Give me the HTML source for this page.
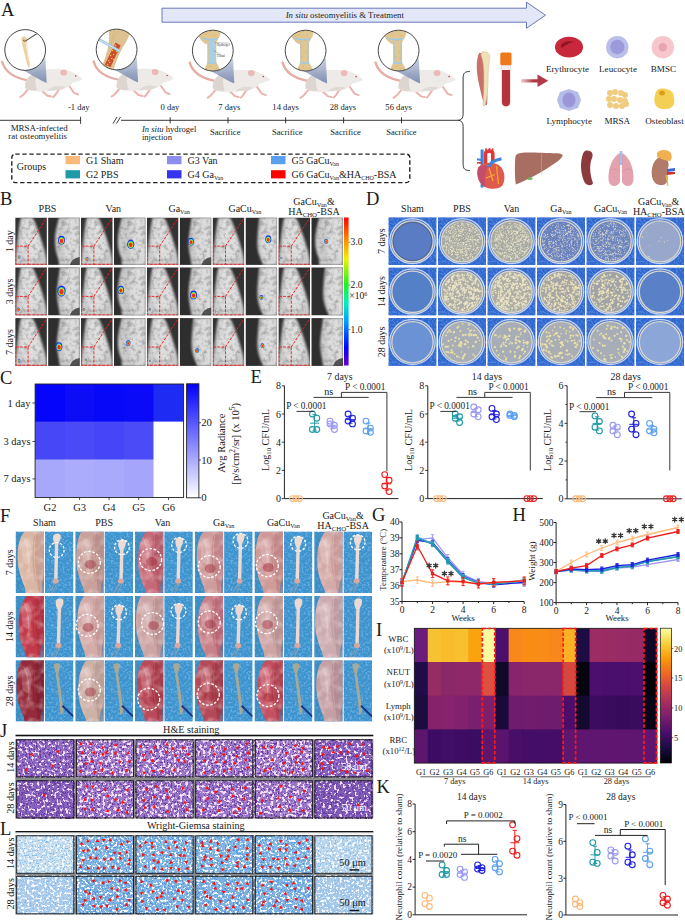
<!DOCTYPE html>
<html><head><meta charset="utf-8"><style>
html,body{margin:0;padding:0;background:#fff;width:685px;height:920px;overflow:hidden}
svg{display:block}
text{font-family:"Liberation Serif",serif;fill:#1a1a1a}
</style></head><body>
<svg width="685" height="920" viewBox="0 0 685 920">
<defs><clipPath id="ratclip"><circle cx="0" cy="0" r="20.2"/></clipPath><linearGradient id="coneG" x1="0" y1="0" x2="0" y2="1"><stop offset="0" stop-color="#c4cde0" stop-opacity="0.9"/><stop offset="1" stop-color="#7486ac" stop-opacity="0.9"/></linearGradient></defs><text x="1" y="15.5" font-size="18.5">A</text><path d="M162,8.2 L526.5,8.2 L526.5,2.2 L545.5,15.2 L526.5,28.3 L526.5,22.2 L162,22.2 Z" fill="#e3e8f8" stroke="#5a6bb0" stroke-width="0.9"/><text x="344.8" y="17.7" font-size="8.8" text-anchor="middle"><tspan font-style="italic">In situ</tspan> osteomyelitis &amp; Treatment</text><g transform="translate(25.2,50)"><path d="M-23,12 C-20,22 -12,28 6,31" fill="none" stroke="#e6aca6" stroke-width="2.4" stroke-linecap="round"/><g fill="none" stroke="#ebb4ae" stroke-width="2" stroke-linecap="round"><path d="M3,39 L-2,45 L-5,47"/><path d="M16,40 L22,45.5 L26,46.5"/><path d="M34,39 L30,45 L28,47"/><path d="M44,36 L49,43 L53,44.5"/></g><path d="M0,38 C-1,30 6,22 18,20 C26,18.5 33,19 39,20 C45,20.5 51,23.5 55,27 L57.5,29.5 C54.5,31 50.5,32 47,33 C44,37 40,39 34,40 L22,41 C13,42 5,42 0,38 Z" fill="#edeae7"/><path d="M0,38 C-1,30 5,23 14,21 C10,26 9,32 12,40 C7,41 3,40.5 0,38Z" fill="#ddd6d0"/><path d="M22,41 C26,36 34,35 40,37 C38,39 36,40 34,40Z" fill="#e0dad4"/><ellipse cx="38.5" cy="22.5" rx="3.4" ry="3.1" fill="#ecbab6"/><circle cx="50.5" cy="26" r="0.8" fill="#c04050"/><path d="M-3,19.8 L20.2,7.5 L21.5,33 L17,31 Z" fill="url(#coneG)"/><circle cx="0" cy="0" r="20.4" fill="#fff"/><g clip-path="url(#ratclip)"><path d="M-3.6,-12 C-1.5,-14.2 1.2,-13.4 1.2,-11 C1.2,-6 2.2,2 3.2,8 C4.2,12 4.6,15 3.6,17.2 C2.4,15 1,10 0,5 C-1.4,-1 -3,-6 -3.6,-12Z" fill="#ebd3a2" stroke="#d8b880" stroke-width="0.4"/><path d="M0.4,-9 C1.6,-4 2.4,4 3.2,11" stroke="#fff6e0" stroke-width="0.6" fill="none"/><circle cx="-1.4" cy="-9.6" r="0.9" fill="#e05050"/><path d="M11.5,-16.2 L-0.6,-8.4" stroke="#555" stroke-width="1.1"/></g><circle cx="0" cy="0" r="20.4" fill="none" stroke="#333" stroke-width="0.9"/></g><g transform="translate(116.6,49.5)"><path d="M-23,12 C-20,22 -12,28 6,31" fill="none" stroke="#e6aca6" stroke-width="2.4" stroke-linecap="round"/><g fill="none" stroke="#ebb4ae" stroke-width="2" stroke-linecap="round"><path d="M3,39 L-2,45 L-5,47"/><path d="M16,40 L22,45.5 L26,46.5"/><path d="M34,39 L30,45 L28,47"/><path d="M44,36 L49,43 L53,44.5"/></g><path d="M0,38 C-1,30 6,22 18,20 C26,18.5 33,19 39,20 C45,20.5 51,23.5 55,27 L57.5,29.5 C54.5,31 50.5,32 47,33 C44,37 40,39 34,40 L22,41 C13,42 5,42 0,38 Z" fill="#edeae7"/><path d="M0,38 C-1,30 5,23 14,21 C10,26 9,32 12,40 C7,41 3,40.5 0,38Z" fill="#ddd6d0"/><path d="M22,41 C26,36 34,35 40,37 C38,39 36,40 34,40Z" fill="#e0dad4"/><ellipse cx="38.5" cy="22.5" rx="3.4" ry="3.1" fill="#ecbab6"/><circle cx="50.5" cy="26" r="0.8" fill="#c04050"/><path d="M-3,19.8 L20.2,7.5 L21.5,33 L17,31 Z" fill="url(#coneG)"/><circle cx="0" cy="0" r="20.4" fill="#fff"/><g clip-path="url(#ratclip)"><path d="M-8,-22 L14,-22 C14,-14 10,-8 6,-2 C3,4 0,10 -3,20 L-15,18 C-12,10 -9,2 -8,-6 C-7,-12 -8,-17 -8,-22 Z" fill="#dcc290"/><path d="M-4,-8 C-2,-14 2,-18 6,-21 M-6,-2 C-5,-10 -3,-16 -2,-21" stroke="#c8a870" stroke-width="0.4" fill="none"/><path d="M-1,-7 L4,-4 L-6,17.5 L-12,15.5 Z" fill="#cc4c2c"/><circle cx="-2" cy="-2" r="0.75" fill="#f2c640"/><circle cx="0" cy="2" r="0.75" fill="#f2c640"/><circle cx="-3" cy="5" r="0.75" fill="#f2c640"/><circle cx="-5" cy="9" r="0.75" fill="#f2c640"/><circle cx="-4" cy="1" r="0.75" fill="#f2c640"/><circle cx="-7" cy="13" r="0.75" fill="#f2c640"/><circle cx="-8" cy="11" r="0.75" fill="#f2c640"/><circle cx="-6" cy="6" r="0.75" fill="#f2c640"/><circle cx="-1" cy="-4" r="0.75" fill="#f2c640"/><circle cx="-9" cy="15" r="0.75" fill="#f2c640"/><circle cx="-3" cy="10" r="0.75" fill="#f2c640"/><path d="M-21,-12 L3,1.5" stroke="#9cc4e0" stroke-width="2.6"/><path d="M-21,-12 L3,1.5" stroke="#e8f4fc" stroke-width="0.8"/></g><circle cx="0" cy="0" r="20.4" fill="none" stroke="#333" stroke-width="0.9"/></g><g transform="translate(212.8,50.6)"><path d="M-23,12 C-20,22 -12,28 6,31" fill="none" stroke="#e6aca6" stroke-width="2.4" stroke-linecap="round"/><g fill="none" stroke="#ebb4ae" stroke-width="2" stroke-linecap="round"><path d="M3,39 L-2,45 L-5,47"/><path d="M16,40 L22,45.5 L26,46.5"/><path d="M34,39 L30,45 L28,47"/><path d="M44,36 L49,43 L53,44.5"/></g><path d="M0,38 C-1,30 6,22 18,20 C26,18.5 33,19 39,20 C45,20.5 51,23.5 55,27 L57.5,29.5 C54.5,31 50.5,32 47,33 C44,37 40,39 34,40 L22,41 C13,42 5,42 0,38 Z" fill="#edeae7"/><path d="M0,38 C-1,30 5,23 14,21 C10,26 9,32 12,40 C7,41 3,40.5 0,38Z" fill="#ddd6d0"/><path d="M22,41 C26,36 34,35 40,37 C38,39 36,40 34,40Z" fill="#e0dad4"/><ellipse cx="38.5" cy="22.5" rx="3.4" ry="3.1" fill="#ecbab6"/><circle cx="50.5" cy="26" r="0.8" fill="#c04050"/><path d="M-3,19.8 L20.2,7.5 L21.5,33 L17,31 Z" fill="url(#coneG)"/><circle cx="0" cy="0" r="20.4" fill="#fff"/><g clip-path="url(#ratclip)"><g transform="translate(3.5,0)"><path d="M-19,-22 L5,-22 C5,-16 2,-12 0,-8 L0,12 C2,15 4,18 4,22 L-12,22 C-12,18 -10,15 -9,12 L-9,-6 C-14,-8 -19,-13 -19,-22 Z" fill="#e2c690"/><g fill="#c8a868"><circle cx="-14" cy="-18" r="0.5"/><circle cx="-10" cy="-16" r="0.5"/><circle cx="-6" cy="-19" r="0.5"/><circle cx="-2" cy="-15" r="0.5"/><circle cx="-12" cy="-12" r="0.5"/><circle cx="-4" cy="-10" r="0.5"/><circle cx="-8" cy="-3" r="0.5"/><circle cx="-3" cy="2" r="0.5"/><circle cx="-7" cy="6" r="0.5"/><circle cx="-2" cy="8" r="0.5"/><circle cx="-6" cy="16" r="0.5"/><circle cx="-10" cy="18" r="0.5"/><circle cx="0" cy="18" r="0.5"/></g><path d="M-15,-13 C-10,-10 -5,-11 1,-12" stroke="#9ccbe6" stroke-width="1.6" fill="none"/><path d="M-9,12 C-6,13 -3,13 0,12" stroke="#9ccbe6" stroke-width="1.6" fill="none"/><path d="M-8,-10 L-1,-10 L-1,12 L-8,12 Z" fill="#a6d0ea"/><path d="M-8,-10 L-8,12 M-1,-10 L-1,12" stroke="#f0c060" stroke-width="0.5"/></g><text x="4" y="-5" font-size="3.4" style="fill:#333">Hydrogel</text><text x="4" y="6" font-size="3.4" style="fill:#333">Tibial</text><path d="M2,-8 L16,-7.5 M1,0 L8,4" stroke="#444" stroke-width="0.3"/></g><circle cx="0" cy="0" r="20.4" fill="none" stroke="#333" stroke-width="0.9"/></g><g transform="translate(305.6,50.6)"><path d="M-23,12 C-20,22 -12,28 6,31" fill="none" stroke="#e6aca6" stroke-width="2.4" stroke-linecap="round"/><g fill="none" stroke="#ebb4ae" stroke-width="2" stroke-linecap="round"><path d="M3,39 L-2,45 L-5,47"/><path d="M16,40 L22,45.5 L26,46.5"/><path d="M34,39 L30,45 L28,47"/><path d="M44,36 L49,43 L53,44.5"/></g><path d="M0,38 C-1,30 6,22 18,20 C26,18.5 33,19 39,20 C45,20.5 51,23.5 55,27 L57.5,29.5 C54.5,31 50.5,32 47,33 C44,37 40,39 34,40 L22,41 C13,42 5,42 0,38 Z" fill="#edeae7"/><path d="M0,38 C-1,30 5,23 14,21 C10,26 9,32 12,40 C7,41 3,40.5 0,38Z" fill="#ddd6d0"/><path d="M22,41 C26,36 34,35 40,37 C38,39 36,40 34,40Z" fill="#e0dad4"/><ellipse cx="38.5" cy="22.5" rx="3.4" ry="3.1" fill="#ecbab6"/><circle cx="50.5" cy="26" r="0.8" fill="#c04050"/><path d="M-3,19.8 L20.2,7.5 L21.5,33 L17,31 Z" fill="url(#coneG)"/><circle cx="0" cy="0" r="20.4" fill="#fff"/><g clip-path="url(#ratclip)"><g transform="translate(3.5,0)"><path d="M-19,-22 L5,-22 C5,-16 2,-12 0,-8 L0,12 C2,15 4,18 4,22 L-12,22 C-12,18 -10,15 -9,12 L-9,-6 C-14,-8 -19,-13 -19,-22 Z" fill="#e2c690"/><g fill="#c8a868"><circle cx="-14" cy="-18" r="0.5"/><circle cx="-10" cy="-16" r="0.5"/><circle cx="-6" cy="-19" r="0.5"/><circle cx="-2" cy="-15" r="0.5"/><circle cx="-12" cy="-12" r="0.5"/><circle cx="-4" cy="-10" r="0.5"/><circle cx="-8" cy="-3" r="0.5"/><circle cx="-3" cy="2" r="0.5"/><circle cx="-7" cy="6" r="0.5"/><circle cx="-2" cy="8" r="0.5"/><circle cx="-6" cy="16" r="0.5"/><circle cx="-10" cy="18" r="0.5"/><circle cx="0" cy="18" r="0.5"/></g><path d="M-15,-13 C-10,-10 -5,-11 1,-12" stroke="#9ccbe6" stroke-width="1.6" fill="none"/><path d="M-9,12 C-6,13 -3,13 0,12" stroke="#9ccbe6" stroke-width="1.6" fill="none"/><path d="M-8,-10 L-8,12 M-1,-10 L-1,12" stroke="#9ccbe6" stroke-width="0.9"/></g></g><circle cx="0" cy="0" r="20.4" fill="none" stroke="#333" stroke-width="0.9"/></g><g transform="translate(398.6,50.6)"><path d="M-23,12 C-20,22 -12,28 6,31" fill="none" stroke="#e6aca6" stroke-width="2.4" stroke-linecap="round"/><g fill="none" stroke="#ebb4ae" stroke-width="2" stroke-linecap="round"><path d="M3,39 L-2,45 L-5,47"/><path d="M16,40 L22,45.5 L26,46.5"/><path d="M34,39 L30,45 L28,47"/><path d="M44,36 L49,43 L53,44.5"/></g><path d="M0,38 C-1,30 6,22 18,20 C26,18.5 33,19 39,20 C45,20.5 51,23.5 55,27 L57.5,29.5 C54.5,31 50.5,32 47,33 C44,37 40,39 34,40 L22,41 C13,42 5,42 0,38 Z" fill="#edeae7"/><path d="M0,38 C-1,30 5,23 14,21 C10,26 9,32 12,40 C7,41 3,40.5 0,38Z" fill="#ddd6d0"/><path d="M22,41 C26,36 34,35 40,37 C38,39 36,40 34,40Z" fill="#e0dad4"/><ellipse cx="38.5" cy="22.5" rx="3.4" ry="3.1" fill="#ecbab6"/><circle cx="50.5" cy="26" r="0.8" fill="#c04050"/><path d="M-3,19.8 L20.2,7.5 L21.5,33 L17,31 Z" fill="url(#coneG)"/><circle cx="0" cy="0" r="20.4" fill="#fff"/><g clip-path="url(#ratclip)"><g transform="translate(3.5,0)"><path d="M-19,-22 L5,-22 C5,-16 2,-12 0,-8 L0,12 C2,15 4,18 4,22 L-12,22 C-12,18 -10,15 -9,12 L-9,-6 C-14,-8 -19,-13 -19,-22 Z" fill="#e2c690"/><g fill="#c8a868"><circle cx="-14" cy="-18" r="0.5"/><circle cx="-10" cy="-16" r="0.5"/><circle cx="-6" cy="-19" r="0.5"/><circle cx="-2" cy="-15" r="0.5"/><circle cx="-12" cy="-12" r="0.5"/><circle cx="-4" cy="-10" r="0.5"/><circle cx="-8" cy="-3" r="0.5"/><circle cx="-3" cy="2" r="0.5"/><circle cx="-7" cy="6" r="0.5"/><circle cx="-2" cy="8" r="0.5"/><circle cx="-6" cy="16" r="0.5"/><circle cx="-10" cy="18" r="0.5"/><circle cx="0" cy="18" r="0.5"/></g><path d="M-15,-13 C-10,-10 -5,-11 1,-12" stroke="#9ccbe6" stroke-width="1.6" fill="none"/><path d="M-9,12 C-6,13 -3,13 0,12" stroke="#9ccbe6" stroke-width="1.6" fill="none"/><path d="M-8,-10 L-8,12 M-1,-10 L-1,12" stroke="#9ccbe6" stroke-width="0.9"/></g></g><circle cx="0" cy="0" r="20.4" fill="none" stroke="#333" stroke-width="0.9"/></g><g stroke="#222" stroke-width="0.9" fill="none"><path d="M0,120.3 L80.6,120.3 M80.6,116.8 L80.6,123.8"/><path d="M121,120.3 L457.5,120.3"/><path d="M113,123.5 L117,117 M116.5,123.5 L120.5,117"/><path d="M170.2,117.3 L170.2,123.3"/><path d="M228,117.3 L228,123.3"/><path d="M285.6,117.3 L285.6,123.3"/><path d="M343.6,117.3 L343.6,123.3"/><path d="M401.5,117.3 L401.5,123.3"/><path d="M469.8,71.5 C465,71.5 463.1,73 463.1,78 L463.1,114 C463.1,118.5 461,120.3 457.5,120.3 C461,120.3 463.1,122 463.1,126.5 L463.1,164 C463.1,169 465,170.5 469.8,170.5"/></g><text x="78.8" y="110" font-size="8.6" text-anchor="middle">-1 day</text><text x="170" y="109.9" font-size="8.6" text-anchor="middle">0 day</text><text x="229.3" y="109.9" font-size="8.6" text-anchor="middle">7 days</text><text x="285.6" y="109.9" font-size="8.6" text-anchor="middle">14 days</text><text x="342.9" y="109.9" font-size="8.6" text-anchor="middle">28 days</text><text x="398.6" y="109.9" font-size="8.6" text-anchor="middle">56 days</text><text x="225.2" y="134.7" font-size="8.6" text-anchor="middle">Sacrifice</text><text x="287.3" y="134.7" font-size="8.6" text-anchor="middle">Sacrifice</text><text x="345.6" y="134.7" font-size="8.6" text-anchor="middle">Sacrifice</text><text x="401.4" y="134.7" font-size="8.6" text-anchor="middle">Sacrifice</text><text x="39.2" y="131.1" font-size="8.95" text-anchor="middle">MRSA-infected</text><text x="37.7" y="139.4" font-size="8.85" text-anchor="middle">rat osteomyelitis</text><text x="141.9" y="132.3" font-size="8.6"><tspan font-style="italic">In situ</tspan> hydrogel</text><text x="141.9" y="139.9" font-size="8.6" text-anchor="start">injection</text><rect x="11.8" y="154.1" width="398" height="28.5" rx="3.5" fill="none" stroke="#222" stroke-width="1.4" stroke-dasharray="4.4,2.6"/><text x="16.8" y="170.2" font-size="10" text-anchor="start">Groups</text><rect x="65.5" y="156" width="14.5" height="8.2" fill="#fdb97a"/><text x="86.0" y="164" font-size="10">G1 Sham</text><rect x="65.5" y="170.2" width="14.5" height="8.2" fill="#1f9aa6"/><text x="86.0" y="178.2" font-size="10">G2 PBS</text><rect x="167" y="156" width="14.5" height="8.2" fill="#8c8cf0"/><text x="187.5" y="164" font-size="10">G3 Van</text><rect x="167" y="170.2" width="14.5" height="8.2" fill="#3434f2"/><text x="187.5" y="178.2" font-size="10">G4 Ga<tspan font-size="6" dy="1.8">Van</tspan></text><rect x="271" y="156" width="14.5" height="8.2" fill="#5aa0f0"/><text x="291.5" y="164" font-size="10">G5 GaCu<tspan font-size="6" dy="1.8">Van</tspan></text><rect x="271" y="170.2" width="14.5" height="8.2" fill="#ff0000"/><text x="291.5" y="178.2" font-size="10">G6 GaCu<tspan font-size="6" dy="1.8">Van</tspan><tspan dy="-1.8">&amp;HA</tspan><tspan font-size="6" dy="1.8">CHO</tspan><tspan dy="-1.8">-BSA</tspan></text><path d="M479,53 C476,60 476,72 479,84 C481,94 483,100 484,105 L487,105 C488,96 487,86 486,76 C485,66 484,58 482,53 Z" fill="#c9706a"/><path d="M482,52 C486,51 490,53 490,57 C489,62 488,70 488,80 C488,90 487,98 485,105.5 L483,105.5 C484,96 484,86 484,76 C484,66 483,60 481,55 Z" fill="#efe0b8" stroke="#d8c290" stroke-width="0.6"/><rect x="500.3" y="52.6" width="11.2" height="12.8" rx="1.5" fill="#f07a1a"/><path d="M501.3,65.4 L510.8,65.4 L510.8,102 C510.8,105.5 508.6,107 506,107 C503.4,107 501.3,105.5 501.3,102 Z" fill="#f4eeee" stroke="#ccc" stroke-width="0.4"/><path d="M502,70 L510,70 L510,102 C510,105 508.3,106.2 506,106.2 C503.7,106.2 502,105 502,102 Z" fill="#b5343c"/><defs><linearGradient id="arrG" x1="0" y1="0" x2="1" y2="0"><stop offset="0" stop-color="#b23a48" stop-opacity="0.25"/><stop offset="0.45" stop-color="#b23a48"/><stop offset="1" stop-color="#b23a48"/></linearGradient></defs><path d="M521,79.2 L537.5,79.2 L537.5,74.5 L548.2,80.8 L537.5,87.1 L537.5,82.4 L521,82.4 Z" fill="url(#arrG)"/><ellipse cx="569" cy="47.2" rx="14" ry="10.4" fill="#c8283c"/><path d="M561,48 C560,42 568,40 574,42 C568,43 565,46 561,48Z" fill="#8e1426"/><circle cx="617.3" cy="47.2" r="11.2" fill="#b9bfea"/><circle cx="617.3" cy="47" r="7.2" fill="#9c9ada"/><circle cx="662.8" cy="47.2" r="11.2" fill="#f6c6cc"/><circle cx="662.8" cy="47.2" r="4.2" fill="#eaa4ae"/><path d="M569,89 L578,92 L581,100 L578,108 L569,111 L560,108 L557,100 L560,92 Z" fill="#b4bce8"/><ellipse cx="569" cy="100" rx="6.5" ry="7.5" fill="#9a96d8"/><g fill="#f0cc80"><circle cx="610" cy="93" r="3"/><circle cx="615" cy="92" r="3"/><circle cx="621" cy="93" r="3"/><circle cx="625" cy="95" r="3"/><circle cx="609" cy="99" r="3"/><circle cx="614" cy="99" r="3"/><circle cx="620" cy="100" r="3"/><circle cx="625" cy="101" r="3"/><circle cx="610" cy="105" r="3"/><circle cx="616" cy="106" r="3"/><circle cx="622" cy="106" r="3"/><circle cx="626" cy="104" r="3"/></g><path d="M657,90 C662,87 670,89 673,93 C674,98 676,103 672,107 C668,110 661,110 657,107 C653,103 654,95 657,90Z" fill="#f3cf54"/><ellipse cx="662" cy="93" rx="3" ry="2.5" fill="#d9a020"/><text x="567.5" y="72" font-size="9.1" text-anchor="middle">Erythrocyte</text><text x="618" y="72" font-size="9.1" text-anchor="middle">Leucocyte</text><text x="663.4" y="72" font-size="9.1" text-anchor="middle">BMSC</text><text x="569.2" y="123.7" font-size="9.1" text-anchor="middle">Lymphocyte</text><text x="617.3" y="123.7" font-size="9.1" text-anchor="middle">MRSA</text><text x="664.5" y="123.7" font-size="9.1" text-anchor="middle">Osteoblast</text><rect x="480.6" y="149.5" width="3" height="18" fill="#3a86dc"/><rect x="480.6" y="175" width="3" height="12.5" fill="#3a86dc"/><path d="M477,159.2 L483,160.2" stroke="#3a86dc" stroke-width="2"/><path d="M477,163 L482,162.6" stroke="#d83a3a" stroke-width="1.6"/><path d="M486,151 L486,148.2 M489.2,150.5 L489.6,148 M492.2,151 L493,148.6" stroke="#e03838" stroke-width="1.6"/><path d="M485.5,166 L485.5,154 C485.5,150.5 492.5,150 492.8,153.5 L492.8,162" stroke="#e03838" stroke-width="3.6" fill="none"/><path d="M478,168 C476,176 479,184 486,187.5 C491,189.5 499,189.5 502.5,185.5 C505.5,180 505,172 501,167 C497,163 490,162 485,163.5 C481,164.5 479,166 478,168 Z" fill="#de5a4c"/><path d="M478,168 C476,176 479,184 486,187.5 C484,181 484,173 488,166 C484,164.5 480,166 478,168Z" fill="#c44c6c"/><path d="M489,168 L493,181 M496.5,166 L498.5,184 M486,178 L495,174.5" stroke="#f0aa30" stroke-width="1.3" fill="none"/><path d="M489,167 C490,162 495,160 501.5,158.8" stroke="#3a86dc" stroke-width="3" fill="none"/><path d="M515.3,157 C515.5,153.5 520,152.4 528,152.4 C536,152.4 548,153 556,153.2 C560,153.2 562.7,154 562.7,156 C561,159 557,162 553,164.5 C545,170 537,175 528,179 C523,181.5 519,183.5 515.8,184.5 C514.6,176 514.8,165 515.3,157 Z" fill="#a96e62"/><path d="M541.5,153.9 C541.5,160 541.2,168 541.8,175" stroke="#d8b090" stroke-width="0.5" fill="none"/><ellipse cx="530" cy="178.5" rx="2.6" ry="1.6" fill="#6db060"/><path d="M586,150.5 C591,150 594,153 592,158 C589,165 590,175 593,183 C592,186 588,186 585,183 C581,176 580,165 582,157 C583,153 584,151 586,150.5Z" fill="#8b3a3e"/><path d="M619.5,153 C613,157 609,166 608.5,176 C608,182 610,186 614,186 C617,186 619,184 620,182 L620.3,156Z" fill="#e3a2ae"/><path d="M622.5,153 C629,157 633,166 633.5,176 C634,182 632,186 628,186 C625,186 623,184 622,182 L621.7,156Z" fill="#e3a2ae"/><path d="M610,170 C614,168 617,169 620,172 M632,170 C628,168 625,169 622,172" stroke="#c88090" stroke-width="0.4" fill="none"/><rect x="619.8" y="151" width="2.4" height="14" fill="#7c9ee0"/><rect x="620.6" y="151" width="0.8" height="14" fill="#e8eef8"/><path d="M660,157 C652,160 650,172 653,180 C656,186 664,187 667,182 C669,178 666,172 668,168 C670,163 667,156 660,157Z" fill="#b27a68"/><path d="M657,153 C660,149 667,149.5 670,152 C672.5,155 672,159 670,161 C666,161 661,159 657,157Z" fill="#f0b050"/><path d="M667,169 L675,168 L675,171 L667,172Z" fill="#3a6ad0"/><path d="M667,172 L675,172 L675,174 L667,175Z" fill="#d03030"/><path d="M666,175 L668,186" stroke="#e0c040" stroke-width="1.2"/><defs><filter id="blur1" x="-10%" y="-10%" width="120%" height="120%" color-interpolation-filters="sRGB"><feGaussianBlur stdDeviation="0.9" result="b"/><feTurbulence type="fractalNoise" baseFrequency="0.22" numOctaves="3" seed="3" result="n"/><feColorMatrix in="n" type="matrix" values="0 0 0 0 0.45  0 0 0 0 0.45  0 0 0 0 0.45  1.3 0 0 0 -0.58" result="dk"/><feComposite in="dk" in2="b" operator="in" result="d2"/><feMerge><feMergeNode in="b"/><feMergeNode in="d2"/></feMerge></filter><linearGradient id="jet" x1="0" y1="1" x2="0" y2="0"><stop offset="0" stop-color="#6a00c8"/><stop offset="0.12" stop-color="#0000ff"/><stop offset="0.3" stop-color="#00a0ff"/><stop offset="0.42" stop-color="#00f0c0"/><stop offset="0.55" stop-color="#20f020"/><stop offset="0.72" stop-color="#f0f000"/><stop offset="0.86" stop-color="#ff8000"/><stop offset="1" stop-color="#ff0000"/></linearGradient></defs><text x="0" y="205" font-size="18.5">B</text><text x="47.5" y="212" font-size="10" text-anchor="middle">PBS</text><text x="113.3" y="212" font-size="10" text-anchor="middle">Van</text><text x="179.09999999999997" y="212" font-size="10" text-anchor="middle">Ga<tspan font-size="6.2" dy="2">Van</tspan></text><text x="244.89999999999998" y="212" font-size="10" text-anchor="middle">GaCu<tspan font-size="6.2" dy="2">Van</tspan></text><text x="313.99999999999994" y="204.5" font-size="10" text-anchor="middle">GaCu<tspan font-size="6.6" dy="2">Van</tspan><tspan dy="-2">&amp;</tspan></text><text x="313.99999999999994" y="214.6" font-size="10" text-anchor="middle">HA<tspan font-size="6.8" dy="2">CHO</tspan><tspan dy="-2">-BSA</tspan></text><text transform="translate(12.8,241.2) rotate(-90)" font-size="10" text-anchor="middle">1 day</text><text transform="translate(12.8,291.40000000000003) rotate(-90)" font-size="10" text-anchor="middle">3 days</text><text transform="translate(12.8,342.0) rotate(-90)" font-size="10" text-anchor="middle">7 days</text><svg x="15.2" y="217.5" width="31.7" height="47.4" viewBox="0 0 32 48" preserveAspectRatio="none"><rect width="32" height="48" fill="#333"/><g filter="url(#blur1)"><path d="M6,0 C4,6 4,12 3,18 C2,26 1,34 0.5,40 C0,44 0,46 0,48 L32,48 C31.5,44 31,38 29.5,33 C28,27 25,18 22,10 C20,5 19,2 17,0 Z" fill="#cdcdcd"/><path d="M8,1 C7,10 6,20 6,30 C7,38 11,44 16,46 C22,46 26,40 26,32 C25,22 21,10 16,1Z" fill="#dedede"/></g><ellipse cx="4" cy="40" rx="1.2" ry="1.56" fill="#1828e8"/><ellipse cx="4" cy="40.12" rx="0.96" ry="1.26" fill="#20c8a0"/><ellipse cx="4" cy="40.18" rx="0.792" ry="1.032" fill="#e8e020"/><ellipse cx="4" cy="40.24" rx="0.6" ry="0.78" fill="#f03010"/><g fill="none" stroke="#f02020" stroke-width="0.95" stroke-dasharray="2.8,1.4"><rect x="0.6" y="29" width="12.4" height="18.4"/><path d="M13,29 L32,0 M13,47.4 L32,47.4"/></g></svg><svg x="48.099999999999994" y="217.5" width="31.7" height="47.4" viewBox="0 0 32 48" preserveAspectRatio="none"><rect width="32" height="48" fill="#2e2e2e"/><g filter="url(#blur1)"><path d="M11,0 C9,8 7,15 7,22 C7,30 8,36 10,41 C11,44 11,46 11,48 L32,48 L32,0 Z" fill="#cbcbcb"/><path d="M19,0 C16,14 15,26 18,48 L32,48 L32,0Z" fill="#dcdcdc"/></g><path d="M22,48 C23,44 26,41 32,40 L32,48Z" fill="#3a3a3a" opacity="0.85"/><ellipse cx="13.5" cy="23" rx="3.4" ry="4.42" fill="#1828e8"/><ellipse cx="13.5" cy="23.34" rx="2.72" ry="3.57" fill="#20c8a0"/><ellipse cx="13.5" cy="23.51" rx="2.244" ry="2.924" fill="#e8e020"/><ellipse cx="13.5" cy="23.68" rx="1.7" ry="2.21" fill="#f03010"/></svg><svg x="81.0" y="217.5" width="31.7" height="47.4" viewBox="0 0 32 48" preserveAspectRatio="none"><rect width="32" height="48" fill="#333"/><g filter="url(#blur1)"><path d="M6,0 C4,6 4,12 3,18 C2,26 1,34 0.5,40 C0,44 0,46 0,48 L32,48 C31.5,44 31,38 29.5,33 C28,27 25,18 22,10 C20,5 19,2 17,0 Z" fill="#cdcdcd"/><path d="M8,1 C7,10 6,20 6,30 C7,38 11,44 16,46 C22,46 26,40 26,32 C25,22 21,10 16,1Z" fill="#dedede"/></g><ellipse cx="6" cy="42" rx="1.4" ry="1.8199999999999998" fill="#1828e8"/><ellipse cx="6" cy="42.14" rx="1.1199999999999999" ry="1.47" fill="#20c8a0"/><ellipse cx="6" cy="42.21" rx="0.9239999999999999" ry="1.204" fill="#e8e020"/><ellipse cx="6" cy="42.28" rx="0.7" ry="0.9099999999999999" fill="#f03010"/><g fill="none" stroke="#f02020" stroke-width="0.95" stroke-dasharray="2.8,1.4"><rect x="0.6" y="29" width="12.4" height="18.4"/><path d="M13,29 L32,0 M13,47.4 L32,47.4"/></g></svg><svg x="113.89999999999999" y="217.5" width="31.7" height="47.4" viewBox="0 0 32 48" preserveAspectRatio="none"><rect width="32" height="48" fill="#2e2e2e"/><g filter="url(#blur1)"><path d="M8,0 C6,8 4,16 4,24 C4,32 6,38 8,42 C8,45 8,47 8,48 L32,48 L32,0 Z" fill="#cbcbcb"/><path d="M19,0 C16,14 15,26 18,48 L32,48 L32,0Z" fill="#dcdcdc"/></g><ellipse cx="17" cy="27" rx="3.6" ry="4.680000000000001" fill="#1828e8"/><ellipse cx="17" cy="27.36" rx="2.8800000000000003" ry="3.7800000000000002" fill="#20c8a0"/><ellipse cx="17" cy="27.54" rx="2.3760000000000003" ry="3.096" fill="#e8e020"/><ellipse cx="17" cy="27.72" rx="1.8" ry="2.3400000000000003" fill="#f03010"/></svg><svg x="146.79999999999998" y="217.5" width="31.7" height="47.4" viewBox="0 0 32 48" preserveAspectRatio="none"><rect width="32" height="48" fill="#333"/><g filter="url(#blur1)"><path d="M6,0 C4,6 4,12 3,18 C2,26 1,34 0.5,40 C0,44 0,46 0,48 L32,48 C31.5,44 31,38 29.5,33 C28,27 25,18 22,10 C20,5 19,2 17,0 Z" fill="#cdcdcd"/><path d="M8,1 C7,10 6,20 6,30 C7,38 11,44 16,46 C22,46 26,40 26,32 C25,22 21,10 16,1Z" fill="#dedede"/></g><g fill="none" stroke="#f02020" stroke-width="0.95" stroke-dasharray="2.8,1.4"><rect x="0.6" y="29" width="12.4" height="18.4"/><path d="M13,29 L32,0 M13,47.4 L32,47.4"/></g></svg><svg x="179.7" y="217.5" width="31.7" height="47.4" viewBox="0 0 32 48" preserveAspectRatio="none"><rect width="32" height="48" fill="#2e2e2e"/><g filter="url(#blur1)"><path d="M12,0 C11,10 9,18 9,26 C9,34 11,40 12,48 L32,48 L32,0 Z" fill="#cbcbcb"/><path d="M19,0 C16,14 15,26 18,48 L32,48 L32,0Z" fill="#dcdcdc"/></g><path d="M22,48 C23,44 26,41 32,40 L32,48Z" fill="#3a3a3a" opacity="0.85"/><ellipse cx="11.4" cy="24.4" rx="3.0" ry="3.9000000000000004" fill="#1828e8"/><ellipse cx="11.4" cy="24.7" rx="2.4000000000000004" ry="3.1500000000000004" fill="#20c8a0"/><ellipse cx="11.4" cy="24.849999999999998" rx="1.98" ry="2.58" fill="#e8e020"/><ellipse cx="11.4" cy="25.0" rx="1.5" ry="1.9500000000000002" fill="#f03010"/></svg><svg x="212.59999999999997" y="217.5" width="31.7" height="47.4" viewBox="0 0 32 48" preserveAspectRatio="none"><rect width="32" height="48" fill="#333"/><g filter="url(#blur1)"><path d="M6,0 C4,6 4,12 3,18 C2,26 1,34 0.5,40 C0,44 0,46 0,48 L32,48 C31.5,44 31,38 29.5,33 C28,27 25,18 22,10 C20,5 19,2 17,0 Z" fill="#cdcdcd"/><path d="M8,1 C7,10 6,20 6,30 C7,38 11,44 16,46 C22,46 26,40 26,32 C25,22 21,10 16,1Z" fill="#dedede"/></g><g fill="none" stroke="#f02020" stroke-width="0.95" stroke-dasharray="2.8,1.4"><rect x="0.6" y="29" width="12.4" height="18.4"/><path d="M13,29 L32,0 M13,47.4 L32,47.4"/></g></svg><svg x="245.49999999999997" y="217.5" width="31.7" height="47.4" viewBox="0 0 32 48" preserveAspectRatio="none"><rect width="32" height="48" fill="#2e2e2e"/><g filter="url(#blur1)"><path d="M14,0 C13,10 12,18 12,26 C12,34 14,40 18,48 L32,48 L32,0 Z" fill="#cbcbcb"/><path d="M19,0 C16,14 15,26 18,48 L32,48 L32,0Z" fill="#dcdcdc"/></g><ellipse cx="23" cy="22" rx="3.0" ry="3.9000000000000004" fill="#1828e8"/><ellipse cx="23" cy="22.3" rx="2.4000000000000004" ry="3.1500000000000004" fill="#20c8a0"/><ellipse cx="23" cy="22.45" rx="1.98" ry="2.58" fill="#e8e020"/><ellipse cx="23" cy="22.6" rx="1.5" ry="1.9500000000000002" fill="#f03010"/></svg><svg x="278.4" y="217.5" width="31.7" height="47.4" viewBox="0 0 32 48" preserveAspectRatio="none"><rect width="32" height="48" fill="#333"/><g filter="url(#blur1)"><path d="M6,0 C4,6 4,12 3,18 C2,26 1,34 0.5,40 C0,44 0,46 0,48 L32,48 C31.5,44 31,38 29.5,33 C28,27 25,18 22,10 C20,5 19,2 17,0 Z" fill="#cdcdcd"/><path d="M8,1 C7,10 6,20 6,30 C7,38 11,44 16,46 C22,46 26,40 26,32 C25,22 21,10 16,1Z" fill="#dedede"/></g><ellipse cx="3" cy="41" rx="0.8" ry="1.04" fill="#1828e8"/><ellipse cx="3" cy="41.08" rx="0.6400000000000001" ry="0.8400000000000001" fill="#20c8a0"/><ellipse cx="3" cy="41.12" rx="0.528" ry="0.6880000000000001" fill="#e8e020"/><ellipse cx="3" cy="41.16" rx="0.4" ry="0.52" fill="#f03010"/><g fill="none" stroke="#f02020" stroke-width="0.95" stroke-dasharray="2.8,1.4"><rect x="0.6" y="29" width="12.4" height="18.4"/><path d="M13,29 L32,0 M13,47.4 L32,47.4"/></g></svg><svg x="311.29999999999995" y="217.5" width="31.7" height="47.4" viewBox="0 0 32 48" preserveAspectRatio="none"><rect width="32" height="48" fill="#2e2e2e"/><g filter="url(#blur1)"><path d="M8,0 C6,8 4,16 4,24 C4,32 6,38 8,42 C8,45 8,47 8,48 L32,48 L32,0 Z" fill="#cbcbcb"/><path d="M19,0 C16,14 15,26 18,48 L32,48 L32,0Z" fill="#dcdcdc"/></g><ellipse cx="15" cy="24" rx="2.0" ry="2.6" fill="#1828e8"/><ellipse cx="15" cy="24.2" rx="1.6" ry="2.1" fill="#20c8a0"/><ellipse cx="15" cy="24.3" rx="1.32" ry="1.72" fill="#e8e020"/><ellipse cx="15" cy="24.4" rx="1.0" ry="1.3" fill="#f03010"/></svg><svg x="15.2" y="267.3" width="31.7" height="48.2" viewBox="0 0 32 48" preserveAspectRatio="none"><rect width="32" height="48" fill="#333"/><g filter="url(#blur1)"><path d="M6,0 C4,6 4,12 3,18 C2,26 1,34 0.5,40 C0,44 0,46 0,48 L32,48 C31.5,44 31,38 29.5,33 C28,27 25,18 22,10 C20,5 19,2 17,0 Z" fill="#cdcdcd"/><path d="M8,1 C7,10 6,20 6,30 C7,38 11,44 16,46 C22,46 26,40 26,32 C25,22 21,10 16,1Z" fill="#dedede"/></g><ellipse cx="3" cy="42" rx="1.5" ry="1.9500000000000002" fill="#1828e8"/><ellipse cx="3" cy="42.15" rx="1.2000000000000002" ry="1.5750000000000002" fill="#20c8a0"/><ellipse cx="3" cy="42.225" rx="0.99" ry="1.29" fill="#e8e020"/><ellipse cx="3" cy="42.3" rx="0.75" ry="0.9750000000000001" fill="#f03010"/><g fill="none" stroke="#f02020" stroke-width="0.95" stroke-dasharray="2.8,1.4"><rect x="0.6" y="29" width="12.4" height="18.4"/><path d="M13,29 L32,0 M13,47.4 L32,47.4"/></g></svg><svg x="48.099999999999994" y="267.3" width="31.7" height="48.2" viewBox="0 0 32 48" preserveAspectRatio="none"><rect width="32" height="48" fill="#2e2e2e"/><g filter="url(#blur1)"><path d="M12,0 C11,10 9,18 9,26 C9,34 11,40 12,48 L32,48 L32,0 Z" fill="#cbcbcb"/><path d="M19,0 C16,14 15,26 18,48 L32,48 L32,0Z" fill="#dcdcdc"/></g><path d="M22,48 C23,44 26,41 32,40 L32,48Z" fill="#3a3a3a" opacity="0.85"/><ellipse cx="13.5" cy="23.5" rx="4.2" ry="5.460000000000001" fill="#1828e8"/><ellipse cx="13.5" cy="23.92" rx="3.3600000000000003" ry="4.41" fill="#20c8a0"/><ellipse cx="13.5" cy="24.13" rx="2.7720000000000002" ry="3.612" fill="#e8e020"/><ellipse cx="13.5" cy="24.34" rx="2.1" ry="2.7300000000000004" fill="#f03010"/></svg><svg x="81.0" y="267.3" width="31.7" height="48.2" viewBox="0 0 32 48" preserveAspectRatio="none"><rect width="32" height="48" fill="#333"/><g filter="url(#blur1)"><path d="M6,0 C4,6 4,12 3,18 C2,26 1,34 0.5,40 C0,44 0,46 0,48 L32,48 C31.5,44 31,38 29.5,33 C28,27 25,18 22,10 C20,5 19,2 17,0 Z" fill="#cdcdcd"/><path d="M8,1 C7,10 6,20 6,30 C7,38 11,44 16,46 C22,46 26,40 26,32 C25,22 21,10 16,1Z" fill="#dedede"/></g><ellipse cx="3" cy="42" rx="1.2" ry="1.56" fill="#1828e8"/><ellipse cx="3" cy="42.12" rx="0.96" ry="1.26" fill="#20c8a0"/><ellipse cx="3" cy="42.18" rx="0.792" ry="1.032" fill="#e8e020"/><ellipse cx="3" cy="42.24" rx="0.6" ry="0.78" fill="#f03010"/><g fill="none" stroke="#f02020" stroke-width="0.95" stroke-dasharray="2.8,1.4"><rect x="0.6" y="29" width="12.4" height="18.4"/><path d="M13,29 L32,0 M13,47.4 L32,47.4"/></g></svg><svg x="113.89999999999999" y="267.3" width="31.7" height="48.2" viewBox="0 0 32 48" preserveAspectRatio="none"><rect width="32" height="48" fill="#2e2e2e"/><g filter="url(#blur1)"><path d="M8,0 C6,8 4,16 4,24 C4,32 6,38 8,42 C8,45 8,47 8,48 L32,48 L32,0 Z" fill="#cbcbcb"/><path d="M19,0 C16,14 15,26 18,48 L32,48 L32,0Z" fill="#dcdcdc"/></g><ellipse cx="7" cy="22.5" rx="3.2" ry="4.16" fill="#1828e8"/><ellipse cx="7" cy="22.82" rx="2.5600000000000005" ry="3.3600000000000003" fill="#20c8a0"/><ellipse cx="7" cy="22.98" rx="2.112" ry="2.7520000000000002" fill="#e8e020"/><ellipse cx="7" cy="23.14" rx="1.6" ry="2.08" fill="#f03010"/></svg><svg x="146.79999999999998" y="267.3" width="31.7" height="48.2" viewBox="0 0 32 48" preserveAspectRatio="none"><rect width="32" height="48" fill="#333"/><g filter="url(#blur1)"><path d="M6,0 C4,6 4,12 3,18 C2,26 1,34 0.5,40 C0,44 0,46 0,48 L32,48 C31.5,44 31,38 29.5,33 C28,27 25,18 22,10 C20,5 19,2 17,0 Z" fill="#cdcdcd"/><path d="M8,1 C7,10 6,20 6,30 C7,38 11,44 16,46 C22,46 26,40 26,32 C25,22 21,10 16,1Z" fill="#dedede"/></g><ellipse cx="3" cy="42" rx="1.0" ry="1.3" fill="#1828e8"/><ellipse cx="3" cy="42.1" rx="0.8" ry="1.05" fill="#20c8a0"/><ellipse cx="3" cy="42.15" rx="0.66" ry="0.86" fill="#e8e020"/><ellipse cx="3" cy="42.2" rx="0.5" ry="0.65" fill="#f03010"/><g fill="none" stroke="#f02020" stroke-width="0.95" stroke-dasharray="2.8,1.4"><rect x="0.6" y="29" width="12.4" height="18.4"/><path d="M13,29 L32,0 M13,47.4 L32,47.4"/></g></svg><svg x="179.7" y="267.3" width="31.7" height="48.2" viewBox="0 0 32 48" preserveAspectRatio="none"><rect width="32" height="48" fill="#2e2e2e"/><g filter="url(#blur1)"><path d="M12,0 C11,10 9,18 9,26 C9,34 11,40 12,48 L32,48 L32,0 Z" fill="#cbcbcb"/><path d="M19,0 C16,14 15,26 18,48 L32,48 L32,0Z" fill="#dcdcdc"/></g><path d="M22,48 C23,44 26,41 32,40 L32,48Z" fill="#3a3a3a" opacity="0.85"/><ellipse cx="14" cy="27.5" rx="3.4" ry="4.42" fill="#1828e8"/><ellipse cx="14" cy="27.84" rx="2.72" ry="3.57" fill="#20c8a0"/><ellipse cx="14" cy="28.01" rx="2.244" ry="2.924" fill="#e8e020"/><ellipse cx="14" cy="28.18" rx="1.7" ry="2.21" fill="#f03010"/></svg><svg x="212.59999999999997" y="267.3" width="31.7" height="48.2" viewBox="0 0 32 48" preserveAspectRatio="none"><rect width="32" height="48" fill="#333"/><g filter="url(#blur1)"><path d="M6,0 C4,6 4,12 3,18 C2,26 1,34 0.5,40 C0,44 0,46 0,48 L32,48 C31.5,44 31,38 29.5,33 C28,27 25,18 22,10 C20,5 19,2 17,0 Z" fill="#cdcdcd"/><path d="M8,1 C7,10 6,20 6,30 C7,38 11,44 16,46 C22,46 26,40 26,32 C25,22 21,10 16,1Z" fill="#dedede"/></g><ellipse cx="3" cy="44" rx="0.7" ry="0.9099999999999999" fill="#1828e8"/><ellipse cx="3" cy="44.07" rx="0.5599999999999999" ry="0.735" fill="#20c8a0"/><ellipse cx="3" cy="44.105" rx="0.46199999999999997" ry="0.602" fill="#e8e020"/><ellipse cx="3" cy="44.14" rx="0.35" ry="0.45499999999999996" fill="#f03010"/><g fill="none" stroke="#f02020" stroke-width="0.95" stroke-dasharray="2.8,1.4"><rect x="0.6" y="29" width="12.4" height="18.4"/><path d="M13,29 L32,0 M13,47.4 L32,47.4"/></g></svg><svg x="245.49999999999997" y="267.3" width="31.7" height="48.2" viewBox="0 0 32 48" preserveAspectRatio="none"><rect width="32" height="48" fill="#2e2e2e"/><g filter="url(#blur1)"><path d="M14,0 C13,10 12,18 12,26 C12,34 14,40 18,48 L32,48 L32,0 Z" fill="#cbcbcb"/><path d="M19,0 C16,14 15,26 18,48 L32,48 L32,0Z" fill="#dcdcdc"/></g><ellipse cx="16" cy="30" rx="1.8" ry="2.3400000000000003" fill="#1828e8"/><ellipse cx="16" cy="30.18" rx="1.4400000000000002" ry="1.8900000000000001" fill="#20c8a0"/><ellipse cx="16" cy="30.27" rx="1.1880000000000002" ry="1.548" fill="#e8e020"/><ellipse cx="16" cy="30.36" rx="0.9" ry="1.1700000000000002" fill="#f03010"/></svg><svg x="278.4" y="267.3" width="31.7" height="48.2" viewBox="0 0 32 48" preserveAspectRatio="none"><rect width="32" height="48" fill="#333"/><g filter="url(#blur1)"><path d="M6,0 C4,6 4,12 3,18 C2,26 1,34 0.5,40 C0,44 0,46 0,48 L32,48 C31.5,44 31,38 29.5,33 C28,27 25,18 22,10 C20,5 19,2 17,0 Z" fill="#cdcdcd"/><path d="M8,1 C7,10 6,20 6,30 C7,38 11,44 16,46 C22,46 26,40 26,32 C25,22 21,10 16,1Z" fill="#dedede"/></g><g fill="none" stroke="#f02020" stroke-width="0.95" stroke-dasharray="2.8,1.4"><rect x="0.6" y="29" width="12.4" height="18.4"/><path d="M13,29 L32,0 M13,47.4 L32,47.4"/></g></svg><svg x="311.29999999999995" y="267.3" width="31.7" height="48.2" viewBox="0 0 32 48" preserveAspectRatio="none"><rect width="32" height="48" fill="#2e2e2e"/><g filter="url(#blur1)"><path d="M14,0 C13,10 12,18 12,26 C12,34 14,40 18,48 L32,48 L32,0 Z" fill="#cbcbcb"/><path d="M19,0 C16,14 15,26 18,48 L32,48 L32,0Z" fill="#dcdcdc"/></g></svg><svg x="15.2" y="318.1" width="31.7" height="47.8" viewBox="0 0 32 48" preserveAspectRatio="none"><rect width="32" height="48" fill="#333"/><g filter="url(#blur1)"><path d="M6,0 C4,6 4,12 3,18 C2,26 1,34 0.5,40 C0,44 0,46 0,48 L32,48 C31.5,44 31,38 29.5,33 C28,27 25,18 22,10 C20,5 19,2 17,0 Z" fill="#cdcdcd"/><path d="M8,1 C7,10 6,20 6,30 C7,38 11,44 16,46 C22,46 26,40 26,32 C25,22 21,10 16,1Z" fill="#dedede"/></g><ellipse cx="4" cy="43" rx="1.2" ry="1.56" fill="#1828e8"/><ellipse cx="4" cy="43.12" rx="0.96" ry="1.26" fill="#20c8a0"/><ellipse cx="4" cy="43.18" rx="0.792" ry="1.032" fill="#e8e020"/><ellipse cx="4" cy="43.24" rx="0.6" ry="0.78" fill="#f03010"/><g fill="none" stroke="#f02020" stroke-width="0.95" stroke-dasharray="2.8,1.4"><rect x="0.6" y="29" width="12.4" height="18.4"/><path d="M13,29 L32,0 M13,47.4 L32,47.4"/></g></svg><svg x="48.099999999999994" y="318.1" width="31.7" height="47.8" viewBox="0 0 32 48" preserveAspectRatio="none"><rect width="32" height="48" fill="#2e2e2e"/><g filter="url(#blur1)"><path d="M12,0 C11,10 9,18 9,26 C9,34 11,40 12,48 L32,48 L32,0 Z" fill="#cbcbcb"/><path d="M19,0 C16,14 15,26 18,48 L32,48 L32,0Z" fill="#dcdcdc"/></g><path d="M22,48 C23,44 26,41 32,40 L32,48Z" fill="#3a3a3a" opacity="0.85"/><ellipse cx="11" cy="28.6" rx="3.4" ry="4.42" fill="#1828e8"/><ellipse cx="11" cy="28.94" rx="2.72" ry="3.57" fill="#20c8a0"/><ellipse cx="11" cy="29.110000000000003" rx="2.244" ry="2.924" fill="#e8e020"/><ellipse cx="11" cy="29.28" rx="1.7" ry="2.21" fill="#f03010"/></svg><svg x="81.0" y="318.1" width="31.7" height="47.8" viewBox="0 0 32 48" preserveAspectRatio="none"><rect width="32" height="48" fill="#333"/><g filter="url(#blur1)"><path d="M6,0 C4,6 4,12 3,18 C2,26 1,34 0.5,40 C0,44 0,46 0,48 L32,48 C31.5,44 31,38 29.5,33 C28,27 25,18 22,10 C20,5 19,2 17,0 Z" fill="#cdcdcd"/><path d="M8,1 C7,10 6,20 6,30 C7,38 11,44 16,46 C22,46 26,40 26,32 C25,22 21,10 16,1Z" fill="#dedede"/></g><ellipse cx="5" cy="42" rx="1.0" ry="1.3" fill="#1828e8"/><ellipse cx="5" cy="42.1" rx="0.8" ry="1.05" fill="#20c8a0"/><ellipse cx="5" cy="42.15" rx="0.66" ry="0.86" fill="#e8e020"/><ellipse cx="5" cy="42.2" rx="0.5" ry="0.65" fill="#f03010"/><g fill="none" stroke="#f02020" stroke-width="0.95" stroke-dasharray="2.8,1.4"><rect x="0.6" y="29" width="12.4" height="18.4"/><path d="M13,29 L32,0 M13,47.4 L32,47.4"/></g></svg><svg x="113.89999999999999" y="318.1" width="31.7" height="47.8" viewBox="0 0 32 48" preserveAspectRatio="none"><rect width="32" height="48" fill="#2e2e2e"/><g filter="url(#blur1)"><path d="M8,0 C6,8 4,16 4,24 C4,32 6,38 8,42 C8,45 8,47 8,48 L32,48 L32,0 Z" fill="#cbcbcb"/><path d="M19,0 C16,14 15,26 18,48 L32,48 L32,0Z" fill="#dcdcdc"/></g><ellipse cx="14.5" cy="25" rx="2.2" ry="2.8600000000000003" fill="#1828e8"/><ellipse cx="14.5" cy="25.22" rx="1.7600000000000002" ry="2.3100000000000005" fill="#20c8a0"/><ellipse cx="14.5" cy="25.33" rx="1.4520000000000002" ry="1.8920000000000001" fill="#e8e020"/><ellipse cx="14.5" cy="25.44" rx="1.1" ry="1.4300000000000002" fill="#f03010"/></svg><svg x="146.79999999999998" y="318.1" width="31.7" height="47.8" viewBox="0 0 32 48" preserveAspectRatio="none"><rect width="32" height="48" fill="#333"/><g filter="url(#blur1)"><path d="M6,0 C4,6 4,12 3,18 C2,26 1,34 0.5,40 C0,44 0,46 0,48 L32,48 C31.5,44 31,38 29.5,33 C28,27 25,18 22,10 C20,5 19,2 17,0 Z" fill="#cdcdcd"/><path d="M8,1 C7,10 6,20 6,30 C7,38 11,44 16,46 C22,46 26,40 26,32 C25,22 21,10 16,1Z" fill="#dedede"/></g><ellipse cx="3" cy="43" rx="0.8" ry="1.04" fill="#1828e8"/><ellipse cx="3" cy="43.08" rx="0.6400000000000001" ry="0.8400000000000001" fill="#20c8a0"/><ellipse cx="3" cy="43.12" rx="0.528" ry="0.6880000000000001" fill="#e8e020"/><ellipse cx="3" cy="43.16" rx="0.4" ry="0.52" fill="#f03010"/><g fill="none" stroke="#f02020" stroke-width="0.95" stroke-dasharray="2.8,1.4"><rect x="0.6" y="29" width="12.4" height="18.4"/><path d="M13,29 L32,0 M13,47.4 L32,47.4"/></g></svg><svg x="179.7" y="318.1" width="31.7" height="47.8" viewBox="0 0 32 48" preserveAspectRatio="none"><rect width="32" height="48" fill="#2e2e2e"/><g filter="url(#blur1)"><path d="M14,0 C13,10 12,18 12,26 C12,34 14,40 18,48 L32,48 L32,0 Z" fill="#cbcbcb"/><path d="M19,0 C16,14 15,26 18,48 L32,48 L32,0Z" fill="#dcdcdc"/></g><ellipse cx="17.5" cy="32.7" rx="1.8" ry="2.3400000000000003" fill="#1828e8"/><ellipse cx="17.5" cy="32.88" rx="1.4400000000000002" ry="1.8900000000000001" fill="#20c8a0"/><ellipse cx="17.5" cy="32.970000000000006" rx="1.1880000000000002" ry="1.548" fill="#e8e020"/><ellipse cx="17.5" cy="33.06" rx="0.9" ry="1.1700000000000002" fill="#f03010"/></svg><svg x="212.59999999999997" y="318.1" width="31.7" height="47.8" viewBox="0 0 32 48" preserveAspectRatio="none"><rect width="32" height="48" fill="#333"/><g filter="url(#blur1)"><path d="M6,0 C4,6 4,12 3,18 C2,26 1,34 0.5,40 C0,44 0,46 0,48 L32,48 C31.5,44 31,38 29.5,33 C28,27 25,18 22,10 C20,5 19,2 17,0 Z" fill="#cdcdcd"/><path d="M8,1 C7,10 6,20 6,30 C7,38 11,44 16,46 C22,46 26,40 26,32 C25,22 21,10 16,1Z" fill="#dedede"/></g><g fill="none" stroke="#f02020" stroke-width="0.95" stroke-dasharray="2.8,1.4"><rect x="0.6" y="29" width="12.4" height="18.4"/><path d="M13,29 L32,0 M13,47.4 L32,47.4"/></g></svg><svg x="245.49999999999997" y="318.1" width="31.7" height="47.8" viewBox="0 0 32 48" preserveAspectRatio="none"><rect width="32" height="48" fill="#2e2e2e"/><g filter="url(#blur1)"><path d="M14,0 C13,10 12,18 12,26 C12,34 14,40 18,48 L32,48 L32,0 Z" fill="#cbcbcb"/><path d="M19,0 C16,14 15,26 18,48 L32,48 L32,0Z" fill="#dcdcdc"/></g><ellipse cx="17" cy="27.6" rx="1.8" ry="2.3400000000000003" fill="#1828e8"/><ellipse cx="17" cy="27.78" rx="1.4400000000000002" ry="1.8900000000000001" fill="#20c8a0"/><ellipse cx="17" cy="27.87" rx="1.1880000000000002" ry="1.548" fill="#e8e020"/><ellipse cx="17" cy="27.96" rx="0.9" ry="1.1700000000000002" fill="#f03010"/></svg><svg x="278.4" y="318.1" width="31.7" height="47.8" viewBox="0 0 32 48" preserveAspectRatio="none"><rect width="32" height="48" fill="#333"/><g filter="url(#blur1)"><path d="M6,0 C4,6 4,12 3,18 C2,26 1,34 0.5,40 C0,44 0,46 0,48 L32,48 C31.5,44 31,38 29.5,33 C28,27 25,18 22,10 C20,5 19,2 17,0 Z" fill="#cdcdcd"/><path d="M8,1 C7,10 6,20 6,30 C7,38 11,44 16,46 C22,46 26,40 26,32 C25,22 21,10 16,1Z" fill="#dedede"/></g><g fill="none" stroke="#f02020" stroke-width="0.95" stroke-dasharray="2.8,1.4"><rect x="0.6" y="29" width="12.4" height="18.4"/><path d="M13,29 L32,0 M13,47.4 L32,47.4"/></g></svg><svg x="311.29999999999995" y="318.1" width="31.7" height="47.8" viewBox="0 0 32 48" preserveAspectRatio="none"><rect width="32" height="48" fill="#2e2e2e"/><g filter="url(#blur1)"><path d="M12,0 C11,10 9,18 9,26 C9,34 11,40 12,48 L32,48 L32,0 Z" fill="#cbcbcb"/><path d="M19,0 C16,14 15,26 18,48 L32,48 L32,0Z" fill="#dcdcdc"/></g><path d="M22,48 C23,44 26,41 32,40 L32,48Z" fill="#3a3a3a" opacity="0.85"/></svg><rect x="344" y="217.5" width="4.6" height="148" fill="url(#jet)"/><g stroke="#222" stroke-width="0.6"><path d="M348.6,242.1 L350.4,242.1"/><path d="M348.6,285 L350.4,285"/><path d="M348.6,329.6 L350.4,329.6"/></g><text x="350.6" y="245.3" font-size="9.6">3.0</text><text x="350.6" y="288.2" font-size="9.6">2.0</text><text x="349.3" y="299" font-size="9.6">×10<tspan font-size="6" dy="-3.5">6</tspan></text><text x="350.6" y="332.8" font-size="9.6">1.0</text><defs><filter id="bluetexF" x="0" y="0" width="100%" height="100%" color-interpolation-filters="sRGB">
<feTurbulence type="fractalNoise" baseFrequency="0.5" numOctaves="2" seed="2"/>
<feColorMatrix type="matrix" values="0 0 0 0 0.35  0 0 0 0 0.55  0 0 0 0 0.9  2.5 0 0 0 -1.05"/></filter></defs><text x="366" y="205" font-size="18.5">D</text><text x="412.5" y="212" font-size="10" text-anchor="middle">Sham</text><text x="462.0" y="212" font-size="10" text-anchor="middle">PBS</text><text x="511.5" y="212" font-size="10" text-anchor="middle">Van</text><text x="561.0" y="212" font-size="10" text-anchor="middle">Ga<tspan font-size="6.2" dy="2">Van</tspan></text><text x="610.5" y="212" font-size="10" text-anchor="middle">GaCu<tspan font-size="6.2" dy="2">Van</tspan></text><text x="658.7" y="204.5" font-size="10" text-anchor="middle">GaCu<tspan font-size="6.6" dy="2">Van</tspan><tspan dy="-2">&amp;</tspan></text><text x="658.7" y="214.6" font-size="10" text-anchor="middle">HA<tspan font-size="6.8" dy="2">CHO</tspan><tspan dy="-2">-BSA</tspan></text><text transform="translate(385,241.15) rotate(-90)" font-size="10" text-anchor="middle">7 days</text><svg x="388.4" y="217.3" width="48.2" height="47.7" viewBox="0 0 48 48" preserveAspectRatio="none"><rect width="48" height="48" fill="#2f66cc"/><rect width="48" height="48" filter="url(#bluetexF)"/><circle cx="24" cy="24" r="22.6" fill="#7090d4" fill-opacity="0.45" stroke="#d4def4" stroke-width="1.3" stroke-opacity="0.9"/><circle cx="24" cy="24.3" r="20.6" fill="#5a7cc4" fill-opacity="1" stroke="#dcd8c8" stroke-width="1.3"/><circle cx="24" cy="24.3" r="19.2" fill="none" stroke="#5a5a66" stroke-width="0.7"/><g fill=""></g></svg><svg x="437.9" y="217.3" width="48.2" height="47.7" viewBox="0 0 48 48" preserveAspectRatio="none"><rect width="48" height="48" fill="#2f66cc"/><rect width="48" height="48" filter="url(#bluetexF)"/><circle cx="24" cy="24" r="22.6" fill="#7090d4" fill-opacity="0.45" stroke="#d4def4" stroke-width="1.3" stroke-opacity="0.9"/><circle cx="24" cy="24.3" r="20.6" fill="#b0ae9c" fill-opacity="0.9" stroke="#dcd8c8" stroke-width="1.3"/><g fill="#efe8cc"><circle cx="25.1" cy="38.3" r="0.47"/><circle cx="12.1" cy="15.2" r="0.39"/><circle cx="41.3" cy="25.7" r="0.44"/><circle cx="25.9" cy="43.2" r="0.49"/><circle cx="30.8" cy="13.1" r="0.53"/><circle cx="32.9" cy="36.6" r="0.59"/><circle cx="7.8" cy="21.9" r="0.54"/><circle cx="39.2" cy="30.8" r="0.52"/><circle cx="22.9" cy="27.5" r="0.59"/><circle cx="8.1" cy="27.0" r="0.59"/><circle cx="19.9" cy="6.5" r="0.47"/><circle cx="28.0" cy="12.3" r="0.61"/><circle cx="28.3" cy="20.2" r="0.41"/><circle cx="27.8" cy="42.6" r="0.48"/><circle cx="16.7" cy="16.9" r="0.50"/><circle cx="15.5" cy="31.7" r="0.52"/><circle cx="8.4" cy="15.2" r="0.55"/><circle cx="39.9" cy="16.7" r="0.62"/><circle cx="20.4" cy="17.5" r="0.59"/><circle cx="41.6" cy="20.3" r="0.52"/><circle cx="22.0" cy="15.8" r="0.58"/><circle cx="14.9" cy="19.8" r="0.39"/><circle cx="35.5" cy="9.3" r="0.40"/><circle cx="27.8" cy="12.7" r="0.41"/><circle cx="19.5" cy="40.3" r="0.59"/><circle cx="38.3" cy="28.4" r="0.39"/><circle cx="21.8" cy="13.6" r="0.60"/><circle cx="37.4" cy="22.7" r="0.62"/><circle cx="22.1" cy="29.2" r="0.52"/><circle cx="32.3" cy="26.0" r="0.48"/><circle cx="18.2" cy="19.5" r="0.39"/><circle cx="31.2" cy="16.4" r="0.61"/><circle cx="33.3" cy="17.2" r="0.49"/><circle cx="8.9" cy="22.4" r="0.52"/><circle cx="10.1" cy="18.9" r="0.61"/><circle cx="11.5" cy="23.8" r="0.56"/><circle cx="24.8" cy="34.7" r="0.62"/><circle cx="10.1" cy="22.4" r="0.38"/><circle cx="11.5" cy="31.7" r="0.38"/><circle cx="12.7" cy="14.3" r="0.39"/><circle cx="15.0" cy="15.0" r="0.54"/><circle cx="14.4" cy="37.1" r="0.56"/><circle cx="28.6" cy="24.9" r="0.54"/><circle cx="33.3" cy="22.1" r="0.49"/><circle cx="15.0" cy="18.4" r="0.47"/><circle cx="19.6" cy="35.0" r="0.52"/><circle cx="20.4" cy="35.4" r="0.57"/><circle cx="38.1" cy="26.7" r="0.56"/><circle cx="20.7" cy="32.6" r="0.58"/><circle cx="24.6" cy="32.5" r="0.48"/><circle cx="22.1" cy="18.6" r="0.46"/><circle cx="15.3" cy="39.3" r="0.48"/><circle cx="28.8" cy="18.1" r="0.46"/><circle cx="13.5" cy="9.8" r="0.49"/><circle cx="25.0" cy="30.8" r="0.51"/><circle cx="30.2" cy="40.2" r="0.58"/><circle cx="28.1" cy="33.5" r="0.58"/><circle cx="13.3" cy="11.0" r="0.46"/><circle cx="31.0" cy="31.8" r="0.57"/><circle cx="22.5" cy="35.4" r="0.48"/><circle cx="13.4" cy="30.2" r="0.61"/><circle cx="24.7" cy="25.4" r="0.61"/><circle cx="37.8" cy="11.4" r="0.48"/><circle cx="41.4" cy="18.7" r="0.43"/><circle cx="23.5" cy="6.9" r="0.54"/><circle cx="13.9" cy="23.1" r="0.46"/><circle cx="24.7" cy="29.2" r="0.52"/><circle cx="20.1" cy="40.9" r="0.39"/><circle cx="37.0" cy="15.3" r="0.61"/><circle cx="38.3" cy="13.4" r="0.52"/><circle cx="40.3" cy="25.7" r="0.42"/><circle cx="19.2" cy="39.0" r="0.51"/><circle cx="8.2" cy="33.8" r="0.53"/><circle cx="18.8" cy="32.3" r="0.59"/><circle cx="7.4" cy="26.7" r="0.46"/><circle cx="28.5" cy="37.4" r="0.58"/><circle cx="32.0" cy="39.2" r="0.61"/><circle cx="29.9" cy="8.1" r="0.38"/><circle cx="11.8" cy="11.5" r="0.39"/><circle cx="22.7" cy="34.1" r="0.51"/><circle cx="12.4" cy="30.4" r="0.57"/><circle cx="28.4" cy="24.4" r="0.41"/><circle cx="27.5" cy="27.8" r="0.62"/><circle cx="27.4" cy="19.9" r="0.50"/><circle cx="19.7" cy="34.1" r="0.46"/><circle cx="15.2" cy="12.7" r="0.47"/><circle cx="27.9" cy="34.5" r="0.41"/><circle cx="8.9" cy="18.8" r="0.47"/><circle cx="31.0" cy="28.2" r="0.47"/><circle cx="10.7" cy="14.0" r="0.47"/><circle cx="28.7" cy="10.1" r="0.48"/><circle cx="14.7" cy="33.9" r="0.55"/><circle cx="10.1" cy="31.9" r="0.49"/><circle cx="24.4" cy="38.2" r="0.55"/><circle cx="35.2" cy="29.7" r="0.48"/><circle cx="37.4" cy="11.7" r="0.47"/><circle cx="37.5" cy="14.2" r="0.44"/><circle cx="17.5" cy="25.8" r="0.58"/><circle cx="14.6" cy="9.1" r="0.57"/><circle cx="15.9" cy="10.2" r="0.52"/><circle cx="35.6" cy="33.1" r="0.38"/><circle cx="34.4" cy="37.4" r="0.39"/><circle cx="29.0" cy="27.6" r="0.60"/><circle cx="25.3" cy="26.9" r="0.59"/><circle cx="36.6" cy="36.4" r="0.54"/><circle cx="33.6" cy="8.4" r="0.52"/><circle cx="25.1" cy="20.8" r="0.57"/><circle cx="8.0" cy="23.2" r="0.40"/><circle cx="23.9" cy="5.9" r="0.39"/><circle cx="17.6" cy="37.0" r="0.58"/><circle cx="24.4" cy="32.3" r="0.44"/><circle cx="11.7" cy="13.3" r="0.47"/><circle cx="15.9" cy="33.2" r="0.46"/><circle cx="19.2" cy="27.0" r="0.50"/><circle cx="36.0" cy="22.2" r="0.56"/><circle cx="32.4" cy="37.7" r="0.56"/><circle cx="17.7" cy="12.2" r="0.50"/><circle cx="12.8" cy="10.2" r="0.41"/><circle cx="37.5" cy="33.6" r="0.60"/><circle cx="11.4" cy="22.9" r="0.55"/><circle cx="27.8" cy="33.3" r="0.42"/><circle cx="14.8" cy="18.8" r="0.43"/><circle cx="17.3" cy="7.0" r="0.45"/><circle cx="20.6" cy="12.6" r="0.59"/><circle cx="15.5" cy="19.3" r="0.43"/><circle cx="37.0" cy="26.2" r="0.47"/><circle cx="29.4" cy="34.4" r="0.46"/><circle cx="25.1" cy="17.2" r="0.62"/><circle cx="9.4" cy="26.2" r="0.49"/><circle cx="32.7" cy="9.5" r="0.51"/><circle cx="8.0" cy="26.2" r="0.59"/><circle cx="10.8" cy="33.8" r="0.62"/><circle cx="15.1" cy="26.2" r="0.43"/><circle cx="20.8" cy="9.0" r="0.61"/><circle cx="29.7" cy="16.9" r="0.42"/><circle cx="23.6" cy="32.5" r="0.55"/><circle cx="35.4" cy="10.3" r="0.44"/><circle cx="31.0" cy="16.3" r="0.48"/><circle cx="23.3" cy="18.8" r="0.40"/><circle cx="29.2" cy="15.4" r="0.46"/><circle cx="10.3" cy="16.8" r="0.38"/><circle cx="17.6" cy="35.1" r="0.50"/><circle cx="27.6" cy="38.4" r="0.61"/><circle cx="13.1" cy="33.2" r="0.40"/><circle cx="21.6" cy="39.6" r="0.40"/><circle cx="37.7" cy="12.5" r="0.40"/><circle cx="34.8" cy="20.1" r="0.57"/><circle cx="24.5" cy="14.0" r="0.54"/><circle cx="14.3" cy="10.2" r="0.44"/><circle cx="24.5" cy="5.7" r="0.54"/><circle cx="17.8" cy="22.9" r="0.50"/><circle cx="14.4" cy="37.2" r="0.54"/><circle cx="16.6" cy="21.0" r="0.54"/><circle cx="18.5" cy="18.4" r="0.60"/><circle cx="20.3" cy="18.8" r="0.61"/><circle cx="30.9" cy="32.8" r="0.56"/><circle cx="12.4" cy="16.2" r="0.54"/><circle cx="13.8" cy="27.1" r="0.42"/><circle cx="38.6" cy="31.0" r="0.56"/><circle cx="8.3" cy="19.9" r="0.46"/><circle cx="22.8" cy="36.0" r="0.59"/><circle cx="37.0" cy="27.8" r="0.44"/><circle cx="25.3" cy="13.1" r="0.46"/><circle cx="12.5" cy="32.3" r="0.57"/><circle cx="13.5" cy="38.3" r="0.40"/><circle cx="23.2" cy="30.2" r="0.40"/><circle cx="26.9" cy="8.4" r="0.42"/><circle cx="28.6" cy="35.7" r="0.56"/><circle cx="30.6" cy="9.2" r="0.52"/><circle cx="31.3" cy="33.8" r="0.42"/><circle cx="9.9" cy="21.8" r="0.43"/><circle cx="24.0" cy="41.1" r="0.38"/><circle cx="29.9" cy="7.4" r="0.61"/><circle cx="13.5" cy="33.8" r="0.52"/><circle cx="11.5" cy="10.3" r="0.55"/><circle cx="18.6" cy="41.1" r="0.50"/><circle cx="11.0" cy="14.7" r="0.38"/><circle cx="26.0" cy="9.0" r="0.50"/><circle cx="11.2" cy="22.4" r="0.42"/><circle cx="20.4" cy="23.6" r="0.50"/><circle cx="16.3" cy="14.2" r="0.52"/><circle cx="41.4" cy="19.7" r="0.41"/><circle cx="27.9" cy="9.8" r="0.39"/><circle cx="18.2" cy="31.4" r="0.39"/><circle cx="6.2" cy="19.9" r="0.46"/><circle cx="34.9" cy="12.8" r="0.41"/><circle cx="33.3" cy="12.8" r="0.61"/><circle cx="20.5" cy="8.3" r="0.46"/><circle cx="30.4" cy="7.1" r="0.59"/><circle cx="8.7" cy="30.7" r="0.50"/><circle cx="27.0" cy="26.8" r="0.39"/><circle cx="26.3" cy="31.6" r="0.50"/><circle cx="19.6" cy="11.1" r="0.48"/><circle cx="17.8" cy="15.8" r="0.49"/><circle cx="24.5" cy="12.3" r="0.42"/><circle cx="37.0" cy="14.8" r="0.47"/><circle cx="14.5" cy="34.3" r="0.52"/><circle cx="24.2" cy="25.3" r="0.43"/><circle cx="25.5" cy="17.3" r="0.49"/><circle cx="26.9" cy="32.5" r="0.42"/><circle cx="17.6" cy="28.7" r="0.38"/><circle cx="30.0" cy="29.3" r="0.50"/><circle cx="26.6" cy="25.3" r="0.49"/><circle cx="10.7" cy="33.0" r="0.39"/><circle cx="14.2" cy="31.1" r="0.38"/><circle cx="32.7" cy="22.4" r="0.40"/><circle cx="16.4" cy="25.5" r="0.53"/><circle cx="20.2" cy="29.8" r="0.39"/><circle cx="22.6" cy="14.4" r="0.57"/><circle cx="6.1" cy="28.3" r="0.45"/><circle cx="24.0" cy="34.1" r="0.58"/><circle cx="16.3" cy="16.2" r="0.40"/><circle cx="16.3" cy="7.3" r="0.52"/><circle cx="27.3" cy="24.4" r="0.40"/><circle cx="25.7" cy="27.5" r="0.39"/><circle cx="13.8" cy="9.4" r="0.43"/><circle cx="36.9" cy="22.2" r="0.58"/><circle cx="40.0" cy="15.2" r="0.38"/><circle cx="19.0" cy="38.2" r="0.61"/><circle cx="32.8" cy="29.7" r="0.59"/><circle cx="32.9" cy="32.1" r="0.46"/><circle cx="16.2" cy="7.7" r="0.42"/><circle cx="23.0" cy="8.1" r="0.58"/><circle cx="6.8" cy="18.3" r="0.47"/><circle cx="16.2" cy="28.9" r="0.57"/><circle cx="14.2" cy="25.5" r="0.42"/><circle cx="21.3" cy="9.8" r="0.55"/><circle cx="14.0" cy="33.0" r="0.41"/><circle cx="23.3" cy="21.5" r="0.49"/><circle cx="24.8" cy="8.7" r="0.40"/><circle cx="25.4" cy="41.7" r="0.54"/><circle cx="36.8" cy="12.0" r="0.49"/><circle cx="37.0" cy="14.5" r="0.46"/><circle cx="20.5" cy="28.0" r="0.47"/><circle cx="29.9" cy="22.6" r="0.52"/><circle cx="28.2" cy="27.7" r="0.54"/><circle cx="24.2" cy="28.5" r="0.41"/><circle cx="15.1" cy="12.8" r="0.38"/><circle cx="26.4" cy="42.8" r="0.43"/><circle cx="12.6" cy="19.6" r="0.57"/><circle cx="10.6" cy="14.0" r="0.51"/><circle cx="27.0" cy="31.7" r="0.39"/><circle cx="26.9" cy="18.6" r="0.38"/><circle cx="32.3" cy="22.5" r="0.60"/><circle cx="35.1" cy="31.0" r="0.43"/><circle cx="31.1" cy="11.2" r="0.54"/><circle cx="25.3" cy="6.6" r="0.46"/><circle cx="13.9" cy="16.6" r="0.40"/><circle cx="31.5" cy="11.7" r="0.58"/><circle cx="27.8" cy="37.7" r="0.49"/><circle cx="23.3" cy="19.1" r="0.46"/><circle cx="18.9" cy="24.8" r="0.51"/><circle cx="22.9" cy="12.0" r="0.54"/><circle cx="17.1" cy="18.9" r="0.46"/><circle cx="35.0" cy="24.0" r="0.48"/><circle cx="31.7" cy="28.8" r="0.42"/><circle cx="38.7" cy="17.5" r="0.59"/><circle cx="38.8" cy="23.0" r="0.61"/><circle cx="12.0" cy="21.6" r="0.61"/><circle cx="39.2" cy="13.7" r="0.50"/><circle cx="25.8" cy="12.3" r="0.62"/><circle cx="33.0" cy="19.4" r="0.61"/><circle cx="26.4" cy="29.7" r="0.56"/><circle cx="20.2" cy="37.5" r="0.53"/><circle cx="39.9" cy="28.4" r="0.44"/><circle cx="13.8" cy="28.9" r="0.56"/><circle cx="23.8" cy="14.1" r="0.40"/><circle cx="20.3" cy="35.9" r="0.39"/><circle cx="33.5" cy="37.9" r="0.55"/><circle cx="42.6" cy="21.5" r="0.59"/><circle cx="18.7" cy="29.8" r="0.45"/><circle cx="10.6" cy="27.5" r="0.51"/><circle cx="12.8" cy="37.8" r="0.45"/><circle cx="6.6" cy="28.4" r="0.58"/><circle cx="21.3" cy="33.2" r="0.58"/><circle cx="30.9" cy="24.7" r="0.51"/><circle cx="16.5" cy="22.6" r="0.39"/><circle cx="28.8" cy="40.3" r="0.49"/><circle cx="40.7" cy="22.1" r="0.62"/><circle cx="32.0" cy="26.1" r="0.38"/><circle cx="13.9" cy="28.9" r="0.39"/><circle cx="18.4" cy="22.6" r="0.45"/><circle cx="24.3" cy="41.3" r="0.48"/><circle cx="23.7" cy="28.3" r="0.48"/><circle cx="13.1" cy="13.1" r="0.60"/><circle cx="27.4" cy="15.5" r="0.41"/><circle cx="24.9" cy="7.4" r="0.50"/><circle cx="30.9" cy="12.0" r="0.44"/><circle cx="25.2" cy="26.5" r="0.54"/><circle cx="38.4" cy="13.4" r="0.49"/><circle cx="14.7" cy="8.5" r="0.58"/><circle cx="14.2" cy="16.9" r="0.50"/><circle cx="27.9" cy="31.4" r="0.55"/><circle cx="38.0" cy="23.6" r="0.48"/><circle cx="16.3" cy="34.6" r="0.58"/><circle cx="6.2" cy="29.8" r="0.41"/><circle cx="18.6" cy="36.9" r="0.48"/><circle cx="34.3" cy="10.4" r="0.61"/><circle cx="21.5" cy="22.1" r="0.52"/><circle cx="11.4" cy="20.2" r="0.44"/><circle cx="19.4" cy="6.7" r="0.40"/><circle cx="18.3" cy="14.2" r="0.50"/><circle cx="38.8" cy="13.0" r="0.54"/><circle cx="30.2" cy="41.5" r="0.42"/><circle cx="11.2" cy="35.9" r="0.45"/><circle cx="21.6" cy="42.7" r="0.61"/><circle cx="19.1" cy="35.2" r="0.45"/><circle cx="30.4" cy="31.3" r="0.62"/><circle cx="32.0" cy="28.7" r="0.42"/><circle cx="36.1" cy="30.9" r="0.56"/><circle cx="31.9" cy="11.5" r="0.58"/><circle cx="34.1" cy="24.6" r="0.62"/><circle cx="32.9" cy="28.5" r="0.50"/><circle cx="22.4" cy="38.3" r="0.39"/><circle cx="25.6" cy="42.8" r="0.41"/><circle cx="30.6" cy="19.8" r="0.62"/><circle cx="17.0" cy="10.7" r="0.41"/><circle cx="39.6" cy="29.9" r="0.42"/><circle cx="30.4" cy="40.3" r="0.59"/><circle cx="41.8" cy="29.9" r="0.51"/><circle cx="19.4" cy="28.5" r="0.47"/><circle cx="34.0" cy="23.5" r="0.41"/><circle cx="28.1" cy="29.7" r="0.46"/><circle cx="28.5" cy="21.6" r="0.42"/><circle cx="41.6" cy="17.2" r="0.62"/><circle cx="24.3" cy="35.6" r="0.61"/><circle cx="8.1" cy="25.8" r="0.45"/><circle cx="35.1" cy="25.8" r="0.56"/><circle cx="26.9" cy="10.3" r="0.49"/><circle cx="11.7" cy="21.3" r="0.51"/><circle cx="28.2" cy="16.9" r="0.52"/><circle cx="40.0" cy="17.1" r="0.42"/><circle cx="41.0" cy="20.3" r="0.42"/><circle cx="23.1" cy="32.8" r="0.39"/><circle cx="36.0" cy="22.7" r="0.59"/><circle cx="25.7" cy="25.8" r="0.59"/><circle cx="29.2" cy="6.1" r="0.55"/><circle cx="7.6" cy="21.7" r="0.40"/><circle cx="11.8" cy="21.1" r="0.41"/><circle cx="15.3" cy="17.9" r="0.50"/><circle cx="16.5" cy="31.9" r="0.46"/><circle cx="8.9" cy="13.1" r="0.61"/><circle cx="35.2" cy="11.1" r="0.45"/><circle cx="33.8" cy="22.9" r="0.41"/><circle cx="7.7" cy="24.2" r="0.46"/><circle cx="17.8" cy="16.3" r="0.62"/><circle cx="11.4" cy="28.1" r="0.51"/><circle cx="37.3" cy="10.9" r="0.51"/><circle cx="10.1" cy="29.7" r="0.39"/><circle cx="8.4" cy="32.2" r="0.57"/><circle cx="40.4" cy="30.7" r="0.47"/><circle cx="35.4" cy="22.9" r="0.43"/><circle cx="7.0" cy="18.9" r="0.48"/><circle cx="34.8" cy="12.4" r="0.47"/><circle cx="19.8" cy="37.1" r="0.47"/><circle cx="13.3" cy="35.3" r="0.59"/><circle cx="17.7" cy="20.6" r="0.43"/><circle cx="13.7" cy="35.1" r="0.41"/><circle cx="33.4" cy="29.6" r="0.45"/><circle cx="37.7" cy="26.9" r="0.61"/><circle cx="8.1" cy="20.8" r="0.58"/><circle cx="33.5" cy="8.8" r="0.49"/><circle cx="21.3" cy="18.3" r="0.59"/><circle cx="14.6" cy="33.4" r="0.60"/><circle cx="22.1" cy="32.4" r="0.58"/><circle cx="19.5" cy="21.1" r="0.38"/><circle cx="23.0" cy="25.6" r="0.58"/><circle cx="28.0" cy="33.4" r="0.47"/><circle cx="11.5" cy="23.4" r="0.53"/><circle cx="17.3" cy="13.7" r="0.40"/><circle cx="39.7" cy="22.2" r="0.40"/><circle cx="8.6" cy="30.2" r="0.62"/><circle cx="25.7" cy="25.0" r="0.49"/><circle cx="8.1" cy="32.7" r="0.58"/><circle cx="18.0" cy="35.0" r="0.52"/><circle cx="30.4" cy="18.6" r="0.47"/><circle cx="36.9" cy="32.3" r="0.38"/><circle cx="36.6" cy="18.8" r="0.52"/><circle cx="31.9" cy="29.0" r="0.49"/><circle cx="32.7" cy="13.4" r="0.45"/><circle cx="39.4" cy="22.6" r="0.51"/><circle cx="27.1" cy="34.2" r="0.60"/><circle cx="33.3" cy="34.6" r="0.53"/><circle cx="13.8" cy="37.5" r="0.60"/><circle cx="34.2" cy="11.6" r="0.43"/><circle cx="35.6" cy="28.9" r="0.45"/><circle cx="30.1" cy="40.9" r="0.43"/><circle cx="32.1" cy="7.8" r="0.40"/><circle cx="34.3" cy="18.1" r="0.43"/><circle cx="25.4" cy="27.7" r="0.50"/><circle cx="10.9" cy="36.0" r="0.58"/><circle cx="35.3" cy="28.5" r="0.47"/><circle cx="28.2" cy="32.8" r="0.44"/><circle cx="20.2" cy="13.9" r="0.40"/><circle cx="26.3" cy="36.7" r="0.52"/><circle cx="24.5" cy="40.2" r="0.43"/><circle cx="16.9" cy="11.3" r="0.42"/><circle cx="24.1" cy="12.4" r="0.51"/><circle cx="11.7" cy="15.6" r="0.49"/><circle cx="39.8" cy="30.1" r="0.59"/><circle cx="9.6" cy="25.2" r="0.44"/><circle cx="36.6" cy="14.9" r="0.43"/><circle cx="31.8" cy="7.1" r="0.46"/><circle cx="37.2" cy="23.9" r="0.42"/><circle cx="21.7" cy="13.5" r="0.56"/><circle cx="18.6" cy="21.2" r="0.51"/><circle cx="31.8" cy="13.7" r="0.51"/><circle cx="32.3" cy="14.7" r="0.50"/><circle cx="9.0" cy="15.7" r="0.43"/><circle cx="37.8" cy="33.5" r="0.51"/><circle cx="18.2" cy="41.3" r="0.60"/><circle cx="5.7" cy="19.4" r="0.58"/><circle cx="23.9" cy="14.0" r="0.38"/><circle cx="16.9" cy="9.6" r="0.46"/><circle cx="9.8" cy="26.2" r="0.44"/><circle cx="19.4" cy="10.8" r="0.47"/><circle cx="34.9" cy="33.3" r="0.45"/><circle cx="22.8" cy="16.5" r="0.47"/><circle cx="28.0" cy="35.8" r="0.52"/><circle cx="27.5" cy="27.1" r="0.50"/><circle cx="28.0" cy="37.2" r="0.42"/><circle cx="35.2" cy="32.5" r="0.61"/><circle cx="33.2" cy="14.3" r="0.47"/><circle cx="33.1" cy="28.3" r="0.45"/><circle cx="30.1" cy="22.0" r="0.61"/><circle cx="11.6" cy="26.1" r="0.44"/><circle cx="32.0" cy="22.4" r="0.52"/><circle cx="15.5" cy="23.7" r="0.43"/><circle cx="40.8" cy="22.8" r="0.56"/><circle cx="28.9" cy="20.9" r="0.55"/><circle cx="24.0" cy="15.3" r="0.49"/><circle cx="34.7" cy="22.6" r="0.57"/><circle cx="31.9" cy="37.7" r="0.44"/><circle cx="12.4" cy="23.7" r="0.59"/><circle cx="23.6" cy="10.8" r="0.55"/><circle cx="8.7" cy="31.8" r="0.44"/><circle cx="10.0" cy="20.3" r="0.47"/><circle cx="31.5" cy="26.6" r="0.54"/><circle cx="28.0" cy="40.4" r="0.50"/><circle cx="40.7" cy="19.2" r="0.56"/><circle cx="21.2" cy="27.1" r="0.51"/><circle cx="23.5" cy="6.1" r="0.43"/><circle cx="34.2" cy="40.1" r="0.56"/><circle cx="7.7" cy="25.9" r="0.41"/><circle cx="9.1" cy="20.1" r="0.53"/><circle cx="27.7" cy="30.3" r="0.53"/><circle cx="29.3" cy="19.6" r="0.38"/><circle cx="38.6" cy="32.7" r="0.47"/><circle cx="5.8" cy="29.5" r="0.53"/><circle cx="22.7" cy="40.2" r="0.38"/><circle cx="20.9" cy="39.9" r="0.42"/><circle cx="37.4" cy="27.1" r="0.46"/><circle cx="30.0" cy="23.2" r="0.58"/><circle cx="11.0" cy="35.3" r="0.49"/><circle cx="18.6" cy="14.9" r="0.43"/><circle cx="7.8" cy="29.3" r="0.46"/><circle cx="25.5" cy="36.5" r="0.40"/><circle cx="18.2" cy="37.5" r="0.51"/><circle cx="15.6" cy="18.4" r="0.38"/><circle cx="34.9" cy="26.1" r="0.42"/><circle cx="15.1" cy="20.2" r="0.57"/><circle cx="11.6" cy="15.1" r="0.56"/><circle cx="11.7" cy="22.6" r="0.45"/><circle cx="39.6" cy="30.8" r="0.50"/><circle cx="38.8" cy="35.0" r="0.52"/><circle cx="15.0" cy="15.5" r="0.41"/><circle cx="31.8" cy="24.3" r="0.47"/><circle cx="30.6" cy="24.3" r="0.50"/><circle cx="14.6" cy="25.5" r="0.61"/><circle cx="22.2" cy="25.4" r="0.49"/><circle cx="40.0" cy="24.8" r="0.59"/><circle cx="27.4" cy="22.0" r="0.54"/><circle cx="19.6" cy="36.6" r="0.45"/><circle cx="21.7" cy="30.8" r="0.53"/><circle cx="39.8" cy="34.2" r="0.39"/><circle cx="32.1" cy="22.4" r="0.40"/><circle cx="23.5" cy="10.5" r="0.57"/><circle cx="8.9" cy="23.5" r="0.40"/><circle cx="17.7" cy="12.2" r="0.62"/><circle cx="29.0" cy="24.5" r="0.54"/><circle cx="35.0" cy="18.8" r="0.55"/><circle cx="13.0" cy="19.9" r="0.49"/><circle cx="21.4" cy="22.4" r="0.45"/><circle cx="23.3" cy="14.7" r="0.49"/><circle cx="23.5" cy="35.7" r="0.54"/><circle cx="23.3" cy="5.7" r="0.49"/><circle cx="27.2" cy="34.8" r="0.39"/><circle cx="25.0" cy="38.8" r="0.53"/><circle cx="24.4" cy="32.4" r="0.40"/><circle cx="29.8" cy="36.4" r="0.44"/><circle cx="34.6" cy="14.8" r="0.46"/><circle cx="20.6" cy="25.9" r="0.56"/><circle cx="24.1" cy="12.8" r="0.56"/><circle cx="22.7" cy="33.1" r="0.43"/><circle cx="28.9" cy="38.3" r="0.54"/><circle cx="23.1" cy="18.2" r="0.57"/><circle cx="12.4" cy="25.9" r="0.50"/><circle cx="16.2" cy="27.8" r="0.47"/><circle cx="14.2" cy="11.5" r="0.60"/><circle cx="30.1" cy="41.2" r="0.58"/><circle cx="19.7" cy="6.0" r="0.41"/><circle cx="27.0" cy="6.5" r="0.41"/><circle cx="8.7" cy="13.9" r="0.45"/><circle cx="35.1" cy="10.0" r="0.48"/><circle cx="29.4" cy="31.3" r="0.58"/><circle cx="14.6" cy="29.3" r="0.49"/><circle cx="32.6" cy="20.1" r="0.38"/><circle cx="34.2" cy="20.9" r="0.47"/><circle cx="34.0" cy="22.8" r="0.40"/><circle cx="31.1" cy="18.2" r="0.43"/><circle cx="32.4" cy="20.8" r="0.60"/><circle cx="18.8" cy="33.4" r="0.43"/><circle cx="10.3" cy="20.6" r="0.47"/><circle cx="13.6" cy="23.8" r="0.58"/><circle cx="39.1" cy="17.6" r="0.58"/><circle cx="32.6" cy="28.4" r="0.43"/><circle cx="34.5" cy="39.8" r="0.60"/><circle cx="36.2" cy="17.0" r="0.40"/><circle cx="20.0" cy="26.3" r="0.60"/><circle cx="23.0" cy="34.5" r="0.61"/><circle cx="29.6" cy="41.7" r="0.45"/><circle cx="20.8" cy="19.0" r="0.60"/><circle cx="15.0" cy="30.9" r="0.54"/><circle cx="16.1" cy="19.0" r="0.41"/><circle cx="21.3" cy="22.9" r="0.59"/><circle cx="19.7" cy="30.8" r="0.46"/><circle cx="32.1" cy="31.3" r="0.51"/><circle cx="14.8" cy="30.4" r="0.45"/><circle cx="7.3" cy="25.7" r="0.48"/><circle cx="25.5" cy="11.2" r="0.41"/><circle cx="32.4" cy="39.6" r="0.49"/><circle cx="13.9" cy="33.5" r="0.59"/><circle cx="15.9" cy="32.4" r="0.47"/><circle cx="38.0" cy="25.3" r="0.49"/><circle cx="11.2" cy="24.6" r="0.49"/><circle cx="22.2" cy="16.3" r="0.62"/><circle cx="37.3" cy="36.0" r="0.42"/><circle cx="26.7" cy="15.0" r="0.39"/><circle cx="7.2" cy="19.9" r="0.59"/><circle cx="37.5" cy="11.2" r="0.39"/><circle cx="19.5" cy="28.6" r="0.56"/><circle cx="8.4" cy="29.2" r="0.57"/><circle cx="39.6" cy="24.2" r="0.59"/><circle cx="18.9" cy="22.7" r="0.60"/><circle cx="28.7" cy="27.3" r="0.58"/><circle cx="21.0" cy="39.5" r="0.38"/><circle cx="27.9" cy="39.9" r="0.38"/><circle cx="5.6" cy="23.1" r="0.43"/><circle cx="19.4" cy="8.6" r="0.53"/><circle cx="25.6" cy="8.5" r="0.38"/><circle cx="29.0" cy="37.3" r="0.62"/><circle cx="27.0" cy="38.5" r="0.41"/><circle cx="31.2" cy="13.9" r="0.51"/><circle cx="20.6" cy="18.2" r="0.56"/><circle cx="29.4" cy="7.5" r="0.45"/><circle cx="24.8" cy="32.0" r="0.60"/><circle cx="13.0" cy="28.8" r="0.51"/><circle cx="20.6" cy="14.1" r="0.46"/><circle cx="25.7" cy="7.6" r="0.45"/><circle cx="40.4" cy="32.5" r="0.56"/></g></svg><svg x="487.4" y="217.3" width="48.2" height="47.7" viewBox="0 0 48 48" preserveAspectRatio="none"><rect width="48" height="48" fill="#2f66cc"/><rect width="48" height="48" filter="url(#bluetexF)"/><circle cx="24" cy="24" r="22.6" fill="#7090d4" fill-opacity="0.45" stroke="#d4def4" stroke-width="1.3" stroke-opacity="0.9"/><circle cx="24" cy="24.3" r="20.6" fill="#b0ae9c" fill-opacity="0.9" stroke="#dcd8c8" stroke-width="1.3"/><g fill="#efe8cc"><circle cx="14.0" cy="17.6" r="0.61"/><circle cx="16.0" cy="28.0" r="0.40"/><circle cx="15.3" cy="36.2" r="0.47"/><circle cx="38.5" cy="19.3" r="0.49"/><circle cx="16.1" cy="11.8" r="0.53"/><circle cx="10.3" cy="24.7" r="0.50"/><circle cx="28.1" cy="17.0" r="0.57"/><circle cx="18.8" cy="41.0" r="0.39"/><circle cx="11.4" cy="25.5" r="0.55"/><circle cx="26.9" cy="33.6" r="0.41"/><circle cx="10.6" cy="18.9" r="0.38"/><circle cx="27.7" cy="31.9" r="0.61"/><circle cx="10.3" cy="28.3" r="0.45"/><circle cx="14.8" cy="9.9" r="0.54"/><circle cx="36.6" cy="24.4" r="0.50"/><circle cx="40.2" cy="29.0" r="0.45"/><circle cx="20.0" cy="38.8" r="0.52"/><circle cx="6.4" cy="24.7" r="0.50"/><circle cx="21.3" cy="28.3" r="0.51"/><circle cx="14.9" cy="34.8" r="0.46"/><circle cx="27.7" cy="24.5" r="0.41"/><circle cx="38.6" cy="34.1" r="0.52"/><circle cx="25.2" cy="40.3" r="0.53"/><circle cx="39.2" cy="30.6" r="0.43"/><circle cx="31.2" cy="24.2" r="0.45"/><circle cx="24.1" cy="41.9" r="0.58"/><circle cx="17.6" cy="20.8" r="0.48"/><circle cx="22.6" cy="19.9" r="0.61"/><circle cx="34.0" cy="8.9" r="0.55"/><circle cx="10.1" cy="11.7" r="0.44"/><circle cx="21.7" cy="30.6" r="0.42"/><circle cx="25.8" cy="18.7" r="0.56"/><circle cx="9.9" cy="35.1" r="0.56"/><circle cx="17.2" cy="8.2" r="0.39"/><circle cx="22.9" cy="35.8" r="0.48"/><circle cx="15.4" cy="8.7" r="0.56"/><circle cx="38.3" cy="17.4" r="0.46"/><circle cx="7.6" cy="23.5" r="0.58"/><circle cx="16.3" cy="32.6" r="0.53"/><circle cx="26.4" cy="42.0" r="0.38"/><circle cx="16.1" cy="13.7" r="0.42"/><circle cx="12.2" cy="18.7" r="0.62"/><circle cx="34.9" cy="14.6" r="0.59"/><circle cx="29.7" cy="19.1" r="0.58"/><circle cx="33.5" cy="7.9" r="0.56"/><circle cx="17.3" cy="29.7" r="0.54"/><circle cx="28.0" cy="40.3" r="0.52"/><circle cx="29.2" cy="14.2" r="0.45"/><circle cx="36.8" cy="15.6" r="0.47"/><circle cx="12.4" cy="19.6" r="0.54"/><circle cx="13.9" cy="23.2" r="0.62"/><circle cx="36.4" cy="13.4" r="0.44"/><circle cx="29.6" cy="39.6" r="0.58"/><circle cx="19.0" cy="17.1" r="0.56"/><circle cx="12.5" cy="22.6" r="0.52"/><circle cx="9.5" cy="29.1" r="0.56"/><circle cx="30.3" cy="23.6" r="0.52"/><circle cx="38.5" cy="19.1" r="0.52"/><circle cx="26.0" cy="21.6" r="0.57"/><circle cx="13.6" cy="14.1" r="0.45"/><circle cx="19.1" cy="19.7" r="0.51"/><circle cx="23.1" cy="42.6" r="0.58"/><circle cx="7.7" cy="27.1" r="0.47"/><circle cx="16.4" cy="23.2" r="0.59"/><circle cx="25.5" cy="7.8" r="0.40"/><circle cx="24.9" cy="22.4" r="0.52"/><circle cx="19.4" cy="24.7" r="0.48"/><circle cx="35.4" cy="14.5" r="0.45"/><circle cx="28.5" cy="13.9" r="0.60"/><circle cx="19.7" cy="27.4" r="0.62"/><circle cx="32.6" cy="28.4" r="0.57"/><circle cx="34.5" cy="33.6" r="0.59"/><circle cx="14.5" cy="18.3" r="0.56"/><circle cx="30.6" cy="11.4" r="0.53"/><circle cx="18.7" cy="35.2" r="0.62"/><circle cx="24.8" cy="24.2" r="0.42"/><circle cx="26.6" cy="41.0" r="0.43"/><circle cx="32.1" cy="38.8" r="0.42"/><circle cx="36.7" cy="22.5" r="0.60"/><circle cx="27.7" cy="16.5" r="0.57"/><circle cx="16.3" cy="28.9" r="0.39"/><circle cx="19.9" cy="10.7" r="0.45"/><circle cx="28.2" cy="17.0" r="0.49"/><circle cx="33.6" cy="30.2" r="0.60"/><circle cx="16.6" cy="24.3" r="0.43"/><circle cx="17.8" cy="16.4" r="0.60"/><circle cx="40.4" cy="30.9" r="0.53"/><circle cx="29.0" cy="14.1" r="0.39"/><circle cx="31.1" cy="37.6" r="0.38"/><circle cx="36.9" cy="35.0" r="0.59"/><circle cx="34.8" cy="10.6" r="0.51"/><circle cx="35.2" cy="13.1" r="0.51"/><circle cx="21.4" cy="25.6" r="0.40"/><circle cx="24.0" cy="37.2" r="0.41"/><circle cx="38.2" cy="21.6" r="0.56"/><circle cx="31.1" cy="18.7" r="0.60"/><circle cx="33.5" cy="21.7" r="0.41"/><circle cx="29.5" cy="7.3" r="0.57"/><circle cx="11.6" cy="32.3" r="0.40"/><circle cx="25.2" cy="36.5" r="0.56"/><circle cx="39.5" cy="34.0" r="0.38"/><circle cx="33.1" cy="22.5" r="0.58"/><circle cx="31.7" cy="7.4" r="0.49"/><circle cx="20.8" cy="14.6" r="0.58"/><circle cx="37.8" cy="35.6" r="0.52"/><circle cx="41.1" cy="31.3" r="0.45"/><circle cx="32.8" cy="28.3" r="0.38"/><circle cx="20.9" cy="40.0" r="0.62"/><circle cx="12.1" cy="11.4" r="0.58"/><circle cx="21.4" cy="12.8" r="0.44"/><circle cx="31.8" cy="36.0" r="0.43"/><circle cx="23.3" cy="13.6" r="0.52"/><circle cx="9.6" cy="20.0" r="0.41"/><circle cx="23.4" cy="40.1" r="0.43"/><circle cx="15.2" cy="7.9" r="0.47"/><circle cx="38.5" cy="20.7" r="0.61"/><circle cx="7.7" cy="21.6" r="0.55"/><circle cx="28.6" cy="37.2" r="0.52"/><circle cx="9.0" cy="27.8" r="0.60"/><circle cx="28.8" cy="7.9" r="0.41"/><circle cx="19.6" cy="9.9" r="0.61"/><circle cx="31.9" cy="24.4" r="0.62"/><circle cx="12.9" cy="35.8" r="0.52"/><circle cx="13.9" cy="31.8" r="0.52"/><circle cx="37.8" cy="23.0" r="0.57"/><circle cx="18.7" cy="39.4" r="0.53"/><circle cx="23.3" cy="6.5" r="0.39"/><circle cx="38.5" cy="21.2" r="0.44"/><circle cx="18.2" cy="25.6" r="0.43"/><circle cx="32.4" cy="10.7" r="0.59"/><circle cx="27.3" cy="29.6" r="0.47"/><circle cx="8.0" cy="24.7" r="0.45"/><circle cx="22.8" cy="9.8" r="0.45"/><circle cx="25.2" cy="19.3" r="0.52"/><circle cx="25.5" cy="27.9" r="0.49"/><circle cx="9.2" cy="22.5" r="0.47"/><circle cx="39.2" cy="17.1" r="0.41"/><circle cx="42.6" cy="24.9" r="0.48"/><circle cx="30.3" cy="29.2" r="0.55"/><circle cx="29.2" cy="34.7" r="0.54"/><circle cx="14.8" cy="36.6" r="0.61"/><circle cx="28.0" cy="9.8" r="0.53"/><circle cx="18.4" cy="38.5" r="0.54"/><circle cx="12.6" cy="17.4" r="0.56"/><circle cx="28.5" cy="39.7" r="0.62"/><circle cx="33.3" cy="26.4" r="0.62"/><circle cx="38.9" cy="32.8" r="0.52"/><circle cx="37.7" cy="30.7" r="0.38"/><circle cx="30.1" cy="15.8" r="0.61"/><circle cx="29.6" cy="20.1" r="0.48"/><circle cx="33.5" cy="37.8" r="0.40"/><circle cx="29.8" cy="27.2" r="0.59"/><circle cx="24.2" cy="35.1" r="0.49"/><circle cx="12.4" cy="20.4" r="0.61"/><circle cx="16.9" cy="35.3" r="0.59"/><circle cx="24.3" cy="32.2" r="0.58"/><circle cx="16.8" cy="40.7" r="0.58"/><circle cx="16.4" cy="32.2" r="0.40"/><circle cx="32.8" cy="15.3" r="0.46"/><circle cx="28.0" cy="32.4" r="0.59"/><circle cx="33.6" cy="34.7" r="0.53"/><circle cx="10.6" cy="22.6" r="0.47"/><circle cx="30.2" cy="40.4" r="0.60"/><circle cx="15.2" cy="20.6" r="0.60"/><circle cx="26.3" cy="31.8" r="0.53"/><circle cx="31.0" cy="11.8" r="0.40"/><circle cx="31.4" cy="23.3" r="0.46"/><circle cx="40.9" cy="23.1" r="0.56"/><circle cx="39.6" cy="32.3" r="0.48"/><circle cx="40.8" cy="25.4" r="0.61"/><circle cx="36.2" cy="28.1" r="0.60"/><circle cx="18.8" cy="33.4" r="0.57"/><circle cx="6.3" cy="31.2" r="0.59"/><circle cx="34.1" cy="11.9" r="0.42"/><circle cx="18.4" cy="11.0" r="0.50"/><circle cx="14.4" cy="20.0" r="0.42"/><circle cx="33.8" cy="18.3" r="0.40"/><circle cx="37.4" cy="22.3" r="0.54"/><circle cx="20.1" cy="30.5" r="0.46"/><circle cx="29.0" cy="15.7" r="0.60"/><circle cx="18.0" cy="41.3" r="0.42"/><circle cx="17.6" cy="26.7" r="0.41"/><circle cx="12.6" cy="22.7" r="0.51"/><circle cx="26.2" cy="34.7" r="0.46"/><circle cx="28.3" cy="21.1" r="0.48"/><circle cx="32.8" cy="12.9" r="0.44"/><circle cx="30.3" cy="24.2" r="0.41"/><circle cx="36.5" cy="25.6" r="0.59"/><circle cx="22.0" cy="34.2" r="0.57"/><circle cx="26.2" cy="25.5" r="0.54"/><circle cx="35.7" cy="31.6" r="0.41"/><circle cx="9.9" cy="13.8" r="0.49"/><circle cx="21.8" cy="39.1" r="0.55"/><circle cx="32.7" cy="27.6" r="0.47"/><circle cx="14.1" cy="23.9" r="0.54"/><circle cx="23.4" cy="42.4" r="0.46"/><circle cx="24.9" cy="29.5" r="0.41"/><circle cx="27.8" cy="41.7" r="0.48"/><circle cx="6.6" cy="30.8" r="0.62"/><circle cx="24.9" cy="15.0" r="0.46"/><circle cx="14.4" cy="24.0" r="0.46"/><circle cx="26.2" cy="33.4" r="0.56"/><circle cx="13.9" cy="16.6" r="0.49"/><circle cx="12.1" cy="14.0" r="0.38"/><circle cx="31.2" cy="13.5" r="0.46"/><circle cx="40.0" cy="20.0" r="0.46"/><circle cx="36.4" cy="26.2" r="0.48"/><circle cx="19.8" cy="28.5" r="0.52"/><circle cx="23.5" cy="40.9" r="0.51"/><circle cx="19.4" cy="40.9" r="0.49"/><circle cx="32.7" cy="29.4" r="0.39"/><circle cx="7.6" cy="32.1" r="0.61"/><circle cx="19.7" cy="18.2" r="0.43"/><circle cx="27.4" cy="35.4" r="0.53"/><circle cx="37.2" cy="26.2" r="0.48"/><circle cx="14.9" cy="9.6" r="0.47"/><circle cx="16.1" cy="18.3" r="0.49"/><circle cx="21.1" cy="21.0" r="0.50"/><circle cx="15.9" cy="24.2" r="0.44"/><circle cx="29.0" cy="14.3" r="0.42"/><circle cx="21.0" cy="37.7" r="0.47"/><circle cx="17.6" cy="33.0" r="0.43"/><circle cx="9.3" cy="23.9" r="0.40"/><circle cx="15.1" cy="18.6" r="0.62"/><circle cx="30.4" cy="21.7" r="0.55"/><circle cx="20.4" cy="29.5" r="0.59"/><circle cx="38.1" cy="15.1" r="0.53"/><circle cx="38.0" cy="22.3" r="0.54"/><circle cx="13.9" cy="9.9" r="0.59"/><circle cx="21.1" cy="32.5" r="0.51"/><circle cx="14.5" cy="18.3" r="0.59"/><circle cx="33.1" cy="11.5" r="0.51"/><circle cx="21.2" cy="16.4" r="0.58"/><circle cx="36.6" cy="37.2" r="0.53"/><circle cx="22.6" cy="32.5" r="0.52"/><circle cx="8.5" cy="27.9" r="0.40"/><circle cx="32.8" cy="15.5" r="0.48"/><circle cx="22.9" cy="9.5" r="0.49"/><circle cx="20.6" cy="36.8" r="0.38"/><circle cx="23.4" cy="41.6" r="0.41"/><circle cx="39.0" cy="33.3" r="0.47"/><circle cx="9.7" cy="21.6" r="0.55"/><circle cx="17.0" cy="39.4" r="0.38"/><circle cx="30.1" cy="15.6" r="0.53"/><circle cx="18.6" cy="39.8" r="0.47"/><circle cx="15.4" cy="17.8" r="0.58"/><circle cx="25.4" cy="15.9" r="0.56"/><circle cx="32.7" cy="21.0" r="0.42"/><circle cx="40.9" cy="16.5" r="0.41"/><circle cx="26.9" cy="6.2" r="0.44"/><circle cx="26.0" cy="14.1" r="0.57"/><circle cx="11.0" cy="23.6" r="0.41"/><circle cx="14.9" cy="11.3" r="0.45"/><circle cx="29.5" cy="25.9" r="0.44"/><circle cx="40.4" cy="23.9" r="0.60"/><circle cx="24.0" cy="17.4" r="0.47"/><circle cx="40.7" cy="18.9" r="0.62"/><circle cx="30.8" cy="9.8" r="0.57"/><circle cx="34.7" cy="18.0" r="0.38"/><circle cx="23.2" cy="26.3" r="0.44"/><circle cx="15.6" cy="19.0" r="0.44"/><circle cx="33.4" cy="30.7" r="0.50"/><circle cx="8.5" cy="14.3" r="0.39"/><circle cx="23.8" cy="29.6" r="0.61"/><circle cx="13.6" cy="13.0" r="0.58"/><circle cx="42.1" cy="24.6" r="0.46"/><circle cx="15.7" cy="15.6" r="0.56"/><circle cx="20.8" cy="33.8" r="0.44"/><circle cx="22.0" cy="11.6" r="0.41"/><circle cx="15.2" cy="35.6" r="0.47"/><circle cx="9.4" cy="14.7" r="0.54"/><circle cx="27.3" cy="14.4" r="0.59"/><circle cx="36.9" cy="19.3" r="0.38"/><circle cx="38.2" cy="32.8" r="0.59"/><circle cx="21.8" cy="10.9" r="0.51"/><circle cx="35.0" cy="34.1" r="0.62"/><circle cx="28.1" cy="38.6" r="0.59"/><circle cx="17.4" cy="15.2" r="0.43"/><circle cx="22.0" cy="6.1" r="0.59"/><circle cx="10.7" cy="33.9" r="0.58"/><circle cx="12.3" cy="36.0" r="0.47"/><circle cx="24.1" cy="24.7" r="0.56"/><circle cx="24.1" cy="20.4" r="0.39"/><circle cx="20.4" cy="32.2" r="0.56"/><circle cx="29.4" cy="37.8" r="0.51"/><circle cx="13.8" cy="38.6" r="0.48"/><circle cx="8.5" cy="23.1" r="0.48"/><circle cx="31.3" cy="41.4" r="0.56"/><circle cx="11.2" cy="20.5" r="0.53"/><circle cx="22.6" cy="29.2" r="0.51"/><circle cx="28.8" cy="20.8" r="0.62"/><circle cx="10.7" cy="37.8" r="0.57"/><circle cx="22.8" cy="33.0" r="0.60"/><circle cx="40.9" cy="22.1" r="0.52"/><circle cx="7.8" cy="19.8" r="0.58"/><circle cx="29.2" cy="15.5" r="0.58"/><circle cx="37.8" cy="20.2" r="0.38"/><circle cx="29.8" cy="38.5" r="0.48"/><circle cx="37.2" cy="16.8" r="0.55"/><circle cx="32.0" cy="35.5" r="0.55"/><circle cx="39.6" cy="15.3" r="0.44"/><circle cx="5.2" cy="24.1" r="0.40"/><circle cx="31.3" cy="27.8" r="0.56"/><circle cx="16.7" cy="38.5" r="0.58"/><circle cx="25.4" cy="20.8" r="0.55"/><circle cx="28.7" cy="9.1" r="0.59"/><circle cx="30.1" cy="10.7" r="0.59"/><circle cx="18.0" cy="22.6" r="0.45"/><circle cx="34.0" cy="19.8" r="0.49"/><circle cx="35.0" cy="13.0" r="0.57"/><circle cx="10.7" cy="26.8" r="0.39"/><circle cx="26.4" cy="31.5" r="0.51"/><circle cx="19.0" cy="23.5" r="0.53"/><circle cx="33.5" cy="31.3" r="0.38"/><circle cx="16.9" cy="25.4" r="0.61"/><circle cx="12.8" cy="37.5" r="0.49"/><circle cx="15.9" cy="39.7" r="0.44"/><circle cx="8.9" cy="22.9" r="0.62"/><circle cx="22.8" cy="20.2" r="0.49"/><circle cx="40.8" cy="19.1" r="0.47"/><circle cx="30.8" cy="31.4" r="0.56"/><circle cx="31.6" cy="40.6" r="0.44"/><circle cx="18.1" cy="9.6" r="0.44"/><circle cx="9.0" cy="22.5" r="0.44"/><circle cx="9.3" cy="21.3" r="0.61"/><circle cx="22.3" cy="32.0" r="0.50"/><circle cx="13.1" cy="16.7" r="0.60"/><circle cx="28.0" cy="37.2" r="0.49"/><circle cx="28.1" cy="36.4" r="0.49"/><circle cx="12.2" cy="36.1" r="0.62"/><circle cx="32.7" cy="22.6" r="0.47"/><circle cx="29.2" cy="22.6" r="0.40"/><circle cx="41.1" cy="31.7" r="0.50"/><circle cx="18.6" cy="26.7" r="0.60"/><circle cx="39.7" cy="23.6" r="0.60"/><circle cx="14.4" cy="19.9" r="0.42"/><circle cx="21.6" cy="31.2" r="0.47"/><circle cx="27.7" cy="25.4" r="0.60"/><circle cx="33.9" cy="10.3" r="0.46"/><circle cx="10.7" cy="28.6" r="0.57"/><circle cx="19.5" cy="37.1" r="0.51"/><circle cx="30.1" cy="14.9" r="0.38"/><circle cx="9.3" cy="34.4" r="0.42"/><circle cx="19.2" cy="19.4" r="0.44"/><circle cx="19.7" cy="20.0" r="0.49"/><circle cx="13.9" cy="18.2" r="0.56"/><circle cx="29.7" cy="16.0" r="0.57"/><circle cx="24.5" cy="9.6" r="0.52"/><circle cx="9.1" cy="17.6" r="0.55"/><circle cx="22.0" cy="39.5" r="0.55"/><circle cx="6.5" cy="28.5" r="0.45"/><circle cx="10.4" cy="19.8" r="0.53"/><circle cx="30.3" cy="38.5" r="0.40"/><circle cx="11.5" cy="21.7" r="0.55"/><circle cx="35.8" cy="9.6" r="0.43"/><circle cx="35.0" cy="17.3" r="0.50"/><circle cx="41.0" cy="28.8" r="0.43"/><circle cx="22.2" cy="34.6" r="0.43"/><circle cx="21.5" cy="34.2" r="0.51"/><circle cx="13.5" cy="37.0" r="0.61"/><circle cx="34.6" cy="19.5" r="0.55"/><circle cx="22.2" cy="8.2" r="0.47"/><circle cx="29.8" cy="39.8" r="0.54"/><circle cx="14.8" cy="36.8" r="0.39"/><circle cx="27.8" cy="6.7" r="0.62"/><circle cx="35.9" cy="34.7" r="0.57"/><circle cx="33.4" cy="35.8" r="0.42"/><circle cx="24.6" cy="27.4" r="0.45"/><circle cx="32.5" cy="12.5" r="0.57"/><circle cx="31.3" cy="22.9" r="0.59"/><circle cx="36.1" cy="15.0" r="0.46"/><circle cx="29.7" cy="35.5" r="0.47"/><circle cx="23.0" cy="39.9" r="0.53"/><circle cx="23.6" cy="32.2" r="0.50"/><circle cx="20.2" cy="9.3" r="0.54"/><circle cx="37.2" cy="14.3" r="0.49"/><circle cx="23.6" cy="8.8" r="0.46"/><circle cx="29.8" cy="34.4" r="0.55"/><circle cx="24.0" cy="13.8" r="0.51"/><circle cx="37.1" cy="31.0" r="0.49"/><circle cx="26.0" cy="6.8" r="0.39"/><circle cx="31.7" cy="22.6" r="0.62"/><circle cx="32.9" cy="23.5" r="0.45"/><circle cx="35.1" cy="38.6" r="0.56"/><circle cx="40.7" cy="20.7" r="0.46"/><circle cx="25.7" cy="13.1" r="0.46"/><circle cx="9.8" cy="31.4" r="0.45"/><circle cx="10.7" cy="19.0" r="0.57"/><circle cx="11.9" cy="26.6" r="0.51"/><circle cx="8.2" cy="28.3" r="0.40"/><circle cx="25.6" cy="27.6" r="0.48"/><circle cx="32.5" cy="12.3" r="0.53"/><circle cx="39.8" cy="17.5" r="0.45"/><circle cx="26.4" cy="38.0" r="0.43"/><circle cx="19.6" cy="21.3" r="0.47"/><circle cx="22.3" cy="14.9" r="0.41"/><circle cx="23.9" cy="15.9" r="0.60"/><circle cx="10.4" cy="12.6" r="0.51"/><circle cx="14.4" cy="25.0" r="0.39"/><circle cx="32.5" cy="21.7" r="0.40"/><circle cx="36.7" cy="18.6" r="0.52"/><circle cx="38.2" cy="16.4" r="0.44"/><circle cx="20.8" cy="39.4" r="0.55"/><circle cx="25.5" cy="33.7" r="0.50"/><circle cx="39.9" cy="30.5" r="0.54"/><circle cx="32.4" cy="36.1" r="0.52"/><circle cx="34.6" cy="30.9" r="0.57"/><circle cx="8.4" cy="28.8" r="0.43"/><circle cx="39.5" cy="24.1" r="0.51"/><circle cx="35.3" cy="25.1" r="0.38"/><circle cx="16.6" cy="27.3" r="0.44"/><circle cx="21.5" cy="31.1" r="0.45"/><circle cx="17.0" cy="24.1" r="0.52"/><circle cx="39.3" cy="19.2" r="0.61"/><circle cx="36.0" cy="34.1" r="0.44"/><circle cx="36.3" cy="19.0" r="0.56"/><circle cx="25.1" cy="17.5" r="0.40"/><circle cx="30.4" cy="8.3" r="0.48"/><circle cx="26.9" cy="24.8" r="0.58"/><circle cx="20.1" cy="13.4" r="0.54"/><circle cx="24.6" cy="22.8" r="0.56"/><circle cx="41.5" cy="21.9" r="0.60"/><circle cx="10.2" cy="29.8" r="0.40"/><circle cx="28.1" cy="9.4" r="0.48"/><circle cx="31.7" cy="26.8" r="0.48"/><circle cx="35.5" cy="18.1" r="0.59"/><circle cx="27.7" cy="33.1" r="0.43"/><circle cx="20.0" cy="40.8" r="0.47"/><circle cx="17.3" cy="38.5" r="0.49"/><circle cx="35.5" cy="13.4" r="0.58"/><circle cx="13.3" cy="29.6" r="0.49"/><circle cx="42.4" cy="22.9" r="0.52"/><circle cx="18.9" cy="24.5" r="0.59"/><circle cx="14.6" cy="16.5" r="0.42"/><circle cx="8.3" cy="27.2" r="0.44"/><circle cx="22.7" cy="37.8" r="0.50"/><circle cx="28.8" cy="24.5" r="0.47"/><circle cx="21.0" cy="12.9" r="0.38"/><circle cx="24.3" cy="32.7" r="0.57"/><circle cx="26.6" cy="42.9" r="0.45"/><circle cx="25.1" cy="26.7" r="0.50"/><circle cx="7.3" cy="22.6" r="0.54"/><circle cx="19.8" cy="23.1" r="0.61"/><circle cx="24.1" cy="33.5" r="0.42"/><circle cx="10.9" cy="16.2" r="0.45"/><circle cx="23.9" cy="26.3" r="0.52"/><circle cx="22.4" cy="17.9" r="0.44"/><circle cx="24.2" cy="8.3" r="0.41"/><circle cx="40.0" cy="23.1" r="0.55"/><circle cx="15.9" cy="41.2" r="0.49"/><circle cx="11.7" cy="10.0" r="0.58"/><circle cx="27.1" cy="30.4" r="0.43"/><circle cx="37.1" cy="36.5" r="0.51"/><circle cx="12.6" cy="26.0" r="0.50"/><circle cx="9.1" cy="30.5" r="0.48"/><circle cx="35.7" cy="11.3" r="0.59"/><circle cx="24.0" cy="16.4" r="0.48"/><circle cx="30.1" cy="14.7" r="0.52"/><circle cx="28.2" cy="41.0" r="0.46"/><circle cx="12.9" cy="37.4" r="0.40"/><circle cx="36.4" cy="24.8" r="0.49"/><circle cx="33.0" cy="32.0" r="0.57"/><circle cx="37.6" cy="12.1" r="0.57"/><circle cx="34.3" cy="29.5" r="0.49"/><circle cx="40.5" cy="27.3" r="0.44"/><circle cx="26.9" cy="9.0" r="0.44"/><circle cx="17.0" cy="35.0" r="0.42"/><circle cx="36.3" cy="25.2" r="0.43"/><circle cx="23.5" cy="41.1" r="0.56"/><circle cx="21.5" cy="25.9" r="0.57"/><circle cx="23.5" cy="30.3" r="0.56"/><circle cx="32.0" cy="18.9" r="0.51"/><circle cx="34.4" cy="15.4" r="0.46"/><circle cx="25.8" cy="26.9" r="0.60"/><circle cx="27.1" cy="16.8" r="0.54"/><circle cx="29.8" cy="39.7" r="0.47"/><circle cx="19.4" cy="11.2" r="0.40"/><circle cx="10.1" cy="17.8" r="0.39"/><circle cx="33.6" cy="26.6" r="0.56"/><circle cx="36.6" cy="22.5" r="0.59"/><circle cx="21.6" cy="14.7" r="0.49"/><circle cx="31.4" cy="13.4" r="0.50"/><circle cx="22.7" cy="17.1" r="0.49"/><circle cx="9.8" cy="22.5" r="0.55"/><circle cx="22.3" cy="37.3" r="0.49"/><circle cx="37.4" cy="34.5" r="0.61"/><circle cx="12.7" cy="19.8" r="0.47"/><circle cx="12.9" cy="27.6" r="0.44"/><circle cx="34.9" cy="20.6" r="0.43"/><circle cx="23.2" cy="23.1" r="0.46"/><circle cx="8.0" cy="17.9" r="0.45"/><circle cx="41.7" cy="30.3" r="0.38"/><circle cx="12.2" cy="31.0" r="0.62"/><circle cx="18.2" cy="31.6" r="0.45"/><circle cx="18.9" cy="29.4" r="0.60"/><circle cx="7.8" cy="22.9" r="0.44"/><circle cx="14.9" cy="8.6" r="0.43"/><circle cx="33.8" cy="21.5" r="0.55"/><circle cx="36.1" cy="19.7" r="0.61"/><circle cx="14.1" cy="32.0" r="0.61"/><circle cx="20.5" cy="21.7" r="0.41"/><circle cx="13.2" cy="21.9" r="0.39"/><circle cx="28.3" cy="14.3" r="0.60"/><circle cx="18.6" cy="30.4" r="0.48"/><circle cx="32.4" cy="8.3" r="0.52"/><circle cx="23.9" cy="38.1" r="0.44"/><circle cx="23.0" cy="25.5" r="0.38"/><circle cx="39.2" cy="17.5" r="0.44"/><circle cx="21.1" cy="21.8" r="0.58"/><circle cx="11.8" cy="13.8" r="0.48"/><circle cx="8.3" cy="31.2" r="0.45"/><circle cx="29.7" cy="27.3" r="0.60"/><circle cx="23.2" cy="29.0" r="0.52"/><circle cx="32.5" cy="33.3" r="0.57"/><circle cx="25.3" cy="36.6" r="0.61"/><circle cx="36.1" cy="11.3" r="0.38"/><circle cx="38.0" cy="21.9" r="0.41"/><circle cx="30.6" cy="23.7" r="0.62"/><circle cx="29.2" cy="25.3" r="0.49"/><circle cx="12.7" cy="15.1" r="0.58"/><circle cx="36.6" cy="34.5" r="0.46"/><circle cx="38.4" cy="20.1" r="0.55"/><circle cx="36.2" cy="37.7" r="0.45"/><circle cx="27.2" cy="36.2" r="0.57"/><circle cx="18.2" cy="36.0" r="0.53"/><circle cx="24.1" cy="30.8" r="0.48"/><circle cx="20.4" cy="9.1" r="0.43"/><circle cx="14.5" cy="9.8" r="0.55"/><circle cx="25.6" cy="27.9" r="0.62"/><circle cx="21.5" cy="14.7" r="0.56"/><circle cx="10.8" cy="17.0" r="0.46"/><circle cx="18.2" cy="14.1" r="0.47"/><circle cx="16.7" cy="38.9" r="0.59"/><circle cx="22.7" cy="29.3" r="0.44"/><circle cx="24.4" cy="13.0" r="0.38"/><circle cx="30.9" cy="13.9" r="0.39"/><circle cx="23.8" cy="10.8" r="0.59"/><circle cx="32.8" cy="9.4" r="0.60"/><circle cx="11.2" cy="35.7" r="0.50"/><circle cx="18.9" cy="17.1" r="0.53"/><circle cx="39.8" cy="32.2" r="0.42"/><circle cx="8.2" cy="16.9" r="0.58"/><circle cx="31.6" cy="14.5" r="0.39"/><circle cx="34.5" cy="23.3" r="0.59"/><circle cx="13.4" cy="31.1" r="0.51"/><circle cx="7.9" cy="19.6" r="0.52"/><circle cx="30.9" cy="36.3" r="0.40"/><circle cx="28.8" cy="18.0" r="0.47"/><circle cx="14.6" cy="18.3" r="0.60"/><circle cx="26.9" cy="13.7" r="0.48"/><circle cx="23.0" cy="10.8" r="0.53"/><circle cx="16.6" cy="36.6" r="0.52"/><circle cx="33.1" cy="17.7" r="0.58"/><circle cx="26.3" cy="34.3" r="0.43"/><circle cx="29.3" cy="21.8" r="0.45"/><circle cx="8.3" cy="27.5" r="0.54"/><circle cx="32.6" cy="32.5" r="0.56"/><circle cx="28.1" cy="29.5" r="0.58"/><circle cx="29.4" cy="24.3" r="0.42"/><circle cx="29.7" cy="14.6" r="0.48"/></g></svg><svg x="536.9" y="217.3" width="48.2" height="47.7" viewBox="0 0 48 48" preserveAspectRatio="none"><rect width="48" height="48" fill="#2f66cc"/><rect width="48" height="48" filter="url(#bluetexF)"/><circle cx="24" cy="24" r="22.6" fill="#7090d4" fill-opacity="0.45" stroke="#d4def4" stroke-width="1.3" stroke-opacity="0.9"/><circle cx="24" cy="24.3" r="20.6" fill="#6c82bc" fill-opacity="0.9" stroke="#dcd8c8" stroke-width="1.3"/><g fill="#e8e2cc"><circle cx="6.6" cy="19.8" r="0.35"/><circle cx="28.2" cy="35.6" r="0.48"/><circle cx="32.4" cy="33.6" r="0.47"/><circle cx="34.0" cy="28.6" r="0.35"/><circle cx="25.7" cy="23.2" r="0.37"/><circle cx="17.1" cy="18.3" r="0.47"/><circle cx="13.7" cy="40.2" r="0.47"/><circle cx="19.1" cy="30.7" r="0.45"/><circle cx="26.3" cy="8.4" r="0.50"/><circle cx="5.7" cy="22.4" r="0.43"/><circle cx="6.2" cy="18.9" r="0.52"/><circle cx="7.3" cy="27.1" r="0.51"/><circle cx="20.7" cy="35.9" r="0.51"/><circle cx="16.1" cy="32.3" r="0.46"/><circle cx="32.6" cy="28.8" r="0.56"/><circle cx="24.1" cy="41.4" r="0.34"/><circle cx="19.2" cy="37.1" r="0.41"/><circle cx="41.4" cy="17.8" r="0.40"/><circle cx="35.9" cy="38.1" r="0.52"/><circle cx="19.4" cy="23.8" r="0.34"/><circle cx="18.1" cy="9.7" r="0.44"/><circle cx="19.0" cy="32.9" r="0.42"/><circle cx="11.1" cy="31.6" r="0.43"/><circle cx="19.3" cy="32.0" r="0.49"/><circle cx="31.5" cy="21.1" r="0.51"/><circle cx="18.4" cy="17.0" r="0.37"/><circle cx="27.8" cy="18.0" r="0.36"/><circle cx="38.5" cy="33.5" r="0.42"/><circle cx="34.1" cy="24.4" r="0.45"/><circle cx="16.8" cy="25.4" r="0.53"/><circle cx="20.7" cy="14.9" r="0.41"/><circle cx="23.9" cy="27.1" r="0.47"/><circle cx="21.7" cy="39.6" r="0.53"/><circle cx="19.6" cy="33.5" r="0.42"/><circle cx="19.9" cy="24.9" r="0.43"/><circle cx="21.6" cy="30.1" r="0.53"/><circle cx="19.6" cy="11.8" r="0.35"/><circle cx="22.3" cy="12.7" r="0.54"/><circle cx="18.4" cy="16.9" r="0.51"/><circle cx="14.5" cy="18.1" r="0.52"/><circle cx="20.5" cy="30.6" r="0.35"/><circle cx="16.5" cy="17.8" r="0.37"/><circle cx="40.0" cy="29.2" r="0.40"/><circle cx="35.4" cy="10.4" r="0.52"/><circle cx="27.0" cy="42.5" r="0.48"/><circle cx="34.3" cy="9.4" r="0.41"/><circle cx="11.3" cy="37.0" r="0.40"/><circle cx="27.0" cy="26.5" r="0.46"/><circle cx="17.5" cy="41.6" r="0.34"/><circle cx="11.2" cy="33.9" r="0.47"/><circle cx="31.6" cy="11.0" r="0.53"/><circle cx="41.3" cy="20.8" r="0.47"/><circle cx="12.9" cy="32.5" r="0.39"/><circle cx="23.6" cy="38.0" r="0.44"/><circle cx="19.8" cy="27.9" r="0.56"/><circle cx="17.5" cy="35.8" r="0.42"/><circle cx="8.2" cy="18.6" r="0.55"/><circle cx="9.3" cy="13.2" r="0.42"/><circle cx="13.1" cy="26.2" r="0.55"/><circle cx="30.2" cy="30.8" r="0.51"/><circle cx="24.4" cy="29.1" r="0.42"/><circle cx="11.5" cy="27.2" r="0.39"/><circle cx="18.1" cy="32.6" r="0.38"/><circle cx="14.9" cy="23.9" r="0.38"/><circle cx="40.1" cy="16.6" r="0.42"/><circle cx="18.2" cy="23.2" r="0.34"/><circle cx="5.6" cy="22.8" r="0.36"/><circle cx="7.8" cy="29.0" r="0.34"/><circle cx="15.7" cy="19.3" r="0.51"/><circle cx="31.9" cy="8.3" r="0.51"/><circle cx="37.1" cy="32.3" r="0.46"/><circle cx="21.3" cy="32.4" r="0.44"/><circle cx="13.3" cy="30.0" r="0.55"/><circle cx="26.1" cy="41.7" r="0.37"/><circle cx="19.3" cy="12.5" r="0.43"/><circle cx="17.1" cy="25.3" r="0.39"/><circle cx="16.9" cy="28.7" r="0.53"/><circle cx="18.5" cy="10.3" r="0.49"/><circle cx="25.0" cy="26.0" r="0.36"/><circle cx="33.9" cy="15.4" r="0.56"/><circle cx="18.7" cy="34.8" r="0.48"/><circle cx="31.1" cy="14.1" r="0.45"/><circle cx="18.3" cy="31.6" r="0.54"/><circle cx="34.4" cy="17.2" r="0.37"/><circle cx="32.9" cy="14.9" r="0.51"/><circle cx="19.3" cy="27.0" r="0.51"/><circle cx="38.5" cy="35.7" r="0.38"/><circle cx="23.4" cy="25.2" r="0.39"/><circle cx="20.6" cy="19.6" r="0.36"/><circle cx="26.1" cy="25.1" r="0.45"/><circle cx="26.5" cy="40.6" r="0.49"/><circle cx="5.7" cy="23.7" r="0.56"/><circle cx="18.1" cy="39.9" r="0.49"/><circle cx="30.5" cy="39.8" r="0.35"/><circle cx="15.6" cy="8.3" r="0.48"/><circle cx="19.0" cy="9.7" r="0.43"/><circle cx="33.0" cy="31.8" r="0.41"/><circle cx="30.8" cy="7.8" r="0.56"/><circle cx="15.1" cy="39.9" r="0.54"/><circle cx="37.9" cy="26.1" r="0.36"/><circle cx="35.1" cy="30.4" r="0.50"/><circle cx="28.6" cy="34.0" r="0.45"/><circle cx="17.6" cy="22.5" r="0.38"/><circle cx="34.7" cy="25.2" r="0.56"/><circle cx="30.4" cy="39.5" r="0.48"/><circle cx="34.9" cy="11.2" r="0.35"/><circle cx="15.7" cy="39.5" r="0.48"/><circle cx="26.1" cy="21.6" r="0.53"/><circle cx="10.6" cy="34.6" r="0.47"/><circle cx="15.5" cy="35.1" r="0.34"/><circle cx="40.3" cy="17.3" r="0.48"/><circle cx="14.2" cy="11.3" r="0.44"/><circle cx="24.7" cy="39.6" r="0.56"/><circle cx="35.5" cy="11.8" r="0.37"/><circle cx="20.2" cy="33.6" r="0.46"/><circle cx="36.2" cy="15.6" r="0.47"/><circle cx="16.9" cy="27.8" r="0.40"/><circle cx="42.0" cy="22.3" r="0.48"/><circle cx="20.5" cy="16.0" r="0.34"/><circle cx="26.5" cy="24.7" r="0.38"/><circle cx="38.3" cy="22.6" r="0.39"/><circle cx="26.1" cy="25.7" r="0.34"/><circle cx="31.3" cy="32.6" r="0.37"/><circle cx="26.0" cy="39.2" r="0.37"/><circle cx="35.0" cy="36.9" r="0.40"/><circle cx="17.0" cy="16.9" r="0.49"/><circle cx="33.9" cy="24.9" r="0.53"/><circle cx="20.0" cy="38.9" r="0.38"/><circle cx="33.7" cy="32.0" r="0.44"/><circle cx="37.5" cy="27.3" r="0.43"/><circle cx="13.5" cy="37.1" r="0.54"/><circle cx="15.2" cy="30.1" r="0.51"/><circle cx="24.7" cy="10.7" r="0.48"/><circle cx="15.2" cy="37.9" r="0.47"/><circle cx="30.6" cy="16.2" r="0.35"/><circle cx="33.7" cy="13.4" r="0.52"/><circle cx="23.6" cy="7.6" r="0.42"/><circle cx="33.8" cy="13.1" r="0.43"/><circle cx="26.9" cy="29.4" r="0.39"/><circle cx="19.3" cy="34.2" r="0.48"/><circle cx="37.8" cy="20.7" r="0.49"/><circle cx="39.8" cy="25.3" r="0.46"/><circle cx="25.9" cy="13.2" r="0.48"/><circle cx="7.2" cy="23.1" r="0.44"/><circle cx="32.0" cy="8.5" r="0.46"/><circle cx="8.0" cy="24.1" r="0.45"/><circle cx="42.0" cy="20.9" r="0.45"/><circle cx="21.6" cy="18.6" r="0.54"/><circle cx="21.8" cy="22.2" r="0.34"/><circle cx="33.5" cy="10.4" r="0.48"/><circle cx="16.3" cy="29.6" r="0.45"/><circle cx="36.6" cy="16.0" r="0.35"/><circle cx="25.5" cy="29.6" r="0.53"/><circle cx="34.4" cy="9.3" r="0.43"/><circle cx="22.1" cy="28.6" r="0.39"/><circle cx="17.4" cy="34.1" r="0.41"/><circle cx="21.6" cy="6.9" r="0.42"/><circle cx="28.2" cy="14.9" r="0.40"/><circle cx="25.6" cy="18.9" r="0.35"/><circle cx="37.0" cy="23.7" r="0.43"/><circle cx="26.5" cy="6.5" r="0.42"/><circle cx="26.4" cy="17.9" r="0.54"/><circle cx="13.9" cy="30.4" r="0.34"/><circle cx="34.8" cy="29.3" r="0.36"/><circle cx="13.9" cy="8.2" r="0.40"/><circle cx="24.3" cy="9.8" r="0.48"/><circle cx="26.2" cy="11.3" r="0.52"/><circle cx="32.5" cy="37.5" r="0.46"/><circle cx="26.9" cy="32.9" r="0.55"/><circle cx="15.2" cy="14.2" r="0.45"/><circle cx="32.8" cy="12.0" r="0.39"/><circle cx="40.2" cy="17.7" r="0.51"/><circle cx="20.1" cy="9.2" r="0.41"/><circle cx="39.9" cy="22.0" r="0.37"/><circle cx="28.6" cy="12.8" r="0.35"/><circle cx="30.7" cy="18.2" r="0.43"/><circle cx="35.4" cy="32.0" r="0.46"/><circle cx="32.1" cy="7.6" r="0.54"/><circle cx="18.1" cy="13.8" r="0.55"/><circle cx="25.4" cy="34.9" r="0.46"/><circle cx="14.3" cy="34.9" r="0.36"/><circle cx="24.1" cy="27.0" r="0.43"/><circle cx="25.1" cy="41.4" r="0.40"/><circle cx="29.8" cy="39.3" r="0.38"/><circle cx="31.3" cy="12.6" r="0.37"/><circle cx="18.2" cy="6.2" r="0.41"/><circle cx="10.8" cy="19.5" r="0.55"/><circle cx="28.7" cy="23.9" r="0.42"/><circle cx="28.3" cy="12.8" r="0.45"/><circle cx="22.1" cy="23.5" r="0.35"/><circle cx="33.5" cy="17.1" r="0.44"/><circle cx="8.6" cy="18.4" r="0.54"/><circle cx="37.1" cy="31.9" r="0.34"/><circle cx="7.5" cy="19.5" r="0.45"/><circle cx="12.1" cy="37.2" r="0.49"/><circle cx="36.0" cy="17.2" r="0.41"/><circle cx="19.3" cy="11.9" r="0.34"/><circle cx="36.8" cy="37.8" r="0.48"/><circle cx="40.1" cy="27.7" r="0.51"/><circle cx="42.1" cy="29.8" r="0.38"/><circle cx="8.0" cy="23.6" r="0.45"/><circle cx="16.4" cy="35.0" r="0.48"/><circle cx="41.0" cy="19.0" r="0.56"/><circle cx="28.4" cy="11.9" r="0.42"/><circle cx="39.4" cy="14.5" r="0.41"/><circle cx="26.5" cy="13.4" r="0.35"/><circle cx="6.3" cy="27.4" r="0.46"/><circle cx="30.9" cy="8.3" r="0.52"/><circle cx="18.6" cy="41.6" r="0.36"/><circle cx="18.5" cy="24.1" r="0.42"/><circle cx="36.9" cy="13.1" r="0.56"/><circle cx="11.3" cy="19.2" r="0.37"/><circle cx="6.0" cy="26.0" r="0.41"/><circle cx="30.4" cy="16.0" r="0.52"/><circle cx="30.8" cy="41.7" r="0.36"/><circle cx="36.6" cy="31.3" r="0.51"/><circle cx="21.1" cy="12.6" r="0.50"/><circle cx="27.1" cy="34.7" r="0.40"/><circle cx="24.6" cy="28.2" r="0.39"/><circle cx="9.7" cy="20.5" r="0.41"/><circle cx="15.6" cy="17.3" r="0.52"/><circle cx="40.6" cy="25.7" r="0.54"/><circle cx="10.7" cy="17.0" r="0.56"/><circle cx="27.6" cy="28.9" r="0.45"/><circle cx="21.7" cy="10.6" r="0.45"/><circle cx="12.3" cy="29.6" r="0.53"/><circle cx="38.0" cy="30.8" r="0.36"/><circle cx="29.4" cy="16.2" r="0.52"/><circle cx="17.6" cy="38.0" r="0.45"/><circle cx="36.6" cy="20.7" r="0.45"/><circle cx="14.5" cy="24.2" r="0.55"/><circle cx="20.0" cy="30.5" r="0.38"/><circle cx="20.5" cy="6.6" r="0.47"/><circle cx="32.7" cy="21.9" r="0.54"/><circle cx="25.0" cy="15.6" r="0.36"/><circle cx="13.1" cy="30.0" r="0.45"/><circle cx="22.4" cy="15.4" r="0.39"/><circle cx="20.2" cy="30.9" r="0.44"/><circle cx="16.0" cy="18.5" r="0.37"/><circle cx="23.3" cy="18.7" r="0.53"/><circle cx="17.2" cy="18.3" r="0.34"/><circle cx="25.6" cy="22.0" r="0.51"/><circle cx="8.6" cy="21.0" r="0.38"/><circle cx="22.8" cy="14.8" r="0.47"/><circle cx="38.3" cy="21.1" r="0.37"/><circle cx="24.6" cy="36.4" r="0.52"/><circle cx="27.5" cy="12.9" r="0.47"/><circle cx="15.9" cy="34.9" r="0.41"/><circle cx="34.9" cy="20.4" r="0.41"/><circle cx="17.6" cy="18.1" r="0.36"/><circle cx="7.7" cy="30.2" r="0.42"/><circle cx="21.9" cy="34.3" r="0.47"/><circle cx="22.3" cy="38.1" r="0.45"/><circle cx="34.5" cy="26.9" r="0.52"/><circle cx="28.0" cy="40.3" r="0.35"/><circle cx="11.7" cy="25.2" r="0.48"/><circle cx="30.6" cy="24.5" r="0.43"/><circle cx="35.7" cy="17.7" r="0.53"/><circle cx="5.5" cy="20.6" r="0.36"/><circle cx="30.5" cy="17.2" r="0.39"/><circle cx="11.9" cy="22.3" r="0.56"/><circle cx="38.9" cy="17.9" r="0.39"/><circle cx="25.3" cy="36.8" r="0.41"/><circle cx="25.7" cy="32.8" r="0.40"/><circle cx="22.1" cy="30.3" r="0.41"/><circle cx="40.6" cy="19.1" r="0.48"/><circle cx="41.7" cy="19.4" r="0.36"/><circle cx="34.5" cy="27.5" r="0.46"/><circle cx="27.1" cy="24.3" r="0.49"/><circle cx="26.6" cy="14.9" r="0.51"/><circle cx="27.9" cy="20.0" r="0.49"/><circle cx="7.6" cy="27.1" r="0.37"/><circle cx="22.9" cy="22.5" r="0.34"/><circle cx="13.8" cy="28.9" r="0.43"/><circle cx="28.7" cy="42.7" r="0.43"/><circle cx="12.6" cy="24.5" r="0.54"/><circle cx="33.3" cy="40.1" r="0.38"/><circle cx="32.8" cy="15.5" r="0.47"/><circle cx="25.5" cy="41.4" r="0.39"/><circle cx="27.5" cy="9.3" r="0.54"/><circle cx="41.0" cy="23.1" r="0.38"/><circle cx="26.4" cy="18.7" r="0.52"/><circle cx="30.2" cy="21.0" r="0.35"/><circle cx="28.2" cy="13.9" r="0.49"/><circle cx="31.7" cy="7.6" r="0.45"/><circle cx="33.9" cy="9.1" r="0.51"/><circle cx="11.6" cy="37.6" r="0.43"/><circle cx="33.6" cy="17.5" r="0.45"/><circle cx="30.0" cy="25.7" r="0.55"/><circle cx="8.4" cy="28.8" r="0.44"/><circle cx="21.9" cy="10.7" r="0.37"/><circle cx="17.9" cy="38.2" r="0.37"/><circle cx="28.4" cy="22.6" r="0.46"/><circle cx="35.2" cy="12.5" r="0.37"/><circle cx="36.6" cy="34.2" r="0.43"/><circle cx="29.5" cy="28.2" r="0.49"/><circle cx="34.1" cy="25.9" r="0.55"/><circle cx="23.8" cy="41.8" r="0.34"/><circle cx="25.3" cy="28.3" r="0.50"/><circle cx="8.8" cy="17.5" r="0.52"/><circle cx="22.9" cy="18.2" r="0.44"/><circle cx="40.6" cy="27.8" r="0.42"/><circle cx="6.5" cy="28.4" r="0.56"/><circle cx="14.6" cy="17.1" r="0.53"/><circle cx="28.9" cy="17.0" r="0.44"/><circle cx="41.9" cy="18.2" r="0.54"/><circle cx="16.3" cy="24.9" r="0.54"/><circle cx="28.1" cy="38.5" r="0.42"/><circle cx="30.6" cy="14.9" r="0.42"/><circle cx="33.4" cy="11.1" r="0.56"/><circle cx="29.0" cy="29.0" r="0.49"/><circle cx="6.0" cy="24.6" r="0.44"/><circle cx="36.5" cy="28.2" r="0.39"/><circle cx="29.3" cy="8.0" r="0.53"/><circle cx="35.0" cy="33.3" r="0.38"/><circle cx="31.3" cy="23.3" r="0.48"/><circle cx="22.3" cy="16.0" r="0.47"/><circle cx="27.2" cy="27.3" r="0.40"/><circle cx="35.1" cy="30.2" r="0.49"/><circle cx="32.7" cy="19.9" r="0.44"/><circle cx="20.0" cy="14.4" r="0.41"/><circle cx="12.1" cy="36.9" r="0.42"/><circle cx="24.8" cy="17.1" r="0.41"/><circle cx="21.7" cy="33.1" r="0.37"/><circle cx="10.4" cy="34.8" r="0.49"/><circle cx="34.7" cy="23.8" r="0.41"/><circle cx="24.7" cy="37.6" r="0.37"/><circle cx="28.1" cy="12.6" r="0.35"/><circle cx="11.6" cy="23.9" r="0.38"/><circle cx="18.9" cy="39.0" r="0.56"/><circle cx="16.3" cy="18.4" r="0.34"/><circle cx="19.8" cy="32.6" r="0.43"/><circle cx="14.4" cy="27.4" r="0.37"/><circle cx="40.7" cy="16.4" r="0.50"/><circle cx="36.9" cy="18.1" r="0.50"/><circle cx="9.6" cy="29.9" r="0.53"/><circle cx="19.4" cy="8.0" r="0.48"/><circle cx="14.5" cy="38.4" r="0.54"/><circle cx="24.8" cy="32.0" r="0.34"/><circle cx="24.3" cy="32.4" r="0.38"/><circle cx="29.4" cy="33.5" r="0.38"/><circle cx="28.9" cy="23.1" r="0.34"/><circle cx="34.4" cy="18.7" r="0.51"/><circle cx="23.1" cy="26.3" r="0.35"/><circle cx="27.7" cy="22.3" r="0.44"/><circle cx="22.8" cy="39.5" r="0.42"/><circle cx="27.1" cy="16.1" r="0.46"/><circle cx="37.7" cy="22.6" r="0.55"/><circle cx="41.0" cy="29.7" r="0.43"/><circle cx="39.9" cy="24.0" r="0.40"/><circle cx="24.9" cy="16.6" r="0.46"/><circle cx="23.5" cy="16.5" r="0.35"/><circle cx="28.4" cy="17.3" r="0.51"/><circle cx="15.8" cy="25.8" r="0.53"/><circle cx="17.2" cy="31.3" r="0.54"/><circle cx="34.9" cy="23.5" r="0.56"/><circle cx="37.1" cy="35.0" r="0.47"/><circle cx="24.4" cy="36.3" r="0.41"/><circle cx="18.3" cy="13.3" r="0.43"/><circle cx="18.4" cy="14.6" r="0.36"/><circle cx="6.3" cy="25.0" r="0.39"/><circle cx="21.8" cy="42.3" r="0.37"/><circle cx="34.1" cy="21.7" r="0.38"/><circle cx="21.0" cy="6.6" r="0.44"/><circle cx="23.1" cy="31.1" r="0.34"/><circle cx="19.4" cy="8.6" r="0.41"/><circle cx="7.6" cy="27.0" r="0.49"/><circle cx="16.3" cy="7.8" r="0.39"/><circle cx="38.8" cy="21.8" r="0.41"/><circle cx="19.6" cy="14.8" r="0.43"/><circle cx="31.6" cy="9.0" r="0.47"/><circle cx="30.2" cy="7.7" r="0.43"/><circle cx="40.4" cy="32.7" r="0.35"/><circle cx="18.3" cy="26.4" r="0.46"/><circle cx="24.7" cy="20.8" r="0.45"/><circle cx="11.2" cy="33.2" r="0.54"/><circle cx="21.8" cy="20.2" r="0.42"/><circle cx="16.5" cy="26.0" r="0.53"/><circle cx="16.7" cy="33.1" r="0.39"/><circle cx="7.4" cy="20.4" r="0.36"/><circle cx="13.6" cy="24.3" r="0.35"/><circle cx="11.9" cy="33.4" r="0.48"/><circle cx="39.9" cy="23.8" r="0.55"/><circle cx="21.8" cy="8.7" r="0.54"/><circle cx="34.9" cy="11.9" r="0.41"/><circle cx="20.4" cy="41.6" r="0.34"/><circle cx="10.6" cy="35.4" r="0.40"/><circle cx="12.8" cy="24.5" r="0.48"/><circle cx="26.2" cy="20.2" r="0.43"/><circle cx="31.5" cy="14.7" r="0.56"/><circle cx="22.2" cy="37.7" r="0.38"/><circle cx="32.9" cy="14.6" r="0.52"/><circle cx="20.3" cy="15.3" r="0.53"/><circle cx="40.7" cy="31.8" r="0.51"/><circle cx="24.4" cy="38.7" r="0.42"/><circle cx="5.9" cy="28.0" r="0.44"/><circle cx="20.5" cy="22.3" r="0.35"/><circle cx="11.8" cy="26.1" r="0.55"/><circle cx="7.8" cy="16.6" r="0.47"/><circle cx="33.8" cy="19.8" r="0.34"/><circle cx="24.2" cy="8.9" r="0.38"/><circle cx="26.8" cy="37.1" r="0.54"/><circle cx="17.9" cy="13.4" r="0.47"/><circle cx="17.1" cy="34.0" r="0.38"/><circle cx="23.0" cy="21.5" r="0.46"/><circle cx="30.1" cy="28.1" r="0.51"/><circle cx="32.8" cy="14.0" r="0.55"/><circle cx="20.4" cy="10.8" r="0.47"/><circle cx="29.9" cy="24.6" r="0.51"/><circle cx="10.8" cy="37.5" r="0.40"/><circle cx="22.2" cy="32.9" r="0.55"/><circle cx="14.8" cy="21.5" r="0.35"/><circle cx="21.9" cy="23.1" r="0.53"/><circle cx="33.0" cy="38.2" r="0.53"/><circle cx="20.4" cy="38.4" r="0.49"/><circle cx="12.3" cy="27.6" r="0.54"/><circle cx="23.4" cy="38.6" r="0.34"/><circle cx="7.0" cy="16.4" r="0.43"/><circle cx="23.0" cy="13.5" r="0.42"/><circle cx="10.0" cy="35.4" r="0.41"/><circle cx="37.5" cy="28.2" r="0.47"/><circle cx="13.8" cy="16.3" r="0.40"/><circle cx="22.0" cy="15.0" r="0.40"/><circle cx="26.0" cy="28.4" r="0.38"/><circle cx="18.6" cy="13.6" r="0.44"/><circle cx="25.2" cy="33.9" r="0.49"/><circle cx="30.6" cy="21.6" r="0.49"/><circle cx="37.6" cy="20.8" r="0.54"/><circle cx="31.1" cy="39.6" r="0.36"/><circle cx="25.2" cy="30.1" r="0.34"/><circle cx="24.6" cy="13.1" r="0.42"/><circle cx="23.0" cy="14.8" r="0.53"/><circle cx="31.5" cy="41.5" r="0.53"/><circle cx="5.6" cy="24.3" r="0.53"/><circle cx="33.9" cy="21.2" r="0.43"/><circle cx="19.9" cy="36.3" r="0.46"/><circle cx="30.9" cy="15.9" r="0.46"/><circle cx="21.9" cy="36.8" r="0.35"/><circle cx="9.6" cy="20.4" r="0.47"/><circle cx="33.3" cy="14.2" r="0.40"/><circle cx="35.5" cy="20.6" r="0.38"/><circle cx="8.1" cy="23.4" r="0.40"/><circle cx="24.6" cy="29.8" r="0.46"/><circle cx="12.0" cy="36.3" r="0.37"/><circle cx="18.4" cy="19.6" r="0.38"/><circle cx="35.6" cy="34.3" r="0.50"/><circle cx="8.2" cy="31.1" r="0.52"/><circle cx="34.1" cy="12.9" r="0.44"/><circle cx="9.4" cy="32.8" r="0.40"/><circle cx="24.8" cy="43.3" r="0.55"/><circle cx="14.2" cy="10.0" r="0.35"/><circle cx="26.1" cy="9.8" r="0.40"/><circle cx="21.2" cy="39.7" r="0.54"/><circle cx="23.9" cy="20.3" r="0.47"/><circle cx="19.3" cy="32.1" r="0.35"/><circle cx="15.3" cy="19.6" r="0.41"/><circle cx="6.0" cy="24.3" r="0.40"/><circle cx="10.4" cy="17.3" r="0.51"/><circle cx="29.2" cy="16.9" r="0.53"/><circle cx="35.5" cy="30.2" r="0.50"/><circle cx="33.0" cy="17.7" r="0.49"/><circle cx="22.7" cy="20.4" r="0.51"/><circle cx="27.7" cy="18.2" r="0.41"/><circle cx="7.2" cy="31.8" r="0.55"/><circle cx="28.9" cy="35.2" r="0.37"/><circle cx="32.3" cy="27.2" r="0.55"/><circle cx="31.0" cy="19.5" r="0.48"/><circle cx="15.7" cy="14.6" r="0.53"/><circle cx="32.4" cy="29.6" r="0.36"/><circle cx="38.3" cy="15.2" r="0.44"/><circle cx="38.9" cy="33.6" r="0.51"/><circle cx="36.5" cy="10.8" r="0.49"/><circle cx="7.0" cy="25.3" r="0.37"/><circle cx="29.6" cy="15.4" r="0.44"/><circle cx="25.1" cy="23.2" r="0.41"/><circle cx="28.7" cy="13.2" r="0.54"/><circle cx="22.1" cy="15.4" r="0.45"/><circle cx="14.5" cy="36.5" r="0.50"/><circle cx="18.8" cy="24.2" r="0.53"/><circle cx="30.5" cy="37.9" r="0.52"/></g></svg><svg x="586.4" y="217.3" width="48.2" height="47.7" viewBox="0 0 48 48" preserveAspectRatio="none"><rect width="48" height="48" fill="#2f66cc"/><rect width="48" height="48" filter="url(#bluetexF)"/><circle cx="24" cy="24" r="22.6" fill="#7090d4" fill-opacity="0.45" stroke="#d4def4" stroke-width="1.3" stroke-opacity="0.9"/><circle cx="24" cy="24.3" r="20.6" fill="#7086bc" fill-opacity="0.9" stroke="#dcd8c8" stroke-width="1.3"/><g fill="#e8e2cc"><circle cx="19.9" cy="25.4" r="0.46"/><circle cx="30.4" cy="28.9" r="0.38"/><circle cx="30.8" cy="37.0" r="0.51"/><circle cx="6.7" cy="31.0" r="0.35"/><circle cx="18.8" cy="33.8" r="0.46"/><circle cx="19.2" cy="15.6" r="0.43"/><circle cx="15.8" cy="31.8" r="0.35"/><circle cx="24.0" cy="21.1" r="0.43"/><circle cx="25.9" cy="36.4" r="0.50"/><circle cx="29.2" cy="7.4" r="0.48"/><circle cx="23.6" cy="26.1" r="0.37"/><circle cx="32.8" cy="16.5" r="0.42"/><circle cx="17.4" cy="33.1" r="0.38"/><circle cx="21.5" cy="37.1" r="0.44"/><circle cx="29.9" cy="26.6" r="0.34"/><circle cx="9.0" cy="27.3" r="0.54"/><circle cx="12.1" cy="33.0" r="0.51"/><circle cx="10.4" cy="21.2" r="0.37"/><circle cx="17.3" cy="9.6" r="0.41"/><circle cx="19.4" cy="16.9" r="0.36"/><circle cx="17.2" cy="36.6" r="0.42"/><circle cx="23.9" cy="43.0" r="0.49"/><circle cx="23.0" cy="29.3" r="0.50"/><circle cx="38.2" cy="16.7" r="0.49"/><circle cx="39.5" cy="21.1" r="0.37"/><circle cx="12.2" cy="26.4" r="0.47"/><circle cx="32.3" cy="36.9" r="0.50"/><circle cx="21.9" cy="39.2" r="0.41"/><circle cx="18.0" cy="12.8" r="0.55"/><circle cx="20.2" cy="25.1" r="0.35"/><circle cx="21.9" cy="18.9" r="0.51"/><circle cx="12.8" cy="24.7" r="0.43"/><circle cx="31.7" cy="12.7" r="0.43"/><circle cx="9.8" cy="26.9" r="0.44"/><circle cx="21.0" cy="12.5" r="0.40"/><circle cx="33.3" cy="33.1" r="0.38"/><circle cx="26.7" cy="31.8" r="0.42"/><circle cx="35.5" cy="17.0" r="0.40"/><circle cx="11.3" cy="26.4" r="0.35"/><circle cx="28.9" cy="11.7" r="0.56"/><circle cx="17.7" cy="17.3" r="0.56"/><circle cx="29.9" cy="29.3" r="0.37"/><circle cx="27.9" cy="30.1" r="0.54"/><circle cx="32.2" cy="34.7" r="0.37"/><circle cx="21.8" cy="29.6" r="0.42"/><circle cx="20.8" cy="40.2" r="0.56"/><circle cx="28.7" cy="36.4" r="0.48"/><circle cx="28.8" cy="23.9" r="0.48"/><circle cx="12.9" cy="32.0" r="0.50"/><circle cx="20.0" cy="13.2" r="0.52"/><circle cx="16.0" cy="19.9" r="0.38"/><circle cx="29.4" cy="40.5" r="0.53"/><circle cx="31.7" cy="36.7" r="0.35"/><circle cx="38.5" cy="30.3" r="0.46"/><circle cx="12.7" cy="29.7" r="0.44"/><circle cx="16.7" cy="31.4" r="0.55"/><circle cx="37.2" cy="30.5" r="0.38"/><circle cx="21.4" cy="27.3" r="0.37"/><circle cx="21.4" cy="22.1" r="0.43"/><circle cx="13.0" cy="15.0" r="0.36"/><circle cx="14.4" cy="29.4" r="0.52"/><circle cx="33.7" cy="13.3" r="0.51"/><circle cx="7.9" cy="34.0" r="0.50"/><circle cx="29.9" cy="19.4" r="0.49"/><circle cx="16.3" cy="10.5" r="0.54"/><circle cx="24.9" cy="30.8" r="0.46"/><circle cx="27.3" cy="42.7" r="0.54"/><circle cx="7.1" cy="26.3" r="0.48"/><circle cx="36.1" cy="17.0" r="0.38"/><circle cx="33.8" cy="23.8" r="0.36"/><circle cx="26.8" cy="9.2" r="0.53"/><circle cx="27.3" cy="42.3" r="0.52"/><circle cx="22.5" cy="22.4" r="0.51"/><circle cx="19.1" cy="29.3" r="0.41"/><circle cx="34.1" cy="20.8" r="0.44"/><circle cx="37.1" cy="15.0" r="0.42"/><circle cx="17.0" cy="36.5" r="0.46"/><circle cx="21.6" cy="9.2" r="0.38"/><circle cx="35.9" cy="12.2" r="0.45"/><circle cx="31.8" cy="34.4" r="0.53"/><circle cx="22.6" cy="35.0" r="0.49"/><circle cx="23.0" cy="7.0" r="0.43"/><circle cx="23.0" cy="15.2" r="0.35"/><circle cx="20.6" cy="15.7" r="0.53"/><circle cx="19.0" cy="34.2" r="0.53"/><circle cx="42.4" cy="27.5" r="0.41"/><circle cx="34.7" cy="27.0" r="0.37"/><circle cx="23.8" cy="37.8" r="0.46"/><circle cx="31.1" cy="41.9" r="0.37"/><circle cx="31.7" cy="30.4" r="0.34"/><circle cx="29.4" cy="19.1" r="0.34"/><circle cx="15.9" cy="16.7" r="0.36"/><circle cx="16.0" cy="25.9" r="0.36"/><circle cx="14.7" cy="23.9" r="0.42"/><circle cx="5.1" cy="25.0" r="0.47"/><circle cx="14.5" cy="19.9" r="0.44"/><circle cx="22.3" cy="41.7" r="0.55"/><circle cx="30.3" cy="13.9" r="0.50"/><circle cx="19.2" cy="40.5" r="0.55"/><circle cx="26.6" cy="29.2" r="0.56"/><circle cx="8.9" cy="16.9" r="0.53"/><circle cx="26.0" cy="18.5" r="0.39"/><circle cx="11.9" cy="37.3" r="0.50"/><circle cx="25.4" cy="31.2" r="0.52"/><circle cx="26.0" cy="22.3" r="0.41"/><circle cx="33.5" cy="32.3" r="0.34"/><circle cx="18.1" cy="29.4" r="0.35"/><circle cx="31.3" cy="22.9" r="0.55"/><circle cx="22.3" cy="13.2" r="0.42"/><circle cx="17.0" cy="31.4" r="0.47"/><circle cx="33.7" cy="35.2" r="0.45"/><circle cx="31.0" cy="41.5" r="0.40"/><circle cx="12.8" cy="12.7" r="0.50"/><circle cx="12.7" cy="18.1" r="0.43"/><circle cx="23.7" cy="19.6" r="0.46"/><circle cx="30.8" cy="13.5" r="0.45"/><circle cx="17.9" cy="8.6" r="0.41"/><circle cx="10.2" cy="14.1" r="0.48"/><circle cx="28.7" cy="42.7" r="0.41"/><circle cx="21.4" cy="20.8" r="0.49"/><circle cx="7.0" cy="18.2" r="0.39"/><circle cx="34.8" cy="25.8" r="0.43"/><circle cx="19.8" cy="14.6" r="0.51"/><circle cx="26.0" cy="21.6" r="0.56"/><circle cx="32.9" cy="28.1" r="0.36"/><circle cx="29.8" cy="6.7" r="0.40"/><circle cx="7.0" cy="16.5" r="0.51"/><circle cx="23.3" cy="37.2" r="0.54"/><circle cx="33.2" cy="14.8" r="0.47"/><circle cx="34.8" cy="29.5" r="0.52"/><circle cx="32.2" cy="26.4" r="0.46"/><circle cx="32.0" cy="25.2" r="0.51"/><circle cx="29.2" cy="36.6" r="0.55"/><circle cx="8.5" cy="21.7" r="0.35"/><circle cx="10.4" cy="21.9" r="0.45"/><circle cx="19.1" cy="24.9" r="0.48"/><circle cx="14.7" cy="37.3" r="0.39"/><circle cx="35.0" cy="17.5" r="0.52"/><circle cx="14.0" cy="22.9" r="0.44"/><circle cx="21.4" cy="37.9" r="0.42"/><circle cx="21.9" cy="43.2" r="0.56"/><circle cx="9.7" cy="23.3" r="0.52"/><circle cx="15.7" cy="15.3" r="0.45"/><circle cx="25.5" cy="19.7" r="0.43"/><circle cx="36.4" cy="31.4" r="0.34"/><circle cx="17.6" cy="26.9" r="0.41"/><circle cx="33.1" cy="22.8" r="0.42"/><circle cx="26.8" cy="16.1" r="0.39"/><circle cx="11.0" cy="31.5" r="0.38"/><circle cx="23.8" cy="29.0" r="0.40"/><circle cx="12.7" cy="33.6" r="0.40"/><circle cx="7.4" cy="21.5" r="0.40"/><circle cx="20.7" cy="8.1" r="0.55"/><circle cx="23.0" cy="9.2" r="0.48"/><circle cx="10.8" cy="36.5" r="0.38"/><circle cx="19.7" cy="29.5" r="0.45"/><circle cx="36.5" cy="15.6" r="0.34"/><circle cx="27.3" cy="21.3" r="0.38"/><circle cx="21.2" cy="24.7" r="0.52"/><circle cx="16.7" cy="7.1" r="0.48"/><circle cx="15.8" cy="28.2" r="0.41"/><circle cx="12.0" cy="11.8" r="0.38"/><circle cx="8.9" cy="21.8" r="0.39"/><circle cx="21.4" cy="14.6" r="0.42"/><circle cx="29.1" cy="42.1" r="0.35"/><circle cx="18.7" cy="38.2" r="0.45"/><circle cx="26.3" cy="37.6" r="0.44"/><circle cx="11.9" cy="20.7" r="0.37"/><circle cx="20.5" cy="14.0" r="0.52"/><circle cx="15.0" cy="39.5" r="0.39"/><circle cx="12.7" cy="9.4" r="0.40"/><circle cx="28.8" cy="11.0" r="0.34"/><circle cx="14.2" cy="18.0" r="0.35"/><circle cx="29.2" cy="9.3" r="0.55"/><circle cx="31.7" cy="32.7" r="0.47"/><circle cx="20.2" cy="29.9" r="0.42"/><circle cx="11.8" cy="29.8" r="0.44"/><circle cx="12.2" cy="30.8" r="0.49"/><circle cx="24.1" cy="37.5" r="0.53"/><circle cx="27.1" cy="7.7" r="0.55"/><circle cx="6.7" cy="25.7" r="0.52"/><circle cx="13.7" cy="37.4" r="0.45"/><circle cx="17.0" cy="21.3" r="0.50"/><circle cx="17.8" cy="35.1" r="0.46"/><circle cx="25.3" cy="5.6" r="0.53"/><circle cx="18.9" cy="15.4" r="0.46"/><circle cx="16.0" cy="16.3" r="0.54"/><circle cx="18.8" cy="37.1" r="0.56"/><circle cx="26.9" cy="36.3" r="0.54"/><circle cx="35.6" cy="19.3" r="0.49"/><circle cx="18.9" cy="21.9" r="0.54"/><circle cx="36.9" cy="11.5" r="0.39"/><circle cx="7.5" cy="19.4" r="0.53"/><circle cx="26.7" cy="20.9" r="0.49"/><circle cx="20.0" cy="30.2" r="0.45"/><circle cx="33.2" cy="29.3" r="0.43"/><circle cx="15.3" cy="30.6" r="0.45"/><circle cx="16.6" cy="23.9" r="0.39"/><circle cx="22.6" cy="26.7" r="0.46"/><circle cx="31.7" cy="18.9" r="0.54"/><circle cx="15.3" cy="33.7" r="0.51"/><circle cx="11.5" cy="29.1" r="0.54"/><circle cx="35.4" cy="29.6" r="0.41"/><circle cx="9.9" cy="24.6" r="0.49"/><circle cx="19.0" cy="41.9" r="0.55"/><circle cx="26.6" cy="9.7" r="0.52"/><circle cx="38.1" cy="29.3" r="0.44"/><circle cx="16.8" cy="38.3" r="0.42"/><circle cx="28.9" cy="20.5" r="0.40"/><circle cx="17.0" cy="25.5" r="0.36"/><circle cx="19.7" cy="15.6" r="0.37"/><circle cx="18.8" cy="7.5" r="0.48"/><circle cx="16.8" cy="17.2" r="0.54"/><circle cx="27.7" cy="7.6" r="0.46"/><circle cx="25.7" cy="37.2" r="0.42"/><circle cx="18.9" cy="19.3" r="0.38"/><circle cx="17.3" cy="22.0" r="0.37"/><circle cx="11.8" cy="21.0" r="0.52"/><circle cx="38.1" cy="22.7" r="0.48"/><circle cx="10.9" cy="31.1" r="0.42"/><circle cx="33.3" cy="14.5" r="0.39"/><circle cx="8.8" cy="32.9" r="0.34"/><circle cx="40.4" cy="23.6" r="0.45"/><circle cx="22.2" cy="33.6" r="0.42"/><circle cx="21.7" cy="9.4" r="0.45"/><circle cx="15.0" cy="32.7" r="0.37"/><circle cx="12.7" cy="35.3" r="0.34"/><circle cx="26.4" cy="23.4" r="0.44"/><circle cx="20.3" cy="37.7" r="0.40"/><circle cx="20.9" cy="21.9" r="0.54"/><circle cx="39.6" cy="15.8" r="0.49"/><circle cx="33.8" cy="35.7" r="0.47"/><circle cx="27.8" cy="12.0" r="0.51"/><circle cx="22.8" cy="27.4" r="0.37"/><circle cx="34.8" cy="23.8" r="0.37"/><circle cx="33.4" cy="40.3" r="0.52"/><circle cx="20.0" cy="26.0" r="0.52"/><circle cx="40.4" cy="24.6" r="0.43"/><circle cx="22.5" cy="26.2" r="0.49"/><circle cx="33.0" cy="15.3" r="0.53"/><circle cx="28.3" cy="34.2" r="0.43"/><circle cx="31.4" cy="41.7" r="0.45"/><circle cx="39.2" cy="24.4" r="0.37"/><circle cx="13.6" cy="38.0" r="0.41"/><circle cx="22.1" cy="41.8" r="0.40"/><circle cx="27.3" cy="23.2" r="0.35"/><circle cx="38.9" cy="23.7" r="0.46"/><circle cx="26.8" cy="14.3" r="0.53"/><circle cx="20.7" cy="41.6" r="0.45"/><circle cx="39.0" cy="13.2" r="0.52"/><circle cx="32.0" cy="34.4" r="0.54"/><circle cx="15.9" cy="27.3" r="0.44"/><circle cx="27.5" cy="28.2" r="0.47"/><circle cx="36.1" cy="25.0" r="0.41"/><circle cx="27.3" cy="13.4" r="0.44"/><circle cx="18.9" cy="18.4" r="0.45"/><circle cx="28.1" cy="35.6" r="0.52"/><circle cx="41.4" cy="17.8" r="0.52"/><circle cx="36.0" cy="27.5" r="0.42"/><circle cx="14.8" cy="33.4" r="0.49"/><circle cx="38.6" cy="24.8" r="0.35"/><circle cx="23.9" cy="5.9" r="0.49"/><circle cx="26.9" cy="5.7" r="0.54"/><circle cx="20.4" cy="38.7" r="0.45"/><circle cx="11.7" cy="22.8" r="0.34"/><circle cx="22.4" cy="27.1" r="0.54"/><circle cx="25.1" cy="19.9" r="0.48"/><circle cx="35.0" cy="14.0" r="0.49"/><circle cx="12.2" cy="25.5" r="0.41"/><circle cx="33.0" cy="29.8" r="0.38"/><circle cx="13.6" cy="29.4" r="0.41"/><circle cx="33.1" cy="23.9" r="0.43"/><circle cx="29.0" cy="14.0" r="0.35"/><circle cx="13.7" cy="20.0" r="0.52"/><circle cx="18.6" cy="33.8" r="0.45"/><circle cx="19.3" cy="19.4" r="0.35"/><circle cx="24.8" cy="14.8" r="0.55"/><circle cx="29.2" cy="11.4" r="0.36"/><circle cx="23.9" cy="26.9" r="0.47"/><circle cx="9.0" cy="18.3" r="0.42"/><circle cx="38.7" cy="14.3" r="0.49"/><circle cx="5.7" cy="23.8" r="0.45"/><circle cx="41.9" cy="24.6" r="0.36"/><circle cx="16.4" cy="32.9" r="0.53"/><circle cx="12.7" cy="16.0" r="0.56"/><circle cx="35.6" cy="14.4" r="0.43"/><circle cx="26.4" cy="42.0" r="0.50"/><circle cx="34.2" cy="17.8" r="0.55"/><circle cx="33.1" cy="29.0" r="0.55"/><circle cx="25.1" cy="16.4" r="0.42"/><circle cx="26.8" cy="39.1" r="0.49"/><circle cx="14.4" cy="17.0" r="0.35"/><circle cx="15.0" cy="40.2" r="0.50"/><circle cx="12.0" cy="16.1" r="0.43"/><circle cx="32.5" cy="25.4" r="0.41"/><circle cx="35.3" cy="25.3" r="0.41"/><circle cx="13.7" cy="30.9" r="0.51"/><circle cx="6.2" cy="21.6" r="0.46"/><circle cx="18.3" cy="35.7" r="0.49"/><circle cx="33.4" cy="37.3" r="0.55"/><circle cx="21.9" cy="8.7" r="0.53"/><circle cx="38.2" cy="25.4" r="0.42"/><circle cx="28.9" cy="35.1" r="0.35"/><circle cx="21.9" cy="18.7" r="0.42"/><circle cx="39.7" cy="34.9" r="0.39"/><circle cx="21.4" cy="23.5" r="0.40"/><circle cx="21.8" cy="25.7" r="0.54"/><circle cx="21.8" cy="21.5" r="0.44"/><circle cx="32.9" cy="32.9" r="0.51"/><circle cx="28.8" cy="41.0" r="0.45"/><circle cx="10.7" cy="11.1" r="0.38"/><circle cx="21.6" cy="6.3" r="0.45"/><circle cx="26.1" cy="40.9" r="0.44"/><circle cx="41.6" cy="28.2" r="0.37"/><circle cx="23.7" cy="16.4" r="0.44"/><circle cx="14.2" cy="23.0" r="0.47"/><circle cx="34.7" cy="23.6" r="0.48"/><circle cx="30.8" cy="21.6" r="0.54"/><circle cx="37.2" cy="17.1" r="0.35"/><circle cx="23.0" cy="33.3" r="0.45"/><circle cx="29.2" cy="41.9" r="0.56"/><circle cx="39.1" cy="32.5" r="0.43"/><circle cx="11.3" cy="22.8" r="0.42"/><circle cx="9.5" cy="23.8" r="0.41"/><circle cx="25.5" cy="35.8" r="0.38"/><circle cx="14.3" cy="14.0" r="0.50"/><circle cx="14.5" cy="12.7" r="0.39"/><circle cx="18.7" cy="27.3" r="0.52"/><circle cx="37.4" cy="16.6" r="0.45"/><circle cx="18.4" cy="37.1" r="0.51"/><circle cx="9.4" cy="24.5" r="0.36"/><circle cx="26.8" cy="38.1" r="0.53"/><circle cx="21.3" cy="37.6" r="0.41"/><circle cx="31.7" cy="31.0" r="0.49"/><circle cx="15.2" cy="33.5" r="0.46"/><circle cx="11.9" cy="15.5" r="0.49"/><circle cx="35.7" cy="14.5" r="0.46"/><circle cx="34.5" cy="17.3" r="0.46"/><circle cx="37.2" cy="31.7" r="0.47"/><circle cx="28.5" cy="22.1" r="0.39"/><circle cx="24.9" cy="7.5" r="0.49"/><circle cx="25.7" cy="42.5" r="0.46"/><circle cx="33.5" cy="9.9" r="0.49"/><circle cx="8.6" cy="23.5" r="0.37"/><circle cx="24.0" cy="6.0" r="0.48"/><circle cx="14.0" cy="11.3" r="0.49"/><circle cx="35.1" cy="37.7" r="0.52"/><circle cx="25.1" cy="38.4" r="0.36"/><circle cx="24.2" cy="35.9" r="0.45"/><circle cx="27.7" cy="6.2" r="0.51"/><circle cx="19.6" cy="34.2" r="0.36"/><circle cx="12.8" cy="20.8" r="0.46"/><circle cx="10.5" cy="31.8" r="0.51"/><circle cx="12.3" cy="30.8" r="0.49"/><circle cx="28.9" cy="38.6" r="0.36"/><circle cx="19.7" cy="36.2" r="0.45"/><circle cx="10.5" cy="35.8" r="0.40"/><circle cx="29.6" cy="9.1" r="0.38"/><circle cx="20.8" cy="40.1" r="0.47"/><circle cx="10.1" cy="13.4" r="0.37"/><circle cx="32.0" cy="41.4" r="0.41"/><circle cx="16.3" cy="17.7" r="0.37"/><circle cx="30.5" cy="9.1" r="0.40"/><circle cx="37.8" cy="33.6" r="0.40"/><circle cx="24.8" cy="14.9" r="0.56"/><circle cx="31.1" cy="32.7" r="0.39"/><circle cx="12.0" cy="12.5" r="0.37"/><circle cx="6.3" cy="19.3" r="0.43"/><circle cx="21.2" cy="8.5" r="0.40"/><circle cx="37.1" cy="13.5" r="0.44"/><circle cx="25.7" cy="30.6" r="0.53"/><circle cx="11.6" cy="18.5" r="0.43"/><circle cx="32.1" cy="24.8" r="0.35"/><circle cx="38.3" cy="12.7" r="0.43"/><circle cx="13.5" cy="14.1" r="0.56"/><circle cx="30.9" cy="23.4" r="0.55"/><circle cx="15.5" cy="16.7" r="0.51"/><circle cx="40.6" cy="28.4" r="0.53"/><circle cx="32.4" cy="29.3" r="0.56"/><circle cx="38.0" cy="19.1" r="0.55"/><circle cx="34.6" cy="30.4" r="0.53"/><circle cx="34.4" cy="27.6" r="0.37"/><circle cx="8.0" cy="14.2" r="0.45"/><circle cx="26.3" cy="20.0" r="0.43"/><circle cx="42.2" cy="20.3" r="0.39"/><circle cx="29.2" cy="32.7" r="0.55"/><circle cx="31.1" cy="30.9" r="0.41"/><circle cx="8.1" cy="29.7" r="0.45"/><circle cx="27.6" cy="11.7" r="0.52"/><circle cx="15.1" cy="36.1" r="0.42"/><circle cx="17.1" cy="28.5" r="0.53"/><circle cx="13.3" cy="39.3" r="0.48"/><circle cx="38.1" cy="35.4" r="0.53"/><circle cx="15.9" cy="18.7" r="0.53"/><circle cx="19.8" cy="41.9" r="0.53"/><circle cx="33.9" cy="29.3" r="0.56"/><circle cx="26.9" cy="15.6" r="0.43"/><circle cx="25.8" cy="22.9" r="0.37"/><circle cx="21.0" cy="12.9" r="0.48"/><circle cx="12.4" cy="31.1" r="0.49"/><circle cx="23.4" cy="17.9" r="0.47"/><circle cx="42.4" cy="21.5" r="0.36"/><circle cx="15.6" cy="23.0" r="0.56"/><circle cx="22.3" cy="42.3" r="0.43"/><circle cx="28.8" cy="21.7" r="0.46"/><circle cx="14.0" cy="17.3" r="0.40"/><circle cx="26.6" cy="19.1" r="0.53"/><circle cx="37.0" cy="12.9" r="0.48"/><circle cx="13.0" cy="31.3" r="0.39"/><circle cx="22.8" cy="38.0" r="0.35"/><circle cx="39.5" cy="24.4" r="0.55"/><circle cx="22.6" cy="19.0" r="0.36"/><circle cx="37.5" cy="29.8" r="0.51"/><circle cx="19.9" cy="25.4" r="0.55"/><circle cx="25.5" cy="16.5" r="0.53"/><circle cx="33.2" cy="19.5" r="0.46"/><circle cx="35.2" cy="24.7" r="0.38"/><circle cx="39.0" cy="18.1" r="0.39"/><circle cx="23.6" cy="17.6" r="0.35"/><circle cx="9.3" cy="33.3" r="0.55"/><circle cx="20.8" cy="33.9" r="0.44"/><circle cx="11.8" cy="34.3" r="0.44"/><circle cx="24.4" cy="34.3" r="0.46"/><circle cx="31.1" cy="27.9" r="0.38"/><circle cx="25.3" cy="28.0" r="0.46"/><circle cx="16.9" cy="16.9" r="0.55"/><circle cx="19.6" cy="37.0" r="0.48"/><circle cx="12.1" cy="10.3" r="0.35"/><circle cx="28.3" cy="26.8" r="0.36"/><circle cx="14.3" cy="34.4" r="0.51"/><circle cx="33.2" cy="12.9" r="0.46"/><circle cx="15.7" cy="27.1" r="0.39"/><circle cx="20.0" cy="29.4" r="0.48"/><circle cx="24.4" cy="43.0" r="0.41"/><circle cx="24.5" cy="14.6" r="0.39"/><circle cx="11.1" cy="29.6" r="0.56"/><circle cx="25.5" cy="27.0" r="0.36"/><circle cx="27.1" cy="20.4" r="0.55"/><circle cx="31.5" cy="40.8" r="0.42"/><circle cx="34.7" cy="17.3" r="0.42"/><circle cx="36.0" cy="25.1" r="0.44"/><circle cx="36.4" cy="18.6" r="0.53"/><circle cx="9.7" cy="29.1" r="0.47"/><circle cx="34.4" cy="34.5" r="0.50"/><circle cx="17.0" cy="28.4" r="0.37"/><circle cx="7.7" cy="33.3" r="0.44"/><circle cx="24.9" cy="37.5" r="0.50"/><circle cx="27.9" cy="18.9" r="0.44"/><circle cx="34.0" cy="27.7" r="0.44"/><circle cx="26.7" cy="30.6" r="0.52"/><circle cx="27.7" cy="40.4" r="0.37"/><circle cx="28.2" cy="31.5" r="0.52"/><circle cx="31.5" cy="29.0" r="0.47"/><circle cx="7.3" cy="30.6" r="0.40"/><circle cx="39.3" cy="28.9" r="0.43"/><circle cx="15.8" cy="22.9" r="0.55"/><circle cx="25.8" cy="15.0" r="0.42"/><circle cx="37.4" cy="37.5" r="0.37"/><circle cx="16.8" cy="29.2" r="0.45"/><circle cx="16.5" cy="18.3" r="0.47"/><circle cx="19.5" cy="16.3" r="0.56"/><circle cx="13.3" cy="33.8" r="0.55"/><circle cx="23.7" cy="25.1" r="0.39"/><circle cx="28.6" cy="27.6" r="0.54"/><circle cx="19.1" cy="18.1" r="0.42"/><circle cx="19.5" cy="28.9" r="0.40"/><circle cx="42.2" cy="26.4" r="0.44"/><circle cx="6.9" cy="21.4" r="0.46"/><circle cx="8.1" cy="27.2" r="0.46"/><circle cx="16.1" cy="38.9" r="0.36"/><circle cx="17.3" cy="20.6" r="0.45"/><circle cx="29.9" cy="36.7" r="0.42"/><circle cx="19.8" cy="14.4" r="0.36"/><circle cx="14.3" cy="17.0" r="0.50"/><circle cx="22.4" cy="22.5" r="0.47"/><circle cx="42.0" cy="26.5" r="0.47"/><circle cx="13.9" cy="18.9" r="0.35"/><circle cx="20.5" cy="34.0" r="0.38"/><circle cx="33.5" cy="22.8" r="0.45"/><circle cx="25.4" cy="41.7" r="0.36"/></g></svg><svg x="635.9" y="217.3" width="48.2" height="47.7" viewBox="0 0 48 48" preserveAspectRatio="none"><rect width="48" height="48" fill="#2f66cc"/><rect width="48" height="48" filter="url(#bluetexF)"/><circle cx="24" cy="24" r="22.6" fill="#7090d4" fill-opacity="0.45" stroke="#d4def4" stroke-width="1.3" stroke-opacity="0.9"/><circle cx="24" cy="24.3" r="20.6" fill="#a0acca" fill-opacity="0.9" stroke="#dcd8c8" stroke-width="1.3"/><g fill="#f0e0a0"><circle cx="31.6" cy="23.0" r="0.53"/><circle cx="14.1" cy="28.1" r="0.48"/><circle cx="25.1" cy="20.1" r="0.54"/><circle cx="28.3" cy="24.7" r="0.56"/><circle cx="23.1" cy="23.9" r="0.58"/><circle cx="13.1" cy="39.6" r="0.74"/><circle cx="10.7" cy="15.4" r="0.46"/><circle cx="6.6" cy="19.7" r="0.71"/></g></svg><text transform="translate(385,291.5) rotate(-90)" font-size="10" text-anchor="middle">14 days</text><svg x="388.4" y="267.4" width="48.2" height="48.2" viewBox="0 0 48 48" preserveAspectRatio="none"><rect width="48" height="48" fill="#2f66cc"/><rect width="48" height="48" filter="url(#bluetexF)"/><circle cx="24" cy="24" r="22.6" fill="#7090d4" fill-opacity="0.45" stroke="#d4def4" stroke-width="1.3" stroke-opacity="0.9"/><circle cx="24" cy="24.3" r="20.6" fill="#5480c8" fill-opacity="1" stroke="#dcd8c8" stroke-width="1.3"/><g fill=""></g></svg><svg x="437.9" y="267.4" width="48.2" height="48.2" viewBox="0 0 48 48" preserveAspectRatio="none"><rect width="48" height="48" fill="#2f66cc"/><rect width="48" height="48" filter="url(#bluetexF)"/><circle cx="24" cy="24" r="22.6" fill="#7090d4" fill-opacity="0.45" stroke="#d4def4" stroke-width="1.3" stroke-opacity="0.9"/><circle cx="24" cy="24.3" r="20.6" fill="#b6b2a0" fill-opacity="0.9" stroke="#dcd8c8" stroke-width="1.3"/><g fill="#ece4c4"><circle cx="20.1" cy="8.1" r="0.98"/><circle cx="17.4" cy="19.9" r="0.87"/><circle cx="24.9" cy="42.2" r="0.68"/><circle cx="33.9" cy="12.6" r="0.86"/><circle cx="26.9" cy="37.0" r="0.81"/><circle cx="39.8" cy="23.2" r="0.90"/><circle cx="36.5" cy="23.6" r="0.85"/><circle cx="12.2" cy="20.2" r="0.73"/><circle cx="20.7" cy="28.8" r="0.98"/><circle cx="23.9" cy="41.8" r="0.74"/><circle cx="22.2" cy="27.7" r="0.80"/><circle cx="26.9" cy="35.5" r="0.91"/><circle cx="28.3" cy="22.5" r="0.89"/><circle cx="37.7" cy="13.3" r="0.93"/><circle cx="26.2" cy="11.1" r="0.62"/><circle cx="29.3" cy="40.4" r="0.76"/><circle cx="8.4" cy="26.8" r="0.76"/><circle cx="23.1" cy="34.4" r="0.97"/><circle cx="8.2" cy="28.7" r="0.87"/><circle cx="17.1" cy="34.2" r="0.80"/><circle cx="9.4" cy="22.6" r="0.68"/><circle cx="8.7" cy="30.2" r="0.71"/><circle cx="8.8" cy="31.1" r="0.86"/><circle cx="18.8" cy="21.4" r="0.87"/><circle cx="23.8" cy="17.8" r="0.67"/><circle cx="34.2" cy="16.4" r="0.92"/><circle cx="40.5" cy="31.3" r="0.84"/><circle cx="26.4" cy="39.9" r="0.81"/><circle cx="26.1" cy="43.1" r="0.61"/><circle cx="15.9" cy="39.8" r="0.95"/><circle cx="31.9" cy="41.1" r="0.64"/><circle cx="13.7" cy="37.7" r="0.66"/><circle cx="17.1" cy="34.2" r="0.80"/><circle cx="17.2" cy="31.0" r="0.78"/><circle cx="9.5" cy="29.0" r="0.65"/><circle cx="40.2" cy="28.2" r="0.85"/><circle cx="20.0" cy="9.6" r="0.62"/><circle cx="35.7" cy="38.3" r="0.81"/><circle cx="14.0" cy="37.4" r="0.69"/><circle cx="39.5" cy="21.1" r="0.69"/><circle cx="24.4" cy="10.7" r="0.71"/><circle cx="28.9" cy="30.2" r="0.81"/><circle cx="7.5" cy="32.1" r="0.74"/><circle cx="8.5" cy="16.1" r="0.91"/><circle cx="14.0" cy="9.5" r="0.86"/><circle cx="31.5" cy="10.6" r="0.68"/><circle cx="11.2" cy="14.0" r="0.88"/><circle cx="21.3" cy="25.6" r="0.83"/><circle cx="30.9" cy="7.8" r="0.84"/><circle cx="15.1" cy="24.9" r="0.68"/><circle cx="25.2" cy="21.4" r="0.77"/><circle cx="21.2" cy="36.0" r="1.00"/><circle cx="38.9" cy="30.9" r="0.89"/><circle cx="32.0" cy="27.3" r="0.71"/><circle cx="29.5" cy="34.8" r="0.92"/><circle cx="38.2" cy="22.7" r="0.78"/><circle cx="15.2" cy="18.4" r="0.82"/><circle cx="19.5" cy="36.9" r="0.77"/><circle cx="10.5" cy="19.4" r="0.84"/><circle cx="14.4" cy="30.3" r="0.76"/><circle cx="19.8" cy="23.6" r="0.86"/><circle cx="18.8" cy="17.2" r="0.96"/><circle cx="15.4" cy="9.1" r="0.77"/><circle cx="33.2" cy="21.6" r="0.81"/><circle cx="13.8" cy="22.1" r="0.79"/><circle cx="26.5" cy="23.5" r="0.90"/><circle cx="31.8" cy="35.9" r="0.88"/><circle cx="6.8" cy="22.5" r="0.92"/><circle cx="33.2" cy="25.7" r="0.89"/><circle cx="20.2" cy="11.2" r="0.62"/><circle cx="28.5" cy="34.0" r="0.81"/><circle cx="22.6" cy="14.9" r="0.86"/><circle cx="16.8" cy="15.2" r="0.94"/><circle cx="26.3" cy="40.8" r="0.69"/><circle cx="25.0" cy="11.6" r="0.73"/><circle cx="29.8" cy="14.2" r="0.91"/><circle cx="19.2" cy="24.4" r="0.72"/><circle cx="25.2" cy="31.1" r="0.61"/><circle cx="12.4" cy="17.6" r="0.88"/><circle cx="21.9" cy="26.8" r="0.94"/><circle cx="23.8" cy="6.9" r="0.77"/><circle cx="23.1" cy="42.6" r="0.63"/><circle cx="17.8" cy="22.4" r="0.72"/><circle cx="40.4" cy="17.2" r="0.80"/><circle cx="35.9" cy="30.9" r="0.96"/><circle cx="27.0" cy="20.6" r="0.70"/><circle cx="19.6" cy="24.6" r="0.75"/><circle cx="15.1" cy="20.4" r="0.90"/><circle cx="33.3" cy="21.3" r="0.81"/><circle cx="22.4" cy="16.8" r="0.81"/><circle cx="8.3" cy="16.8" r="0.83"/><circle cx="36.0" cy="13.5" r="0.65"/><circle cx="24.7" cy="11.0" r="0.82"/><circle cx="9.6" cy="25.7" r="0.77"/><circle cx="8.3" cy="32.4" r="0.68"/><circle cx="16.3" cy="32.9" r="0.60"/><circle cx="34.9" cy="31.4" r="1.00"/><circle cx="15.3" cy="20.7" r="0.62"/><circle cx="20.2" cy="42.4" r="0.72"/><circle cx="32.3" cy="12.0" r="0.64"/><circle cx="34.7" cy="17.5" r="0.61"/><circle cx="35.3" cy="14.6" r="0.64"/><circle cx="13.8" cy="31.3" r="0.69"/><circle cx="11.3" cy="12.1" r="0.86"/><circle cx="30.4" cy="42.0" r="0.85"/><circle cx="33.7" cy="38.9" r="0.98"/><circle cx="33.1" cy="7.8" r="0.81"/><circle cx="40.9" cy="30.7" r="0.87"/><circle cx="42.9" cy="23.6" r="0.87"/><circle cx="38.3" cy="35.2" r="0.63"/><circle cx="13.4" cy="30.6" r="0.67"/><circle cx="16.9" cy="38.8" r="0.66"/><circle cx="20.2" cy="16.7" r="0.66"/><circle cx="32.5" cy="20.2" r="0.60"/><circle cx="13.9" cy="15.0" r="0.83"/><circle cx="34.0" cy="21.9" r="0.82"/><circle cx="27.3" cy="16.3" r="0.85"/><circle cx="17.7" cy="41.7" r="0.62"/><circle cx="29.7" cy="39.6" r="0.64"/><circle cx="17.9" cy="15.0" r="0.86"/><circle cx="14.0" cy="11.9" r="0.97"/><circle cx="26.2" cy="28.3" r="0.72"/><circle cx="35.1" cy="27.7" r="0.99"/><circle cx="26.2" cy="35.7" r="0.61"/><circle cx="21.4" cy="12.3" r="0.81"/><circle cx="33.1" cy="20.3" r="0.85"/><circle cx="24.6" cy="42.6" r="0.99"/><circle cx="11.7" cy="37.9" r="0.67"/><circle cx="35.6" cy="27.4" r="0.73"/><circle cx="27.3" cy="34.4" r="0.69"/><circle cx="15.3" cy="37.7" r="0.69"/><circle cx="8.5" cy="16.1" r="0.80"/><circle cx="31.7" cy="29.7" r="0.65"/><circle cx="20.5" cy="40.1" r="0.88"/><circle cx="20.1" cy="25.5" r="0.83"/><circle cx="36.1" cy="20.2" r="0.82"/><circle cx="11.7" cy="20.3" r="0.98"/><circle cx="35.2" cy="29.5" r="0.97"/><circle cx="38.7" cy="35.1" r="0.82"/><circle cx="6.8" cy="30.1" r="0.99"/><circle cx="29.7" cy="31.4" r="0.62"/><circle cx="16.4" cy="36.1" r="0.74"/><circle cx="22.2" cy="21.8" r="0.61"/><circle cx="14.0" cy="27.9" r="0.77"/><circle cx="14.7" cy="13.4" r="0.62"/><circle cx="26.5" cy="25.6" r="0.90"/><circle cx="40.2" cy="18.0" r="0.78"/><circle cx="25.8" cy="10.0" r="0.63"/><circle cx="38.6" cy="32.1" r="0.81"/><circle cx="16.8" cy="15.0" r="0.71"/><circle cx="26.7" cy="37.5" r="0.79"/><circle cx="11.5" cy="20.6" r="0.90"/><circle cx="39.5" cy="33.5" r="0.68"/><circle cx="15.7" cy="29.5" r="0.60"/><circle cx="24.6" cy="24.5" r="0.80"/><circle cx="34.1" cy="35.7" r="0.83"/><circle cx="30.7" cy="17.9" r="0.71"/><circle cx="19.2" cy="8.1" r="0.93"/><circle cx="39.2" cy="15.6" r="0.60"/><circle cx="8.5" cy="24.1" r="0.97"/><circle cx="14.0" cy="26.5" r="0.63"/><circle cx="25.9" cy="30.2" r="0.78"/><circle cx="35.1" cy="37.7" r="0.66"/><circle cx="16.0" cy="17.6" r="0.72"/><circle cx="28.6" cy="35.8" r="0.91"/><circle cx="11.1" cy="21.4" r="0.69"/><circle cx="16.9" cy="40.2" r="0.63"/><circle cx="13.9" cy="10.7" r="0.82"/><circle cx="19.3" cy="32.1" r="0.88"/><circle cx="19.5" cy="18.1" r="0.73"/><circle cx="25.7" cy="20.3" r="0.96"/><circle cx="17.5" cy="18.7" r="0.97"/><circle cx="15.9" cy="37.2" r="0.79"/><circle cx="31.3" cy="32.7" r="0.66"/><circle cx="19.9" cy="6.3" r="0.62"/><circle cx="27.8" cy="36.3" r="0.83"/><circle cx="10.4" cy="31.8" r="1.00"/><circle cx="29.4" cy="29.7" r="0.79"/><circle cx="13.8" cy="11.3" r="0.80"/><circle cx="38.0" cy="11.6" r="0.96"/><circle cx="10.7" cy="37.7" r="0.83"/><circle cx="28.6" cy="7.8" r="0.61"/><circle cx="41.0" cy="24.1" r="0.86"/><circle cx="20.3" cy="13.4" r="0.82"/><circle cx="17.1" cy="31.9" r="0.77"/><circle cx="10.1" cy="34.3" r="0.77"/><circle cx="34.4" cy="37.2" r="0.88"/><circle cx="37.3" cy="16.4" r="0.60"/><circle cx="37.3" cy="37.1" r="0.87"/><circle cx="8.0" cy="32.2" r="0.63"/><circle cx="28.0" cy="16.5" r="0.61"/><circle cx="33.2" cy="9.4" r="0.60"/><circle cx="16.2" cy="7.5" r="0.95"/><circle cx="8.0" cy="17.4" r="0.92"/><circle cx="6.1" cy="21.8" r="0.67"/><circle cx="27.8" cy="35.5" r="0.95"/><circle cx="32.4" cy="30.7" r="0.80"/><circle cx="37.5" cy="22.5" r="0.99"/><circle cx="33.5" cy="30.9" r="0.65"/><circle cx="32.3" cy="40.0" r="0.74"/><circle cx="11.4" cy="28.4" r="0.61"/><circle cx="38.8" cy="22.4" r="0.97"/><circle cx="34.0" cy="35.4" r="0.91"/><circle cx="23.0" cy="12.2" r="0.92"/><circle cx="37.1" cy="15.6" r="0.90"/><circle cx="29.5" cy="37.9" r="0.87"/><circle cx="28.7" cy="39.6" r="0.65"/><circle cx="24.3" cy="12.4" r="0.61"/><circle cx="16.8" cy="39.4" r="0.75"/><circle cx="11.2" cy="23.3" r="0.62"/><circle cx="11.5" cy="26.3" r="0.90"/><circle cx="24.2" cy="27.3" r="0.93"/><circle cx="23.5" cy="21.6" r="0.68"/><circle cx="27.7" cy="14.1" r="0.72"/><circle cx="9.3" cy="14.0" r="0.87"/><circle cx="35.9" cy="26.4" r="0.99"/><circle cx="14.6" cy="13.0" r="0.87"/><circle cx="23.6" cy="20.7" r="0.94"/><circle cx="29.1" cy="36.1" r="0.69"/><circle cx="31.5" cy="25.4" r="0.79"/><circle cx="21.9" cy="12.5" r="0.77"/><circle cx="32.3" cy="12.0" r="0.87"/><circle cx="16.1" cy="18.5" r="0.98"/><circle cx="21.2" cy="32.6" r="0.96"/><circle cx="8.4" cy="29.4" r="0.80"/><circle cx="26.0" cy="35.9" r="0.74"/><circle cx="12.9" cy="29.1" r="0.60"/><circle cx="29.1" cy="39.3" r="0.80"/><circle cx="24.5" cy="41.0" r="0.69"/><circle cx="38.4" cy="12.1" r="0.82"/><circle cx="8.2" cy="32.8" r="0.86"/><circle cx="37.0" cy="29.6" r="0.94"/><circle cx="24.3" cy="7.4" r="0.71"/><circle cx="37.1" cy="14.2" r="0.75"/><circle cx="27.5" cy="12.5" r="0.69"/><circle cx="10.8" cy="13.4" r="0.91"/><circle cx="29.8" cy="6.5" r="0.91"/><circle cx="35.8" cy="20.3" r="0.72"/><circle cx="18.1" cy="34.0" r="0.75"/><circle cx="18.6" cy="25.1" r="0.82"/><circle cx="14.6" cy="18.3" r="0.70"/><circle cx="40.8" cy="22.7" r="0.92"/><circle cx="22.6" cy="19.3" r="0.72"/><circle cx="21.2" cy="7.7" r="0.67"/><circle cx="10.6" cy="14.8" r="0.93"/><circle cx="36.7" cy="35.1" r="0.83"/><circle cx="28.0" cy="23.2" r="0.89"/><circle cx="40.3" cy="18.7" r="0.69"/><circle cx="7.1" cy="32.2" r="0.83"/><circle cx="12.5" cy="27.5" r="0.80"/><circle cx="34.1" cy="29.9" r="0.96"/><circle cx="29.3" cy="18.1" r="0.87"/><circle cx="30.9" cy="19.5" r="0.73"/><circle cx="14.7" cy="20.7" r="0.87"/><circle cx="25.7" cy="12.7" r="0.94"/><circle cx="32.6" cy="24.0" r="0.87"/><circle cx="36.1" cy="34.7" r="0.62"/><circle cx="12.7" cy="36.3" r="0.86"/><circle cx="17.8" cy="28.8" r="0.92"/><circle cx="16.0" cy="20.6" r="0.94"/><circle cx="22.1" cy="8.8" r="0.77"/><circle cx="23.6" cy="17.5" r="0.69"/><circle cx="18.0" cy="13.3" r="0.72"/><circle cx="32.5" cy="24.8" r="0.91"/><circle cx="38.3" cy="28.8" r="0.76"/><circle cx="14.9" cy="31.1" r="0.98"/><circle cx="36.9" cy="21.5" r="0.92"/><circle cx="6.8" cy="22.7" r="0.99"/><circle cx="17.5" cy="37.3" r="0.72"/><circle cx="22.3" cy="15.0" r="0.94"/><circle cx="31.0" cy="21.4" r="0.87"/><circle cx="26.8" cy="25.1" r="0.63"/><circle cx="6.6" cy="26.2" r="0.63"/><circle cx="34.2" cy="17.0" r="0.68"/><circle cx="14.8" cy="10.0" r="0.79"/><circle cx="7.0" cy="28.8" r="0.96"/><circle cx="33.9" cy="35.5" r="0.98"/><circle cx="29.4" cy="20.0" r="0.99"/><circle cx="14.4" cy="8.9" r="0.75"/><circle cx="40.6" cy="23.8" r="0.69"/><circle cx="20.3" cy="23.5" r="0.89"/><circle cx="15.2" cy="19.3" r="0.83"/><circle cx="31.4" cy="18.9" r="0.78"/><circle cx="18.0" cy="40.5" r="0.68"/><circle cx="39.2" cy="22.0" r="1.00"/><circle cx="23.0" cy="35.6" r="0.70"/><circle cx="23.9" cy="18.8" r="0.64"/><circle cx="33.4" cy="10.1" r="0.95"/><circle cx="17.5" cy="17.4" r="0.70"/><circle cx="27.1" cy="16.7" r="0.69"/><circle cx="30.4" cy="8.0" r="0.70"/><circle cx="28.5" cy="42.5" r="0.69"/><circle cx="14.8" cy="8.4" r="0.63"/><circle cx="31.2" cy="36.5" r="0.68"/><circle cx="37.4" cy="23.5" r="0.97"/><circle cx="20.8" cy="15.0" r="0.69"/><circle cx="11.4" cy="22.2" r="0.97"/><circle cx="23.1" cy="34.8" r="0.73"/><circle cx="24.6" cy="8.5" r="0.84"/><circle cx="30.2" cy="38.0" r="0.82"/><circle cx="27.8" cy="13.7" r="0.72"/><circle cx="24.9" cy="22.8" r="0.97"/><circle cx="26.2" cy="7.7" r="0.78"/><circle cx="22.0" cy="34.7" r="0.84"/><circle cx="35.0" cy="39.0" r="0.95"/><circle cx="12.2" cy="36.7" r="0.94"/><circle cx="37.5" cy="11.5" r="0.60"/><circle cx="32.7" cy="9.1" r="0.98"/><circle cx="21.1" cy="16.7" r="0.85"/><circle cx="16.2" cy="19.4" r="0.67"/><circle cx="29.8" cy="9.9" r="0.66"/><circle cx="14.6" cy="30.0" r="1.00"/><circle cx="18.5" cy="16.1" r="0.71"/><circle cx="35.5" cy="15.8" r="0.82"/><circle cx="15.9" cy="22.3" r="0.61"/><circle cx="15.2" cy="23.1" r="0.96"/><circle cx="12.7" cy="25.7" r="0.97"/><circle cx="14.6" cy="10.1" r="0.91"/><circle cx="18.3" cy="8.2" r="0.75"/><circle cx="14.1" cy="22.2" r="0.94"/><circle cx="14.0" cy="30.7" r="0.87"/><circle cx="26.7" cy="25.2" r="0.95"/><circle cx="31.3" cy="37.1" r="0.76"/><circle cx="15.0" cy="26.5" r="0.86"/><circle cx="33.0" cy="26.6" r="0.92"/><circle cx="21.1" cy="10.4" r="0.70"/><circle cx="30.8" cy="24.6" r="0.98"/><circle cx="35.2" cy="22.1" r="0.87"/><circle cx="8.1" cy="31.2" r="0.77"/><circle cx="26.2" cy="21.8" r="0.91"/></g></svg><svg x="487.4" y="267.4" width="48.2" height="48.2" viewBox="0 0 48 48" preserveAspectRatio="none"><rect width="48" height="48" fill="#2f66cc"/><rect width="48" height="48" filter="url(#bluetexF)"/><circle cx="24" cy="24" r="22.6" fill="#7090d4" fill-opacity="0.45" stroke="#d4def4" stroke-width="1.3" stroke-opacity="0.9"/><circle cx="24" cy="24.3" r="20.6" fill="#b6b2a0" fill-opacity="0.9" stroke="#dcd8c8" stroke-width="1.3"/><g fill="#ece4c4"><circle cx="10.0" cy="36.8" r="0.68"/><circle cx="34.1" cy="35.0" r="0.79"/><circle cx="27.1" cy="31.0" r="0.76"/><circle cx="26.6" cy="10.3" r="0.87"/><circle cx="29.6" cy="38.0" r="0.61"/><circle cx="28.2" cy="24.4" r="0.65"/><circle cx="36.9" cy="11.3" r="0.82"/><circle cx="19.6" cy="35.2" r="0.91"/><circle cx="13.9" cy="16.0" r="0.86"/><circle cx="5.8" cy="21.3" r="0.67"/><circle cx="24.1" cy="19.6" r="0.97"/><circle cx="32.0" cy="7.9" r="0.67"/><circle cx="21.4" cy="14.1" r="0.78"/><circle cx="19.6" cy="13.1" r="0.99"/><circle cx="33.9" cy="30.4" r="0.66"/><circle cx="36.9" cy="17.1" r="0.86"/><circle cx="13.4" cy="26.0" r="0.60"/><circle cx="14.3" cy="30.6" r="0.78"/><circle cx="19.2" cy="16.4" r="0.68"/><circle cx="36.0" cy="36.2" r="1.00"/><circle cx="28.1" cy="32.9" r="0.67"/><circle cx="13.2" cy="33.1" r="0.96"/><circle cx="27.8" cy="33.7" r="0.96"/><circle cx="36.8" cy="37.2" r="0.98"/><circle cx="26.3" cy="16.3" r="0.82"/><circle cx="26.6" cy="11.1" r="0.70"/><circle cx="12.7" cy="12.4" r="0.87"/><circle cx="26.0" cy="28.9" r="0.72"/><circle cx="20.8" cy="11.3" r="0.99"/><circle cx="21.6" cy="41.4" r="0.62"/><circle cx="24.8" cy="28.8" r="0.88"/><circle cx="34.7" cy="20.8" r="0.72"/><circle cx="30.8" cy="30.1" r="0.74"/><circle cx="33.5" cy="35.2" r="0.76"/><circle cx="38.5" cy="31.0" r="0.77"/><circle cx="10.0" cy="35.1" r="0.72"/><circle cx="26.6" cy="17.6" r="0.98"/><circle cx="38.5" cy="34.5" r="1.00"/><circle cx="15.8" cy="36.0" r="0.86"/><circle cx="29.6" cy="15.9" r="0.88"/><circle cx="21.7" cy="25.5" r="0.87"/><circle cx="34.8" cy="17.5" r="0.76"/><circle cx="6.0" cy="19.1" r="0.85"/><circle cx="30.2" cy="8.8" r="0.61"/><circle cx="12.8" cy="9.2" r="0.86"/><circle cx="27.3" cy="38.3" r="0.99"/><circle cx="15.6" cy="29.6" r="0.98"/><circle cx="22.5" cy="13.1" r="0.76"/><circle cx="29.7" cy="26.6" r="0.93"/><circle cx="26.0" cy="8.7" r="0.99"/><circle cx="13.9" cy="39.9" r="0.89"/><circle cx="37.1" cy="25.6" r="0.90"/><circle cx="13.9" cy="22.4" r="0.99"/><circle cx="13.2" cy="27.6" r="0.82"/><circle cx="20.1" cy="34.7" r="0.87"/><circle cx="31.1" cy="25.2" r="0.67"/><circle cx="19.1" cy="36.2" r="0.64"/><circle cx="28.3" cy="20.8" r="0.63"/><circle cx="22.2" cy="13.1" r="0.70"/><circle cx="22.2" cy="23.4" r="0.69"/><circle cx="5.3" cy="25.8" r="0.77"/><circle cx="22.7" cy="9.2" r="0.63"/><circle cx="10.5" cy="14.0" r="0.97"/><circle cx="11.9" cy="17.7" r="0.85"/><circle cx="35.1" cy="11.0" r="0.95"/><circle cx="35.8" cy="22.6" r="0.97"/><circle cx="11.7" cy="10.7" r="0.87"/><circle cx="15.1" cy="10.5" r="0.79"/><circle cx="19.5" cy="6.4" r="0.67"/><circle cx="12.4" cy="15.0" r="0.86"/><circle cx="27.7" cy="13.4" r="0.63"/><circle cx="17.6" cy="41.5" r="0.90"/><circle cx="38.0" cy="20.4" r="0.97"/><circle cx="13.8" cy="34.3" r="0.90"/><circle cx="19.1" cy="30.1" r="0.66"/><circle cx="14.3" cy="21.4" r="0.76"/><circle cx="36.5" cy="12.8" r="0.63"/><circle cx="11.5" cy="19.2" r="0.70"/><circle cx="25.9" cy="31.3" r="0.91"/><circle cx="34.6" cy="17.9" r="0.94"/><circle cx="21.8" cy="28.6" r="0.94"/><circle cx="15.2" cy="31.4" r="0.76"/><circle cx="31.7" cy="23.3" r="0.64"/><circle cx="7.6" cy="20.3" r="0.61"/><circle cx="5.4" cy="24.2" r="0.79"/><circle cx="28.8" cy="34.0" r="0.91"/><circle cx="12.6" cy="32.0" r="0.70"/><circle cx="35.3" cy="15.8" r="0.90"/><circle cx="21.6" cy="38.5" r="0.61"/><circle cx="12.3" cy="18.1" r="0.71"/><circle cx="31.3" cy="37.8" r="0.87"/><circle cx="35.2" cy="12.8" r="0.99"/><circle cx="22.9" cy="25.4" r="0.81"/><circle cx="16.6" cy="37.0" r="0.81"/><circle cx="42.7" cy="21.0" r="0.89"/><circle cx="18.2" cy="33.5" r="0.69"/><circle cx="30.6" cy="35.9" r="0.87"/><circle cx="11.1" cy="27.8" r="0.74"/><circle cx="12.8" cy="38.7" r="0.75"/><circle cx="38.7" cy="26.2" r="0.83"/><circle cx="36.4" cy="30.1" r="0.92"/><circle cx="23.0" cy="35.3" r="0.86"/><circle cx="9.8" cy="13.2" r="0.71"/><circle cx="16.9" cy="27.8" r="1.00"/><circle cx="12.1" cy="36.5" r="0.82"/><circle cx="38.9" cy="34.5" r="0.69"/><circle cx="42.2" cy="27.0" r="0.71"/><circle cx="30.5" cy="26.4" r="0.87"/><circle cx="20.5" cy="11.7" r="0.79"/><circle cx="21.3" cy="42.2" r="0.63"/><circle cx="38.7" cy="33.7" r="0.95"/><circle cx="22.3" cy="5.4" r="0.96"/><circle cx="20.2" cy="30.2" r="0.84"/><circle cx="36.1" cy="28.6" r="0.63"/><circle cx="25.1" cy="21.0" r="0.92"/><circle cx="29.9" cy="21.2" r="0.79"/><circle cx="32.4" cy="28.7" r="0.63"/><circle cx="17.4" cy="27.6" r="0.80"/><circle cx="27.5" cy="10.6" r="0.99"/><circle cx="30.9" cy="7.5" r="0.72"/><circle cx="22.1" cy="7.0" r="1.00"/><circle cx="32.5" cy="16.3" r="0.99"/><circle cx="6.5" cy="23.1" r="0.62"/><circle cx="10.6" cy="15.7" r="0.97"/><circle cx="21.9" cy="13.4" r="0.78"/><circle cx="19.1" cy="19.4" r="0.73"/><circle cx="33.2" cy="24.2" r="0.89"/><circle cx="32.6" cy="27.4" r="0.63"/><circle cx="17.1" cy="28.6" r="0.60"/><circle cx="34.7" cy="20.2" r="0.68"/><circle cx="28.6" cy="30.0" r="0.73"/><circle cx="18.5" cy="25.5" r="0.85"/><circle cx="34.6" cy="36.1" r="0.69"/><circle cx="10.9" cy="15.4" r="0.68"/><circle cx="35.0" cy="13.7" r="0.73"/><circle cx="14.2" cy="32.1" r="1.00"/><circle cx="24.8" cy="20.5" r="0.94"/><circle cx="7.3" cy="20.3" r="0.66"/><circle cx="15.8" cy="41.0" r="0.95"/><circle cx="13.7" cy="15.5" r="0.70"/><circle cx="14.7" cy="34.1" r="0.78"/><circle cx="8.4" cy="25.1" r="0.97"/><circle cx="18.0" cy="8.4" r="0.65"/><circle cx="13.0" cy="21.4" r="0.65"/><circle cx="19.6" cy="41.5" r="1.00"/><circle cx="18.7" cy="26.3" r="0.82"/><circle cx="31.1" cy="34.5" r="0.64"/><circle cx="15.6" cy="18.4" r="0.72"/><circle cx="26.1" cy="33.6" r="0.90"/><circle cx="29.6" cy="17.4" r="0.65"/><circle cx="14.3" cy="20.2" r="0.65"/><circle cx="23.7" cy="9.3" r="0.75"/><circle cx="35.8" cy="17.4" r="0.84"/><circle cx="7.7" cy="19.9" r="0.98"/><circle cx="30.4" cy="36.6" r="0.88"/><circle cx="32.7" cy="9.5" r="0.62"/><circle cx="34.4" cy="37.9" r="0.72"/><circle cx="35.4" cy="16.7" r="0.81"/><circle cx="21.9" cy="27.2" r="0.77"/><circle cx="18.3" cy="18.5" r="0.70"/><circle cx="10.6" cy="18.6" r="0.85"/><circle cx="34.8" cy="37.3" r="0.78"/><circle cx="31.4" cy="23.5" r="0.62"/><circle cx="32.5" cy="8.1" r="0.70"/><circle cx="10.4" cy="30.7" r="0.85"/><circle cx="13.7" cy="8.5" r="1.00"/><circle cx="29.7" cy="24.7" r="0.81"/><circle cx="19.8" cy="31.1" r="0.81"/><circle cx="12.5" cy="39.1" r="0.99"/><circle cx="34.3" cy="18.3" r="0.94"/><circle cx="20.7" cy="24.5" r="0.89"/><circle cx="26.1" cy="16.3" r="0.86"/><circle cx="25.3" cy="15.3" r="0.74"/><circle cx="33.5" cy="8.5" r="0.67"/><circle cx="13.1" cy="24.5" r="0.94"/><circle cx="29.8" cy="16.2" r="0.81"/><circle cx="15.5" cy="31.5" r="0.91"/><circle cx="30.9" cy="30.0" r="0.88"/><circle cx="11.2" cy="23.9" r="0.69"/><circle cx="16.4" cy="35.5" r="0.96"/><circle cx="35.6" cy="12.6" r="0.82"/><circle cx="17.0" cy="11.5" r="0.98"/><circle cx="28.2" cy="7.5" r="0.91"/><circle cx="12.4" cy="19.5" r="0.78"/><circle cx="38.9" cy="15.0" r="0.67"/><circle cx="29.8" cy="21.2" r="0.76"/><circle cx="26.8" cy="25.2" r="0.78"/><circle cx="27.7" cy="16.5" r="0.66"/><circle cx="28.5" cy="8.1" r="0.98"/><circle cx="28.7" cy="15.7" r="0.70"/><circle cx="18.1" cy="39.7" r="0.96"/><circle cx="9.4" cy="36.4" r="0.92"/><circle cx="16.5" cy="38.9" r="0.75"/><circle cx="35.6" cy="14.2" r="0.86"/><circle cx="13.6" cy="19.0" r="0.85"/><circle cx="30.6" cy="18.9" r="0.89"/><circle cx="18.8" cy="11.4" r="0.75"/><circle cx="16.2" cy="31.0" r="0.97"/><circle cx="28.8" cy="29.6" r="0.87"/><circle cx="25.9" cy="20.2" r="0.72"/><circle cx="37.7" cy="11.9" r="0.87"/><circle cx="11.1" cy="26.1" r="0.93"/><circle cx="37.7" cy="22.0" r="0.87"/><circle cx="30.7" cy="8.4" r="0.78"/><circle cx="41.8" cy="29.8" r="0.77"/><circle cx="18.0" cy="10.5" r="0.64"/><circle cx="36.8" cy="27.5" r="0.97"/><circle cx="8.3" cy="17.0" r="0.73"/><circle cx="8.1" cy="18.4" r="0.72"/><circle cx="9.7" cy="35.6" r="0.69"/><circle cx="31.1" cy="34.5" r="0.73"/><circle cx="19.7" cy="13.0" r="0.86"/><circle cx="29.0" cy="40.1" r="0.97"/><circle cx="21.2" cy="37.5" r="0.98"/><circle cx="30.4" cy="26.8" r="0.72"/><circle cx="12.9" cy="29.5" r="0.60"/><circle cx="23.1" cy="27.3" r="0.75"/><circle cx="19.0" cy="35.5" r="0.84"/><circle cx="40.3" cy="25.0" r="0.84"/><circle cx="36.2" cy="29.6" r="0.98"/><circle cx="41.2" cy="18.8" r="0.68"/><circle cx="30.2" cy="11.8" r="0.89"/><circle cx="15.2" cy="10.0" r="0.79"/><circle cx="32.4" cy="39.3" r="0.63"/><circle cx="19.0" cy="40.9" r="0.73"/><circle cx="5.9" cy="28.1" r="0.93"/><circle cx="12.2" cy="13.2" r="0.73"/><circle cx="12.0" cy="11.5" r="0.66"/><circle cx="14.0" cy="33.6" r="0.68"/><circle cx="39.8" cy="16.7" r="0.62"/><circle cx="11.2" cy="28.5" r="0.61"/><circle cx="29.1" cy="13.3" r="0.69"/><circle cx="21.3" cy="31.2" r="0.84"/><circle cx="36.7" cy="23.0" r="0.62"/><circle cx="34.0" cy="10.5" r="0.78"/><circle cx="20.5" cy="16.3" r="0.92"/><circle cx="32.0" cy="23.8" r="0.76"/><circle cx="20.9" cy="30.2" r="0.64"/><circle cx="22.9" cy="25.7" r="0.83"/><circle cx="28.6" cy="37.1" r="0.97"/><circle cx="26.0" cy="16.0" r="0.63"/><circle cx="22.7" cy="22.8" r="0.79"/><circle cx="35.5" cy="33.5" r="0.79"/><circle cx="7.9" cy="23.0" r="0.74"/><circle cx="17.2" cy="33.0" r="0.64"/><circle cx="27.6" cy="32.9" r="0.77"/><circle cx="41.5" cy="26.8" r="0.92"/><circle cx="41.3" cy="21.4" r="0.61"/><circle cx="19.4" cy="7.4" r="0.96"/><circle cx="27.1" cy="6.4" r="0.84"/><circle cx="17.3" cy="34.6" r="0.86"/><circle cx="11.5" cy="14.4" r="0.63"/><circle cx="14.4" cy="38.1" r="0.87"/><circle cx="12.3" cy="31.1" r="0.68"/><circle cx="18.8" cy="8.4" r="0.70"/><circle cx="19.6" cy="35.7" r="0.90"/><circle cx="42.2" cy="27.0" r="0.99"/><circle cx="29.4" cy="10.2" r="0.76"/><circle cx="25.3" cy="22.4" r="0.64"/><circle cx="17.6" cy="17.2" r="0.69"/><circle cx="38.4" cy="32.8" r="0.94"/><circle cx="20.4" cy="23.0" r="0.89"/><circle cx="22.5" cy="13.1" r="0.67"/><circle cx="18.9" cy="32.8" r="0.66"/><circle cx="39.8" cy="19.4" r="0.80"/><circle cx="20.9" cy="30.0" r="0.83"/><circle cx="14.4" cy="37.6" r="0.66"/><circle cx="11.2" cy="29.6" r="0.84"/><circle cx="20.0" cy="34.1" r="0.92"/><circle cx="18.4" cy="11.3" r="0.81"/><circle cx="24.2" cy="43.1" r="0.63"/><circle cx="19.9" cy="24.3" r="0.61"/><circle cx="26.0" cy="10.2" r="0.75"/><circle cx="25.3" cy="21.5" r="0.74"/><circle cx="40.8" cy="21.0" r="0.80"/><circle cx="23.6" cy="6.0" r="0.75"/><circle cx="38.6" cy="33.6" r="0.81"/><circle cx="35.0" cy="13.5" r="0.70"/><circle cx="38.3" cy="26.4" r="0.78"/><circle cx="14.8" cy="37.1" r="0.75"/><circle cx="25.8" cy="19.9" r="0.61"/><circle cx="18.7" cy="30.0" r="0.96"/><circle cx="12.0" cy="10.0" r="0.72"/><circle cx="34.9" cy="9.0" r="0.95"/><circle cx="24.6" cy="17.5" r="0.96"/><circle cx="33.4" cy="30.6" r="0.67"/><circle cx="37.4" cy="37.3" r="0.85"/><circle cx="33.0" cy="17.0" r="0.75"/><circle cx="32.9" cy="7.8" r="0.91"/><circle cx="36.5" cy="12.0" r="0.91"/><circle cx="38.1" cy="15.4" r="0.60"/><circle cx="28.3" cy="34.5" r="0.70"/><circle cx="41.2" cy="20.2" r="0.82"/><circle cx="24.4" cy="30.4" r="0.62"/><circle cx="27.7" cy="33.2" r="0.94"/><circle cx="19.2" cy="36.7" r="0.84"/><circle cx="39.8" cy="21.9" r="0.71"/><circle cx="13.3" cy="26.5" r="0.69"/><circle cx="24.9" cy="10.0" r="0.74"/><circle cx="19.8" cy="19.2" r="0.84"/><circle cx="31.3" cy="7.5" r="0.81"/><circle cx="24.6" cy="40.7" r="1.00"/><circle cx="18.7" cy="33.7" r="0.67"/><circle cx="15.5" cy="38.6" r="0.82"/><circle cx="27.1" cy="32.5" r="0.67"/><circle cx="19.7" cy="19.4" r="0.69"/><circle cx="11.0" cy="35.1" r="0.96"/><circle cx="9.4" cy="33.2" r="0.68"/><circle cx="24.4" cy="35.9" r="0.84"/><circle cx="17.8" cy="9.2" r="0.69"/><circle cx="30.4" cy="29.4" r="0.66"/><circle cx="8.4" cy="14.6" r="0.94"/><circle cx="25.7" cy="10.3" r="0.70"/><circle cx="37.5" cy="17.3" r="1.00"/><circle cx="17.1" cy="20.2" r="0.67"/><circle cx="29.2" cy="19.0" r="0.78"/><circle cx="13.3" cy="28.0" r="0.99"/><circle cx="29.3" cy="20.4" r="0.99"/><circle cx="17.3" cy="21.8" r="0.94"/><circle cx="15.0" cy="33.4" r="0.70"/><circle cx="14.0" cy="23.6" r="0.99"/><circle cx="32.8" cy="31.9" r="0.77"/><circle cx="30.2" cy="12.4" r="0.88"/><circle cx="27.6" cy="40.4" r="0.83"/><circle cx="37.0" cy="11.9" r="0.75"/><circle cx="10.3" cy="16.3" r="0.97"/><circle cx="31.6" cy="35.7" r="0.93"/><circle cx="35.2" cy="39.6" r="0.84"/><circle cx="22.0" cy="21.5" r="0.78"/><circle cx="15.1" cy="24.3" r="1.00"/><circle cx="13.1" cy="19.7" r="0.93"/><circle cx="32.8" cy="19.4" r="0.61"/><circle cx="20.8" cy="33.2" r="0.77"/><circle cx="29.3" cy="24.3" r="0.76"/><circle cx="34.1" cy="29.2" r="0.93"/><circle cx="7.4" cy="18.1" r="0.71"/><circle cx="20.2" cy="18.7" r="0.80"/><circle cx="36.9" cy="33.8" r="0.79"/><circle cx="10.0" cy="18.3" r="0.81"/><circle cx="34.7" cy="30.7" r="0.95"/><circle cx="15.9" cy="12.2" r="0.96"/><circle cx="18.3" cy="16.7" r="0.87"/><circle cx="28.3" cy="16.3" r="0.70"/><circle cx="28.4" cy="42.4" r="0.72"/><circle cx="24.5" cy="19.6" r="0.61"/><circle cx="22.9" cy="16.0" r="0.79"/><circle cx="17.3" cy="17.0" r="0.84"/><circle cx="29.1" cy="28.0" r="0.62"/><circle cx="16.2" cy="10.3" r="0.79"/><circle cx="10.5" cy="37.2" r="0.72"/></g></svg><svg x="536.9" y="267.4" width="48.2" height="48.2" viewBox="0 0 48 48" preserveAspectRatio="none"><rect width="48" height="48" fill="#2f66cc"/><rect width="48" height="48" filter="url(#bluetexF)"/><circle cx="24" cy="24" r="22.6" fill="#7090d4" fill-opacity="0.45" stroke="#d4def4" stroke-width="1.3" stroke-opacity="0.9"/><circle cx="24" cy="24.3" r="20.6" fill="#aeaaa0" fill-opacity="0.9" stroke="#dcd8c8" stroke-width="1.3"/><g fill="#eee2b8"><circle cx="33.8" cy="8.4" r="0.91"/><circle cx="33.9" cy="16.9" r="0.86"/><circle cx="30.1" cy="20.6" r="0.82"/><circle cx="18.5" cy="8.3" r="0.83"/><circle cx="40.8" cy="20.5" r="1.00"/><circle cx="36.1" cy="17.4" r="0.99"/><circle cx="19.0" cy="20.4" r="0.85"/><circle cx="16.4" cy="18.1" r="0.91"/><circle cx="18.3" cy="6.8" r="0.79"/><circle cx="9.5" cy="22.3" r="0.90"/><circle cx="22.9" cy="19.3" r="0.91"/><circle cx="30.2" cy="32.6" r="0.64"/><circle cx="24.0" cy="21.4" r="0.98"/><circle cx="20.1" cy="31.7" r="0.86"/><circle cx="39.5" cy="19.9" r="0.76"/><circle cx="14.9" cy="36.7" r="0.70"/><circle cx="22.1" cy="39.6" r="0.64"/><circle cx="12.3" cy="12.4" r="0.95"/><circle cx="11.8" cy="33.4" r="0.77"/><circle cx="15.1" cy="16.4" r="0.77"/><circle cx="27.0" cy="14.8" r="0.98"/><circle cx="14.9" cy="23.8" r="0.73"/><circle cx="31.2" cy="38.8" r="0.74"/><circle cx="34.8" cy="29.6" r="0.92"/><circle cx="22.9" cy="25.2" r="0.76"/><circle cx="8.3" cy="21.6" r="0.69"/><circle cx="23.5" cy="37.6" r="0.87"/><circle cx="37.5" cy="23.5" r="0.65"/><circle cx="19.4" cy="25.6" r="0.81"/><circle cx="20.6" cy="16.9" r="0.73"/><circle cx="19.4" cy="21.1" r="0.74"/><circle cx="9.7" cy="33.1" r="0.86"/><circle cx="36.1" cy="25.3" r="0.82"/><circle cx="13.6" cy="26.8" r="0.77"/><circle cx="37.4" cy="22.0" r="0.95"/><circle cx="18.1" cy="35.6" r="0.90"/><circle cx="7.4" cy="32.3" r="0.75"/><circle cx="32.8" cy="8.4" r="0.63"/><circle cx="20.1" cy="32.6" r="0.81"/><circle cx="38.6" cy="20.4" r="0.81"/><circle cx="23.8" cy="35.4" r="0.60"/><circle cx="26.2" cy="21.6" r="0.88"/><circle cx="35.5" cy="32.2" r="0.93"/><circle cx="7.1" cy="17.7" r="0.67"/><circle cx="41.8" cy="18.0" r="0.99"/><circle cx="17.9" cy="36.2" r="0.99"/><circle cx="14.4" cy="11.9" r="0.62"/><circle cx="23.7" cy="33.0" r="0.70"/><circle cx="18.5" cy="17.4" r="0.88"/><circle cx="37.3" cy="24.3" r="0.63"/><circle cx="17.6" cy="6.7" r="0.72"/><circle cx="41.8" cy="20.0" r="0.80"/><circle cx="18.2" cy="37.0" r="0.86"/><circle cx="24.6" cy="42.7" r="0.86"/><circle cx="11.5" cy="10.0" r="0.69"/><circle cx="12.7" cy="28.0" r="0.90"/><circle cx="28.9" cy="24.2" r="0.64"/><circle cx="26.3" cy="38.5" r="0.92"/><circle cx="38.3" cy="19.9" r="0.76"/><circle cx="16.1" cy="15.4" r="0.61"/><circle cx="29.6" cy="35.8" r="0.85"/><circle cx="19.5" cy="8.5" r="0.62"/><circle cx="25.1" cy="31.6" r="0.78"/><circle cx="28.8" cy="9.2" r="0.81"/><circle cx="34.7" cy="30.0" r="0.87"/><circle cx="30.5" cy="35.1" r="0.77"/><circle cx="21.7" cy="36.4" r="0.81"/><circle cx="38.4" cy="14.6" r="0.80"/><circle cx="36.9" cy="16.9" r="0.87"/><circle cx="9.9" cy="12.5" r="0.81"/><circle cx="11.6" cy="35.6" r="0.80"/><circle cx="13.8" cy="38.5" r="0.87"/><circle cx="36.9" cy="29.4" r="0.83"/><circle cx="10.2" cy="37.2" r="0.62"/><circle cx="7.6" cy="29.8" r="0.78"/><circle cx="7.3" cy="30.6" r="0.87"/><circle cx="17.5" cy="8.9" r="0.67"/><circle cx="22.2" cy="21.3" r="0.67"/><circle cx="24.4" cy="7.1" r="0.97"/><circle cx="28.9" cy="36.9" r="0.64"/><circle cx="37.3" cy="31.6" r="0.61"/><circle cx="40.1" cy="26.7" r="0.73"/><circle cx="13.4" cy="27.9" r="0.71"/><circle cx="5.7" cy="23.4" r="0.92"/><circle cx="34.1" cy="29.1" r="0.74"/><circle cx="17.7" cy="7.1" r="1.00"/><circle cx="32.7" cy="27.0" r="0.98"/><circle cx="27.8" cy="7.2" r="0.72"/><circle cx="39.1" cy="27.5" r="0.60"/><circle cx="25.8" cy="33.4" r="0.67"/><circle cx="17.1" cy="38.9" r="0.74"/><circle cx="27.8" cy="12.4" r="0.75"/><circle cx="10.5" cy="29.8" r="0.97"/><circle cx="25.6" cy="33.7" r="0.90"/><circle cx="42.4" cy="23.9" r="0.65"/><circle cx="19.9" cy="24.4" r="0.73"/><circle cx="25.9" cy="33.6" r="0.64"/><circle cx="27.1" cy="43.0" r="0.87"/><circle cx="20.6" cy="15.4" r="0.73"/><circle cx="34.7" cy="9.5" r="0.79"/><circle cx="35.1" cy="31.9" r="0.87"/><circle cx="24.2" cy="7.2" r="0.99"/><circle cx="37.5" cy="36.6" r="0.79"/><circle cx="11.4" cy="17.8" r="0.84"/><circle cx="8.1" cy="30.9" r="0.74"/><circle cx="24.6" cy="33.8" r="0.72"/><circle cx="13.9" cy="40.2" r="0.79"/><circle cx="18.8" cy="35.6" r="0.84"/><circle cx="17.3" cy="33.3" r="0.87"/><circle cx="17.8" cy="9.6" r="0.90"/><circle cx="16.8" cy="30.0" r="0.83"/><circle cx="36.3" cy="34.4" r="0.95"/><circle cx="23.3" cy="18.2" r="0.88"/><circle cx="20.6" cy="28.8" r="0.98"/><circle cx="19.6" cy="27.2" r="0.77"/><circle cx="11.4" cy="10.7" r="0.64"/><circle cx="26.9" cy="17.9" r="0.65"/><circle cx="36.2" cy="34.3" r="0.90"/><circle cx="24.7" cy="15.7" r="0.86"/><circle cx="12.3" cy="25.3" r="0.79"/><circle cx="31.3" cy="19.6" r="0.70"/><circle cx="34.1" cy="35.1" r="0.61"/><circle cx="8.7" cy="20.4" r="0.78"/><circle cx="34.9" cy="28.0" r="0.89"/><circle cx="15.8" cy="10.1" r="0.75"/><circle cx="24.7" cy="24.2" r="0.83"/><circle cx="21.6" cy="29.9" r="0.81"/><circle cx="18.6" cy="17.9" r="0.95"/><circle cx="15.7" cy="19.3" r="0.74"/><circle cx="12.0" cy="12.6" r="0.61"/><circle cx="23.3" cy="36.8" r="0.96"/><circle cx="12.2" cy="20.5" r="0.82"/><circle cx="16.9" cy="30.3" r="0.68"/><circle cx="37.3" cy="37.6" r="0.69"/><circle cx="9.9" cy="19.7" r="0.66"/><circle cx="25.9" cy="29.6" r="0.81"/><circle cx="33.4" cy="37.2" r="0.97"/><circle cx="41.7" cy="26.6" r="0.89"/><circle cx="32.0" cy="36.5" r="0.75"/><circle cx="21.4" cy="35.2" r="0.98"/><circle cx="13.9" cy="32.0" r="0.65"/><circle cx="31.8" cy="16.9" r="0.71"/><circle cx="22.8" cy="41.8" r="0.66"/><circle cx="12.9" cy="34.3" r="0.71"/><circle cx="13.7" cy="8.9" r="0.66"/><circle cx="33.7" cy="14.5" r="0.95"/><circle cx="26.7" cy="29.4" r="0.96"/><circle cx="28.2" cy="41.7" r="0.68"/><circle cx="35.6" cy="11.2" r="0.67"/><circle cx="35.1" cy="15.7" r="0.92"/><circle cx="26.7" cy="38.6" r="0.79"/><circle cx="28.2" cy="34.4" r="1.00"/><circle cx="22.6" cy="42.8" r="0.77"/><circle cx="17.0" cy="38.1" r="0.86"/><circle cx="15.0" cy="29.7" r="0.87"/><circle cx="30.1" cy="32.1" r="0.97"/><circle cx="18.3" cy="37.0" r="0.98"/><circle cx="24.6" cy="28.8" r="0.85"/><circle cx="14.8" cy="10.4" r="0.99"/><circle cx="9.8" cy="17.4" r="0.89"/><circle cx="42.1" cy="28.3" r="0.65"/><circle cx="25.1" cy="31.5" r="0.93"/><circle cx="37.4" cy="19.4" r="0.63"/><circle cx="30.2" cy="27.9" r="0.70"/><circle cx="30.1" cy="41.7" r="0.80"/><circle cx="36.1" cy="38.9" r="0.74"/><circle cx="27.6" cy="26.3" r="0.74"/><circle cx="12.3" cy="12.3" r="0.82"/><circle cx="39.4" cy="20.3" r="0.96"/><circle cx="13.0" cy="26.5" r="0.68"/><circle cx="24.0" cy="18.0" r="0.76"/><circle cx="15.2" cy="30.6" r="0.84"/><circle cx="19.3" cy="28.3" r="0.74"/><circle cx="36.3" cy="31.2" r="0.64"/><circle cx="23.0" cy="37.1" r="0.63"/><circle cx="29.0" cy="35.2" r="0.73"/><circle cx="11.8" cy="19.9" r="0.86"/><circle cx="30.0" cy="37.2" r="0.63"/><circle cx="31.1" cy="20.9" r="0.65"/><circle cx="37.0" cy="21.2" r="0.63"/><circle cx="27.7" cy="30.7" r="0.82"/><circle cx="24.3" cy="38.5" r="0.97"/><circle cx="29.1" cy="15.2" r="0.84"/><circle cx="17.5" cy="7.5" r="0.89"/><circle cx="42.3" cy="24.2" r="0.86"/><circle cx="8.3" cy="31.6" r="0.93"/><circle cx="12.3" cy="35.8" r="0.96"/><circle cx="14.0" cy="18.9" r="0.65"/><circle cx="20.2" cy="15.0" r="0.69"/><circle cx="38.4" cy="34.0" r="0.93"/><circle cx="26.8" cy="33.7" r="0.74"/><circle cx="19.1" cy="22.3" r="0.66"/><circle cx="21.4" cy="6.2" r="0.61"/><circle cx="8.8" cy="25.5" r="0.74"/><circle cx="25.9" cy="20.8" r="0.87"/><circle cx="21.3" cy="39.6" r="0.86"/><circle cx="40.2" cy="23.9" r="0.73"/><circle cx="36.0" cy="36.1" r="0.94"/><circle cx="12.8" cy="22.0" r="0.83"/><circle cx="18.1" cy="41.4" r="0.90"/><circle cx="24.7" cy="28.0" r="0.68"/><circle cx="8.9" cy="23.9" r="0.91"/><circle cx="14.7" cy="15.0" r="0.73"/><circle cx="26.3" cy="7.7" r="0.63"/><circle cx="36.0" cy="21.7" r="0.70"/><circle cx="27.8" cy="39.6" r="0.85"/><circle cx="31.0" cy="20.3" r="0.79"/><circle cx="25.6" cy="14.0" r="0.86"/><circle cx="31.7" cy="23.5" r="0.89"/><circle cx="36.3" cy="17.1" r="0.89"/><circle cx="22.5" cy="41.5" r="0.72"/><circle cx="42.3" cy="25.6" r="0.89"/><circle cx="31.6" cy="23.7" r="0.81"/><circle cx="35.6" cy="20.1" r="0.86"/><circle cx="21.7" cy="6.3" r="0.99"/><circle cx="32.2" cy="29.9" r="0.86"/><circle cx="20.7" cy="8.9" r="0.96"/><circle cx="22.6" cy="8.4" r="0.74"/><circle cx="14.7" cy="36.2" r="0.76"/><circle cx="21.0" cy="17.9" r="0.80"/><circle cx="20.4" cy="40.3" r="0.89"/><circle cx="39.1" cy="26.4" r="0.92"/><circle cx="36.8" cy="24.3" r="0.88"/><circle cx="23.3" cy="31.4" r="0.69"/><circle cx="38.7" cy="15.7" r="0.69"/><circle cx="13.7" cy="25.1" r="0.68"/><circle cx="14.1" cy="14.4" r="0.95"/><circle cx="26.3" cy="24.5" r="0.84"/><circle cx="16.4" cy="16.1" r="0.90"/><circle cx="36.5" cy="10.3" r="0.62"/><circle cx="29.9" cy="28.6" r="0.69"/><circle cx="7.1" cy="16.1" r="0.98"/><circle cx="28.7" cy="22.6" r="0.63"/><circle cx="6.5" cy="20.6" r="0.95"/><circle cx="35.8" cy="13.1" r="0.80"/><circle cx="38.1" cy="19.3" r="0.84"/><circle cx="14.1" cy="17.0" r="0.64"/><circle cx="39.0" cy="21.9" r="0.70"/><circle cx="19.5" cy="24.8" r="0.77"/><circle cx="30.8" cy="22.4" r="0.77"/><circle cx="29.6" cy="39.4" r="0.64"/><circle cx="8.7" cy="20.9" r="0.73"/><circle cx="22.3" cy="6.5" r="0.64"/><circle cx="15.4" cy="10.7" r="0.93"/><circle cx="31.8" cy="8.3" r="0.69"/><circle cx="27.9" cy="12.9" r="0.73"/><circle cx="19.1" cy="16.2" r="0.92"/><circle cx="11.4" cy="12.6" r="0.61"/><circle cx="39.7" cy="19.4" r="0.61"/><circle cx="13.3" cy="28.0" r="0.68"/><circle cx="35.0" cy="39.5" r="0.83"/><circle cx="25.5" cy="24.3" r="0.90"/><circle cx="30.0" cy="12.9" r="0.90"/><circle cx="24.1" cy="32.9" r="1.00"/><circle cx="11.2" cy="37.0" r="0.91"/><circle cx="34.8" cy="16.5" r="0.77"/><circle cx="33.7" cy="27.5" r="0.91"/><circle cx="12.8" cy="32.1" r="0.76"/><circle cx="17.1" cy="41.7" r="0.98"/><circle cx="41.5" cy="31.1" r="0.85"/><circle cx="12.9" cy="18.7" r="0.76"/><circle cx="12.5" cy="30.3" r="0.78"/><circle cx="21.2" cy="7.4" r="0.97"/><circle cx="21.8" cy="30.6" r="0.88"/><circle cx="19.7" cy="17.4" r="0.81"/><circle cx="29.2" cy="17.0" r="0.60"/><circle cx="22.8" cy="10.2" r="0.99"/><circle cx="16.2" cy="20.6" r="0.98"/><circle cx="42.6" cy="21.3" r="0.83"/><circle cx="27.1" cy="17.4" r="0.69"/><circle cx="15.8" cy="23.2" r="0.92"/><circle cx="11.3" cy="27.3" r="0.97"/><circle cx="12.9" cy="29.1" r="0.86"/><circle cx="10.6" cy="34.9" r="0.65"/><circle cx="17.0" cy="21.4" r="0.89"/><circle cx="35.3" cy="25.0" r="0.85"/><circle cx="16.0" cy="23.4" r="0.96"/><circle cx="27.2" cy="23.7" r="0.82"/><circle cx="12.9" cy="38.9" r="0.74"/><circle cx="38.8" cy="18.5" r="0.66"/></g></svg><svg x="586.4" y="267.4" width="48.2" height="48.2" viewBox="0 0 48 48" preserveAspectRatio="none"><rect width="48" height="48" fill="#2f66cc"/><rect width="48" height="48" filter="url(#bluetexF)"/><circle cx="24" cy="24" r="22.6" fill="#7090d4" fill-opacity="0.45" stroke="#d4def4" stroke-width="1.3" stroke-opacity="0.9"/><circle cx="24" cy="24.3" r="20.6" fill="#aaa8a2" fill-opacity="0.9" stroke="#dcd8c8" stroke-width="1.3"/><g fill="#eee2b8"><circle cx="31.4" cy="22.4" r="0.85"/><circle cx="38.2" cy="11.7" r="0.63"/><circle cx="13.9" cy="33.9" r="0.68"/><circle cx="42.7" cy="22.4" r="0.60"/><circle cx="12.8" cy="31.9" r="0.89"/><circle cx="34.0" cy="38.8" r="0.79"/><circle cx="7.9" cy="29.6" r="0.69"/><circle cx="16.8" cy="23.7" r="0.95"/><circle cx="27.6" cy="31.3" r="0.90"/><circle cx="10.3" cy="37.3" r="0.67"/><circle cx="17.8" cy="13.5" r="0.66"/><circle cx="19.9" cy="24.8" r="0.99"/><circle cx="17.4" cy="21.0" r="0.78"/><circle cx="16.5" cy="9.9" r="0.65"/><circle cx="5.9" cy="28.2" r="0.93"/><circle cx="19.9" cy="29.4" r="0.70"/><circle cx="24.2" cy="18.3" r="0.68"/><circle cx="35.8" cy="24.8" r="0.98"/><circle cx="15.6" cy="20.5" r="0.61"/><circle cx="36.1" cy="22.9" r="0.81"/><circle cx="24.4" cy="39.3" r="0.97"/><circle cx="12.7" cy="21.7" r="0.97"/><circle cx="36.0" cy="29.6" r="0.96"/><circle cx="14.7" cy="30.2" r="0.95"/><circle cx="14.4" cy="11.4" r="0.78"/><circle cx="23.1" cy="38.7" r="0.96"/><circle cx="15.0" cy="32.3" r="0.96"/><circle cx="24.3" cy="32.0" r="0.77"/><circle cx="35.6" cy="17.2" r="0.72"/><circle cx="20.3" cy="36.7" r="0.97"/><circle cx="31.5" cy="37.3" r="0.99"/><circle cx="33.7" cy="14.3" r="1.00"/><circle cx="21.4" cy="28.8" r="0.73"/><circle cx="13.5" cy="39.2" r="0.69"/><circle cx="32.3" cy="31.5" r="0.78"/><circle cx="32.9" cy="19.4" r="0.73"/><circle cx="24.1" cy="32.9" r="0.61"/><circle cx="18.2" cy="15.9" r="0.74"/><circle cx="20.9" cy="17.4" r="0.66"/><circle cx="39.8" cy="33.0" r="0.85"/><circle cx="21.6" cy="25.4" r="0.82"/><circle cx="38.3" cy="34.3" r="0.99"/><circle cx="15.9" cy="31.9" r="0.67"/><circle cx="30.1" cy="19.7" r="0.78"/><circle cx="31.3" cy="30.9" r="0.97"/><circle cx="17.7" cy="25.6" r="0.67"/><circle cx="36.5" cy="30.0" r="0.88"/><circle cx="24.6" cy="29.6" r="0.69"/><circle cx="41.0" cy="22.7" r="0.80"/><circle cx="31.4" cy="30.2" r="0.60"/><circle cx="21.5" cy="28.4" r="0.85"/><circle cx="22.0" cy="14.8" r="0.74"/><circle cx="26.4" cy="34.5" r="0.98"/><circle cx="28.9" cy="28.1" r="0.97"/><circle cx="29.7" cy="8.0" r="0.62"/><circle cx="16.9" cy="24.1" r="0.83"/><circle cx="36.9" cy="20.3" r="0.99"/><circle cx="11.4" cy="31.4" r="0.69"/><circle cx="24.2" cy="24.5" r="0.61"/><circle cx="19.6" cy="42.1" r="0.86"/><circle cx="18.9" cy="20.4" r="0.67"/><circle cx="23.3" cy="7.1" r="0.61"/><circle cx="38.3" cy="20.7" r="0.71"/><circle cx="38.9" cy="22.7" r="0.88"/><circle cx="16.2" cy="17.6" r="0.95"/><circle cx="24.6" cy="17.5" r="0.77"/><circle cx="11.0" cy="14.1" r="0.95"/><circle cx="33.5" cy="19.8" r="0.64"/><circle cx="20.0" cy="30.0" r="0.97"/><circle cx="23.2" cy="36.1" r="0.75"/><circle cx="23.1" cy="36.3" r="0.65"/><circle cx="42.1" cy="28.8" r="0.98"/><circle cx="25.4" cy="35.5" r="0.82"/><circle cx="22.0" cy="39.2" r="0.63"/><circle cx="40.2" cy="17.1" r="0.73"/><circle cx="24.9" cy="42.7" r="0.99"/><circle cx="28.2" cy="29.1" r="0.75"/><circle cx="9.8" cy="16.0" r="0.85"/><circle cx="15.8" cy="9.4" r="0.94"/><circle cx="36.6" cy="28.5" r="0.61"/><circle cx="8.3" cy="30.5" r="0.60"/><circle cx="32.4" cy="30.8" r="0.62"/><circle cx="16.6" cy="31.0" r="0.68"/><circle cx="34.6" cy="25.6" r="0.70"/><circle cx="17.0" cy="25.6" r="0.99"/><circle cx="27.0" cy="13.4" r="0.84"/><circle cx="34.7" cy="38.5" r="0.94"/><circle cx="28.6" cy="18.4" r="0.75"/><circle cx="22.8" cy="37.7" r="0.75"/><circle cx="34.7" cy="18.5" r="0.92"/><circle cx="27.7" cy="11.6" r="0.63"/><circle cx="21.7" cy="23.1" r="0.99"/><circle cx="27.6" cy="24.3" r="0.70"/><circle cx="15.4" cy="9.3" r="0.60"/><circle cx="12.4" cy="33.0" r="0.72"/><circle cx="35.3" cy="23.0" r="0.73"/><circle cx="36.6" cy="11.2" r="0.94"/><circle cx="26.8" cy="41.8" r="0.74"/><circle cx="25.9" cy="35.8" r="0.92"/><circle cx="18.0" cy="8.6" r="0.80"/><circle cx="7.2" cy="28.1" r="0.64"/><circle cx="20.9" cy="40.3" r="0.94"/><circle cx="15.3" cy="12.4" r="0.67"/><circle cx="6.6" cy="19.0" r="0.67"/><circle cx="17.5" cy="7.2" r="0.84"/><circle cx="17.5" cy="39.4" r="0.60"/><circle cx="35.6" cy="14.1" r="0.61"/><circle cx="14.4" cy="23.6" r="0.84"/><circle cx="29.7" cy="27.6" r="0.96"/><circle cx="31.6" cy="32.9" r="0.68"/><circle cx="15.6" cy="13.9" r="0.85"/><circle cx="28.0" cy="16.9" r="0.83"/><circle cx="29.3" cy="14.4" r="0.75"/><circle cx="24.9" cy="35.3" r="0.84"/><circle cx="39.8" cy="15.1" r="0.69"/><circle cx="34.6" cy="12.1" r="0.73"/><circle cx="17.0" cy="17.8" r="0.94"/><circle cx="38.3" cy="17.4" r="0.83"/><circle cx="16.1" cy="19.4" r="0.68"/><circle cx="15.7" cy="24.6" r="0.89"/><circle cx="15.9" cy="16.7" r="0.89"/><circle cx="28.0" cy="40.6" r="0.64"/><circle cx="34.2" cy="33.4" r="0.67"/><circle cx="34.7" cy="20.0" r="1.00"/><circle cx="39.3" cy="26.1" r="0.61"/><circle cx="12.7" cy="13.5" r="0.89"/><circle cx="25.0" cy="11.3" r="0.81"/><circle cx="22.3" cy="25.9" r="0.72"/><circle cx="25.2" cy="25.8" r="0.74"/><circle cx="21.6" cy="41.2" r="0.85"/><circle cx="15.1" cy="20.1" r="0.99"/><circle cx="32.5" cy="28.5" r="0.92"/><circle cx="17.8" cy="41.7" r="0.62"/><circle cx="30.2" cy="8.7" r="0.99"/><circle cx="21.2" cy="15.8" r="0.81"/><circle cx="19.8" cy="42.6" r="0.88"/><circle cx="7.1" cy="25.5" r="0.98"/><circle cx="19.0" cy="8.9" r="0.66"/><circle cx="13.6" cy="26.2" r="0.74"/><circle cx="23.6" cy="7.4" r="0.90"/><circle cx="20.9" cy="8.4" r="0.66"/><circle cx="41.0" cy="32.5" r="0.80"/><circle cx="8.3" cy="34.6" r="0.86"/><circle cx="30.9" cy="39.2" r="0.62"/><circle cx="13.1" cy="24.6" r="0.91"/><circle cx="37.4" cy="21.9" r="0.91"/><circle cx="20.5" cy="23.2" r="0.74"/><circle cx="23.0" cy="16.4" r="0.60"/><circle cx="12.1" cy="21.8" r="0.83"/><circle cx="36.2" cy="12.5" r="0.64"/><circle cx="13.1" cy="34.4" r="0.76"/><circle cx="35.1" cy="22.0" r="0.92"/><circle cx="11.1" cy="16.3" r="0.94"/><circle cx="10.1" cy="36.5" r="0.69"/><circle cx="15.3" cy="25.9" r="0.99"/><circle cx="18.5" cy="8.9" r="0.86"/><circle cx="16.5" cy="12.9" r="0.84"/><circle cx="31.4" cy="36.7" r="0.89"/><circle cx="6.6" cy="21.0" r="0.92"/><circle cx="17.5" cy="31.4" r="0.84"/><circle cx="35.9" cy="16.5" r="0.67"/><circle cx="34.0" cy="12.7" r="0.64"/><circle cx="37.2" cy="30.6" r="0.90"/><circle cx="40.6" cy="16.3" r="0.94"/><circle cx="35.1" cy="14.9" r="0.96"/><circle cx="19.4" cy="11.8" r="0.63"/><circle cx="6.0" cy="29.4" r="0.91"/><circle cx="10.5" cy="16.6" r="0.93"/><circle cx="22.1" cy="39.8" r="0.73"/><circle cx="21.1" cy="22.9" r="0.86"/><circle cx="33.3" cy="12.7" r="0.85"/><circle cx="19.6" cy="13.1" r="0.60"/><circle cx="17.2" cy="38.2" r="0.76"/><circle cx="15.3" cy="39.0" r="0.71"/><circle cx="37.0" cy="10.5" r="0.65"/><circle cx="12.0" cy="27.5" r="0.70"/><circle cx="23.7" cy="13.0" r="0.74"/><circle cx="16.0" cy="35.9" r="0.81"/><circle cx="23.3" cy="37.0" r="0.91"/><circle cx="26.9" cy="14.0" r="0.78"/><circle cx="7.6" cy="15.8" r="0.97"/><circle cx="19.4" cy="15.4" r="0.72"/><circle cx="24.5" cy="24.8" r="0.86"/><circle cx="16.0" cy="28.2" r="0.62"/><circle cx="32.2" cy="36.3" r="0.86"/><circle cx="13.9" cy="38.5" r="0.81"/><circle cx="25.6" cy="25.2" r="0.99"/><circle cx="34.6" cy="17.0" r="0.62"/><circle cx="16.4" cy="9.5" r="0.69"/><circle cx="24.8" cy="41.2" r="0.69"/><circle cx="26.5" cy="14.5" r="0.69"/><circle cx="21.7" cy="21.3" r="0.89"/><circle cx="29.3" cy="21.5" r="0.76"/><circle cx="41.1" cy="25.3" r="0.90"/><circle cx="39.8" cy="16.3" r="0.60"/><circle cx="17.8" cy="8.1" r="0.83"/><circle cx="26.0" cy="32.9" r="0.87"/><circle cx="25.9" cy="27.8" r="0.95"/><circle cx="10.8" cy="32.1" r="0.65"/><circle cx="12.7" cy="26.8" r="0.97"/><circle cx="34.5" cy="38.5" r="0.66"/><circle cx="26.4" cy="12.3" r="0.64"/><circle cx="25.5" cy="14.1" r="0.98"/><circle cx="31.0" cy="9.8" r="0.93"/><circle cx="20.8" cy="23.4" r="0.63"/><circle cx="32.9" cy="28.1" r="0.93"/><circle cx="20.2" cy="12.2" r="0.76"/><circle cx="22.5" cy="13.0" r="0.95"/><circle cx="17.8" cy="18.4" r="0.92"/><circle cx="35.8" cy="33.9" r="0.83"/><circle cx="33.7" cy="33.5" r="0.91"/><circle cx="18.4" cy="21.6" r="0.71"/><circle cx="16.0" cy="39.2" r="0.60"/><circle cx="35.7" cy="11.2" r="0.90"/><circle cx="26.3" cy="21.8" r="0.81"/><circle cx="36.7" cy="11.7" r="0.95"/><circle cx="15.4" cy="23.1" r="0.65"/><circle cx="13.0" cy="24.2" r="0.98"/><circle cx="25.6" cy="14.3" r="0.86"/><circle cx="20.5" cy="26.9" r="0.68"/></g></svg><svg x="635.9" y="267.4" width="48.2" height="48.2" viewBox="0 0 48 48" preserveAspectRatio="none"><rect width="48" height="48" fill="#2f66cc"/><rect width="48" height="48" filter="url(#bluetexF)"/><circle cx="24" cy="24" r="22.6" fill="#7090d4" fill-opacity="0.45" stroke="#d4def4" stroke-width="1.3" stroke-opacity="0.9"/><circle cx="24" cy="24.3" r="20.6" fill="#5a80c8" fill-opacity="1" stroke="#dcd8c8" stroke-width="1.3"/><g fill=""></g></svg><text transform="translate(385,341.95) rotate(-90)" font-size="10" text-anchor="middle">28 days</text><svg x="388.4" y="318.0" width="48.2" height="47.9" viewBox="0 0 48 48" preserveAspectRatio="none"><rect width="48" height="48" fill="#2f66cc"/><rect width="48" height="48" filter="url(#bluetexF)"/><circle cx="24" cy="24" r="22.6" fill="#7090d4" fill-opacity="0.45" stroke="#d4def4" stroke-width="1.3" stroke-opacity="0.9"/><circle cx="24" cy="24.3" r="20.6" fill="#6a92d4" fill-opacity="1" stroke="#dcd8c8" stroke-width="1.3"/><g fill=""></g></svg><svg x="437.9" y="318.0" width="48.2" height="47.9" viewBox="0 0 48 48" preserveAspectRatio="none"><rect width="48" height="48" fill="#2f66cc"/><rect width="48" height="48" filter="url(#bluetexF)"/><circle cx="24" cy="24" r="22.6" fill="#7090d4" fill-opacity="0.45" stroke="#d4def4" stroke-width="1.3" stroke-opacity="0.9"/><circle cx="24" cy="24.3" r="20.6" fill="#b2b4b2" fill-opacity="0.9" stroke="#dcd8c8" stroke-width="1.3"/><g fill="#ece0a8"><circle cx="36.1" cy="17.1" r="1.09"/><circle cx="21.2" cy="39.2" r="0.80"/><circle cx="21.0" cy="27.6" r="1.20"/><circle cx="35.5" cy="17.4" r="1.02"/><circle cx="33.1" cy="12.4" r="0.91"/><circle cx="29.8" cy="24.2" r="1.05"/><circle cx="13.6" cy="32.3" r="1.05"/><circle cx="14.9" cy="27.5" r="1.02"/><circle cx="38.0" cy="17.1" r="1.14"/><circle cx="39.7" cy="19.6" r="1.15"/><circle cx="31.0" cy="6.7" r="1.06"/><circle cx="35.8" cy="28.7" r="0.83"/><circle cx="11.4" cy="12.5" r="1.15"/><circle cx="27.1" cy="26.3" r="1.17"/><circle cx="31.4" cy="17.6" r="1.08"/><circle cx="41.2" cy="22.6" r="0.75"/><circle cx="5.2" cy="26.2" r="0.97"/><circle cx="10.5" cy="34.4" r="0.96"/><circle cx="9.9" cy="28.7" r="1.15"/><circle cx="12.6" cy="34.5" r="0.87"/><circle cx="23.1" cy="28.6" r="0.99"/><circle cx="25.7" cy="38.2" r="1.17"/><circle cx="25.5" cy="17.4" r="1.07"/><circle cx="16.7" cy="36.2" r="0.96"/><circle cx="22.1" cy="26.1" r="1.08"/><circle cx="16.0" cy="14.3" r="1.15"/><circle cx="24.8" cy="6.0" r="0.81"/><circle cx="34.9" cy="28.1" r="1.09"/><circle cx="20.5" cy="8.6" r="0.97"/><circle cx="14.4" cy="34.5" r="1.20"/><circle cx="24.5" cy="16.9" r="0.76"/><circle cx="26.9" cy="36.4" r="1.12"/><circle cx="8.7" cy="33.9" r="1.15"/><circle cx="13.5" cy="21.6" r="0.89"/><circle cx="8.1" cy="17.6" r="0.95"/><circle cx="27.6" cy="16.9" r="1.12"/><circle cx="17.7" cy="19.7" r="1.13"/><circle cx="23.9" cy="25.8" r="0.90"/><circle cx="30.3" cy="16.4" r="0.92"/><circle cx="7.6" cy="28.5" r="0.93"/><circle cx="31.9" cy="15.4" r="0.95"/><circle cx="8.2" cy="29.2" r="0.87"/><circle cx="19.1" cy="38.5" r="1.13"/><circle cx="33.3" cy="17.2" r="1.05"/><circle cx="27.8" cy="22.7" r="1.15"/><circle cx="7.8" cy="28.6" r="0.75"/><circle cx="30.4" cy="29.4" r="0.92"/><circle cx="12.8" cy="13.9" r="0.97"/><circle cx="19.3" cy="9.7" r="0.99"/><circle cx="36.1" cy="12.4" r="0.96"/><circle cx="9.8" cy="14.3" r="0.99"/><circle cx="22.5" cy="26.9" r="0.88"/><circle cx="23.6" cy="34.0" r="0.75"/><circle cx="36.7" cy="38.0" r="0.87"/><circle cx="22.8" cy="24.3" r="1.19"/><circle cx="33.6" cy="16.0" r="0.77"/><circle cx="35.1" cy="36.5" r="0.84"/><circle cx="24.8" cy="40.3" r="1.20"/><circle cx="37.7" cy="24.0" r="1.22"/><circle cx="10.7" cy="23.0" r="1.09"/><circle cx="22.5" cy="13.0" r="1.02"/><circle cx="31.8" cy="13.0" r="0.89"/><circle cx="30.1" cy="10.7" r="0.85"/><circle cx="17.1" cy="23.4" r="0.99"/><circle cx="21.0" cy="20.9" r="1.03"/></g></svg><svg x="487.4" y="318.0" width="48.2" height="47.9" viewBox="0 0 48 48" preserveAspectRatio="none"><rect width="48" height="48" fill="#2f66cc"/><rect width="48" height="48" filter="url(#bluetexF)"/><circle cx="24" cy="24" r="22.6" fill="#7090d4" fill-opacity="0.45" stroke="#d4def4" stroke-width="1.3" stroke-opacity="0.9"/><circle cx="24" cy="24.3" r="20.6" fill="#b0b2b2" fill-opacity="0.9" stroke="#dcd8c8" stroke-width="1.3"/><g fill="#ece0a8"><circle cx="40.0" cy="29.0" r="0.79"/><circle cx="24.5" cy="25.4" r="1.05"/><circle cx="13.6" cy="28.4" r="1.21"/><circle cx="39.7" cy="25.8" r="1.12"/><circle cx="21.9" cy="10.9" r="1.19"/><circle cx="34.5" cy="32.2" r="1.11"/><circle cx="31.0" cy="22.9" r="1.17"/><circle cx="29.0" cy="18.6" r="1.08"/><circle cx="11.3" cy="37.1" r="0.98"/><circle cx="19.4" cy="18.7" r="0.87"/><circle cx="18.4" cy="41.6" r="1.14"/><circle cx="22.5" cy="12.6" r="1.11"/><circle cx="7.5" cy="29.1" r="1.16"/><circle cx="33.6" cy="14.5" r="0.76"/><circle cx="36.0" cy="22.3" r="0.84"/><circle cx="37.3" cy="13.6" r="1.24"/><circle cx="28.3" cy="22.0" r="1.14"/><circle cx="27.3" cy="39.0" r="1.11"/><circle cx="17.7" cy="18.3" r="1.01"/><circle cx="40.0" cy="24.2" r="1.25"/><circle cx="28.3" cy="25.0" r="1.14"/><circle cx="23.0" cy="33.8" r="1.11"/><circle cx="14.1" cy="26.3" r="0.76"/><circle cx="29.3" cy="30.0" r="0.96"/><circle cx="22.7" cy="24.0" r="0.79"/><circle cx="15.7" cy="19.9" r="0.79"/><circle cx="36.2" cy="27.9" r="0.76"/><circle cx="18.4" cy="28.1" r="1.06"/><circle cx="33.0" cy="16.5" r="0.90"/><circle cx="16.5" cy="26.7" r="0.92"/><circle cx="10.9" cy="19.3" r="0.80"/><circle cx="37.4" cy="33.7" r="1.16"/><circle cx="21.9" cy="25.9" r="0.90"/><circle cx="12.7" cy="18.1" r="0.84"/><circle cx="35.4" cy="31.0" r="1.10"/><circle cx="31.1" cy="28.8" r="1.23"/><circle cx="33.3" cy="10.9" r="0.99"/><circle cx="15.9" cy="24.8" r="1.09"/><circle cx="27.3" cy="34.0" r="1.00"/><circle cx="27.5" cy="37.6" r="0.97"/><circle cx="31.3" cy="18.8" r="0.83"/><circle cx="38.4" cy="24.6" r="1.00"/><circle cx="36.2" cy="24.7" r="1.06"/><circle cx="19.0" cy="21.9" r="1.14"/><circle cx="17.1" cy="17.4" r="0.92"/><circle cx="18.7" cy="27.9" r="0.90"/><circle cx="20.7" cy="21.0" r="1.16"/><circle cx="17.0" cy="38.6" r="0.77"/><circle cx="26.8" cy="10.6" r="1.15"/><circle cx="31.5" cy="10.5" r="0.99"/><circle cx="32.6" cy="38.2" r="1.06"/><circle cx="17.5" cy="19.9" r="0.94"/><circle cx="21.9" cy="17.9" r="1.22"/><circle cx="18.3" cy="24.4" r="0.84"/><circle cx="32.3" cy="23.9" r="1.13"/><circle cx="9.2" cy="32.8" r="0.88"/><circle cx="28.4" cy="20.1" r="0.85"/><circle cx="36.0" cy="35.8" r="0.81"/><circle cx="37.7" cy="12.2" r="0.93"/><circle cx="8.0" cy="17.2" r="1.18"/><circle cx="31.7" cy="40.2" r="1.09"/><circle cx="15.6" cy="33.8" r="1.12"/><circle cx="17.4" cy="18.9" r="1.22"/><circle cx="31.5" cy="11.7" r="1.18"/><circle cx="19.0" cy="40.2" r="0.95"/></g></svg><svg x="536.9" y="318.0" width="48.2" height="47.9" viewBox="0 0 48 48" preserveAspectRatio="none"><rect width="48" height="48" fill="#2f66cc"/><rect width="48" height="48" filter="url(#bluetexF)"/><circle cx="24" cy="24" r="22.6" fill="#7090d4" fill-opacity="0.45" stroke="#d4def4" stroke-width="1.3" stroke-opacity="0.9"/><circle cx="24" cy="24.3" r="20.6" fill="#b4b4b0" fill-opacity="0.9" stroke="#dcd8c8" stroke-width="1.3"/><g fill="#ece0a8"><circle cx="30.7" cy="23.6" r="1.00"/><circle cx="22.4" cy="19.1" r="0.99"/><circle cx="20.5" cy="37.9" r="1.09"/><circle cx="24.9" cy="35.1" r="0.93"/><circle cx="12.0" cy="14.9" r="0.91"/><circle cx="23.7" cy="34.6" r="1.05"/><circle cx="11.4" cy="21.4" r="0.89"/><circle cx="27.0" cy="10.7" r="0.83"/><circle cx="5.5" cy="26.3" r="1.14"/><circle cx="40.3" cy="25.1" r="0.82"/><circle cx="23.4" cy="25.0" r="0.95"/><circle cx="32.3" cy="36.2" r="1.08"/><circle cx="29.8" cy="32.6" r="1.25"/><circle cx="38.5" cy="28.8" r="1.10"/><circle cx="12.8" cy="18.4" r="1.11"/><circle cx="14.3" cy="23.4" r="1.19"/><circle cx="18.5" cy="38.8" r="1.09"/><circle cx="36.1" cy="17.8" r="1.03"/><circle cx="6.7" cy="31.9" r="0.98"/><circle cx="33.2" cy="19.9" r="0.84"/><circle cx="24.9" cy="26.4" r="0.87"/><circle cx="17.8" cy="16.1" r="0.93"/><circle cx="12.2" cy="21.7" r="0.80"/><circle cx="38.1" cy="24.9" r="1.13"/><circle cx="22.0" cy="38.1" r="0.87"/><circle cx="9.7" cy="28.9" r="0.93"/><circle cx="36.6" cy="10.5" r="0.79"/><circle cx="19.8" cy="15.1" r="1.20"/><circle cx="39.2" cy="17.1" r="0.97"/><circle cx="28.5" cy="22.2" r="0.82"/><circle cx="30.6" cy="36.8" r="0.92"/><circle cx="9.9" cy="29.4" r="1.22"/><circle cx="33.7" cy="17.6" r="1.16"/><circle cx="17.6" cy="9.1" r="0.82"/><circle cx="17.0" cy="17.3" r="0.78"/><circle cx="24.1" cy="15.7" r="0.77"/><circle cx="37.3" cy="22.4" r="0.98"/><circle cx="22.2" cy="21.5" r="0.82"/><circle cx="28.8" cy="36.3" r="0.78"/><circle cx="24.4" cy="24.7" r="1.10"/><circle cx="24.1" cy="25.3" r="0.82"/><circle cx="23.2" cy="9.4" r="0.91"/><circle cx="40.2" cy="27.0" r="1.15"/><circle cx="15.1" cy="39.9" r="1.15"/><circle cx="37.6" cy="25.5" r="1.15"/><circle cx="25.2" cy="39.7" r="1.23"/><circle cx="29.5" cy="12.8" r="0.82"/><circle cx="14.1" cy="39.1" r="0.91"/><circle cx="9.6" cy="14.2" r="0.99"/><circle cx="19.3" cy="15.5" r="0.76"/><circle cx="42.5" cy="22.9" r="1.01"/><circle cx="18.0" cy="38.2" r="1.21"/><circle cx="14.9" cy="27.3" r="1.07"/><circle cx="22.9" cy="35.4" r="1.20"/><circle cx="35.0" cy="38.3" r="0.87"/><circle cx="19.5" cy="15.5" r="0.95"/><circle cx="21.2" cy="18.0" r="1.00"/><circle cx="39.1" cy="29.2" r="0.88"/><circle cx="13.4" cy="17.5" r="1.03"/><circle cx="24.7" cy="24.2" r="1.12"/><circle cx="35.8" cy="12.1" r="0.85"/><circle cx="25.4" cy="24.8" r="0.92"/><circle cx="8.2" cy="26.6" r="1.18"/><circle cx="12.7" cy="25.5" r="1.07"/><circle cx="15.6" cy="12.6" r="0.78"/><circle cx="9.1" cy="26.5" r="0.78"/><circle cx="34.7" cy="22.8" r="1.01"/><circle cx="9.3" cy="32.7" r="1.03"/><circle cx="26.0" cy="27.2" r="1.04"/><circle cx="12.0" cy="34.1" r="1.21"/><circle cx="6.7" cy="32.1" r="1.08"/><circle cx="10.1" cy="23.2" r="1.16"/><circle cx="29.0" cy="15.3" r="0.86"/><circle cx="22.0" cy="35.9" r="0.92"/><circle cx="36.1" cy="10.6" r="1.10"/><circle cx="32.5" cy="13.9" r="0.75"/><circle cx="18.4" cy="22.0" r="0.85"/><circle cx="40.6" cy="17.8" r="0.91"/><circle cx="16.5" cy="28.2" r="0.84"/><circle cx="33.4" cy="9.2" r="1.25"/><circle cx="9.2" cy="27.4" r="0.76"/><circle cx="13.6" cy="35.7" r="0.89"/><circle cx="23.9" cy="28.9" r="1.01"/><circle cx="10.1" cy="28.6" r="0.91"/><circle cx="10.1" cy="18.7" r="1.09"/></g></svg><svg x="586.4" y="318.0" width="48.2" height="47.9" viewBox="0 0 48 48" preserveAspectRatio="none"><rect width="48" height="48" fill="#2f66cc"/><rect width="48" height="48" filter="url(#bluetexF)"/><circle cx="24" cy="24" r="22.6" fill="#7090d4" fill-opacity="0.45" stroke="#d4def4" stroke-width="1.3" stroke-opacity="0.9"/><circle cx="24" cy="24.3" r="20.6" fill="#b0b2b4" fill-opacity="0.9" stroke="#dcd8c8" stroke-width="1.3"/><g fill="#ece0a8"><circle cx="25.0" cy="11.1" r="1.01"/><circle cx="38.2" cy="32.1" r="0.98"/><circle cx="31.0" cy="9.9" r="1.03"/><circle cx="37.8" cy="25.2" r="1.24"/><circle cx="33.4" cy="20.6" r="1.18"/><circle cx="39.6" cy="17.9" r="1.17"/><circle cx="25.7" cy="36.6" r="0.77"/><circle cx="13.4" cy="16.8" r="0.85"/><circle cx="22.5" cy="20.7" r="1.18"/><circle cx="16.3" cy="28.0" r="0.86"/><circle cx="31.7" cy="31.3" r="1.05"/><circle cx="35.4" cy="38.9" r="1.19"/><circle cx="25.0" cy="22.5" r="1.01"/><circle cx="36.3" cy="28.6" r="0.99"/><circle cx="18.4" cy="41.2" r="0.83"/><circle cx="21.3" cy="7.6" r="1.13"/><circle cx="35.1" cy="21.6" r="1.02"/><circle cx="28.8" cy="39.0" r="0.79"/><circle cx="6.5" cy="30.0" r="1.02"/><circle cx="32.0" cy="35.0" r="0.86"/><circle cx="11.4" cy="32.6" r="1.10"/><circle cx="30.9" cy="16.1" r="1.04"/><circle cx="36.1" cy="9.9" r="1.05"/><circle cx="17.6" cy="19.5" r="1.21"/><circle cx="34.6" cy="14.4" r="1.04"/><circle cx="18.9" cy="42.0" r="1.06"/><circle cx="25.0" cy="40.0" r="1.21"/><circle cx="34.7" cy="23.5" r="0.81"/><circle cx="33.8" cy="20.9" r="0.85"/><circle cx="42.6" cy="24.0" r="0.98"/><circle cx="23.1" cy="19.8" r="0.90"/><circle cx="17.7" cy="37.8" r="0.78"/><circle cx="40.4" cy="22.1" r="0.97"/><circle cx="19.0" cy="20.6" r="0.97"/><circle cx="24.5" cy="10.2" r="1.02"/><circle cx="17.8" cy="41.2" r="1.09"/><circle cx="7.5" cy="21.6" r="0.86"/><circle cx="37.2" cy="34.0" r="1.18"/><circle cx="25.3" cy="8.7" r="1.03"/><circle cx="18.2" cy="27.7" r="1.16"/><circle cx="14.8" cy="15.6" r="1.03"/><circle cx="20.1" cy="10.8" r="0.90"/><circle cx="14.6" cy="35.3" r="1.09"/><circle cx="28.1" cy="9.0" r="1.16"/><circle cx="28.1" cy="17.9" r="1.07"/><circle cx="36.4" cy="29.1" r="0.79"/><circle cx="15.9" cy="27.1" r="0.78"/><circle cx="16.7" cy="17.9" r="1.19"/><circle cx="40.6" cy="33.1" r="0.85"/><circle cx="19.7" cy="16.4" r="1.08"/><circle cx="13.1" cy="25.1" r="1.06"/><circle cx="11.2" cy="12.7" r="0.91"/><circle cx="33.3" cy="37.1" r="0.77"/><circle cx="23.9" cy="37.3" r="1.05"/><circle cx="38.2" cy="31.1" r="1.23"/></g></svg><svg x="635.9" y="318.0" width="48.2" height="47.9" viewBox="0 0 48 48" preserveAspectRatio="none"><rect width="48" height="48" fill="#2f66cc"/><rect width="48" height="48" filter="url(#bluetexF)"/><circle cx="24" cy="24" r="22.6" fill="#7090d4" fill-opacity="0.45" stroke="#d4def4" stroke-width="1.3" stroke-opacity="0.9"/><circle cx="24" cy="24.3" r="20.6" fill="#8ca6d8" fill-opacity="1" stroke="#dcd8c8" stroke-width="1.3"/><g fill=""></g></svg><text x="0" y="383.6" font-size="18.5">C</text><rect x="35.1" y="384" width="30.8" height="38.6" fill="#0505fb"/><rect x="64.9" y="384" width="30.4" height="38.6" fill="#0c0cf7"/><rect x="94.3" y="384" width="30.6" height="38.6" fill="#0808f9"/><rect x="123.9" y="384" width="30.6" height="38.6" fill="#0a0af8"/><rect x="153.5" y="384" width="30.1" height="38.6" fill="#1e2cf3"/><rect x="35.1" y="421.6" width="30.8" height="38.9" fill="#4747f8"/><rect x="64.9" y="421.6" width="30.4" height="38.9" fill="#4a4af7"/><rect x="94.3" y="421.6" width="30.6" height="38.9" fill="#4646f8"/><rect x="123.9" y="421.6" width="30.6" height="38.9" fill="#4b4bf7"/><rect x="153.5" y="421.6" width="30.1" height="38.9" fill="#ffffff"/><rect x="35.1" y="459.5" width="30.8" height="38.0" fill="#a7a7fc"/><rect x="64.9" y="459.5" width="30.4" height="38.0" fill="#acacfc"/><rect x="94.3" y="459.5" width="30.6" height="38.0" fill="#aaaafc"/><rect x="123.9" y="459.5" width="30.6" height="38.0" fill="#a5a5fb"/><rect x="153.5" y="459.5" width="30.1" height="38.0" fill="#ffffff"/><rect x="35.1" y="384" width="148.5" height="113.5" fill="none" stroke="#222" stroke-width="0.9"/><path d="M32.4,403 L35.1,403" stroke="#222" stroke-width="0.8"/><text x="30.5" y="406.5" font-size="10.5" text-anchor="end">1 day</text><path d="M32.4,441.5 L35.1,441.5" stroke="#222" stroke-width="0.8"/><text x="30.5" y="445.0" font-size="10.5" text-anchor="end">3 days</text><path d="M32.4,478.9 L35.1,478.9" stroke="#222" stroke-width="0.8"/><text x="30.5" y="482.4" font-size="10.5" text-anchor="end">7 days</text><path d="M50.0,497.5 L50.0,500" stroke="#222" stroke-width="0.8"/><text x="50.0" y="510.8" font-size="10.5" text-anchor="middle">G2</text><path d="M79.6,497.5 L79.6,500" stroke="#222" stroke-width="0.8"/><text x="79.6" y="510.8" font-size="10.5" text-anchor="middle">G3</text><path d="M109.1,497.5 L109.1,500" stroke="#222" stroke-width="0.8"/><text x="109.1" y="510.8" font-size="10.5" text-anchor="middle">G4</text><path d="M138.7,497.5 L138.7,500" stroke="#222" stroke-width="0.8"/><text x="138.7" y="510.8" font-size="10.5" text-anchor="middle">G5</text><path d="M168.55,497.5 L168.55,500" stroke="#222" stroke-width="0.8"/><text x="168.55" y="510.8" font-size="10.5" text-anchor="middle">G6</text><defs><linearGradient id="bw" x1="0" y1="1" x2="0" y2="0"><stop offset="0" stop-color="#fff"/><stop offset="1" stop-color="#0000ff"/></linearGradient></defs><rect x="186.6" y="383.8" width="12.3" height="114" fill="url(#bw)" stroke="#222" stroke-width="0.9"/><path d="M198.9,422.8 L201,422.8" stroke="#222" stroke-width="0.8"/><text x="201.2" y="426.40000000000003" font-size="10.8">20</text><path d="M198.9,460 L201,460" stroke="#222" stroke-width="0.8"/><text x="201.2" y="463.6" font-size="10.8">10</text><path d="M198.9,497.8 L201,497.8" stroke="#222" stroke-width="0.8"/><text x="201.2" y="501.40000000000003" font-size="10.8">0</text><text transform="translate(224.8,443.2) rotate(-90)" font-size="10.5" text-anchor="middle">Avg Radiance</text><text transform="translate(238.6,443.7) rotate(-90)" font-size="10.6" text-anchor="middle">[p/s/cm<tspan font-size="7.4" dy="-3.8">2</tspan><tspan dy="3.8">/sr] (x 10</tspan><tspan font-size="7.4" dy="-3.8">5</tspan><tspan dy="3.8">)</tspan></text><text x="250.5" y="382.5" font-size="18.5">E</text><path d="M284.4,385.8 L284.4,498.6 L398.5,498.6" stroke="#222" stroke-width="1" fill="none"/><path d="M281.79999999999995,498.6 L284.4,498.6" stroke="#222" stroke-width="0.9"/><text x="280.9" y="502.1" font-size="10" text-anchor="end">0</text><path d="M281.79999999999995,470.4 L284.4,470.4" stroke="#222" stroke-width="0.9"/><text x="280.9" y="473.9" font-size="10" text-anchor="end">2</text><path d="M281.79999999999995,442.2 L284.4,442.2" stroke="#222" stroke-width="0.9"/><text x="280.9" y="445.7" font-size="10" text-anchor="end">4</text><path d="M281.79999999999995,414.0 L284.4,414.0" stroke="#222" stroke-width="0.9"/><text x="280.9" y="417.5" font-size="10" text-anchor="end">6</text><path d="M281.79999999999995,385.8 L284.4,385.8" stroke="#222" stroke-width="0.9"/><text x="280.9" y="389.3" font-size="10" text-anchor="end">8</text><text x="339.8" y="380" font-size="9.9" text-anchor="middle">7 days</text><circle cx="292.6" cy="498.6" r="2.9" fill="none" stroke="#fdb97a" stroke-width="1.1"/><circle cx="296.0" cy="498.6" r="2.9" fill="none" stroke="#fdb97a" stroke-width="1.1"/><circle cx="299.4" cy="498.6" r="2.9" fill="none" stroke="#fdb97a" stroke-width="1.1"/><path d="M310.1,423.165 L319.1,423.165 M314.6,430.92 L314.6,414.70500000000004 M312.40000000000003,430.92 L316.8,430.92 M312.40000000000003,414.70500000000004 L316.8,414.70500000000004" stroke="#1f9aa6" stroke-width="1.0" fill="none"/><circle cx="312.4" cy="414.0" r="2.9" fill="none" stroke="#1f9aa6" stroke-width="1.1"/><circle cx="316.8" cy="418.2" r="2.9" fill="none" stroke="#1f9aa6" stroke-width="1.1"/><circle cx="312.4" cy="429.5" r="2.9" fill="none" stroke="#1f9aa6" stroke-width="1.1"/><circle cx="316.8" cy="429.5" r="2.9" fill="none" stroke="#1f9aa6" stroke-width="1.1"/><path d="M327.7,425.28000000000003 L336.7,425.28000000000003 M332.2,428.805 L332.2,421.755 M330.0,428.805 L334.4,428.805 M330.0,421.755 L334.4,421.755" stroke="#9a9af0" stroke-width="1.0" fill="none"/><circle cx="330.0" cy="421.1" r="2.9" fill="none" stroke="#9a9af0" stroke-width="1.1"/><circle cx="334.4" cy="425.3" r="2.9" fill="none" stroke="#9a9af0" stroke-width="1.1"/><circle cx="330.0" cy="423.9" r="2.9" fill="none" stroke="#9a9af0" stroke-width="1.1"/><circle cx="334.4" cy="429.5" r="2.9" fill="none" stroke="#9a9af0" stroke-width="1.1"/><path d="M345.8,419.64 L354.8,419.64 M350.3,423.165 L350.3,416.115 M348.1,423.165 L352.5,423.165 M348.1,416.115 L352.5,416.115" stroke="#2020e0" stroke-width="1.0" fill="none"/><circle cx="348.1" cy="414.0" r="2.9" fill="none" stroke="#2020e0" stroke-width="1.1"/><circle cx="352.5" cy="418.2" r="2.9" fill="none" stroke="#2020e0" stroke-width="1.1"/><circle cx="348.1" cy="421.1" r="2.9" fill="none" stroke="#2020e0" stroke-width="1.1"/><circle cx="352.5" cy="423.9" r="2.9" fill="none" stroke="#2020e0" stroke-width="1.1"/><path d="M363.7,428.805 L372.7,428.805 M368.2,433.74 L368.2,423.165 M366.0,433.74 L370.4,433.74 M366.0,423.165 L370.4,423.165" stroke="#5aa0f0" stroke-width="1.0" fill="none"/><circle cx="366.0" cy="421.1" r="2.9" fill="none" stroke="#5aa0f0" stroke-width="1.1"/><circle cx="370.4" cy="428.1" r="2.9" fill="none" stroke="#5aa0f0" stroke-width="1.1"/><circle cx="366.0" cy="430.9" r="2.9" fill="none" stroke="#5aa0f0" stroke-width="1.1"/><circle cx="370.4" cy="432.3" r="2.9" fill="none" stroke="#5aa0f0" stroke-width="1.1"/><path d="M382.4,483.795 L391.4,483.795 M386.9,490.14000000000004 L386.9,477.45000000000005 M384.7,490.14000000000004 L389.09999999999997,490.14000000000004 M384.7,477.45000000000005 L389.09999999999997,477.45000000000005" stroke="#ee1c1c" stroke-width="1.0" fill="none"/><circle cx="384.7" cy="474.6" r="2.9" fill="none" stroke="#ee1c1c" stroke-width="1.1"/><circle cx="389.1" cy="480.3" r="2.9" fill="none" stroke="#ee1c1c" stroke-width="1.1"/><circle cx="384.7" cy="485.9" r="2.9" fill="none" stroke="#ee1c1c" stroke-width="1.1"/><circle cx="389.1" cy="491.6" r="2.9" fill="none" stroke="#ee1c1c" stroke-width="1.1"/><path d="M296.5,411.4 L313.6,411.4" stroke="#222" stroke-width="0.9" fill="none"/><text x="306.3" y="409.4" font-size="9.3" text-anchor="middle">P &lt; 0.0001</text><path d="M313.6,397.4 L368.7,397.4 M341.4,397.4 L341.4,392.4 L386.9,392.4 L386.9,471.2" stroke="#222" stroke-width="0.9" fill="none"/><text x="328.8" y="395.2" font-size="10.2" text-anchor="middle">ns</text><text x="365.15" y="390.4" font-size="9.3" text-anchor="middle">P &lt; 0.0001</text><text transform="translate(268.8,440) rotate(-90)" font-size="10.1" text-anchor="middle">Log<tspan font-size="6.8" dy="2">10</tspan><tspan dy="-2"> CFU/mL</tspan></text><path d="M427.8,385.8 L427.8,498.6 L542.8,498.6" stroke="#222" stroke-width="1" fill="none"/><path d="M425.2,498.6 L427.8,498.6" stroke="#222" stroke-width="0.9"/><text x="424.3" y="502.1" font-size="10" text-anchor="end">0</text><path d="M425.2,470.4 L427.8,470.4" stroke="#222" stroke-width="0.9"/><text x="424.3" y="473.9" font-size="10" text-anchor="end">2</text><path d="M425.2,442.2 L427.8,442.2" stroke="#222" stroke-width="0.9"/><text x="424.3" y="445.7" font-size="10" text-anchor="end">4</text><path d="M425.2,414.0 L427.8,414.0" stroke="#222" stroke-width="0.9"/><text x="424.3" y="417.5" font-size="10" text-anchor="end">6</text><path d="M425.2,385.8 L427.8,385.8" stroke="#222" stroke-width="0.9"/><text x="424.3" y="389.3" font-size="10" text-anchor="end">8</text><text x="487" y="380" font-size="9.9" text-anchor="middle">14 days</text><circle cx="436.5" cy="498.6" r="2.9" fill="none" stroke="#fdb97a" stroke-width="1.1"/><circle cx="439.9" cy="498.6" r="2.9" fill="none" stroke="#fdb97a" stroke-width="1.1"/><circle cx="443.3" cy="498.6" r="2.9" fill="none" stroke="#fdb97a" stroke-width="1.1"/><path d="M452.9,418.23 L461.9,418.23 M457.4,421.05 L457.4,414.70500000000004 M455.2,421.05 L459.59999999999997,421.05 M455.2,414.70500000000004 L459.59999999999997,414.70500000000004" stroke="#1f9aa6" stroke-width="1.0" fill="none"/><circle cx="455.2" cy="414.0" r="2.9" fill="none" stroke="#1f9aa6" stroke-width="1.1"/><circle cx="459.6" cy="416.8" r="2.9" fill="none" stroke="#1f9aa6" stroke-width="1.1"/><circle cx="455.2" cy="418.2" r="2.9" fill="none" stroke="#1f9aa6" stroke-width="1.1"/><circle cx="459.6" cy="422.5" r="2.9" fill="none" stroke="#1f9aa6" stroke-width="1.1"/><path d="M471.5,412.59000000000003 L480.5,412.59000000000003 M476,416.82000000000005 L476,408.36 M473.8,416.82000000000005 L478.2,416.82000000000005 M473.8,408.36 L478.2,408.36" stroke="#9a9af0" stroke-width="1.0" fill="none"/><circle cx="473.8" cy="407.0" r="2.9" fill="none" stroke="#9a9af0" stroke-width="1.1"/><circle cx="478.2" cy="409.8" r="2.9" fill="none" stroke="#9a9af0" stroke-width="1.1"/><circle cx="473.8" cy="414.0" r="2.9" fill="none" stroke="#9a9af0" stroke-width="1.1"/><circle cx="478.2" cy="416.8" r="2.9" fill="none" stroke="#9a9af0" stroke-width="1.1"/><path d="M489.7,414.70500000000004 L498.7,414.70500000000004 M494.2,418.935 L494.2,410.475 M492.0,418.935 L496.4,418.935 M492.0,410.475 L496.4,410.475" stroke="#2020e0" stroke-width="1.0" fill="none"/><circle cx="492.0" cy="408.4" r="2.9" fill="none" stroke="#2020e0" stroke-width="1.1"/><circle cx="496.4" cy="414.0" r="2.9" fill="none" stroke="#2020e0" stroke-width="1.1"/><circle cx="492.0" cy="416.8" r="2.9" fill="none" stroke="#2020e0" stroke-width="1.1"/><circle cx="496.4" cy="419.6" r="2.9" fill="none" stroke="#2020e0" stroke-width="1.1"/><path d="M507.6,415.41 L516.6,415.41 M512.1,416.82000000000005 L512.1,414.0 M509.90000000000003,416.82000000000005 L514.3000000000001,416.82000000000005 M509.90000000000003,414.0 L514.3000000000001,414.0" stroke="#5aa0f0" stroke-width="1.0" fill="none"/><circle cx="509.9" cy="414.0" r="2.9" fill="none" stroke="#5aa0f0" stroke-width="1.1"/><circle cx="514.3" cy="415.4" r="2.9" fill="none" stroke="#5aa0f0" stroke-width="1.1"/><circle cx="509.9" cy="415.4" r="2.9" fill="none" stroke="#5aa0f0" stroke-width="1.1"/><circle cx="514.3" cy="416.8" r="2.9" fill="none" stroke="#5aa0f0" stroke-width="1.1"/><circle cx="526.9" cy="498.6" r="2.9" fill="none" stroke="#ee1c1c" stroke-width="1.1"/><circle cx="530.3" cy="498.6" r="2.9" fill="none" stroke="#ee1c1c" stroke-width="1.1"/><circle cx="533.7" cy="498.6" r="2.9" fill="none" stroke="#ee1c1c" stroke-width="1.1"/><path d="M440.4,411.4 L456.4,411.4" stroke="#222" stroke-width="0.9" fill="none"/><text x="449.65" y="409.4" font-size="9.3" text-anchor="middle">P &lt; 0.0001</text><path d="M456.4,397.4 L512.6,397.4 M484.75,397.4 L484.75,392.4 L530.3,392.4 L530.3,470.5" stroke="#222" stroke-width="0.9" fill="none"/><text x="472.5" y="395.2" font-size="10.2" text-anchor="middle">ns</text><text x="508.525" y="390.4" font-size="9.3" text-anchor="middle">P &lt; 0.0001</text><text transform="translate(412.2,440) rotate(-90)" font-size="10.1" text-anchor="middle">Log<tspan font-size="6.8" dy="2">10</tspan><tspan dy="-2"> CFU/mL</tspan></text><path d="M567.1,385.7 L567.1,498.8 L681.8,498.8" stroke="#222" stroke-width="1" fill="none"/><path d="M564.5,498.8 L567.1,498.8" stroke="#222" stroke-width="0.9"/><text x="563.6" y="502.3" font-size="10" text-anchor="end">0</text><path d="M564.5,461.1 L567.1,461.1" stroke="#222" stroke-width="0.9"/><text x="563.6" y="464.6" font-size="10" text-anchor="end">2</text><path d="M564.5,423.4 L567.1,423.4" stroke="#222" stroke-width="0.9"/><text x="563.6" y="426.9" font-size="10" text-anchor="end">4</text><path d="M564.5,385.7 L567.1,385.7" stroke="#222" stroke-width="0.9"/><text x="563.6" y="389.2" font-size="10" text-anchor="end">6</text><path d="M565.5,479.9 L567.1,479.9" stroke="#222" stroke-width="0.9"/><path d="M565.5,442.2 L567.1,442.2" stroke="#222" stroke-width="0.9"/><path d="M565.5,404.5 L567.1,404.5" stroke="#222" stroke-width="0.9"/><text x="625.7" y="380" font-size="9.9" text-anchor="middle">28 days</text><circle cx="575.8" cy="498.8" r="2.9" fill="none" stroke="#fdb97a" stroke-width="1.1"/><circle cx="579.2" cy="498.8" r="2.9" fill="none" stroke="#fdb97a" stroke-width="1.1"/><circle cx="582.6" cy="498.8" r="2.9" fill="none" stroke="#fdb97a" stroke-width="1.1"/><path d="M592.7,423.4 L601.7,423.4 M597.2,429.9975 L597.2,416.8025 M595.0,429.9975 L599.4000000000001,429.9975 M595.0,416.8025 L599.4000000000001,416.8025" stroke="#1f9aa6" stroke-width="1.0" fill="none"/><circle cx="595.0" cy="415.9" r="2.9" fill="none" stroke="#1f9aa6" stroke-width="1.1"/><circle cx="599.4" cy="421.5" r="2.9" fill="none" stroke="#1f9aa6" stroke-width="1.1"/><circle cx="595.0" cy="427.2" r="2.9" fill="none" stroke="#1f9aa6" stroke-width="1.1"/><circle cx="599.4" cy="430.9" r="2.9" fill="none" stroke="#1f9aa6" stroke-width="1.1"/><path d="M610.6,429.055 L619.6,429.055 M615.1,432.825 L615.1,426.22749999999996 M612.9,432.825 L617.3000000000001,432.825 M612.9,426.22749999999996 L617.3000000000001,426.22749999999996" stroke="#9a9af0" stroke-width="1.0" fill="none"/><circle cx="612.9" cy="425.3" r="2.9" fill="none" stroke="#9a9af0" stroke-width="1.1"/><circle cx="617.3" cy="427.2" r="2.9" fill="none" stroke="#9a9af0" stroke-width="1.1"/><circle cx="612.9" cy="430.9" r="2.9" fill="none" stroke="#9a9af0" stroke-width="1.1"/><circle cx="617.3" cy="434.7" r="2.9" fill="none" stroke="#9a9af0" stroke-width="1.1"/><path d="M629.3,424.3425 L638.3,424.3425 M633.8,431.8825 L633.8,417.745 M631.5999999999999,431.8825 L636.0,431.8825 M631.5999999999999,417.745 L636.0,417.745" stroke="#2020e0" stroke-width="1.0" fill="none"/><circle cx="631.6" cy="414.0" r="2.9" fill="none" stroke="#2020e0" stroke-width="1.1"/><circle cx="636.0" cy="423.4" r="2.9" fill="none" stroke="#2020e0" stroke-width="1.1"/><circle cx="631.6" cy="429.1" r="2.9" fill="none" stroke="#2020e0" stroke-width="1.1"/><circle cx="636.0" cy="434.7" r="2.9" fill="none" stroke="#2020e0" stroke-width="1.1"/><path d="M647.3,429.055 L656.3,429.055 M651.8,432.825 L651.8,425.28499999999997 M649.5999999999999,432.825 L654.0,432.825 M649.5999999999999,425.28499999999997 L654.0,425.28499999999997" stroke="#5aa0f0" stroke-width="1.0" fill="none"/><circle cx="649.6" cy="423.4" r="2.9" fill="none" stroke="#5aa0f0" stroke-width="1.1"/><circle cx="654.0" cy="429.1" r="2.9" fill="none" stroke="#5aa0f0" stroke-width="1.1"/><circle cx="649.6" cy="430.9" r="2.9" fill="none" stroke="#5aa0f0" stroke-width="1.1"/><circle cx="654.0" cy="432.8" r="2.9" fill="none" stroke="#5aa0f0" stroke-width="1.1"/><circle cx="666.4" cy="498.8" r="2.9" fill="none" stroke="#ee1c1c" stroke-width="1.1"/><circle cx="669.8" cy="498.8" r="2.9" fill="none" stroke="#ee1c1c" stroke-width="1.1"/><circle cx="673.2" cy="498.8" r="2.9" fill="none" stroke="#ee1c1c" stroke-width="1.1"/><path d="M579.7,411.7 L596.2,411.7" stroke="#222" stroke-width="0.9" fill="none"/><text x="589.2" y="409.7" font-size="9.3" text-anchor="middle">P &lt; 0.0001</text><path d="M596.2,397.6 L652.3,397.6 M624.5,397.6 L624.5,392.4 L669.8,392.4 L669.8,470.5" stroke="#222" stroke-width="0.9" fill="none"/><text x="611.5" y="395.40000000000003" font-size="10.2" text-anchor="middle">ns</text><text x="648.15" y="390.4" font-size="9.3" text-anchor="middle">P &lt; 0.0001</text><text transform="translate(551,440) rotate(-90)" font-size="10.1" text-anchor="middle">Log<tspan font-size="6.8" dy="2">10</tspan><tspan dy="-2"> CFU/mL</tspan></text><defs><filter id="bonetexF" x="0" y="0" width="100%" height="100%" color-interpolation-filters="sRGB">
<feTurbulence type="fractalNoise" baseFrequency="0.45" numOctaves="2" seed="7"/>
<feColorMatrix type="matrix" values="0 0 0 0 0.4  0 0 0 0 0.68  0 0 0 0 0.9  3.5 0 0 0 -1.6"/></filter>
<filter id="tissueF" x="0" y="0" width="100%" height="100%" color-interpolation-filters="sRGB">
<feTurbulence type="fractalNoise" baseFrequency="0.12" numOctaves="2" seed="11" result="n"/>
<feColorMatrix in="n" type="matrix" values="0 0 0 0 1  0 0 0 0 0.92  0 0 0 0 0.92  0.9 0 0 0 -0.36" result="hl"/>
<feComposite in="hl" in2="SourceGraphic" operator="in" result="h2"/>
<feMerge><feMergeNode in="SourceGraphic"/><feMergeNode in="h2"/></feMerge></filter></defs><text x="0" y="522" font-size="18.5">F</text><text x="44.5" y="525.8" font-size="10" text-anchor="middle">Sham</text><text x="104.22" y="525.8" font-size="10" text-anchor="middle">PBS</text><text x="162.44" y="525.8" font-size="10" text-anchor="middle">Van</text><text x="223.66" y="525.8" font-size="10" text-anchor="middle">Ga<tspan font-size="6.2" dy="2">Van</tspan></text><text x="283.38" y="525.8" font-size="10" text-anchor="middle">GaCu<tspan font-size="6.2" dy="2">Van</tspan></text><text x="343.1" y="519.3" font-size="10" text-anchor="middle">GaCu<tspan font-size="6.6" dy="2">Van</tspan><tspan dy="-2">&amp;</tspan></text><text x="343.1" y="529" font-size="10" text-anchor="middle">HA<tspan font-size="6.8" dy="2">CHO</tspan><tspan dy="-2">-BSA</tspan></text><text transform="translate(13,562.3000000000001) rotate(-90)" font-size="10" text-anchor="middle">7 days</text><svg x="15.6" y="531.6" width="28.5" height="61.4" viewBox="0 0 28.5 62" preserveAspectRatio="none"><rect width="28.5" height="62" fill="#3b8cc0"/><rect width="28.5" height="62" filter="url(#bonetexF)" opacity="0.6"/><g filter="url(#tissueF)"><path d="M9,0 C4,6 2,14 2,26 C2,38 6,48 9,56 L10,62 L26,62 C26,54 27,48 28.5,44 L28.5,0 Z" fill="#d9b5a2"/><path d="M21,0 C18,16 19,34 23,62 L28.5,62 L28.5,0 Z" fill="#b88a80" opacity="0.5"/><ellipse cx="11" cy="20" rx="5" ry="13" fill="#fff" opacity="0.16"/><path d="M8,6 C12,14 14,26 13,40" stroke="#fff" stroke-width="1.2" opacity="0.18" fill="none"/><path d="M19,4 C17,18 17,32 20,50" stroke="#b88a80" stroke-width="0.8" opacity="0.6" fill="none"/></g></svg><svg x="44.9" y="531.6" width="28.5" height="61.4" viewBox="0 0 28.5 62" preserveAspectRatio="none"><rect width="28.5" height="62" fill="#3d93cc"/><rect width="28.5" height="62" filter="url(#bonetexF)"/><path d="M8.2,5.0 C8.8,1.5 14.8,0.5 15.8,4.0 C16.3,8.0 13.8,11.0 13.4,13.0 L12.6,49 L9.2,49 L10.0,13.0 C8.8,11.0 7.6,8.0 8.2,5.0Z" fill="#eddcd4"/><ellipse cx="10.8" cy="50" rx="3" ry="2.6" fill="#dba8a0"/><path d="M9.8,52 L3.8,62 M11.8,52.5 L7.8,62" stroke="#a0a0a0" stroke-width="0.8" fill="none"/></svg><circle cx="56.7" cy="550.0" r="7.4" fill="none" stroke="#fff" stroke-width="1.3" stroke-dasharray="2.6,1.6"/><svg x="75.3" y="531.6" width="28.5" height="61.4" viewBox="0 0 28.5 62" preserveAspectRatio="none"><rect width="28.5" height="62" fill="#3b8cc0"/><rect width="28.5" height="62" filter="url(#bonetexF)" opacity="0.6"/><g filter="url(#tissueF)"><path d="M6,0 C2,8 1,16 1,28 C1,40 5,50 8,57 L9,62 L25,62 C25,55 27,50 28.5,46 L28.5,0 Z" fill="#c9a09a"/><path d="M21,0 C18,16 19,34 23,62 L28.5,62 L28.5,0 Z" fill="#a87878" opacity="0.5"/><ellipse cx="11" cy="20" rx="5" ry="13" fill="#fff" opacity="0.16"/><path d="M8,6 C12,14 14,26 13,40" stroke="#fff" stroke-width="1.2" opacity="0.18" fill="none"/><path d="M19,4 C17,18 17,32 20,50" stroke="#a87878" stroke-width="0.8" opacity="0.6" fill="none"/></g></svg><svg x="104.6" y="531.6" width="28.5" height="61.4" viewBox="0 0 28.5 62" preserveAspectRatio="none"><rect width="28.5" height="62" fill="#3d93cc"/><rect width="28.5" height="62" filter="url(#bonetexF)"/><path d="M13.7,11.1 C14.3,7.6 20.3,6.6 21.3,10.1 C21.8,14.1 19.3,17.1 18.9,19.1 L18.1,49 L14.7,49 L15.5,19.1 C14.3,17.1 13.1,14.1 13.7,11.1Z" fill="#eddcd4"/><ellipse cx="16.3" cy="50" rx="3" ry="2.6" fill="#dba8a0"/><path d="M15.3,52 L9.3,62 M17.3,52.5 L13.3,62" stroke="#a0a0a0" stroke-width="0.8" fill="none"/></svg><ellipse cx="90.3" cy="564.4" rx="5.5" ry="4.5" fill="#a02838" opacity="0.45"/><circle cx="89.3" cy="562.4" r="11" fill="none" stroke="#fff" stroke-width="1.3" stroke-dasharray="2.6,1.6"/><circle cx="121.9" cy="547.2" r="7.4" fill="none" stroke="#fff" stroke-width="1.3" stroke-dasharray="2.6,1.6"/><svg x="135.0" y="531.6" width="28.5" height="61.4" viewBox="0 0 28.5 62" preserveAspectRatio="none"><rect width="28.5" height="62" fill="#3b8cc0"/><rect width="28.5" height="62" filter="url(#bonetexF)" opacity="0.6"/><g filter="url(#tissueF)"><path d="M11,0 C5,8 3,18 3,30 C3,42 7,52 10,58 L11,62 L24,62 C24,56 26,50 28.5,44 L28.5,0 Z" fill="#c66a78"/><path d="M21,0 C18,16 19,34 23,62 L28.5,62 L28.5,0 Z" fill="#a04858" opacity="0.5"/><ellipse cx="11" cy="20" rx="5" ry="13" fill="#fff" opacity="0.16"/><path d="M8,6 C12,14 14,26 13,40" stroke="#fff" stroke-width="1.2" opacity="0.18" fill="none"/><path d="M19,4 C17,18 17,32 20,50" stroke="#a04858" stroke-width="0.8" opacity="0.6" fill="none"/></g></svg><svg x="164.3" y="531.6" width="28.5" height="61.4" viewBox="0 0 28.5 62" preserveAspectRatio="none"><rect width="28.5" height="62" fill="#3d93cc"/><rect width="28.5" height="62" filter="url(#bonetexF)"/><path d="M11.2,8.9 C11.8,5.4 17.8,4.4 18.8,7.9 C19.3,11.9 16.8,14.9 16.4,16.9 L15.6,49 L12.2,49 L13.0,16.9 C11.8,14.9 10.6,11.9 11.2,8.9Z" fill="#eddcd4"/><ellipse cx="13.8" cy="50" rx="3" ry="2.6" fill="#dba8a0"/><path d="M12.8,52 L6.8,62 M14.8,52.5 L10.8,62" stroke="#a0a0a0" stroke-width="0.8" fill="none"/></svg><ellipse cx="151.6" cy="561.6" rx="5.5" ry="4.5" fill="#a02838" opacity="0.45"/><circle cx="150.6" cy="559.6" r="11" fill="none" stroke="#fff" stroke-width="1.3" stroke-dasharray="2.6,1.6"/><circle cx="179.1" cy="545.0" r="7.4" fill="none" stroke="#fff" stroke-width="1.3" stroke-dasharray="2.6,1.6"/><svg x="194.8" y="531.6" width="28.5" height="61.4" viewBox="0 0 28.5 62" preserveAspectRatio="none"><rect width="28.5" height="62" fill="#3b8cc0"/><rect width="28.5" height="62" filter="url(#bonetexF)" opacity="0.6"/><g filter="url(#tissueF)"><path d="M9,0 C4,6 2,14 2,26 C2,38 6,48 9,56 L10,62 L26,62 C26,54 27,48 28.5,44 L28.5,0 Z" fill="#cf9c9c"/><path d="M21,0 C18,16 19,34 23,62 L28.5,62 L28.5,0 Z" fill="#b06a70" opacity="0.5"/><ellipse cx="11" cy="20" rx="5" ry="13" fill="#fff" opacity="0.16"/><path d="M8,6 C12,14 14,26 13,40" stroke="#fff" stroke-width="1.2" opacity="0.18" fill="none"/><path d="M19,4 C17,18 17,32 20,50" stroke="#b06a70" stroke-width="0.8" opacity="0.6" fill="none"/></g></svg><svg x="224.1" y="531.6" width="28.5" height="61.4" viewBox="0 0 28.5 62" preserveAspectRatio="none"><rect width="28.5" height="62" fill="#3d93cc"/><rect width="28.5" height="62" filter="url(#bonetexF)"/><path d="M12.8,4.8 C13.4,1.3 19.4,0.3 20.4,3.8 C20.9,7.8 18.4,10.8 18.0,12.8 L17.2,49 L13.8,49 L14.6,12.8 C13.4,10.8 12.2,7.8 12.8,4.8Z" fill="#eddcd4"/><ellipse cx="15.4" cy="50" rx="3" ry="2.6" fill="#dba8a0"/><path d="M14.4,52 L8.4,62 M16.4,52.5 L12.4,62" stroke="#a0a0a0" stroke-width="0.8" fill="none"/></svg><ellipse cx="210.2" cy="568.6" rx="5.5" ry="4.5" fill="#a02838" opacity="0.45"/><circle cx="209.2" cy="566.6" r="11" fill="none" stroke="#fff" stroke-width="1.3" stroke-dasharray="2.6,1.6"/><circle cx="240.5" cy="540.9" r="7.4" fill="none" stroke="#fff" stroke-width="1.3" stroke-dasharray="2.6,1.6"/><svg x="254.5" y="531.6" width="28.5" height="61.4" viewBox="0 0 28.5 62" preserveAspectRatio="none"><rect width="28.5" height="62" fill="#3b8cc0"/><rect width="28.5" height="62" filter="url(#bonetexF)" opacity="0.6"/><g filter="url(#tissueF)"><path d="M6,0 C2,8 1,16 1,28 C1,40 5,50 8,57 L9,62 L25,62 C25,55 27,50 28.5,46 L28.5,0 Z" fill="#cf9a98"/><path d="M21,0 C18,16 19,34 23,62 L28.5,62 L28.5,0 Z" fill="#b07070" opacity="0.5"/><ellipse cx="11" cy="20" rx="5" ry="13" fill="#fff" opacity="0.16"/><path d="M8,6 C12,14 14,26 13,40" stroke="#fff" stroke-width="1.2" opacity="0.18" fill="none"/><path d="M19,4 C17,18 17,32 20,50" stroke="#b07070" stroke-width="0.8" opacity="0.6" fill="none"/></g></svg><svg x="283.8" y="531.6" width="28.5" height="61.4" viewBox="0 0 28.5 62" preserveAspectRatio="none"><rect width="28.5" height="62" fill="#3d93cc"/><rect width="28.5" height="62" filter="url(#bonetexF)"/><path d="M10.8,7.7 C11.4,4.2 17.4,3.2 18.4,6.7 C18.9,10.7 16.4,13.7 16.0,15.7 L15.2,49 L11.8,49 L12.6,15.7 C11.4,13.7 10.2,10.7 10.8,7.7Z" fill="#eddcd4"/><ellipse cx="13.4" cy="50" rx="3" ry="2.6" fill="#dba8a0"/><path d="M12.4,52 L6.4,62 M14.4,52.5 L10.4,62" stroke="#a0a0a0" stroke-width="0.8" fill="none"/></svg><ellipse cx="268.3" cy="567.6" rx="5.5" ry="4.5" fill="#a02838" opacity="0.45"/><circle cx="267.3" cy="565.6" r="11" fill="none" stroke="#fff" stroke-width="1.3" stroke-dasharray="2.6,1.6"/><circle cx="298.2" cy="543.8" r="7.4" fill="none" stroke="#fff" stroke-width="1.3" stroke-dasharray="2.6,1.6"/><svg x="314.2" y="531.6" width="28.5" height="61.4" viewBox="0 0 28.5 62" preserveAspectRatio="none"><rect width="28.5" height="62" fill="#3b8cc0"/><rect width="28.5" height="62" filter="url(#bonetexF)" opacity="0.6"/><g filter="url(#tissueF)"><path d="M11,0 C5,8 3,18 3,30 C3,42 7,52 10,58 L11,62 L24,62 C24,56 26,50 28.5,44 L28.5,0 Z" fill="#d4aaa8"/><path d="M21,0 C18,16 19,34 23,62 L28.5,62 L28.5,0 Z" fill="#b88888" opacity="0.5"/><ellipse cx="11" cy="20" rx="5" ry="13" fill="#fff" opacity="0.16"/><path d="M8,6 C12,14 14,26 13,40" stroke="#fff" stroke-width="1.2" opacity="0.18" fill="none"/><path d="M19,4 C17,18 17,32 20,50" stroke="#b88888" stroke-width="0.8" opacity="0.6" fill="none"/></g></svg><svg x="343.5" y="531.6" width="28.5" height="61.4" viewBox="0 0 28.5 62" preserveAspectRatio="none"><rect width="28.5" height="62" fill="#3d93cc"/><rect width="28.5" height="62" filter="url(#bonetexF)"/><path d="M10.6,6.2 C11.2,2.7 17.2,1.7 18.2,5.2 C18.7,9.2 16.2,12.2 15.8,14.2 L15.0,49 L11.6,49 L12.4,14.2 C11.2,12.2 10.0,9.2 10.6,6.2Z" fill="#eddcd4"/><ellipse cx="13.2" cy="50" rx="3" ry="2.6" fill="#dba8a0"/><path d="M12.2,52 L6.2,62 M14.2,52.5 L10.2,62" stroke="#a0a0a0" stroke-width="0.8" fill="none"/></svg><circle cx="357.7" cy="542.3" r="7.4" fill="none" stroke="#fff" stroke-width="1.3" stroke-dasharray="2.6,1.6"/><text transform="translate(13,626.7) rotate(-90)" font-size="10" text-anchor="middle">14 days</text><svg x="15.6" y="596.0" width="28.5" height="61.4" viewBox="0 0 28.5 62" preserveAspectRatio="none"><rect width="28.5" height="62" fill="#3b8cc0"/><rect width="28.5" height="62" filter="url(#bonetexF)" opacity="0.6"/><g filter="url(#tissueF)"><path d="M11,0 C5,8 3,18 3,30 C3,42 7,52 10,58 L11,62 L24,62 C24,56 26,50 28.5,44 L28.5,0 Z" fill="#c23a4a"/><path d="M21,0 C18,16 19,34 23,62 L28.5,62 L28.5,0 Z" fill="#a02838" opacity="0.5"/><ellipse cx="11" cy="20" rx="5" ry="13" fill="#fff" opacity="0.16"/><path d="M8,6 C12,14 14,26 13,40" stroke="#fff" stroke-width="1.2" opacity="0.18" fill="none"/><path d="M19,4 C17,18 17,32 20,50" stroke="#a02838" stroke-width="0.8" opacity="0.6" fill="none"/></g></svg><svg x="44.9" y="596.0" width="28.5" height="61.4" viewBox="0 0 28.5 62" preserveAspectRatio="none"><rect width="28.5" height="62" fill="#3d93cc"/><rect width="28.5" height="62" filter="url(#bonetexF)"/><path d="M10.9,5.5 C11.5,2.0 17.5,1.0 18.5,4.5 C19.0,8.5 16.5,11.5 16.1,13.5 L15.3,49 L11.9,49 L12.7,13.5 C11.5,11.5 10.3,8.5 10.9,5.5Z" fill="#ecd8d0"/><ellipse cx="13.5" cy="50" rx="3" ry="2.6" fill="#dba8a0"/><path d="M12.5,52 L6.5,62 M14.5,52.5 L10.5,62" stroke="#a0a0a0" stroke-width="0.8" fill="none"/></svg><svg x="75.3" y="596.0" width="28.5" height="61.4" viewBox="0 0 28.5 62" preserveAspectRatio="none"><rect width="28.5" height="62" fill="#3b8cc0"/><rect width="28.5" height="62" filter="url(#bonetexF)" opacity="0.6"/><g filter="url(#tissueF)"><path d="M9,0 C4,6 2,14 2,26 C2,38 6,48 9,56 L10,62 L26,62 C26,54 27,48 28.5,44 L28.5,0 Z" fill="#d2aaa8"/><path d="M21,0 C18,16 19,34 23,62 L28.5,62 L28.5,0 Z" fill="#b88888" opacity="0.5"/><ellipse cx="11" cy="20" rx="5" ry="13" fill="#fff" opacity="0.16"/><path d="M8,6 C12,14 14,26 13,40" stroke="#fff" stroke-width="1.2" opacity="0.18" fill="none"/><path d="M19,4 C17,18 17,32 20,50" stroke="#b88888" stroke-width="0.8" opacity="0.6" fill="none"/></g></svg><svg x="104.6" y="596.0" width="28.5" height="61.4" viewBox="0 0 28.5 62" preserveAspectRatio="none"><rect width="28.5" height="62" fill="#3d93cc"/><rect width="28.5" height="62" filter="url(#bonetexF)"/><path d="M10.9,11.9 C11.5,8.4 17.5,7.4 18.5,10.9 C19.0,14.9 16.5,17.9 16.1,19.9 L15.3,49 L11.9,49 L12.7,19.9 C11.5,17.9 10.3,14.9 10.9,11.9Z" fill="#ecd8d0"/><ellipse cx="13.5" cy="50" rx="3" ry="2.6" fill="#dba8a0"/><path d="M12.5,52 L6.5,62 M14.5,52.5 L10.5,62" stroke="#a0a0a0" stroke-width="0.8" fill="none"/></svg><ellipse cx="88.1" cy="627.4" rx="5.5" ry="4.5" fill="#a02838" opacity="0.45"/><circle cx="87.1" cy="625.4" r="11" fill="none" stroke="#fff" stroke-width="1.3" stroke-dasharray="2.6,1.6"/><circle cx="119.1" cy="612.4" r="7.4" fill="none" stroke="#fff" stroke-width="1.3" stroke-dasharray="2.6,1.6"/><svg x="135.0" y="596.0" width="28.5" height="61.4" viewBox="0 0 28.5 62" preserveAspectRatio="none"><rect width="28.5" height="62" fill="#3b8cc0"/><rect width="28.5" height="62" filter="url(#bonetexF)" opacity="0.6"/><g filter="url(#tissueF)"><path d="M6,0 C2,8 1,16 1,28 C1,40 5,50 8,57 L9,62 L25,62 C25,55 27,50 28.5,46 L28.5,0 Z" fill="#cca4a4"/><path d="M21,0 C18,16 19,34 23,62 L28.5,62 L28.5,0 Z" fill="#aa8080" opacity="0.5"/><ellipse cx="11" cy="20" rx="5" ry="13" fill="#fff" opacity="0.16"/><path d="M8,6 C12,14 14,26 13,40" stroke="#fff" stroke-width="1.2" opacity="0.18" fill="none"/><path d="M19,4 C17,18 17,32 20,50" stroke="#aa8080" stroke-width="0.8" opacity="0.6" fill="none"/></g></svg><svg x="164.3" y="596.0" width="28.5" height="61.4" viewBox="0 0 28.5 62" preserveAspectRatio="none"><rect width="28.5" height="62" fill="#3d93cc"/><rect width="28.5" height="62" filter="url(#bonetexF)"/><path d="M10.6,10.5 C11.2,7.0 17.2,6.0 18.2,9.5 C18.7,13.5 16.2,16.5 15.8,18.5 L15.0,49 L11.6,49 L12.4,18.5 C11.2,16.5 10.0,13.5 10.6,10.5Z" fill="#ecd8d0"/><ellipse cx="13.2" cy="50" rx="3" ry="2.6" fill="#dba8a0"/><path d="M12.2,52 L6.2,62 M14.2,52.5 L10.2,62" stroke="#a0a0a0" stroke-width="0.8" fill="none"/></svg><ellipse cx="153.6" cy="625.5" rx="5.5" ry="4.5" fill="#a02838" opacity="0.45"/><circle cx="152.6" cy="623.5" r="11" fill="none" stroke="#fff" stroke-width="1.3" stroke-dasharray="2.6,1.6"/><circle cx="178.5" cy="611.0" r="7.4" fill="none" stroke="#fff" stroke-width="1.3" stroke-dasharray="2.6,1.6"/><svg x="194.8" y="596.0" width="28.5" height="61.4" viewBox="0 0 28.5 62" preserveAspectRatio="none"><rect width="28.5" height="62" fill="#3b8cc0"/><rect width="28.5" height="62" filter="url(#bonetexF)" opacity="0.6"/><g filter="url(#tissueF)"><path d="M11,0 C5,8 3,18 3,30 C3,42 7,52 10,58 L11,62 L24,62 C24,56 26,50 28.5,44 L28.5,0 Z" fill="#c88088"/><path d="M21,0 C18,16 19,34 23,62 L28.5,62 L28.5,0 Z" fill="#a85060" opacity="0.5"/><ellipse cx="11" cy="20" rx="5" ry="13" fill="#fff" opacity="0.16"/><path d="M8,6 C12,14 14,26 13,40" stroke="#fff" stroke-width="1.2" opacity="0.18" fill="none"/><path d="M19,4 C17,18 17,32 20,50" stroke="#a85060" stroke-width="0.8" opacity="0.6" fill="none"/></g></svg><svg x="224.1" y="596.0" width="28.5" height="61.4" viewBox="0 0 28.5 62" preserveAspectRatio="none"><rect width="28.5" height="62" fill="#3d93cc"/><rect width="28.5" height="62" filter="url(#bonetexF)"/><path d="M11.4,11.9 C12.0,8.4 18.0,7.4 19.0,10.9 C19.5,14.9 17.0,17.9 16.6,19.9 L15.8,49 L12.4,49 L13.2,19.9 C12.0,17.9 10.8,14.9 11.4,11.9Z" fill="#ecd8d0"/><ellipse cx="14.0" cy="50" rx="3" ry="2.6" fill="#dba8a0"/><path d="M13.0,52 L7.0,62 M15.0,52.5 L11.0,62" stroke="#a0a0a0" stroke-width="0.8" fill="none"/></svg><ellipse cx="210.2" cy="624.0" rx="5.5" ry="4.5" fill="#a02838" opacity="0.45"/><circle cx="209.2" cy="622.0" r="11" fill="none" stroke="#fff" stroke-width="1.3" stroke-dasharray="2.6,1.6"/><circle cx="239.1" cy="612.4" r="7.4" fill="none" stroke="#fff" stroke-width="1.3" stroke-dasharray="2.6,1.6"/><svg x="254.5" y="596.0" width="28.5" height="61.4" viewBox="0 0 28.5 62" preserveAspectRatio="none"><rect width="28.5" height="62" fill="#3b8cc0"/><rect width="28.5" height="62" filter="url(#bonetexF)" opacity="0.6"/><g filter="url(#tissueF)"><path d="M9,0 C4,6 2,14 2,26 C2,38 6,48 9,56 L10,62 L26,62 C26,54 27,48 28.5,44 L28.5,0 Z" fill="#cda4a4"/><path d="M21,0 C18,16 19,34 23,62 L28.5,62 L28.5,0 Z" fill="#a88080" opacity="0.5"/><ellipse cx="11" cy="20" rx="5" ry="13" fill="#fff" opacity="0.16"/><path d="M8,6 C12,14 14,26 13,40" stroke="#fff" stroke-width="1.2" opacity="0.18" fill="none"/><path d="M19,4 C17,18 17,32 20,50" stroke="#a88080" stroke-width="0.8" opacity="0.6" fill="none"/></g></svg><svg x="283.8" y="596.0" width="28.5" height="61.4" viewBox="0 0 28.5 62" preserveAspectRatio="none"><rect width="28.5" height="62" fill="#3d93cc"/><rect width="28.5" height="62" filter="url(#bonetexF)"/><path d="M10.9,5.5 C11.5,2.0 17.5,1.0 18.5,4.5 C19.0,8.5 16.5,11.5 16.1,13.5 L15.3,49 L11.9,49 L12.7,13.5 C11.5,11.5 10.3,8.5 10.9,5.5Z" fill="#ecd8d0"/><ellipse cx="13.5" cy="50" rx="3" ry="2.6" fill="#dba8a0"/><path d="M12.5,52 L6.5,62 M14.5,52.5 L10.5,62" stroke="#a0a0a0" stroke-width="0.8" fill="none"/></svg><ellipse cx="267.5" cy="624.6" rx="5.5" ry="4.5" fill="#a02838" opacity="0.45"/><circle cx="266.5" cy="622.6" r="11" fill="none" stroke="#fff" stroke-width="1.3" stroke-dasharray="2.6,1.6"/><svg x="314.2" y="596.0" width="28.5" height="61.4" viewBox="0 0 28.5 62" preserveAspectRatio="none"><rect width="28.5" height="62" fill="#3b8cc0"/><rect width="28.5" height="62" filter="url(#bonetexF)" opacity="0.6"/><g filter="url(#tissueF)"><path d="M6,0 C2,8 1,16 1,28 C1,40 5,50 8,57 L9,62 L25,62 C25,55 27,50 28.5,46 L28.5,0 Z" fill="#ccacb0"/><path d="M21,0 C18,16 19,34 23,62 L28.5,62 L28.5,0 Z" fill="#a88890" opacity="0.5"/><ellipse cx="11" cy="20" rx="5" ry="13" fill="#fff" opacity="0.16"/><path d="M8,6 C12,14 14,26 13,40" stroke="#fff" stroke-width="1.2" opacity="0.18" fill="none"/><path d="M19,4 C17,18 17,32 20,50" stroke="#a88890" stroke-width="0.8" opacity="0.6" fill="none"/></g></svg><svg x="343.5" y="596.0" width="28.5" height="61.4" viewBox="0 0 28.5 62" preserveAspectRatio="none"><rect width="28.5" height="62" fill="#3d93cc"/><rect width="28.5" height="62" filter="url(#bonetexF)"/><path d="M10.9,5.5 C11.5,2.0 17.5,1.0 18.5,4.5 C19.0,8.5 16.5,11.5 16.1,13.5 L15.3,49 L11.9,49 L12.7,13.5 C11.5,11.5 10.3,8.5 10.9,5.5Z" fill="#ecd8d0"/><ellipse cx="13.5" cy="50" rx="3" ry="2.6" fill="#dba8a0"/><path d="M12.5,52 L6.5,62 M14.5,52.5 L10.5,62" stroke="#a0a0a0" stroke-width="0.8" fill="none"/></svg><text transform="translate(13,690.9000000000001) rotate(-90)" font-size="10" text-anchor="middle">28 days</text><svg x="15.6" y="660.2" width="28.5" height="61.4" viewBox="0 0 28.5 62" preserveAspectRatio="none"><rect width="28.5" height="62" fill="#3b8cc0"/><rect width="28.5" height="62" filter="url(#bonetexF)" opacity="0.6"/><g filter="url(#tissueF)"><path d="M6,0 C2,8 1,16 1,28 C1,40 5,50 8,57 L9,62 L25,62 C25,55 27,50 28.5,46 L28.5,0 Z" fill="#952a3a"/><path d="M21,0 C18,16 19,34 23,62 L28.5,62 L28.5,0 Z" fill="#701828" opacity="0.5"/><ellipse cx="11" cy="20" rx="5" ry="13" fill="#fff" opacity="0.16"/><path d="M8,6 C12,14 14,26 13,40" stroke="#fff" stroke-width="1.2" opacity="0.18" fill="none"/><path d="M19,4 C17,18 17,32 20,50" stroke="#701828" stroke-width="0.8" opacity="0.6" fill="none"/></g></svg><svg x="44.9" y="660.2" width="28.5" height="61.4" viewBox="0 0 28.5 62" preserveAspectRatio="none"><rect width="28.5" height="62" fill="#3d93cc"/><rect width="28.5" height="62" filter="url(#bonetexF)"/><path d="M9.0,4.5 C10.5,2.5 14.5,2.5 15.5,4.5 C15.5,7.5 14.0,10.5 13.5,13.5 L18.7,50 C19.0,53 17.5,55 15.5,55 L15.3,50 L11.0,13.5 C10.5,10.5 8.5,7.5 9.0,4.5Z" fill="#a8a898"/><path d="M17.5,46 L28.5,57" stroke="#1c3488" stroke-width="2" fill="none"/></svg><svg x="75.3" y="660.2" width="28.5" height="61.4" viewBox="0 0 28.5 62" preserveAspectRatio="none"><rect width="28.5" height="62" fill="#3b8cc0"/><rect width="28.5" height="62" filter="url(#bonetexF)" opacity="0.6"/><g filter="url(#tissueF)"><path d="M11,0 C5,8 3,18 3,30 C3,42 7,52 10,58 L11,62 L24,62 C24,56 26,50 28.5,44 L28.5,0 Z" fill="#cdb0a6"/><path d="M21,0 C18,16 19,34 23,62 L28.5,62 L28.5,0 Z" fill="#a88a80" opacity="0.5"/><ellipse cx="11" cy="20" rx="5" ry="13" fill="#fff" opacity="0.16"/><path d="M8,6 C12,14 14,26 13,40" stroke="#fff" stroke-width="1.2" opacity="0.18" fill="none"/><path d="M19,4 C17,18 17,32 20,50" stroke="#a88a80" stroke-width="0.8" opacity="0.6" fill="none"/></g></svg><svg x="104.6" y="660.2" width="28.5" height="61.4" viewBox="0 0 28.5 62" preserveAspectRatio="none"><rect width="28.5" height="62" fill="#3d93cc"/><rect width="28.5" height="62" filter="url(#bonetexF)"/><path d="M9.0,4.5 C10.5,2.5 14.5,2.5 15.5,4.5 C15.5,7.5 14.0,10.5 13.5,13.5 L18.7,50 C19.0,53 17.5,55 15.5,55 L15.3,50 L11.0,13.5 C10.5,10.5 8.5,7.5 9.0,4.5Z" fill="#a8a898"/><path d="M17.5,46 L28.5,57" stroke="#1c3488" stroke-width="2" fill="none"/></svg><ellipse cx="90.3" cy="692.0" rx="5.5" ry="4.5" fill="#a02838" opacity="0.45"/><circle cx="89.3" cy="690.0" r="11" fill="none" stroke="#fff" stroke-width="1.3" stroke-dasharray="2.6,1.6"/><svg x="135.0" y="660.2" width="28.5" height="61.4" viewBox="0 0 28.5 62" preserveAspectRatio="none"><rect width="28.5" height="62" fill="#3b8cc0"/><rect width="28.5" height="62" filter="url(#bonetexF)" opacity="0.6"/><g filter="url(#tissueF)"><path d="M9,0 C4,6 2,14 2,26 C2,38 6,48 9,56 L10,62 L26,62 C26,54 27,48 28.5,44 L28.5,0 Z" fill="#b84a5a"/><path d="M21,0 C18,16 19,34 23,62 L28.5,62 L28.5,0 Z" fill="#902838" opacity="0.5"/><ellipse cx="11" cy="20" rx="5" ry="13" fill="#fff" opacity="0.16"/><path d="M8,6 C12,14 14,26 13,40" stroke="#fff" stroke-width="1.2" opacity="0.18" fill="none"/><path d="M19,4 C17,18 17,32 20,50" stroke="#902838" stroke-width="0.8" opacity="0.6" fill="none"/></g></svg><svg x="164.3" y="660.2" width="28.5" height="61.4" viewBox="0 0 28.5 62" preserveAspectRatio="none"><rect width="28.5" height="62" fill="#3d93cc"/><rect width="28.5" height="62" filter="url(#bonetexF)"/><path d="M9.0,4.5 C10.5,2.5 14.5,2.5 15.5,4.5 C15.5,7.5 14.0,10.5 13.5,13.5 L18.7,50 C19.0,53 17.5,55 15.5,55 L15.3,50 L11.0,13.5 C10.5,10.5 8.5,7.5 9.0,4.5Z" fill="#a8a898"/><path d="M17.5,46 L28.5,57" stroke="#1c3488" stroke-width="2" fill="none"/></svg><ellipse cx="149.7" cy="701.2" rx="5.5" ry="4.5" fill="#a02838" opacity="0.45"/><circle cx="148.7" cy="699.2" r="11" fill="none" stroke="#fff" stroke-width="1.3" stroke-dasharray="2.6,1.6"/><svg x="194.8" y="660.2" width="28.5" height="61.4" viewBox="0 0 28.5 62" preserveAspectRatio="none"><rect width="28.5" height="62" fill="#3b8cc0"/><rect width="28.5" height="62" filter="url(#bonetexF)" opacity="0.6"/><g filter="url(#tissueF)"><path d="M6,0 C2,8 1,16 1,28 C1,40 5,50 8,57 L9,62 L25,62 C25,55 27,50 28.5,46 L28.5,0 Z" fill="#b44a58"/><path d="M21,0 C18,16 19,34 23,62 L28.5,62 L28.5,0 Z" fill="#8c2a38" opacity="0.5"/><ellipse cx="11" cy="20" rx="5" ry="13" fill="#fff" opacity="0.16"/><path d="M8,6 C12,14 14,26 13,40" stroke="#fff" stroke-width="1.2" opacity="0.18" fill="none"/><path d="M19,4 C17,18 17,32 20,50" stroke="#8c2a38" stroke-width="0.8" opacity="0.6" fill="none"/></g></svg><svg x="224.1" y="660.2" width="28.5" height="61.4" viewBox="0 0 28.5 62" preserveAspectRatio="none"><rect width="28.5" height="62" fill="#3d93cc"/><rect width="28.5" height="62" filter="url(#bonetexF)"/><path d="M9.0,4.5 C10.5,2.5 14.5,2.5 15.5,4.5 C15.5,7.5 14.0,10.5 13.5,13.5 L18.7,50 C19.0,53 17.5,55 15.5,55 L15.3,50 L11.0,13.5 C10.5,10.5 8.5,7.5 9.0,4.5Z" fill="#a8a898"/><path d="M17.5,46 L28.5,57" stroke="#1c3488" stroke-width="2" fill="none"/></svg><ellipse cx="209.3" cy="696.2" rx="5.5" ry="4.5" fill="#a02838" opacity="0.45"/><circle cx="208.3" cy="694.2" r="11" fill="none" stroke="#fff" stroke-width="1.3" stroke-dasharray="2.6,1.6"/><svg x="254.5" y="660.2" width="28.5" height="61.4" viewBox="0 0 28.5 62" preserveAspectRatio="none"><rect width="28.5" height="62" fill="#3b8cc0"/><rect width="28.5" height="62" filter="url(#bonetexF)" opacity="0.6"/><g filter="url(#tissueF)"><path d="M11,0 C5,8 3,18 3,30 C3,42 7,52 10,58 L11,62 L24,62 C24,56 26,50 28.5,44 L28.5,0 Z" fill="#c45060"/><path d="M21,0 C18,16 19,34 23,62 L28.5,62 L28.5,0 Z" fill="#9a3040" opacity="0.5"/><ellipse cx="11" cy="20" rx="5" ry="13" fill="#fff" opacity="0.16"/><path d="M8,6 C12,14 14,26 13,40" stroke="#fff" stroke-width="1.2" opacity="0.18" fill="none"/><path d="M19,4 C17,18 17,32 20,50" stroke="#9a3040" stroke-width="0.8" opacity="0.6" fill="none"/></g></svg><svg x="283.8" y="660.2" width="28.5" height="61.4" viewBox="0 0 28.5 62" preserveAspectRatio="none"><rect width="28.5" height="62" fill="#3d93cc"/><rect width="28.5" height="62" filter="url(#bonetexF)"/><path d="M9.0,4.5 C10.5,2.5 14.5,2.5 15.5,4.5 C15.5,7.5 14.0,10.5 13.5,13.5 L18.7,50 C19.0,53 17.5,55 15.5,55 L15.3,50 L11.0,13.5 C10.5,10.5 8.5,7.5 9.0,4.5Z" fill="#a8a898"/><path d="M17.5,46 L28.5,57" stroke="#1c3488" stroke-width="2" fill="none"/></svg><ellipse cx="268.9" cy="697.6" rx="5.5" ry="4.5" fill="#a02838" opacity="0.45"/><circle cx="267.9" cy="695.6" r="11" fill="none" stroke="#fff" stroke-width="1.3" stroke-dasharray="2.6,1.6"/><svg x="314.2" y="660.2" width="28.5" height="61.4" viewBox="0 0 28.5 62" preserveAspectRatio="none"><rect width="28.5" height="62" fill="#3b8cc0"/><rect width="28.5" height="62" filter="url(#bonetexF)" opacity="0.6"/><g filter="url(#tissueF)"><path d="M9,0 C4,6 2,14 2,26 C2,38 6,48 9,56 L10,62 L26,62 C26,54 27,48 28.5,44 L28.5,0 Z" fill="#c4a0a4"/><path d="M21,0 C18,16 19,34 23,62 L28.5,62 L28.5,0 Z" fill="#a07880" opacity="0.5"/><ellipse cx="11" cy="20" rx="5" ry="13" fill="#fff" opacity="0.16"/><path d="M8,6 C12,14 14,26 13,40" stroke="#fff" stroke-width="1.2" opacity="0.18" fill="none"/><path d="M19,4 C17,18 17,32 20,50" stroke="#a07880" stroke-width="0.8" opacity="0.6" fill="none"/></g></svg><svg x="343.5" y="660.2" width="28.5" height="61.4" viewBox="0 0 28.5 62" preserveAspectRatio="none"><rect width="28.5" height="62" fill="#3d93cc"/><rect width="28.5" height="62" filter="url(#bonetexF)"/><path d="M9.0,4.5 C10.5,2.5 14.5,2.5 15.5,4.5 C15.5,7.5 14.0,10.5 13.5,13.5 L18.7,50 C19.0,53 17.5,55 15.5,55 L15.3,50 L11.0,13.5 C10.5,10.5 8.5,7.5 9.0,4.5Z" fill="#a8a898"/><path d="M17.5,46 L28.5,57" stroke="#1c3488" stroke-width="2" fill="none"/></svg><text x="372" y="521.4" font-size="18.5">G</text><path d="M402,522 L402,601.5 L524.2,601.5" stroke="#222" stroke-width="1" fill="none"/><path d="M399.5,601.5 L402,601.5" stroke="#222" stroke-width="1" fill="none"/><text x="399.5" y="604.8" font-size="9.5" text-anchor="end">35</text><path d="M399.5,585.6 L402,585.6" stroke="#222" stroke-width="1" fill="none"/><text x="399.5" y="588.9" font-size="9.5" text-anchor="end">36</text><path d="M399.5,569.7 L402,569.7" stroke="#222" stroke-width="1" fill="none"/><text x="399.5" y="573.0" font-size="9.5" text-anchor="end">37</text><path d="M399.5,553.8 L402,553.8" stroke="#222" stroke-width="1" fill="none"/><text x="399.5" y="557.1" font-size="9.5" text-anchor="end">38</text><path d="M399.5,537.9 L402,537.9" stroke="#222" stroke-width="1" fill="none"/><text x="399.5" y="541.2" font-size="9.5" text-anchor="end">39</text><path d="M399.5,522.0 L402,522.0" stroke="#222" stroke-width="1" fill="none"/><text x="399.5" y="525.3" font-size="9.5" text-anchor="end">40</text><path d="M402.0,601.5 L402.0,604.1" stroke="#222" stroke-width="1" fill="none"/><text x="402.0" y="613.0" font-size="9.5" text-anchor="middle">0</text><path d="M417.3,601.5 L417.3,603.1" stroke="#222" stroke-width="1" fill="none"/><path d="M432.6,601.5 L432.6,604.1" stroke="#222" stroke-width="1" fill="none"/><text x="432.6" y="613.0" font-size="9.5" text-anchor="middle">2</text><path d="M447.8,601.5 L447.8,603.1" stroke="#222" stroke-width="1" fill="none"/><path d="M463.1,601.5 L463.1,604.1" stroke="#222" stroke-width="1" fill="none"/><text x="463.1" y="613.0" font-size="9.5" text-anchor="middle">4</text><path d="M478.4,601.5 L478.4,603.1" stroke="#222" stroke-width="1" fill="none"/><path d="M493.7,601.5 L493.7,604.1" stroke="#222" stroke-width="1" fill="none"/><text x="493.7" y="613.0" font-size="9.5" text-anchor="middle">6</text><path d="M508.9,601.5 L508.9,603.1" stroke="#222" stroke-width="1" fill="none"/><path d="M524.2,601.5 L524.2,604.1" stroke="#222" stroke-width="1" fill="none"/><text x="524.2" y="613.0" font-size="9.5" text-anchor="middle">8</text><polyline points="402.0,582.4 417.3,539.5 432.6,537.9 447.8,557.8 463.1,574.5 478.4,581.6 493.7,583.2 524.2,583.2" fill="none" stroke="#9a9af0" stroke-width="1.3"/><path d="M402.0,579.2 L402.0,585.6 M400.4,579.2 L403.6,579.2 M400.4,585.6 L403.6,585.6" stroke="#9a9af0" stroke-width="0.9"/><path d="M400.3,583.8 L403.7,583.8 L402.0,580.8Z" fill="#9a9af0"/><path d="M417.3,536.3 L417.3,542.7 M415.7,536.3 L418.9,536.3 M415.7,542.7 L418.9,542.7" stroke="#9a9af0" stroke-width="0.9"/><path d="M415.6,540.9 L419.0,540.9 L417.3,537.9Z" fill="#9a9af0"/><path d="M432.6,534.7 L432.6,541.1 M430.9,534.7 L434.2,534.7 M430.9,541.1 L434.2,541.1" stroke="#9a9af0" stroke-width="0.9"/><path d="M430.9,539.3 L434.2,539.3 L432.6,536.3Z" fill="#9a9af0"/><path d="M447.8,554.6 L447.8,561.0 M446.2,554.6 L449.4,554.6 M446.2,561.0 L449.4,561.0" stroke="#9a9af0" stroke-width="0.9"/><path d="M446.1,559.2 L449.5,559.2 L447.8,556.2Z" fill="#9a9af0"/><path d="M463.1,571.3 L463.1,577.6 M461.5,571.3 L464.7,571.3 M461.5,577.6 L464.7,577.6" stroke="#9a9af0" stroke-width="0.9"/><path d="M461.4,575.9 L464.8,575.9 L463.1,572.9Z" fill="#9a9af0"/><path d="M478.4,578.4 L478.4,584.8 M476.8,578.4 L480.0,578.4 M476.8,584.8 L480.0,584.8" stroke="#9a9af0" stroke-width="0.9"/><path d="M476.7,583.0 L480.1,583.0 L478.4,580.0Z" fill="#9a9af0"/><path d="M493.7,580.0 L493.7,586.4 M492.1,580.0 L495.3,580.0 M492.1,586.4 L495.3,586.4" stroke="#9a9af0" stroke-width="0.9"/><path d="M492.0,584.6 L495.4,584.6 L493.7,581.6Z" fill="#9a9af0"/><path d="M524.2,580.0 L524.2,586.4 M522.6,580.0 L525.8,580.0 M522.6,586.4 L525.8,586.4" stroke="#9a9af0" stroke-width="0.9"/><path d="M522.5,584.6 L525.9,584.6 L524.2,581.6Z" fill="#9a9af0"/><polyline points="402.0,582.4 417.3,540.3 432.6,542.7 447.8,560.2 463.1,576.1 478.4,582.4 493.7,584.8 524.2,582.4" fill="none" stroke="#2020e0" stroke-width="1.3"/><path d="M402.0,580.0 L402.0,584.8 M400.4,580.0 L403.6,580.0 M400.4,584.8 L403.6,584.8" stroke="#2020e0" stroke-width="0.9"/><rect x="400.5" y="580.9" width="3" height="3" fill="#2020e0"/><path d="M417.3,537.9 L417.3,542.7 M415.7,537.9 L418.9,537.9 M415.7,542.7 L418.9,542.7" stroke="#2020e0" stroke-width="0.9"/><rect x="415.8" y="538.8" width="3" height="3" fill="#2020e0"/><path d="M432.6,540.3 L432.6,545.1 M430.9,540.3 L434.2,540.3 M430.9,545.1 L434.2,545.1" stroke="#2020e0" stroke-width="0.9"/><rect x="431.1" y="541.2" width="3" height="3" fill="#2020e0"/><path d="M447.8,557.8 L447.8,562.5 M446.2,557.8 L449.4,557.8 M446.2,562.5 L449.4,562.5" stroke="#2020e0" stroke-width="0.9"/><rect x="446.3" y="558.7" width="3" height="3" fill="#2020e0"/><path d="M463.1,573.7 L463.1,578.4 M461.5,573.7 L464.7,573.7 M461.5,578.4 L464.7,578.4" stroke="#2020e0" stroke-width="0.9"/><rect x="461.6" y="574.6" width="3" height="3" fill="#2020e0"/><path d="M478.4,580.0 L478.4,584.8 M476.8,580.0 L480.0,580.0 M476.8,584.8 L480.0,584.8" stroke="#2020e0" stroke-width="0.9"/><rect x="476.9" y="580.9" width="3" height="3" fill="#2020e0"/><path d="M493.7,582.4 L493.7,587.2 M492.1,582.4 L495.3,582.4 M492.1,587.2 L495.3,587.2" stroke="#2020e0" stroke-width="0.9"/><rect x="492.2" y="583.3" width="3" height="3" fill="#2020e0"/><path d="M524.2,580.0 L524.2,584.8 M522.6,580.0 L525.8,580.0 M522.6,584.8 L525.8,584.8" stroke="#2020e0" stroke-width="0.9"/><rect x="522.7" y="580.9" width="3" height="3" fill="#2020e0"/><polyline points="402.0,582.4 417.3,537.1 432.6,543.5 447.8,561.0 463.1,576.9 478.4,582.4 493.7,584.0 524.2,580.0" fill="none" stroke="#5aa0f0" stroke-width="1.3"/><path d="M402.0,580.0 L402.0,584.8 M400.4,580.0 L403.6,580.0 M400.4,584.8 L403.6,584.8" stroke="#5aa0f0" stroke-width="0.9"/><rect x="400.5" y="580.9" width="3" height="3" fill="#5aa0f0"/><path d="M417.3,534.7 L417.3,539.5 M415.7,534.7 L418.9,534.7 M415.7,539.5 L418.9,539.5" stroke="#5aa0f0" stroke-width="0.9"/><rect x="415.8" y="535.6" width="3" height="3" fill="#5aa0f0"/><path d="M432.6,541.1 L432.6,545.9 M430.9,541.1 L434.2,541.1 M430.9,545.9 L434.2,545.9" stroke="#5aa0f0" stroke-width="0.9"/><rect x="431.1" y="542.0" width="3" height="3" fill="#5aa0f0"/><path d="M447.8,558.6 L447.8,563.3 M446.2,558.6 L449.4,558.6 M446.2,563.3 L449.4,563.3" stroke="#5aa0f0" stroke-width="0.9"/><rect x="446.3" y="559.5" width="3" height="3" fill="#5aa0f0"/><path d="M463.1,574.5 L463.1,579.2 M461.5,574.5 L464.7,574.5 M461.5,579.2 L464.7,579.2" stroke="#5aa0f0" stroke-width="0.9"/><rect x="461.6" y="575.4" width="3" height="3" fill="#5aa0f0"/><path d="M478.4,580.0 L478.4,584.8 M476.8,580.0 L480.0,580.0 M476.8,584.8 L480.0,584.8" stroke="#5aa0f0" stroke-width="0.9"/><rect x="476.9" y="580.9" width="3" height="3" fill="#5aa0f0"/><path d="M493.7,581.6 L493.7,586.4 M492.1,581.6 L495.3,581.6 M492.1,586.4 L495.3,586.4" stroke="#5aa0f0" stroke-width="0.9"/><rect x="492.2" y="582.5" width="3" height="3" fill="#5aa0f0"/><path d="M524.2,577.6 L524.2,582.4 M522.6,577.6 L525.8,577.6 M522.6,582.4 L525.8,582.4" stroke="#5aa0f0" stroke-width="0.9"/><rect x="522.7" y="578.5" width="3" height="3" fill="#5aa0f0"/><polyline points="402.0,582.4 417.3,537.9 432.6,544.3 447.8,561.8 463.1,577.6 478.4,583.2 493.7,584.0 524.2,580.8" fill="none" stroke="#1f9aa6" stroke-width="1.3"/><path d="M402.0,580.0 L402.0,584.8 M400.4,580.0 L403.6,580.0 M400.4,584.8 L403.6,584.8" stroke="#1f9aa6" stroke-width="0.9"/><rect x="400.5" y="580.9" width="3" height="3" fill="#1f9aa6"/><path d="M417.3,535.5 L417.3,540.3 M415.7,535.5 L418.9,535.5 M415.7,540.3 L418.9,540.3" stroke="#1f9aa6" stroke-width="0.9"/><rect x="415.8" y="536.4" width="3" height="3" fill="#1f9aa6"/><path d="M432.6,541.9 L432.6,546.6 M430.9,541.9 L434.2,541.9 M430.9,546.6 L434.2,546.6" stroke="#1f9aa6" stroke-width="0.9"/><rect x="431.1" y="542.8" width="3" height="3" fill="#1f9aa6"/><path d="M447.8,559.4 L447.8,564.1 M446.2,559.4 L449.4,559.4 M446.2,564.1 L449.4,564.1" stroke="#1f9aa6" stroke-width="0.9"/><rect x="446.3" y="560.2" width="3" height="3" fill="#1f9aa6"/><path d="M463.1,575.3 L463.1,580.0 M461.5,575.3 L464.7,575.3 M461.5,580.0 L464.7,580.0" stroke="#1f9aa6" stroke-width="0.9"/><rect x="461.6" y="576.1" width="3" height="3" fill="#1f9aa6"/><path d="M478.4,580.8 L478.4,585.6 M476.8,580.8 L480.0,580.8 M476.8,585.6 L480.0,585.6" stroke="#1f9aa6" stroke-width="0.9"/><rect x="476.9" y="581.7" width="3" height="3" fill="#1f9aa6"/><path d="M493.7,581.6 L493.7,586.4 M492.1,581.6 L495.3,581.6 M492.1,586.4 L495.3,586.4" stroke="#1f9aa6" stroke-width="0.9"/><rect x="492.2" y="582.5" width="3" height="3" fill="#1f9aa6"/><path d="M524.2,578.4 L524.2,583.2 M522.6,578.4 L525.8,578.4 M522.6,583.2 L525.8,583.2" stroke="#1f9aa6" stroke-width="0.9"/><rect x="522.7" y="579.3" width="3" height="3" fill="#1f9aa6"/><polyline points="402.0,581.6 417.3,580.0 432.6,583.2 447.8,581.6 463.1,582.4 478.4,584.0 493.7,582.4 524.2,580.8" fill="none" stroke="#fdb97a" stroke-width="1.3"/><path d="M402.0,578.4 L402.0,584.8 M400.4,578.4 L403.6,578.4 M400.4,584.8 L403.6,584.8" stroke="#fdb97a" stroke-width="0.9"/><circle cx="402.0" cy="581.6" r="1.1" fill="#fdb97a"/><path d="M417.3,576.9 L417.3,583.2 M415.7,576.9 L418.9,576.9 M415.7,583.2 L418.9,583.2" stroke="#fdb97a" stroke-width="0.9"/><circle cx="417.3" cy="580.0" r="1.1" fill="#fdb97a"/><path d="M432.6,580.0 L432.6,586.4 M430.9,580.0 L434.2,580.0 M430.9,586.4 L434.2,586.4" stroke="#fdb97a" stroke-width="0.9"/><circle cx="432.6" cy="583.2" r="1.1" fill="#fdb97a"/><path d="M447.8,578.4 L447.8,584.8 M446.2,578.4 L449.4,578.4 M446.2,584.8 L449.4,584.8" stroke="#fdb97a" stroke-width="0.9"/><circle cx="447.8" cy="581.6" r="1.1" fill="#fdb97a"/><path d="M463.1,579.2 L463.1,585.6 M461.5,579.2 L464.7,579.2 M461.5,585.6 L464.7,585.6" stroke="#fdb97a" stroke-width="0.9"/><circle cx="463.1" cy="582.4" r="1.1" fill="#fdb97a"/><path d="M478.4,580.8 L478.4,587.2 M476.8,580.8 L480.0,580.8 M476.8,587.2 L480.0,587.2" stroke="#fdb97a" stroke-width="0.9"/><circle cx="478.4" cy="584.0" r="1.1" fill="#fdb97a"/><path d="M493.7,579.2 L493.7,585.6 M492.1,579.2 L495.3,579.2 M492.1,585.6 L495.3,585.6" stroke="#fdb97a" stroke-width="0.9"/><circle cx="493.7" cy="582.4" r="1.1" fill="#fdb97a"/><path d="M524.2,577.7 L524.2,584.0 M522.6,577.7 L525.8,577.7 M522.6,584.0 L525.8,584.0" stroke="#fdb97a" stroke-width="0.9"/><circle cx="524.2" cy="580.8" r="1.1" fill="#fdb97a"/><polyline points="402.0,582.4 417.3,545.9 432.6,573.7 447.8,580.8 463.1,581.6 478.4,584.0 493.7,582.4 524.2,580.8" fill="none" stroke="#ee1c1c" stroke-width="1.3"/><path d="M402.0,578.4 L402.0,586.4 M400.4,578.4 L403.6,578.4 M400.4,586.4 L403.6,586.4" stroke="#ee1c1c" stroke-width="0.9"/><rect x="400.4" y="580.8" width="3.2" height="3.2" fill="#ee1c1c"/><path d="M417.3,541.9 L417.3,549.8 M415.7,541.9 L418.9,541.9 M415.7,549.8 L418.9,549.8" stroke="#ee1c1c" stroke-width="0.9"/><rect x="415.7" y="544.2" width="3.2" height="3.2" fill="#ee1c1c"/><path d="M432.6,569.7 L432.6,577.6 M430.9,569.7 L434.2,569.7 M430.9,577.6 L434.2,577.6" stroke="#ee1c1c" stroke-width="0.9"/><rect x="430.9" y="572.1" width="3.2" height="3.2" fill="#ee1c1c"/><path d="M447.8,576.9 L447.8,584.8 M446.2,576.9 L449.4,576.9 M446.2,584.8 L449.4,584.8" stroke="#ee1c1c" stroke-width="0.9"/><rect x="446.2" y="579.2" width="3.2" height="3.2" fill="#ee1c1c"/><path d="M463.1,577.6 L463.1,585.6 M461.5,577.6 L464.7,577.6 M461.5,585.6 L464.7,585.6" stroke="#ee1c1c" stroke-width="0.9"/><rect x="461.5" y="580.0" width="3.2" height="3.2" fill="#ee1c1c"/><path d="M478.4,580.0 L478.4,588.0 M476.8,580.0 L480.0,580.0 M476.8,588.0 L480.0,588.0" stroke="#ee1c1c" stroke-width="0.9"/><rect x="476.8" y="582.4" width="3.2" height="3.2" fill="#ee1c1c"/><path d="M493.7,578.4 L493.7,586.4 M492.1,578.4 L495.3,578.4 M492.1,586.4 L495.3,586.4" stroke="#ee1c1c" stroke-width="0.9"/><rect x="492.1" y="580.8" width="3.2" height="3.2" fill="#ee1c1c"/><path d="M524.2,576.9 L524.2,584.8 M522.6,576.9 L525.8,576.9 M522.6,584.8 L525.8,584.8" stroke="#ee1c1c" stroke-width="0.9"/><rect x="522.6" y="579.2" width="3.2" height="3.2" fill="#ee1c1c"/><text x="463" y="621.2" font-size="8.8" text-anchor="middle">Weeks</text><text transform="translate(385.6,559.8) rotate(-90)" font-size="8.8" text-anchor="middle">Temperature (°C)</text><path d="M429.10,568.00 L429.10,563.20 M427.02,566.80 L431.18,564.40 M427.02,564.40 L431.18,566.80" stroke="#333" stroke-width="1.25" stroke-linecap="round"/><path d="M435.70,568.00 L435.70,563.20 M433.62,566.80 L437.78,564.40 M433.62,564.40 L437.78,566.80" stroke="#333" stroke-width="1.25" stroke-linecap="round"/><path d="M444.40,576.00 L444.40,571.20 M442.32,574.80 L446.48,572.40 M442.32,572.40 L446.48,574.80" stroke="#333" stroke-width="1.25" stroke-linecap="round"/><path d="M451.00,576.00 L451.00,571.20 M448.92,574.80 L453.08,572.40 M448.92,572.40 L453.08,574.80" stroke="#333" stroke-width="1.25" stroke-linecap="round"/><text x="512.5" y="521.4" font-size="18.5">H</text><path d="M556.1,522.5 L556.1,602.6 L678,602.6" stroke="#222" stroke-width="1" fill="none"/><path d="M553.6,602.6 L556.1,602.6" stroke="#222" stroke-width="1" fill="none"/><text x="553.6" y="605.9" font-size="9.5" text-anchor="end">100</text><path d="M553.6,582.6 L556.1,582.6" stroke="#222" stroke-width="1" fill="none"/><text x="553.6" y="585.9" font-size="9.5" text-anchor="end">200</text><path d="M553.6,562.5 L556.1,562.5" stroke="#222" stroke-width="1" fill="none"/><text x="553.6" y="565.8" font-size="9.5" text-anchor="end">300</text><path d="M553.6,542.5 L556.1,542.5" stroke="#222" stroke-width="1" fill="none"/><text x="553.6" y="545.8" font-size="9.5" text-anchor="end">400</text><path d="M553.6,522.5 L556.1,522.5" stroke="#222" stroke-width="1" fill="none"/><text x="553.6" y="525.8" font-size="9.5" text-anchor="end">500</text><path d="M556.1,602.6 L556.1,605.2" stroke="#222" stroke-width="1" fill="none"/><text x="556.1" y="614.1" font-size="9.5" text-anchor="middle">0</text><path d="M571.3,602.6 L571.3,604.2" stroke="#222" stroke-width="1" fill="none"/><path d="M586.6,602.6 L586.6,605.2" stroke="#222" stroke-width="1" fill="none"/><text x="586.6" y="614.1" font-size="9.5" text-anchor="middle">2</text><path d="M601.8,602.6 L601.8,604.2" stroke="#222" stroke-width="1" fill="none"/><path d="M617.0,602.6 L617.0,605.2" stroke="#222" stroke-width="1" fill="none"/><text x="617.0" y="614.1" font-size="9.5" text-anchor="middle">4</text><path d="M632.3,602.6 L632.3,604.2" stroke="#222" stroke-width="1" fill="none"/><path d="M647.5,602.6 L647.5,605.2" stroke="#222" stroke-width="1" fill="none"/><text x="647.5" y="614.1" font-size="9.5" text-anchor="middle">6</text><path d="M662.8,602.6 L662.8,604.2" stroke="#222" stroke-width="1" fill="none"/><path d="M678.0,602.6 L678.0,605.2" stroke="#222" stroke-width="1" fill="none"/><text x="678.0" y="614.1" font-size="9.5" text-anchor="middle">8</text><polyline points="556.1,571.6 571.3,570.2 586.6,571.0 601.8,571.6 617.0,568.2 632.3,567.0 647.5,564.6 678.0,559.5" fill="none" stroke="#9a9af0" stroke-width="1.3"/><path d="M556.1,569.6 L556.1,573.6 M554.5,569.6 L557.7,569.6 M554.5,573.6 L557.7,573.6" stroke="#9a9af0" stroke-width="0.9"/><path d="M554.4,573.0 L557.8,573.0 L556.1,570.0Z" fill="#9a9af0"/><path d="M571.3,568.2 L571.3,572.2 M569.7,568.2 L572.9,568.2 M569.7,572.2 L572.9,572.2" stroke="#9a9af0" stroke-width="0.9"/><path d="M569.6,571.6 L573.0,571.6 L571.3,568.6Z" fill="#9a9af0"/><path d="M586.6,569.0 L586.6,573.0 M585.0,569.0 L588.2,569.0 M585.0,573.0 L588.2,573.0" stroke="#9a9af0" stroke-width="0.9"/><path d="M584.9,572.4 L588.3,572.4 L586.6,569.4Z" fill="#9a9af0"/><path d="M601.8,569.6 L601.8,573.6 M600.2,569.6 L603.4,569.6 M600.2,573.6 L603.4,573.6" stroke="#9a9af0" stroke-width="0.9"/><path d="M600.1,573.0 L603.5,573.0 L601.8,570.0Z" fill="#9a9af0"/><path d="M617.0,566.2 L617.0,570.2 M615.4,566.2 L618.6,566.2 M615.4,570.2 L618.6,570.2" stroke="#9a9af0" stroke-width="0.9"/><path d="M615.3,569.6 L618.8,569.6 L617.0,566.6Z" fill="#9a9af0"/><path d="M632.3,565.0 L632.3,569.0 M630.7,565.0 L633.9,565.0 M630.7,569.0 L633.9,569.0" stroke="#9a9af0" stroke-width="0.9"/><path d="M630.6,568.4 L634.0,568.4 L632.3,565.4Z" fill="#9a9af0"/><path d="M647.5,562.5 L647.5,566.6 M645.9,562.5 L649.1,562.5 M645.9,566.6 L649.1,566.6" stroke="#9a9af0" stroke-width="0.9"/><path d="M645.8,566.0 L649.2,566.0 L647.5,563.0Z" fill="#9a9af0"/><path d="M678.0,557.5 L678.0,561.5 M676.4,557.5 L679.6,557.5 M676.4,561.5 L679.6,561.5" stroke="#9a9af0" stroke-width="0.9"/><path d="M676.3,560.9 L679.7,560.9 L678.0,557.9Z" fill="#9a9af0"/><polyline points="556.1,571.6 571.3,570.2 586.6,571.0 601.8,570.2 617.0,567.0 632.3,565.6 647.5,561.5 678.0,556.9" fill="none" stroke="#5aa0f0" stroke-width="1.3"/><path d="M556.1,569.6 L556.1,573.6 M554.5,569.6 L557.7,569.6 M554.5,573.6 L557.7,573.6" stroke="#5aa0f0" stroke-width="0.9"/><rect x="554.6" y="570.1" width="3" height="3" fill="#5aa0f0"/><path d="M571.3,568.2 L571.3,572.2 M569.7,568.2 L572.9,568.2 M569.7,572.2 L572.9,572.2" stroke="#5aa0f0" stroke-width="0.9"/><rect x="569.8" y="568.7" width="3" height="3" fill="#5aa0f0"/><path d="M586.6,569.0 L586.6,573.0 M585.0,569.0 L588.2,569.0 M585.0,573.0 L588.2,573.0" stroke="#5aa0f0" stroke-width="0.9"/><rect x="585.1" y="569.5" width="3" height="3" fill="#5aa0f0"/><path d="M601.8,568.2 L601.8,572.2 M600.2,568.2 L603.4,568.2 M600.2,572.2 L603.4,572.2" stroke="#5aa0f0" stroke-width="0.9"/><rect x="600.3" y="568.7" width="3" height="3" fill="#5aa0f0"/><path d="M617.0,565.0 L617.0,569.0 M615.4,565.0 L618.6,565.0 M615.4,569.0 L618.6,569.0" stroke="#5aa0f0" stroke-width="0.9"/><rect x="615.5" y="565.5" width="3" height="3" fill="#5aa0f0"/><path d="M632.3,563.6 L632.3,567.6 M630.7,563.6 L633.9,563.6 M630.7,567.6 L633.9,567.6" stroke="#5aa0f0" stroke-width="0.9"/><rect x="630.8" y="564.1" width="3" height="3" fill="#5aa0f0"/><path d="M647.5,559.5 L647.5,563.6 M645.9,559.5 L649.1,559.5 M645.9,563.6 L649.1,563.6" stroke="#5aa0f0" stroke-width="0.9"/><rect x="646.0" y="560.0" width="3" height="3" fill="#5aa0f0"/><path d="M678.0,554.9 L678.0,558.9 M676.4,554.9 L679.6,554.9 M676.4,558.9 L679.6,558.9" stroke="#5aa0f0" stroke-width="0.9"/><rect x="676.5" y="555.4" width="3" height="3" fill="#5aa0f0"/><polyline points="556.1,571.6 571.3,569.6 586.6,570.6 601.8,571.0 617.0,567.6 632.3,566.2 647.5,561.5 678.0,556.5" fill="none" stroke="#1f9aa6" stroke-width="1.3"/><path d="M556.1,569.6 L556.1,573.6 M554.5,569.6 L557.7,569.6 M554.5,573.6 L557.7,573.6" stroke="#1f9aa6" stroke-width="0.9"/><rect x="554.6" y="570.1" width="3" height="3" fill="#1f9aa6"/><path d="M571.3,567.6 L571.3,571.6 M569.7,567.6 L572.9,567.6 M569.7,571.6 L572.9,571.6" stroke="#1f9aa6" stroke-width="0.9"/><rect x="569.8" y="568.1" width="3" height="3" fill="#1f9aa6"/><path d="M586.6,568.6 L586.6,572.6 M585.0,568.6 L588.2,568.6 M585.0,572.6 L588.2,572.6" stroke="#1f9aa6" stroke-width="0.9"/><rect x="585.1" y="569.1" width="3" height="3" fill="#1f9aa6"/><path d="M601.8,569.0 L601.8,573.0 M600.2,569.0 L603.4,569.0 M600.2,573.0 L603.4,573.0" stroke="#1f9aa6" stroke-width="0.9"/><rect x="600.3" y="569.5" width="3" height="3" fill="#1f9aa6"/><path d="M617.0,565.6 L617.0,569.6 M615.4,565.6 L618.6,565.6 M615.4,569.6 L618.6,569.6" stroke="#1f9aa6" stroke-width="0.9"/><rect x="615.5" y="566.1" width="3" height="3" fill="#1f9aa6"/><path d="M632.3,564.2 L632.3,568.2 M630.7,564.2 L633.9,564.2 M630.7,568.2 L633.9,568.2" stroke="#1f9aa6" stroke-width="0.9"/><rect x="630.8" y="564.7" width="3" height="3" fill="#1f9aa6"/><path d="M647.5,559.5 L647.5,563.6 M645.9,559.5 L649.1,559.5 M645.9,563.6 L649.1,563.6" stroke="#1f9aa6" stroke-width="0.9"/><rect x="646.0" y="560.0" width="3" height="3" fill="#1f9aa6"/><path d="M678.0,554.5 L678.0,558.5 M676.4,554.5 L679.6,554.5 M676.4,558.5 L679.6,558.5" stroke="#1f9aa6" stroke-width="0.9"/><rect x="676.5" y="555.0" width="3" height="3" fill="#1f9aa6"/><polyline points="556.1,571.6 571.3,569.0 586.6,569.6 601.8,569.0 617.0,565.6 632.3,564.6 647.5,560.1 678.0,554.5" fill="none" stroke="#2020e0" stroke-width="1.3"/><path d="M556.1,569.6 L556.1,573.6 M554.5,569.6 L557.7,569.6 M554.5,573.6 L557.7,573.6" stroke="#2020e0" stroke-width="0.9"/><rect x="554.6" y="570.1" width="3" height="3" fill="#2020e0"/><path d="M571.3,567.0 L571.3,571.0 M569.7,567.0 L572.9,567.0 M569.7,571.0 L572.9,571.0" stroke="#2020e0" stroke-width="0.9"/><rect x="569.8" y="567.5" width="3" height="3" fill="#2020e0"/><path d="M586.6,567.6 L586.6,571.6 M585.0,567.6 L588.2,567.6 M585.0,571.6 L588.2,571.6" stroke="#2020e0" stroke-width="0.9"/><rect x="585.1" y="568.1" width="3" height="3" fill="#2020e0"/><path d="M601.8,567.0 L601.8,571.0 M600.2,567.0 L603.4,567.0 M600.2,571.0 L603.4,571.0" stroke="#2020e0" stroke-width="0.9"/><rect x="600.3" y="567.5" width="3" height="3" fill="#2020e0"/><path d="M617.0,563.6 L617.0,567.6 M615.4,563.6 L618.6,563.6 M615.4,567.6 L618.6,567.6" stroke="#2020e0" stroke-width="0.9"/><rect x="615.5" y="564.1" width="3" height="3" fill="#2020e0"/><path d="M632.3,562.5 L632.3,566.6 M630.7,562.5 L633.9,562.5 M630.7,566.6 L633.9,566.6" stroke="#2020e0" stroke-width="0.9"/><rect x="630.8" y="563.1" width="3" height="3" fill="#2020e0"/><path d="M647.5,558.1 L647.5,562.1 M645.9,558.1 L649.1,558.1 M645.9,562.1 L649.1,562.1" stroke="#2020e0" stroke-width="0.9"/><rect x="646.0" y="558.6" width="3" height="3" fill="#2020e0"/><path d="M678.0,552.5 L678.0,556.5 M676.4,552.5 L679.6,552.5 M676.4,556.5 L679.6,556.5" stroke="#2020e0" stroke-width="0.9"/><rect x="676.5" y="553.0" width="3" height="3" fill="#2020e0"/><polyline points="556.1,571.6 571.3,562.5 586.6,554.5 601.8,548.1 617.0,542.5 632.3,538.5 647.5,534.5 678.0,527.5" fill="none" stroke="#fdb97a" stroke-width="1.3"/><path d="M556.1,569.2 L556.1,574.0 M554.5,569.2 L557.7,569.2 M554.5,574.0 L557.7,574.0" stroke="#fdb97a" stroke-width="0.9"/><circle cx="556.1" cy="571.6" r="1.1" fill="#fdb97a"/><path d="M571.3,560.1 L571.3,565.0 M569.7,560.1 L572.9,560.1 M569.7,565.0 L572.9,565.0" stroke="#fdb97a" stroke-width="0.9"/><circle cx="571.3" cy="562.5" r="1.1" fill="#fdb97a"/><path d="M586.6,552.1 L586.6,556.9 M585.0,552.1 L588.2,552.1 M585.0,556.9 L588.2,556.9" stroke="#fdb97a" stroke-width="0.9"/><circle cx="586.6" cy="554.5" r="1.1" fill="#fdb97a"/><path d="M601.8,545.7 L601.8,550.5 M600.2,545.7 L603.4,545.7 M600.2,550.5 L603.4,550.5" stroke="#fdb97a" stroke-width="0.9"/><circle cx="601.8" cy="548.1" r="1.1" fill="#fdb97a"/><path d="M617.0,540.1 L617.0,544.9 M615.4,540.1 L618.6,540.1 M615.4,544.9 L618.6,544.9" stroke="#fdb97a" stroke-width="0.9"/><circle cx="617.0" cy="542.5" r="1.1" fill="#fdb97a"/><path d="M632.3,536.1 L632.3,540.9 M630.7,536.1 L633.9,536.1 M630.7,540.9 L633.9,540.9" stroke="#fdb97a" stroke-width="0.9"/><circle cx="632.3" cy="538.5" r="1.1" fill="#fdb97a"/><path d="M647.5,532.1 L647.5,536.9 M645.9,532.1 L649.1,532.1 M645.9,536.9 L649.1,536.9" stroke="#fdb97a" stroke-width="0.9"/><circle cx="647.5" cy="534.5" r="1.1" fill="#fdb97a"/><path d="M678.0,525.1 L678.0,529.9 M676.4,525.1 L679.6,525.1 M676.4,529.9 L679.6,529.9" stroke="#fdb97a" stroke-width="0.9"/><circle cx="678.0" cy="527.5" r="1.1" fill="#fdb97a"/><polyline points="556.1,571.6 571.3,568.2 586.6,565.6 601.8,555.5 617.0,548.9 632.3,544.9 647.5,538.1 678.0,531.5" fill="none" stroke="#ee1c1c" stroke-width="1.3"/><path d="M556.1,569.6 L556.1,573.6 M554.5,569.6 L557.7,569.6 M554.5,573.6 L557.7,573.6" stroke="#ee1c1c" stroke-width="0.9"/><rect x="554.5" y="570.0" width="3.2" height="3.2" fill="#ee1c1c"/><path d="M571.3,566.2 L571.3,570.2 M569.7,566.2 L572.9,566.2 M569.7,570.2 L572.9,570.2" stroke="#ee1c1c" stroke-width="0.9"/><rect x="569.7" y="566.6" width="3.2" height="3.2" fill="#ee1c1c"/><path d="M586.6,563.6 L586.6,567.6 M585.0,563.6 L588.2,563.6 M585.0,567.6 L588.2,567.6" stroke="#ee1c1c" stroke-width="0.9"/><rect x="585.0" y="564.0" width="3.2" height="3.2" fill="#ee1c1c"/><path d="M601.8,553.5 L601.8,557.5 M600.2,553.5 L603.4,553.5 M600.2,557.5 L603.4,557.5" stroke="#ee1c1c" stroke-width="0.9"/><rect x="600.2" y="553.9" width="3.2" height="3.2" fill="#ee1c1c"/><path d="M617.0,546.9 L617.0,550.9 M615.4,546.9 L618.6,546.9 M615.4,550.9 L618.6,550.9" stroke="#ee1c1c" stroke-width="0.9"/><rect x="615.4" y="547.3" width="3.2" height="3.2" fill="#ee1c1c"/><path d="M632.3,542.9 L632.3,546.9 M630.7,542.9 L633.9,542.9 M630.7,546.9 L633.9,546.9" stroke="#ee1c1c" stroke-width="0.9"/><rect x="630.7" y="543.3" width="3.2" height="3.2" fill="#ee1c1c"/><path d="M647.5,536.1 L647.5,540.1 M645.9,536.1 L649.1,536.1 M645.9,540.1 L649.1,540.1" stroke="#ee1c1c" stroke-width="0.9"/><rect x="645.9" y="536.5" width="3.2" height="3.2" fill="#ee1c1c"/><path d="M678.0,529.5 L678.0,533.5 M676.4,529.5 L679.6,529.5 M676.4,533.5 L679.6,533.5" stroke="#ee1c1c" stroke-width="0.9"/><rect x="676.4" y="529.9" width="3.2" height="3.2" fill="#ee1c1c"/><text x="617" y="621.2" font-size="8.8" text-anchor="middle">Weeks</text><text transform="translate(535,561) rotate(-90)" font-size="9.2" text-anchor="middle">Weight (g)</text><path d="M598.70,543.60 L598.70,538.80 M596.62,542.40 L600.78,540.00 M596.62,540.00 L600.78,542.40" stroke="#333" stroke-width="1.25" stroke-linecap="round"/><path d="M605.30,543.60 L605.30,538.80 M603.22,542.40 L607.38,540.00 M603.22,540.00 L607.38,542.40" stroke="#333" stroke-width="1.25" stroke-linecap="round"/><path d="M614.00,537.80 L614.00,533.00 M611.92,536.60 L616.08,534.20 M611.92,534.20 L616.08,536.60" stroke="#333" stroke-width="1.25" stroke-linecap="round"/><path d="M620.60,537.80 L620.60,533.00 M618.52,536.60 L622.68,534.20 M618.52,534.20 L622.68,536.60" stroke="#333" stroke-width="1.25" stroke-linecap="round"/><path d="M629.20,533.10 L629.20,528.30 M627.12,531.90 L631.28,529.50 M627.12,529.50 L631.28,531.90" stroke="#333" stroke-width="1.25" stroke-linecap="round"/><path d="M635.80,533.10 L635.80,528.30 M633.72,531.90 L637.88,529.50 M633.72,529.50 L637.88,531.90" stroke="#333" stroke-width="1.25" stroke-linecap="round"/><path d="M644.30,528.90 L644.30,524.10 M642.22,527.70 L646.38,525.30 M642.22,525.30 L646.38,527.70" stroke="#333" stroke-width="1.25" stroke-linecap="round"/><path d="M650.90,528.90 L650.90,524.10 M648.82,527.70 L652.98,525.30 M648.82,525.30 L652.98,527.70" stroke="#333" stroke-width="1.25" stroke-linecap="round"/><path d="M674.70,521.90 L674.70,517.10 M672.62,520.70 L676.78,518.30 M672.62,518.30 L676.78,520.70" stroke="#333" stroke-width="1.25" stroke-linecap="round"/><path d="M681.30,521.90 L681.30,517.10 M679.22,520.70 L683.38,518.30 M679.22,518.30 L683.38,520.70" stroke="#333" stroke-width="1.25" stroke-linecap="round"/><text x="376" y="636" font-size="18.5">I</text><rect x="414.30" y="628.30" width="14.48" height="34.70" fill="#6c1c7c"/><rect x="427.78" y="628.30" width="14.48" height="34.70" fill="#f6c234"/><rect x="441.26" y="628.30" width="14.48" height="34.70" fill="#f9bc2a"/><rect x="454.73" y="628.30" width="14.48" height="34.70" fill="#f8bf2e"/><rect x="468.21" y="628.30" width="14.48" height="34.70" fill="#f9a40e"/><rect x="481.69" y="628.30" width="14.48" height="34.70" fill="#fdfda0"/><rect x="495.17" y="628.30" width="14.48" height="34.70" fill="#4e0e6e"/><rect x="508.64" y="628.30" width="14.48" height="34.70" fill="#f8871c"/><rect x="522.12" y="628.30" width="14.48" height="34.70" fill="#f98d14"/><rect x="535.60" y="628.30" width="14.48" height="34.70" fill="#f98c16"/><rect x="549.08" y="628.30" width="14.48" height="34.70" fill="#f8881c"/><rect x="562.56" y="628.30" width="14.48" height="34.70" fill="#fbb126"/><rect x="576.03" y="628.30" width="14.48" height="34.70" fill="#1e0c44"/><rect x="589.51" y="628.30" width="14.48" height="34.70" fill="#9c2c64"/><rect x="602.99" y="628.30" width="14.48" height="34.70" fill="#9a2c64"/><rect x="616.47" y="628.30" width="14.48" height="34.70" fill="#982a66"/><rect x="629.94" y="628.30" width="14.48" height="34.70" fill="#962a66"/><rect x="643.42" y="628.30" width="13.48" height="34.70" fill="#100828"/><rect x="414.30" y="662.00" width="14.48" height="34.70" fill="#200c48"/><rect x="427.78" y="662.00" width="14.48" height="34.70" fill="#952c64"/><rect x="441.26" y="662.00" width="14.48" height="34.70" fill="#8a2868"/><rect x="454.73" y="662.00" width="14.48" height="34.70" fill="#8e2868"/><rect x="468.21" y="662.00" width="14.48" height="34.70" fill="#8e2868"/><rect x="481.69" y="662.00" width="14.48" height="34.70" fill="#dc5040"/><rect x="495.17" y="662.00" width="14.48" height="34.70" fill="#100828"/><rect x="508.64" y="662.00" width="14.48" height="34.70" fill="#88246c"/><rect x="522.12" y="662.00" width="14.48" height="34.70" fill="#8a266a"/><rect x="535.60" y="662.00" width="14.48" height="34.70" fill="#8a266a"/><rect x="549.08" y="662.00" width="14.48" height="34.70" fill="#8a266a"/><rect x="562.56" y="662.00" width="14.48" height="34.70" fill="#d4483e"/><rect x="576.03" y="662.00" width="14.48" height="34.70" fill="#06040f"/><rect x="589.51" y="662.00" width="14.48" height="34.70" fill="#4c0f6e"/><rect x="602.99" y="662.00" width="14.48" height="34.70" fill="#4a0e6c"/><rect x="616.47" y="662.00" width="14.48" height="34.70" fill="#4a0e6c"/><rect x="629.94" y="662.00" width="14.48" height="34.70" fill="#4c0f6e"/><rect x="643.42" y="662.00" width="13.48" height="34.70" fill="#04030c"/><rect x="414.30" y="695.70" width="14.48" height="34.70" fill="#1c0c40"/><rect x="427.78" y="695.70" width="14.48" height="34.70" fill="#84226c"/><rect x="441.26" y="695.70" width="14.48" height="34.70" fill="#86226e"/><rect x="454.73" y="695.70" width="14.48" height="34.70" fill="#82226e"/><rect x="468.21" y="695.70" width="14.48" height="34.70" fill="#78206e"/><rect x="481.69" y="695.70" width="14.48" height="34.70" fill="#7c206e"/><rect x="495.17" y="695.70" width="14.48" height="34.70" fill="#1a0a3c"/><rect x="508.64" y="695.70" width="14.48" height="34.70" fill="#701c6e"/><rect x="522.12" y="695.70" width="14.48" height="34.70" fill="#721c6e"/><rect x="535.60" y="695.70" width="14.48" height="34.70" fill="#701c6e"/><rect x="549.08" y="695.70" width="14.48" height="34.70" fill="#6e1c6e"/><rect x="562.56" y="695.70" width="14.48" height="34.70" fill="#4a0e6a"/><rect x="576.03" y="695.70" width="14.48" height="34.70" fill="#140a30"/><rect x="589.51" y="695.70" width="14.48" height="34.70" fill="#3c0c60"/><rect x="602.99" y="695.70" width="14.48" height="34.70" fill="#3a0c5e"/><rect x="616.47" y="695.70" width="14.48" height="34.70" fill="#360b5c"/><rect x="629.94" y="695.70" width="14.48" height="34.70" fill="#3a0c5e"/><rect x="643.42" y="695.70" width="13.48" height="34.70" fill="#080518"/><rect x="414.30" y="729.40" width="14.48" height="33.70" fill="#5c166e"/><rect x="427.78" y="729.40" width="14.48" height="33.70" fill="#3c0c64"/><rect x="441.26" y="729.40" width="14.48" height="33.70" fill="#400e66"/><rect x="454.73" y="729.40" width="14.48" height="33.70" fill="#3e0c64"/><rect x="468.21" y="729.40" width="14.48" height="33.70" fill="#3a0c62"/><rect x="481.69" y="729.40" width="14.48" height="33.70" fill="#5c166e"/><rect x="495.17" y="729.40" width="14.48" height="33.70" fill="#5a146e"/><rect x="508.64" y="729.40" width="14.48" height="33.70" fill="#480e68"/><rect x="522.12" y="729.40" width="14.48" height="33.70" fill="#460d68"/><rect x="535.60" y="729.40" width="14.48" height="33.70" fill="#440d66"/><rect x="549.08" y="729.40" width="14.48" height="33.70" fill="#460d68"/><rect x="562.56" y="729.40" width="14.48" height="33.70" fill="#5e166e"/><rect x="576.03" y="729.40" width="14.48" height="33.70" fill="#5e1670"/><rect x="589.51" y="729.40" width="14.48" height="33.70" fill="#5e1670"/><rect x="602.99" y="729.40" width="14.48" height="33.70" fill="#601670"/><rect x="616.47" y="729.40" width="14.48" height="33.70" fill="#5e1670"/><rect x="629.94" y="729.40" width="14.48" height="33.70" fill="#5e1670"/><rect x="643.42" y="729.40" width="13.48" height="33.70" fill="#5e1670"/><rect x="414.3" y="628.3" width="242.60" height="134.80" fill="none" stroke="#111" stroke-width="0.8"/><rect x="482.29" y="628.50" width="12.48" height="134.40" fill="none" stroke="#ff1818" stroke-width="1.7" stroke-dasharray="3.6,1.8"/><rect x="563.16" y="628.50" width="12.48" height="134.40" fill="none" stroke="#ff1818" stroke-width="1.7" stroke-dasharray="3.6,1.8"/><rect x="644.02" y="628.50" width="12.48" height="134.40" fill="none" stroke="#ff1818" stroke-width="1.7" stroke-dasharray="3.6,1.8"/><text x="398.3" y="641.6" font-size="8.8" text-anchor="middle">WBC</text><text x="398.8" y="652.9" font-size="8.8" text-anchor="middle">(x10<tspan font-size="5.8" dy="-3">9</tspan><tspan dy="3">/L)</tspan></text><text x="398.3" y="675.4" font-size="8.8" text-anchor="middle">NEUT</text><text x="398.8" y="686.6" font-size="8.8" text-anchor="middle">(x10<tspan font-size="5.8" dy="-3">9</tspan><tspan dy="3">/L)</tspan></text><text x="398.3" y="709.1" font-size="8.8" text-anchor="middle">Lymph</text><text x="398.8" y="720.4" font-size="8.8" text-anchor="middle">(x10<tspan font-size="5.8" dy="-3">9</tspan><tspan dy="3">/L)</tspan></text><text x="398.3" y="742.8" font-size="8.8" text-anchor="middle">RBC</text><text x="398.8" y="754.0" font-size="8.8" text-anchor="middle">(x10<tspan font-size="5.8" dy="-3">12</tspan><tspan dy="3">/L)</tspan></text><text x="421.0" y="775" font-size="8.3" text-anchor="middle">G1</text><text x="434.5" y="775" font-size="8.3" text-anchor="middle">G2</text><text x="448.0" y="775" font-size="8.3" text-anchor="middle">G3</text><text x="461.5" y="775" font-size="8.3" text-anchor="middle">G4</text><text x="474.9" y="775" font-size="8.3" text-anchor="middle">G5</text><text x="488.4" y="775" font-size="8.3" text-anchor="middle">G6</text><text x="501.9" y="775" font-size="8.3" text-anchor="middle">G1</text><text x="515.4" y="775" font-size="8.3" text-anchor="middle">G2</text><text x="528.9" y="775" font-size="8.3" text-anchor="middle">G3</text><text x="542.3" y="775" font-size="8.3" text-anchor="middle">G4</text><text x="555.8" y="775" font-size="8.3" text-anchor="middle">G5</text><text x="569.3" y="775" font-size="8.3" text-anchor="middle">G6</text><text x="582.8" y="775" font-size="8.3" text-anchor="middle">G1</text><text x="596.2" y="775" font-size="8.3" text-anchor="middle">G2</text><text x="609.7" y="775" font-size="8.3" text-anchor="middle">G3</text><text x="623.2" y="775" font-size="8.3" text-anchor="middle">G4</text><text x="636.7" y="775" font-size="8.3" text-anchor="middle">G5</text><text x="650.2" y="775" font-size="8.3" text-anchor="middle">G6</text><path d="M420.3,776.8 L489.2,776.8" stroke="#222" stroke-width="0.7"/><text x="454.7" y="783.5" font-size="8.3" text-anchor="middle">7 days</text><path d="M501.2,776.8 L570.0,776.8" stroke="#222" stroke-width="0.7"/><text x="535.6" y="783.5" font-size="8.3" text-anchor="middle">14 days</text><path d="M582.0,776.8 L650.9,776.8" stroke="#222" stroke-width="0.7"/><text x="616.5" y="783.5" font-size="8.3" text-anchor="middle">28 days</text><defs><linearGradient id="inferno" x1="0" y1="1" x2="0" y2="0"><stop offset="0.000" stop-color="#000004"/><stop offset="0.111" stop-color="#1b0c41"/><stop offset="0.222" stop-color="#4a0c6b"/><stop offset="0.333" stop-color="#781c6d"/><stop offset="0.444" stop-color="#a52c60"/><stop offset="0.556" stop-color="#cf4446"/><stop offset="0.667" stop-color="#ed6925"/><stop offset="0.778" stop-color="#fb9b06"/><stop offset="0.889" stop-color="#f7d13d"/><stop offset="1.000" stop-color="#fcffa4"/></linearGradient></defs><rect x="660.3" y="628.2" width="11.2" height="134.8" fill="url(#inferno)" stroke="#111" stroke-width="0.7"/><path d="M671.5,648.6 L673.3,648.6" stroke="#222" stroke-width="0.7"/><text x="674" y="651.6" font-size="8.3">20</text><path d="M671.5,678 L673.3,678" stroke="#222" stroke-width="0.7"/><text x="674" y="681.0" font-size="8.3">15</text><path d="M671.5,708 L673.3,708" stroke="#222" stroke-width="0.7"/><text x="674" y="711.0" font-size="8.3">10</text><path d="M671.5,737.7 L673.3,737.7" stroke="#222" stroke-width="0.7"/><text x="674" y="740.7" font-size="8.3">5</text><text x="376.5" y="792.8" font-size="18.5">K</text><path d="M415.1,804 L415.1,914.8 L527,914.8" stroke="#222" stroke-width="1" fill="none"/><path d="M412.6,914.8 L415.1,914.8" stroke="#222" stroke-width="1" fill="none"/><text x="412.1" y="918.1" font-size="9.5" text-anchor="end">0</text><path d="M412.6,887.1 L415.1,887.1" stroke="#222" stroke-width="1" fill="none"/><text x="412.1" y="890.4" font-size="9.5" text-anchor="end">2</text><path d="M412.6,859.4 L415.1,859.4" stroke="#222" stroke-width="1" fill="none"/><text x="412.1" y="862.7" font-size="9.5" text-anchor="end">4</text><path d="M412.6,831.7 L415.1,831.7" stroke="#222" stroke-width="1" fill="none"/><text x="412.1" y="835.0" font-size="9.5" text-anchor="end">6</text><path d="M412.6,804.0 L415.1,804.0" stroke="#222" stroke-width="1" fill="none"/><text x="412.1" y="807.3" font-size="9.5" text-anchor="end">8</text><text x="471.6" y="800" font-size="9.5" text-anchor="middle">14 days</text><text transform="translate(401.5,857) rotate(-90)" font-size="9" text-anchor="middle">Neutrophil count (relative to sham)</text><circle cx="425.0" cy="895.4" r="2.9" fill="none" stroke="#fdb97a" stroke-width="1.1"/><circle cx="429.4" cy="898.2" r="2.9" fill="none" stroke="#fdb97a" stroke-width="1.1"/><circle cx="425.0" cy="903.7" r="2.9" fill="none" stroke="#fdb97a" stroke-width="1.1"/><circle cx="429.4" cy="906.5" r="2.9" fill="none" stroke="#fdb97a" stroke-width="1.1"/><path d="M439.8,871.865 L448.8,871.865 M444.3,876.02 L444.3,867.7099999999999 M442.1,876.02 L446.5,876.02 M442.1,867.7099999999999 L446.5,867.7099999999999" stroke="#1f9aa6" stroke-width="1.0" fill="none"/><circle cx="442.1" cy="864.9" r="2.9" fill="none" stroke="#1f9aa6" stroke-width="1.1"/><circle cx="446.5" cy="870.5" r="2.9" fill="none" stroke="#1f9aa6" stroke-width="1.1"/><circle cx="442.1" cy="874.6" r="2.9" fill="none" stroke="#1f9aa6" stroke-width="1.1"/><circle cx="446.5" cy="874.6" r="2.9" fill="none" stroke="#1f9aa6" stroke-width="1.1"/><path d="M457.8,873.25 L466.8,873.25 M462.3,876.02 L462.3,870.48 M460.1,876.02 L464.5,876.02 M460.1,870.48 L464.5,870.48" stroke="#9a9af0" stroke-width="1.0" fill="none"/><circle cx="460.1" cy="869.1" r="2.9" fill="none" stroke="#9a9af0" stroke-width="1.1"/><circle cx="464.5" cy="871.9" r="2.9" fill="none" stroke="#9a9af0" stroke-width="1.1"/><circle cx="460.1" cy="874.6" r="2.9" fill="none" stroke="#9a9af0" stroke-width="1.1"/><circle cx="464.5" cy="877.4" r="2.9" fill="none" stroke="#9a9af0" stroke-width="1.1"/><path d="M475.3,868.4024999999999 L484.3,868.4024999999999 M479.8,870.48 L479.8,865.6324999999999 M477.6,870.48 L482.0,870.48 M477.6,865.6324999999999 L482.0,865.6324999999999" stroke="#2020e0" stroke-width="1.0" fill="none"/><circle cx="477.6" cy="864.9" r="2.9" fill="none" stroke="#2020e0" stroke-width="1.1"/><circle cx="482.0" cy="867.7" r="2.9" fill="none" stroke="#2020e0" stroke-width="1.1"/><circle cx="477.6" cy="869.1" r="2.9" fill="none" stroke="#2020e0" stroke-width="1.1"/><circle cx="482.0" cy="870.5" r="2.9" fill="none" stroke="#2020e0" stroke-width="1.1"/><path d="M492.8,866.3249999999999 L501.8,866.3249999999999 M497.3,871.865 L497.3,860.785 M495.1,871.865 L499.5,871.865 M495.1,860.785 L499.5,860.785" stroke="#5aa0f0" stroke-width="1.0" fill="none"/><circle cx="495.1" cy="859.4" r="2.9" fill="none" stroke="#5aa0f0" stroke-width="1.1"/><circle cx="499.5" cy="863.6" r="2.9" fill="none" stroke="#5aa0f0" stroke-width="1.1"/><circle cx="495.1" cy="867.7" r="2.9" fill="none" stroke="#5aa0f0" stroke-width="1.1"/><circle cx="499.5" cy="871.9" r="2.9" fill="none" stroke="#5aa0f0" stroke-width="1.1"/><path d="M510.29999999999995,842.78 L519.3,842.78 M514.8,853.86 L514.8,830.315 M512.5999999999999,853.86 L517.0,853.86 M512.5999999999999,830.315 L517.0,830.315" stroke="#ee1c1c" stroke-width="1.0" fill="none"/><circle cx="512.6" cy="824.8" r="2.9" fill="none" stroke="#ee1c1c" stroke-width="1.1"/><circle cx="517.0" cy="838.6" r="2.9" fill="none" stroke="#ee1c1c" stroke-width="1.1"/><circle cx="512.6" cy="851.1" r="2.9" fill="none" stroke="#ee1c1c" stroke-width="1.1"/><circle cx="517.0" cy="855.2" r="2.9" fill="none" stroke="#ee1c1c" stroke-width="1.1"/><path d="M446.6,824 L446.6,820.9 L514.8,820.9 L514.8,823.5" stroke="#222" stroke-width="1" fill="none"/><text x="483.3" y="817.5" font-size="9" text-anchor="middle">P = 0.0002</text><path d="M444.3,846.6 L444.3,844.2 L478.6,844.2 L478.6,854.3 M461,854.3 L497.3,854.3" stroke="#222" stroke-width="1" fill="none"/><text x="462.3" y="841.8" font-size="9.5" text-anchor="middle">ns</text><path d="M426,861 L444.3,861" stroke="#222" stroke-width="1" fill="none"/><text x="437.7" y="858.3" font-size="9" text-anchor="middle">P = 0.0020</text><path d="M565.9,804.5 L565.9,915 L678,915" stroke="#222" stroke-width="1" fill="none"/><path d="M563.4,915.0 L565.9,915.0" stroke="#222" stroke-width="1" fill="none"/><text x="562.9" y="918.3" font-size="9.5" text-anchor="end">0</text><path d="M563.4,878.2 L565.9,878.2" stroke="#222" stroke-width="1" fill="none"/><text x="562.9" y="881.5" font-size="9.5" text-anchor="end">3</text><path d="M563.4,841.3 L565.9,841.3" stroke="#222" stroke-width="1" fill="none"/><text x="562.9" y="844.6" font-size="9.5" text-anchor="end">6</text><path d="M563.4,804.5 L565.9,804.5" stroke="#222" stroke-width="1" fill="none"/><text x="562.9" y="807.8" font-size="9.5" text-anchor="end">9</text><text x="620.8" y="800" font-size="9.5" text-anchor="middle">28 days</text><text transform="translate(551.5,857) rotate(-90)" font-size="9" text-anchor="middle">Neutrophil count (relative to sham)</text><circle cx="575.4" cy="899.0" r="2.9" fill="none" stroke="#fdb97a" stroke-width="1.1"/><circle cx="579.8" cy="902.7" r="2.9" fill="none" stroke="#fdb97a" stroke-width="1.1"/><circle cx="575.4" cy="904.0" r="2.9" fill="none" stroke="#fdb97a" stroke-width="1.1"/><circle cx="579.8" cy="906.4" r="2.9" fill="none" stroke="#fdb97a" stroke-width="1.1"/><path d="M590.5,854.8388888888888 L599.5,854.8388888888888 M595,863.4333333333333 L595,846.2444444444444 M592.8,863.4333333333333 L597.2,863.4333333333333 M592.8,846.2444444444444 L597.2,846.2444444444444" stroke="#1f9aa6" stroke-width="1.0" fill="none"/><circle cx="592.8" cy="842.6" r="2.9" fill="none" stroke="#1f9aa6" stroke-width="1.1"/><circle cx="597.2" cy="852.4" r="2.9" fill="none" stroke="#1f9aa6" stroke-width="1.1"/><circle cx="592.8" cy="862.2" r="2.9" fill="none" stroke="#1f9aa6" stroke-width="1.1"/><circle cx="597.2" cy="863.4" r="2.9" fill="none" stroke="#1f9aa6" stroke-width="1.1"/><path d="M608.5,853.6111111111111 L617.5,853.6111111111111 M613,857.2944444444445 L613,849.9277777777778 M610.8,857.2944444444445 L615.2,857.2944444444445 M610.8,849.9277777777778 L615.2,849.9277777777778" stroke="#9a9af0" stroke-width="1.0" fill="none"/><circle cx="610.8" cy="849.9" r="2.9" fill="none" stroke="#9a9af0" stroke-width="1.1"/><circle cx="615.2" cy="852.4" r="2.9" fill="none" stroke="#9a9af0" stroke-width="1.1"/><circle cx="610.8" cy="856.1" r="2.9" fill="none" stroke="#9a9af0" stroke-width="1.1"/><circle cx="615.2" cy="861.0" r="2.9" fill="none" stroke="#9a9af0" stroke-width="1.1"/><path d="M625.6,857.2944444444445 L634.6,857.2944444444445 M630.1,864.0472222222222 L630.1,849.9277777777778 M627.9,864.0472222222222 L632.3000000000001,864.0472222222222 M627.9,849.9277777777778 L632.3000000000001,849.9277777777778" stroke="#2020e0" stroke-width="1.0" fill="none"/><circle cx="627.9" cy="846.2" r="2.9" fill="none" stroke="#2020e0" stroke-width="1.1"/><circle cx="632.3" cy="854.8" r="2.9" fill="none" stroke="#2020e0" stroke-width="1.1"/><circle cx="627.9" cy="862.2" r="2.9" fill="none" stroke="#2020e0" stroke-width="1.1"/><circle cx="632.3" cy="864.7" r="2.9" fill="none" stroke="#2020e0" stroke-width="1.1"/><path d="M643.1,852.3833333333333 L652.1,852.3833333333333 M647.6,860.9777777777778 L647.6,843.7888888888889 M645.4,860.9777777777778 L649.8000000000001,860.9777777777778 M645.4,843.7888888888889 L649.8000000000001,843.7888888888889" stroke="#5aa0f0" stroke-width="1.0" fill="none"/><circle cx="645.4" cy="838.9" r="2.9" fill="none" stroke="#5aa0f0" stroke-width="1.1"/><circle cx="649.8" cy="851.2" r="2.9" fill="none" stroke="#5aa0f0" stroke-width="1.1"/><circle cx="645.4" cy="858.5" r="2.9" fill="none" stroke="#5aa0f0" stroke-width="1.1"/><circle cx="649.8" cy="864.7" r="2.9" fill="none" stroke="#5aa0f0" stroke-width="1.1"/><path d="M660.7,900.2666666666667 L669.7,900.2666666666667 M665.2,903.95 L665.2,896.5833333333334 M663.0,903.95 L667.4000000000001,903.95 M663.0,896.5833333333334 L667.4000000000001,896.5833333333334" stroke="#ee1c1c" stroke-width="1.0" fill="none"/><circle cx="663.0" cy="895.4" r="2.9" fill="none" stroke="#ee1c1c" stroke-width="1.1"/><circle cx="667.4" cy="899.0" r="2.9" fill="none" stroke="#ee1c1c" stroke-width="1.1"/><circle cx="663.0" cy="902.7" r="2.9" fill="none" stroke="#ee1c1c" stroke-width="1.1"/><circle cx="667.4" cy="905.2" r="2.9" fill="none" stroke="#ee1c1c" stroke-width="1.1"/><path d="M576.9,823.7 L594.6,823.7" stroke="#222" stroke-width="1" fill="none"/><text x="588" y="820" font-size="9" text-anchor="middle">P &lt; 0.0001</text><path d="M595,835.4 L647.6,835.4 M620.3,835.4 L620.3,829.5 L665.2,829.5 L665.2,885.1" stroke="#222" stroke-width="1" fill="none"/><text x="607.9" y="833" font-size="9.5" text-anchor="middle">ns</text><text x="643.7" y="826.5" font-size="9" text-anchor="middle">P &lt; 0.0001</text><defs>
<filter id="heF" x="0" y="0" width="100%" height="100%" color-interpolation-filters="sRGB">
 <feTurbulence type="fractalNoise" baseFrequency="0.55" numOctaves="2" seed="4" result="n"/>
 <feColorMatrix in="n" type="matrix" values="0 0 0 0 0.42  0 0 0 0 0.22  0 0 0 0 0.62  10 0 0 0 -5.2" result="d"/>
 <feTurbulence type="fractalNoise" baseFrequency="0.35" numOctaves="2" seed="12" result="n2"/>
 <feColorMatrix in="n2" type="matrix" values="0 0 0 0 0.96  0 0 0 0 0.88  0 0 0 0 0.97  10 0 0 0 -5.7" result="w"/>
 <feMerge><feMergeNode in="d"/><feMergeNode in="w"/></feMerge>
</filter>
<filter id="heF2" x="0" y="0" width="100%" height="100%" color-interpolation-filters="sRGB">
 <feTurbulence type="fractalNoise" baseFrequency="0.55" numOctaves="2" seed="4" result="n"/>
 <feColorMatrix in="n" type="matrix" values="0 0 0 0 0.42  0 0 0 0 0.22  0 0 0 0 0.62  10 0 0 0 -5.4" result="d"/>
 <feTurbulence type="fractalNoise" baseFrequency="0.35" numOctaves="2" seed="12" result="n2"/>
 <feColorMatrix in="n2" type="matrix" values="0 0 0 0 0.96  0 0 0 0 0.88  0 0 0 0 0.97  10 0 0 0 -5.3" result="w"/>
 <feMerge><feMergeNode in="d"/><feMergeNode in="w"/></feMerge>
</filter>
<filter id="wgF" x="0" y="0" width="100%" height="100%" color-interpolation-filters="sRGB">
 <feTurbulence type="fractalNoise" baseFrequency="0.6" numOctaves="2" seed="21" result="n"/>
 <feColorMatrix in="n" type="matrix" values="0 0 0 0 0.32  0 0 0 0 0.58  0 0 0 0 0.86  10 0 0 0 -5.5" result="d"/>
 <feTurbulence type="fractalNoise" baseFrequency="0.4" numOctaves="2" seed="5" result="n2"/>
 <feColorMatrix in="n2" type="matrix" values="0 0 0 0 0.97  0 0 0 0 0.98  0 0 0 0 1  10 0 0 0 -5.5" result="w"/>
 <feMerge><feMergeNode in="d"/><feMergeNode in="w"/></feMerge>
</filter>
<filter id="wgF2" x="0" y="0" width="100%" height="100%" color-interpolation-filters="sRGB">
 <feTurbulence type="fractalNoise" baseFrequency="0.6" numOctaves="2" seed="21" result="n"/>
 <feColorMatrix in="n" type="matrix" values="0 0 0 0 0.55  0 0 0 0 0.74  0 0 0 0 0.9  10 0 0 0 -5.5" result="d"/>
 <feTurbulence type="fractalNoise" baseFrequency="0.4" numOctaves="2" seed="5" result="n2"/>
 <feColorMatrix in="n2" type="matrix" values="0 0 0 0 0.97  0 0 0 0 0.98  0 0 0 0 1  10 0 0 0 -5.5" result="w"/>
 <feMerge><feMergeNode in="d"/><feMergeNode in="w"/></feMerge>
</filter>
</defs><text x="0" y="736.5" font-size="18.5">J</text><text x="191.2" y="733.3" font-size="10.2" text-anchor="middle">H&amp;E staining</text><rect x="15.5" y="734.7" width="357.8" height="1.4" fill="#111"/><rect x="15.5" y="736.1" width="357.8" height="0.9" fill="#aaa"/><rect x="15.3" y="739.2" width="358" height="79.3" fill="#8a8a8a"/><text transform="translate(13.6,757.1) rotate(-90)" font-size="10.2" text-anchor="middle">14 days</text><rect x="16.3" y="739.4" width="57.9" height="37.9" fill="#9070c6"/><rect x="16.3" y="739.4" width="57.9" height="37.9" filter="url(#heF)"/><rect x="16.7" y="739.8" width="57.1" height="37.1" fill="none" stroke="#111" stroke-width="0.9"/><polygon points="33.0,756.3 29.3,754.7 32.2,752.4" fill="#f41414"/><polygon points="24.2,769.1 28.1,768.2 27.2,771.8" fill="#f41414"/><polygon points="59.7,750.1 58.1,753.7 55.8,750.9" fill="#f41414"/><polygon points="50.9,763.9 54.6,765.3 51.9,767.7" fill="#f41414"/><rect x="76.0" y="739.4" width="57.9" height="37.9" fill="#a080cc"/><rect x="76.0" y="739.4" width="57.9" height="37.9" filter="url(#heF2)"/><rect x="76.4" y="739.8" width="57.1" height="37.1" fill="none" stroke="#111" stroke-width="0.9"/><polygon points="101.5,765.6 98.5,762.9 101.9,761.6" fill="#f41414"/><polygon points="91.4,758.6 93.6,761.9 90.0,762.4" fill="#f41414"/><polygon points="113.9,774.9 110.2,773.6 112.9,771.0" fill="#f41414"/><polygon points="101.1,745.6 104.7,747.2 101.9,749.5" fill="#f41414"/><polygon points="84.0,754.5 80.1,753.5 82.6,750.8" fill="#f41414"/><polygon points="88.5,745.2 90.7,741.9 92.5,745.1" fill="#f41414"/><polygon points="102.8,772.2 100.2,769.1 103.7,768.3" fill="#f41414"/><polygon points="119.7,764.2 118.3,760.4 121.9,760.9" fill="#f41414"/><polygon points="97.2,771.8 94.0,774.3 93.3,770.6" fill="#f41414"/><polygon points="107.0,750.4 107.6,754.3 104.1,753.1" fill="#f41414"/><polygon points="102.2,756.6 101.7,752.6 105.1,753.8" fill="#f41414"/><polygon points="131.3,760.1 129.9,763.8 127.4,761.1" fill="#f41414"/><polygon points="81.3,773.5 78.6,770.5 82.2,769.6" fill="#f41414"/><polygon points="126.2,754.6 127.9,751.0 130.2,753.9" fill="#f41414"/><polygon points="116.9,751.4 116.2,755.4 113.3,753.2" fill="#f41414"/><polygon points="84.5,761.8 88.2,763.4 85.3,765.8" fill="#f41414"/><polygon points="117.6,746.4 113.6,745.8 115.8,742.9" fill="#f41414"/><polygon points="83.4,743.8 79.9,745.8 79.7,742.2" fill="#f41414"/><polygon points="94.3,755.0 91.7,752.0 95.3,751.1" fill="#f41414"/><polygon points="126.8,772.5 125.1,768.9 128.8,769.1" fill="#f41414"/><rect x="135.6" y="739.4" width="57.9" height="37.9" fill="#9a7aca"/><rect x="135.6" y="739.4" width="57.9" height="37.9" filter="url(#heF2)"/><rect x="136.0" y="739.8" width="57.1" height="37.1" fill="none" stroke="#111" stroke-width="0.9"/><polygon points="164.8,745.7 166.9,742.2 168.8,745.4" fill="#f41414"/><polygon points="153.4,773.5 151.5,770.0 155.2,769.9" fill="#f41414"/><polygon points="155.2,761.5 151.2,762.3 152.3,758.8" fill="#f41414"/><polygon points="175.2,758.1 174.1,754.2 177.7,754.9" fill="#f41414"/><polygon points="159.6,770.6 163.5,769.4 162.8,773.0" fill="#f41414"/><polygon points="157.0,747.0 153.8,749.4 153.2,745.8" fill="#f41414"/><polygon points="176.2,771.6 172.2,771.2 174.2,768.1" fill="#f41414"/><polygon points="152.7,753.7 149.0,752.2 151.8,749.8" fill="#f41414"/><polygon points="138.6,747.2 141.4,744.4 142.5,747.9" fill="#f41414"/><polygon points="182.3,749.9 182.4,745.9 185.7,747.7" fill="#f41414"/><polygon points="184.2,759.4 186.5,762.8 182.8,763.2" fill="#f41414"/><polygon points="185.8,754.0 189.6,752.6 189.1,756.3" fill="#f41414"/><polygon points="146.3,771.9 143.5,774.8 142.3,771.3" fill="#f41414"/><polygon points="176.3,758.9 180.3,759.3 178.3,762.4" fill="#f41414"/><polygon points="145.9,754.1 143.6,757.3 141.8,754.1" fill="#f41414"/><polygon points="142.2,760.4 145.4,758.0 146.0,761.6" fill="#f41414"/><polygon points="171.3,750.7 172.1,746.7 174.9,749.0" fill="#f41414"/><polygon points="165.4,754.3 165.1,750.3 168.5,751.7" fill="#f41414"/><rect x="195.2" y="739.4" width="57.9" height="37.9" fill="#9a7aca"/><rect x="195.2" y="739.4" width="57.9" height="37.9" filter="url(#heF2)"/><rect x="195.7" y="739.8" width="57.1" height="37.1" fill="none" stroke="#111" stroke-width="0.9"/><polygon points="206.0,774.7 202.7,772.5 205.9,770.7" fill="#f41414"/><polygon points="218.6,760.5 216.7,764.0 214.6,760.9" fill="#f41414"/><polygon points="235.3,754.3 238.8,756.3 235.7,758.3" fill="#f41414"/><polygon points="232.8,763.9 235.4,760.9 236.8,764.4" fill="#f41414"/><polygon points="225.3,753.2 223.7,756.9 221.4,754.1" fill="#f41414"/><polygon points="244.6,762.2 244.6,758.2 247.9,759.9" fill="#f41414"/><polygon points="223.9,747.0 227.3,749.1 224.2,751.0" fill="#f41414"/><polygon points="238.1,750.0 235.3,747.2 238.7,746.1" fill="#f41414"/><polygon points="210.7,772.7 213.2,769.5 214.7,772.8" fill="#f41414"/><polygon points="225.6,759.7 226.2,763.6 222.7,762.4" fill="#f41414"/><polygon points="249.6,766.7 247.5,770.1 245.6,767.0" fill="#f41414"/><polygon points="248.6,742.0 247.3,745.8 244.7,743.2" fill="#f41414"/><polygon points="212.7,755.9 214.1,752.2 216.6,754.9" fill="#f41414"/><polygon points="209.7,746.3 213.7,746.4 211.9,749.6" fill="#f41414"/><polygon points="223.2,773.2 222.9,769.2 226.3,770.7" fill="#f41414"/><polygon points="249.7,754.9 245.9,753.4 248.7,751.0" fill="#f41414"/><polygon points="228.5,769.3 232.0,767.3 232.1,771.0" fill="#f41414"/><polygon points="206.0,758.5 205.8,762.5 202.6,760.6" fill="#f41414"/><rect x="254.9" y="739.4" width="57.9" height="37.9" fill="#a080cc"/><rect x="254.9" y="739.4" width="57.9" height="37.9" filter="url(#heF2)"/><rect x="255.3" y="739.8" width="57.1" height="37.1" fill="none" stroke="#111" stroke-width="0.9"/><polygon points="288.6,752.3 285.8,755.2 284.6,751.7" fill="#f41414"/><polygon points="261.4,747.4 264.9,745.5 264.9,749.2" fill="#f41414"/><polygon points="305.5,769.4 302.0,771.4 301.9,767.7" fill="#f41414"/><polygon points="286.3,772.8 282.8,770.8 285.9,768.8" fill="#f41414"/><polygon points="296.7,743.8 296.1,747.8 293.1,745.7" fill="#f41414"/><polygon points="301.6,761.5 304.4,764.3 300.9,765.4" fill="#f41414"/><polygon points="303.3,750.4 300.9,747.2 304.6,746.6" fill="#f41414"/><polygon points="294.3,758.4 296.3,754.9 298.3,758.1" fill="#f41414"/><polygon points="303.8,750.6 302.1,754.3 299.8,751.4" fill="#f41414"/><polygon points="282.2,764.7 283.7,761.0 286.1,763.8" fill="#f41414"/><polygon points="270.1,760.7 273.0,757.9 274.1,761.4" fill="#f41414"/><polygon points="292.9,774.5 289.9,771.7 293.4,770.5" fill="#f41414"/><polygon points="273.6,746.0 272.1,749.7 269.7,746.9" fill="#f41414"/><polygon points="298.6,762.6 294.9,764.3 295.1,760.6" fill="#f41414"/><polygon points="267.7,768.0 271.7,767.4 270.5,770.9" fill="#f41414"/><polygon points="263.7,768.5 267.2,770.3 264.2,772.5" fill="#f41414"/><rect x="314.6" y="739.4" width="57.9" height="37.9" fill="#8868c2"/><rect x="314.6" y="739.4" width="57.9" height="37.9" filter="url(#heF)"/><rect x="314.9" y="739.8" width="57.1" height="37.1" fill="none" stroke="#111" stroke-width="0.9"/><polygon points="354.8,754.3 358.7,755.1 356.5,758.0" fill="#f41414"/><polygon points="350.2,752.2 346.4,753.4 347.0,749.7" fill="#f41414"/><polygon points="352.1,743.5 349.0,746.0 348.3,742.4" fill="#f41414"/><polygon points="338.5,752.3 342.2,750.8 341.9,754.5" fill="#f41414"/><polygon points="344.8,773.4 346.6,769.8 348.8,772.8" fill="#f41414"/><polygon points="363.7,742.1 364.4,746.0 360.9,744.9" fill="#f41414"/><polygon points="319.7,762.6 323.7,762.3 322.3,765.7" fill="#f41414"/><polygon points="321.4,747.6 324.9,745.5 325.1,749.2" fill="#f41414"/><polygon points="341.0,767.9 344.0,770.6 340.5,771.9" fill="#f41414"/><polygon points="335.5,753.1 331.5,753.3 333.0,749.9" fill="#f41414"/><polygon points="335.1,745.9 339.0,745.0 338.1,748.6" fill="#f41414"/><polygon points="327.1,749.0 329.2,745.5 331.1,748.7" fill="#f41414"/><polygon points="325.1,753.8 322.2,756.5 321.2,753.0" fill="#f41414"/><polygon points="369.4,769.5 367.1,772.8 365.4,769.5" fill="#f41414"/><polygon points="363.7,756.2 362.3,752.4 365.9,752.9" fill="#f41414"/><polygon points="330.2,773.0 333.4,770.6 334.0,774.2" fill="#f41414"/><polygon points="356.5,774.1 352.6,772.8 355.3,770.2" fill="#f41414"/><polygon points="357.0,763.5 359.5,760.4 361.0,763.7" fill="#f41414"/><polygon points="323.3,766.4 323.6,770.4 320.2,768.9" fill="#f41414"/><polygon points="332.8,760.9 331.0,764.5 328.8,761.5" fill="#f41414"/><text transform="translate(13.6,798.1) rotate(-90)" font-size="10.2" text-anchor="middle">28 days</text><rect x="16.3" y="780.4" width="57.9" height="37.9" fill="#8664c0"/><rect x="16.3" y="780.4" width="57.9" height="37.9" filter="url(#heF)"/><rect x="16.7" y="780.8" width="57.1" height="37.1" fill="none" stroke="#111" stroke-width="0.9"/><polygon points="45.3,797.6 42.3,794.9 45.7,793.6" fill="#f41414"/><rect x="76.0" y="780.4" width="57.9" height="37.9" fill="#9a7aca"/><rect x="76.0" y="780.4" width="57.9" height="37.9" filter="url(#heF2)"/><rect x="76.4" y="780.8" width="57.1" height="37.1" fill="none" stroke="#111" stroke-width="0.9"/><polygon points="93.1,807.5 94.3,811.3 90.7,810.7" fill="#f41414"/><polygon points="105.8,791.7 102.8,789.0 106.3,787.7" fill="#f41414"/><polygon points="109.5,812.3 105.5,811.8 107.6,808.8" fill="#f41414"/><polygon points="129.2,788.6 127.6,792.3 125.2,789.5" fill="#f41414"/><polygon points="109.3,797.7 105.6,796.3 108.3,793.8" fill="#f41414"/><polygon points="128.8,813.7 124.8,813.4 126.7,810.3" fill="#f41414"/><polygon points="83.1,801.3 84.6,797.5 87.0,800.3" fill="#f41414"/><polygon points="115.6,811.2 118.2,808.1 119.6,811.5" fill="#f41414"/><polygon points="94.8,785.7 92.2,788.7 90.8,785.3" fill="#f41414"/><polygon points="113.2,799.3 117.1,798.5 116.1,802.1" fill="#f41414"/><polygon points="122.3,800.0 125.1,802.9 121.6,804.0" fill="#f41414"/><polygon points="85.8,811.2 83.0,808.4 86.5,807.3" fill="#f41414"/><polygon points="90.5,798.3 94.3,799.6 91.6,802.2" fill="#f41414"/><polygon points="87.7,784.1 88.4,788.0 84.9,786.9" fill="#f41414"/><rect x="135.6" y="780.4" width="57.9" height="37.9" fill="#9676c8"/><rect x="135.6" y="780.4" width="57.9" height="37.9" filter="url(#heF2)"/><rect x="136.0" y="780.8" width="57.1" height="37.1" fill="none" stroke="#111" stroke-width="0.9"/><polygon points="189.2,810.5 185.3,811.4 186.2,807.8" fill="#f41414"/><polygon points="167.5,793.0 164.6,790.2 168.1,789.1" fill="#f41414"/><polygon points="183.0,803.7 184.9,800.2 186.9,803.3" fill="#f41414"/><polygon points="143.3,809.6 144.2,805.7 147.0,808.0" fill="#f41414"/><polygon points="152.9,798.7 154.0,794.9 156.6,797.4" fill="#f41414"/><polygon points="170.1,796.6 167.9,799.9 166.1,796.6" fill="#f41414"/><polygon points="144.7,787.8 148.6,788.5 146.4,791.4" fill="#f41414"/><polygon points="169.8,812.7 165.8,812.3 167.9,809.2" fill="#f41414"/><polygon points="154.9,804.6 155.7,808.5 152.2,807.5" fill="#f41414"/><polygon points="181.9,790.4 181.8,786.4 185.1,788.0" fill="#f41414"/><polygon points="158.9,787.8 154.9,787.6 156.8,784.4" fill="#f41414"/><polygon points="145.3,798.2 144.9,802.2 141.8,800.2" fill="#f41414"/><rect x="195.2" y="780.4" width="57.9" height="37.9" fill="#9676c8"/><rect x="195.2" y="780.4" width="57.9" height="37.9" filter="url(#heF2)"/><rect x="195.7" y="780.8" width="57.1" height="37.1" fill="none" stroke="#111" stroke-width="0.9"/><polygon points="210.1,798.6 206.5,800.5 206.5,796.8" fill="#f41414"/><polygon points="232.7,810.9 236.4,812.5 233.5,814.8" fill="#f41414"/><polygon points="218.7,799.0 221.6,801.8 218.1,802.9" fill="#f41414"/><polygon points="207.3,785.5 208.9,789.2 205.2,788.9" fill="#f41414"/><polygon points="235.2,795.8 231.9,798.1 231.4,794.5" fill="#f41414"/><polygon points="205.8,810.1 202.0,811.4 202.5,807.8" fill="#f41414"/><polygon points="237.3,807.3 241.2,808.2 238.8,811.0" fill="#f41414"/><polygon points="218.8,808.4 220.9,811.8 217.2,812.1" fill="#f41414"/><polygon points="215.2,794.5 213.5,790.9 217.2,791.0" fill="#f41414"/><polygon points="243.1,789.0 245.0,785.4 247.1,788.4" fill="#f41414"/><polygon points="234.5,790.0 230.6,790.7 231.7,787.2" fill="#f41414"/><polygon points="244.8,800.9 241.9,798.1 245.3,796.9" fill="#f41414"/><rect x="254.9" y="780.4" width="57.9" height="37.9" fill="#9a7aca"/><rect x="254.9" y="780.4" width="57.9" height="37.9" filter="url(#heF2)"/><rect x="255.3" y="780.8" width="57.1" height="37.1" fill="none" stroke="#111" stroke-width="0.9"/><polygon points="302.2,790.1 306.2,789.7 304.9,793.1" fill="#f41414"/><polygon points="298.9,802.5 297.9,798.7 301.5,799.4" fill="#f41414"/><polygon points="279.2,804.2 281.7,807.2 278.1,808.0" fill="#f41414"/><polygon points="280.6,788.6 279.8,784.6 283.3,785.7" fill="#f41414"/><polygon points="292.6,797.1 288.9,798.6 289.2,795.0" fill="#f41414"/><polygon points="303.4,813.3 301.4,809.8 305.1,809.7" fill="#f41414"/><polygon points="262.8,814.0 258.9,814.8 259.8,811.2" fill="#f41414"/><polygon points="291.0,812.3 287.5,810.3 290.6,808.3" fill="#f41414"/><polygon points="278.3,795.9 280.1,799.5 276.4,799.4" fill="#f41414"/><polygon points="260.5,802.1 262.1,798.4 264.4,801.2" fill="#f41414"/><rect x="314.6" y="780.4" width="57.9" height="37.9" fill="#7e60bc"/><rect x="314.6" y="780.4" width="57.9" height="37.9" filter="url(#heF)"/><rect x="314.9" y="780.8" width="57.1" height="37.1" fill="none" stroke="#111" stroke-width="0.9"/><polygon points="360.3,805.7 356.4,806.3 357.5,802.8" fill="#f41414"/><text x="354" y="770" font-size="10" text-anchor="middle" style="fill:#fff">50 μm</text><text x="354" y="811" font-size="10" text-anchor="middle" style="fill:#fff">50 μm</text><text x="0" y="835.4" font-size="18.5">L</text><text x="195.8" y="829.2" font-size="10.2" text-anchor="middle">Wright-Giemsa staining</text><rect x="15.5" y="831" width="357.8" height="1.4" fill="#111"/><rect x="15.5" y="832.4" width="357.8" height="0.8" fill="#aaa"/><rect x="15.3" y="835.2" width="358" height="79.2" fill="#8a8a8a"/><text transform="translate(13.6,853.3) rotate(-90)" font-size="10.2" text-anchor="middle">14 days</text><rect x="16.3" y="835.4" width="57.9" height="38.3" fill="#c6deee"/><rect x="16.3" y="835.4" width="57.9" height="38.3" filter="url(#wgF2)"/><rect x="16.7" y="835.8" width="57.1" height="37.5" fill="none" stroke="#111" stroke-width="0.9"/><rect x="76.0" y="835.4" width="57.9" height="38.3" fill="#84b6e2"/><rect x="76.0" y="835.4" width="57.9" height="38.3" filter="url(#wgF)"/><rect x="76.4" y="835.8" width="57.1" height="37.5" fill="none" stroke="#111" stroke-width="0.9"/><polygon points="86.4,852.0 87.5,848.2 90.2,850.7" fill="#f41414"/><polygon points="119.2,856.3 122.7,858.2 119.7,860.3" fill="#f41414"/><polygon points="113.6,858.9 110.2,861.0 109.9,857.3" fill="#f41414"/><polygon points="125.6,854.3 125.6,850.3 128.8,852.0" fill="#f41414"/><polygon points="117.5,852.6 121.5,851.9 120.4,855.4" fill="#f41414"/><polygon points="129.4,857.4 131.4,860.9 127.7,861.0" fill="#f41414"/><polygon points="105.7,839.1 103.5,842.4 101.7,839.1" fill="#f41414"/><polygon points="119.5,845.1 121.9,841.9 123.5,845.2" fill="#f41414"/><polygon points="89.0,859.6 90.1,855.8 92.8,858.3" fill="#f41414"/><polygon points="83.5,844.9 79.5,844.4 81.7,841.4" fill="#f41414"/><polygon points="114.4,865.4 113.2,869.2 110.6,866.6" fill="#f41414"/><polygon points="100.4,869.3 96.4,869.2 98.1,866.0" fill="#f41414"/><polygon points="98.0,850.3 94.0,850.2 95.9,847.0" fill="#f41414"/><polygon points="112.5,851.9 116.5,851.6 115.1,855.0" fill="#f41414"/><polygon points="126.6,864.3 130.0,862.1 130.3,865.8" fill="#f41414"/><polygon points="86.8,838.8 89.9,841.4 86.5,842.8" fill="#f41414"/><polygon points="103.8,861.7 103.1,857.7 106.6,858.8" fill="#f41414"/><polygon points="81.0,864.4 82.2,868.2 78.6,867.7" fill="#f41414"/><polygon points="112.3,841.2 108.3,841.2 110.0,838.0" fill="#f41414"/><polygon points="84.1,853.2 81.5,850.2 85.1,849.3" fill="#f41414"/><polygon points="126.5,839.6 129.9,841.7 126.8,843.6" fill="#f41414"/><polygon points="99.6,842.0 95.5,841.9 97.4,838.7" fill="#f41414"/><polygon points="103.3,870.4 102.7,866.4 106.2,867.7" fill="#f41414"/><polygon points="106.3,845.6 108.6,848.9 105.0,849.4" fill="#f41414"/><polygon points="87.2,866.1 90.2,868.8 86.7,870.0" fill="#f41414"/><polygon points="82.8,862.6 81.7,858.7 85.3,859.4" fill="#f41414"/><polygon points="97.6,860.1 93.9,858.5 96.8,856.2" fill="#f41414"/><polygon points="116.9,870.4 117.7,866.4 120.6,868.7" fill="#f41414"/><rect x="135.6" y="835.4" width="57.9" height="38.3" fill="#86b8e4"/><rect x="135.6" y="835.4" width="57.9" height="38.3" filter="url(#wgF)"/><rect x="136.0" y="835.8" width="57.1" height="37.5" fill="none" stroke="#111" stroke-width="0.9"/><polygon points="154.2,852.4 154.8,856.3 151.3,855.2" fill="#f41414"/><polygon points="168.7,856.0 171.0,852.7 172.7,856.0" fill="#f41414"/><polygon points="156.1,863.4 158.3,860.1 160.1,863.3" fill="#f41414"/><polygon points="146.7,868.5 143.1,866.8 146.0,864.5" fill="#f41414"/><polygon points="165.8,839.2 167.9,842.7 164.2,842.9" fill="#f41414"/><polygon points="145.7,854.7 142.2,856.8 142.0,853.1" fill="#f41414"/><polygon points="144.0,844.1 145.2,840.3 147.8,842.9" fill="#f41414"/><polygon points="163.3,854.8 159.9,852.6 163.1,850.7" fill="#f41414"/><polygon points="152.6,845.3 149.8,842.4 153.3,841.4" fill="#f41414"/><polygon points="138.2,847.3 140.5,844.1 142.2,847.4" fill="#f41414"/><polygon points="178.3,871.7 177.5,867.8 181.0,868.7" fill="#f41414"/><polygon points="177.5,841.8 174.3,844.2 173.6,840.6" fill="#f41414"/><polygon points="186.3,856.6 182.4,857.0 183.7,853.6" fill="#f41414"/><polygon points="151.6,849.3 151.1,845.3 154.6,846.6" fill="#f41414"/><polygon points="186.4,850.9 182.5,850.0 184.9,847.2" fill="#f41414"/><polygon points="184.8,840.8 188.4,842.6 185.5,844.8" fill="#f41414"/><polygon points="177.3,844.9 178.5,848.7 174.9,848.1" fill="#f41414"/><polygon points="155.5,870.5 152.3,868.1 155.6,866.5" fill="#f41414"/><polygon points="171.1,849.2 167.2,849.6 168.6,846.2" fill="#f41414"/><polygon points="185.1,869.1 188.1,866.4 189.0,869.9" fill="#f41414"/><polygon points="151.9,859.3 155.9,859.5 154.1,862.7" fill="#f41414"/><polygon points="173.0,866.9 171.0,870.3 169.0,867.3" fill="#f41414"/><polygon points="173.5,863.0 169.6,863.9 170.4,860.4" fill="#f41414"/><polygon points="164.2,870.8 160.3,870.0 162.6,867.1" fill="#f41414"/><polygon points="181.3,857.5 178.2,854.9 181.6,853.5" fill="#f41414"/><polygon points="186.8,864.4 184.3,861.3 187.9,860.5" fill="#f41414"/><rect x="195.2" y="835.4" width="57.9" height="38.3" fill="#84b6e2"/><rect x="195.2" y="835.4" width="57.9" height="38.3" filter="url(#wgF)"/><rect x="195.7" y="835.8" width="57.1" height="37.5" fill="none" stroke="#111" stroke-width="0.9"/><polygon points="249.8,840.8 245.8,840.8 247.4,837.5" fill="#f41414"/><polygon points="206.7,858.3 203.0,856.7 205.9,854.3" fill="#f41414"/><polygon points="220.9,860.7 224.3,862.9 221.1,864.7" fill="#f41414"/><polygon points="201.1,864.1 204.4,866.4 201.1,868.1" fill="#f41414"/><polygon points="228.0,853.7 229.9,857.3 226.2,857.4" fill="#f41414"/><polygon points="202.6,840.4 203.6,844.3 200.0,843.5" fill="#f41414"/><polygon points="219.5,851.7 215.7,850.5 218.2,847.9" fill="#f41414"/><polygon points="202.1,860.2 204.8,857.3 206.1,860.7" fill="#f41414"/><polygon points="248.9,853.2 248.0,857.1 245.2,854.7" fill="#f41414"/><polygon points="202.1,843.6 204.7,846.7 201.1,847.5" fill="#f41414"/><polygon points="235.1,866.4 238.4,864.0 238.9,867.7" fill="#f41414"/><polygon points="217.4,845.9 216.6,842.0 220.1,843.0" fill="#f41414"/><polygon points="228.3,861.0 224.4,860.0 226.8,857.2" fill="#f41414"/><polygon points="210.7,846.1 212.0,849.9 208.4,849.4" fill="#f41414"/><polygon points="238.9,860.8 238.1,864.7 235.2,862.5" fill="#f41414"/><polygon points="239.7,837.7 239.3,841.7 236.2,839.6" fill="#f41414"/><polygon points="246.8,845.8 249.3,849.0 245.7,849.7" fill="#f41414"/><polygon points="213.3,863.8 211.5,867.4 209.3,864.4" fill="#f41414"/><polygon points="236.7,848.7 233.2,846.9 236.2,844.8" fill="#f41414"/><polygon points="219.2,854.0 223.0,855.3 220.4,857.9" fill="#f41414"/><polygon points="213.2,858.0 210.6,861.0 209.2,857.6" fill="#f41414"/><polygon points="210.7,839.1 212.5,842.7 208.9,842.7" fill="#f41414"/><polygon points="225.0,868.8 222.1,871.6 221.0,868.1" fill="#f41414"/><polygon points="244.8,864.5 246.5,868.2 242.8,868.1" fill="#f41414"/><polygon points="226.5,849.5 230.5,849.0 229.2,852.4" fill="#f41414"/><polygon points="249.0,860.4 245.0,860.1 246.9,856.9" fill="#f41414"/><rect x="254.9" y="835.4" width="57.9" height="38.3" fill="#86b8e4"/><rect x="254.9" y="835.4" width="57.9" height="38.3" filter="url(#wgF)"/><rect x="255.3" y="835.8" width="57.1" height="37.5" fill="none" stroke="#111" stroke-width="0.9"/><polygon points="287.8,858.8 284.0,860.0 284.6,856.4" fill="#f41414"/><polygon points="305.4,838.1 308.8,840.1 305.7,842.1" fill="#f41414"/><polygon points="259.8,842.7 261.0,846.5 257.4,845.9" fill="#f41414"/><polygon points="272.1,845.9 268.4,844.4 271.2,842.0" fill="#f41414"/><polygon points="293.4,852.7 296.7,850.4 297.2,854.0" fill="#f41414"/><polygon points="305.9,849.7 308.1,846.3 309.9,849.5" fill="#f41414"/><polygon points="267.8,850.7 268.0,846.7 271.2,848.5" fill="#f41414"/><polygon points="300.1,859.9 296.1,859.5 298.1,856.4" fill="#f41414"/><polygon points="301.1,841.3 300.0,845.2 297.3,842.6" fill="#f41414"/><polygon points="263.3,861.7 261.9,858.0 265.5,858.4" fill="#f41414"/><polygon points="280.3,866.6 278.9,870.4 276.4,867.6" fill="#f41414"/><polygon points="258.3,854.0 261.1,851.2 262.2,854.7" fill="#f41414"/><polygon points="305.3,854.8 307.6,858.1 304.0,858.5" fill="#f41414"/><polygon points="286.5,851.9 284.4,848.5 288.0,848.2" fill="#f41414"/><polygon points="268.3,865.9 272.3,865.8 270.7,869.1" fill="#f41414"/><polygon points="292.6,865.0 296.6,864.3 295.5,867.8" fill="#f41414"/><polygon points="289.2,865.4 285.2,865.7 286.7,862.3" fill="#f41414"/><polygon points="283.0,839.8 280.8,843.2 279.0,840.0" fill="#f41414"/><polygon points="281.0,851.6 277.6,849.3 280.8,847.5" fill="#f41414"/><polygon points="277.8,856.7 279.8,860.2 276.1,860.3" fill="#f41414"/><polygon points="264.3,865.6 262.6,869.2 260.3,866.3" fill="#f41414"/><polygon points="285.1,847.0 285.3,843.0 288.5,844.9" fill="#f41414"/><polygon points="310.0,869.8 306.4,868.1 309.3,865.9" fill="#f41414"/><polygon points="275.8,858.0 273.3,861.1 271.8,857.7" fill="#f41414"/><rect x="314.6" y="835.4" width="57.9" height="38.3" fill="#bcd6ec"/><rect x="314.6" y="835.4" width="57.9" height="38.3" filter="url(#wgF2)"/><rect x="314.9" y="835.8" width="57.1" height="37.5" fill="none" stroke="#111" stroke-width="0.9"/><text transform="translate(13.6,893.8) rotate(-90)" font-size="10.2" text-anchor="middle">28 days</text><rect x="16.3" y="875.9" width="57.9" height="38.3" fill="#aecdec"/><rect x="16.3" y="875.9" width="57.9" height="38.3" filter="url(#wgF2)"/><rect x="16.7" y="876.3" width="57.1" height="37.5" fill="none" stroke="#111" stroke-width="0.9"/><rect x="76.0" y="875.9" width="57.9" height="38.3" fill="#80b2e0"/><rect x="76.0" y="875.9" width="57.9" height="38.3" filter="url(#wgF)"/><rect x="76.4" y="876.3" width="57.1" height="37.5" fill="none" stroke="#111" stroke-width="0.9"/><polygon points="110.5,897.5 111.4,901.4 107.9,900.5" fill="#f41414"/><polygon points="95.4,879.3 94.0,883.1 91.5,880.4" fill="#f41414"/><polygon points="84.5,902.8 83.3,906.6 80.7,904.0" fill="#f41414"/><polygon points="100.8,899.4 98.9,895.9 102.5,895.8" fill="#f41414"/><polygon points="118.7,888.0 118.2,892.0 115.2,889.9" fill="#f41414"/><polygon points="107.1,908.2 105.1,904.7 108.8,904.6" fill="#f41414"/><polygon points="113.6,886.7 112.4,890.5 109.8,888.0" fill="#f41414"/><polygon points="87.5,899.9 84.3,902.3 83.6,898.7" fill="#f41414"/><polygon points="91.2,898.9 94.4,896.6 95.0,900.2" fill="#f41414"/><polygon points="128.5,906.5 124.5,905.7 126.8,902.8" fill="#f41414"/><polygon points="119.0,908.1 117.0,911.5 115.1,908.4" fill="#f41414"/><polygon points="83.4,890.7 87.3,889.9 86.3,893.4" fill="#f41414"/><polygon points="107.3,879.6 110.8,881.6 107.7,883.6" fill="#f41414"/><polygon points="105.3,881.8 102.6,884.8 101.3,881.4" fill="#f41414"/><polygon points="130.8,898.4 129.5,902.2 126.9,899.6" fill="#f41414"/><polygon points="122.3,880.8 118.8,882.6 118.8,878.9" fill="#f41414"/><polygon points="89.3,891.0 91.5,894.3 87.9,894.8" fill="#f41414"/><polygon points="127.2,881.2 126.1,885.1 123.4,882.6" fill="#f41414"/><polygon points="115.7,898.2 116.8,894.4 119.5,896.9" fill="#f41414"/><polygon points="92.0,905.3 95.9,904.5 94.9,908.1" fill="#f41414"/><polygon points="99.0,905.8 103.0,905.5 101.5,908.9" fill="#f41414"/><polygon points="127.1,892.1 123.7,890.0 126.8,888.1" fill="#f41414"/><rect x="135.6" y="875.9" width="57.9" height="38.3" fill="#82b4e2"/><rect x="135.6" y="875.9" width="57.9" height="38.3" filter="url(#wgF)"/><rect x="136.0" y="876.3" width="57.1" height="37.5" fill="none" stroke="#111" stroke-width="0.9"/><polygon points="153.2,886.4 149.2,886.3 150.9,883.0" fill="#f41414"/><polygon points="177.6,909.0 175.2,905.8 178.9,905.2" fill="#f41414"/><polygon points="152.3,893.8 151.8,889.9 155.2,891.1" fill="#f41414"/><polygon points="160.6,894.0 163.3,897.0 159.7,897.9" fill="#f41414"/><polygon points="157.9,900.4 155.0,897.6 158.5,896.4" fill="#f41414"/><polygon points="165.6,911.9 162.4,909.4 165.8,907.9" fill="#f41414"/><polygon points="189.0,909.5 186.8,906.1 190.5,905.8" fill="#f41414"/><polygon points="140.4,879.6 143.8,881.7 140.6,883.6" fill="#f41414"/><polygon points="157.9,907.0 158.8,910.9 155.2,910.0" fill="#f41414"/><polygon points="160.6,894.7 161.8,890.9 164.4,893.4" fill="#f41414"/><polygon points="172.6,896.8 176.0,898.9 172.9,900.8" fill="#f41414"/><polygon points="143.3,891.5 141.8,895.2 139.4,892.5" fill="#f41414"/><polygon points="186.8,879.9 190.8,880.3 188.8,883.4" fill="#f41414"/><polygon points="176.2,883.7 173.9,880.4 177.6,879.9" fill="#f41414"/><polygon points="166.5,882.8 165.9,878.8 169.4,880.0" fill="#f41414"/><polygon points="184.7,891.2 182.3,894.4 180.7,891.1" fill="#f41414"/><polygon points="141.2,899.2 144.6,901.4 141.4,903.2" fill="#f41414"/><polygon points="146.1,910.8 144.8,907.0 148.5,907.6" fill="#f41414"/><polygon points="181.1,898.3 184.8,899.8 181.9,902.2" fill="#f41414"/><polygon points="180.2,892.0 176.2,891.7 178.2,888.6" fill="#f41414"/><rect x="195.2" y="875.9" width="57.9" height="38.3" fill="#80b2e0"/><rect x="195.2" y="875.9" width="57.9" height="38.3" filter="url(#wgF)"/><rect x="195.7" y="876.3" width="57.1" height="37.5" fill="none" stroke="#111" stroke-width="0.9"/><polygon points="213.2,889.1 215.9,886.3 217.1,889.8" fill="#f41414"/><polygon points="207.4,903.5 206.0,907.3 203.5,904.6" fill="#f41414"/><polygon points="246.7,902.0 246.7,898.0 250.0,899.7" fill="#f41414"/><polygon points="235.7,881.8 239.6,882.7 237.3,885.5" fill="#f41414"/><polygon points="218.6,899.7 222.6,900.5 220.3,903.4" fill="#f41414"/><polygon points="242.6,886.2 243.1,890.2 239.7,888.9" fill="#f41414"/><polygon points="213.3,909.4 216.9,907.7 216.9,911.3" fill="#f41414"/><polygon points="232.9,904.6 235.3,907.8 231.6,908.4" fill="#f41414"/><polygon points="212.0,895.9 211.2,899.9 208.3,897.6" fill="#f41414"/><polygon points="229.0,908.4 225.2,909.5 225.9,905.9" fill="#f41414"/><polygon points="229.6,886.0 225.7,885.0 228.1,882.2" fill="#f41414"/><polygon points="215.1,885.7 211.9,883.3 215.2,881.7" fill="#f41414"/><polygon points="235.0,886.9 238.6,888.5 235.8,890.8" fill="#f41414"/><polygon points="221.5,890.8 225.5,890.9 223.8,894.1" fill="#f41414"/><polygon points="203.3,879.1 205.8,882.3 202.2,882.9" fill="#f41414"/><polygon points="203.2,890.5 207.1,891.7 204.5,894.3" fill="#f41414"/><polygon points="245.6,908.2 241.6,908.8 242.8,905.3" fill="#f41414"/><polygon points="245.3,884.7 247.6,881.4 249.3,884.7" fill="#f41414"/><polygon points="232.0,895.1 234.9,897.8 231.5,899.0" fill="#f41414"/><polygon points="207.9,894.3 208.1,898.3 204.7,896.7" fill="#f41414"/><rect x="254.9" y="875.9" width="57.9" height="38.3" fill="#82b4e2"/><rect x="254.9" y="875.9" width="57.9" height="38.3" filter="url(#wgF)"/><rect x="255.3" y="876.3" width="57.1" height="37.5" fill="none" stroke="#111" stroke-width="0.9"/><polygon points="266.8,892.4 264.5,895.7 262.8,892.5" fill="#f41414"/><polygon points="303.0,902.8 299.8,900.4 303.1,898.8" fill="#f41414"/><polygon points="296.5,887.0 295.7,890.9 292.9,888.6" fill="#f41414"/><polygon points="298.3,898.2 295.8,901.3 294.3,897.9" fill="#f41414"/><polygon points="308.7,890.6 306.1,887.6 309.7,886.7" fill="#f41414"/><polygon points="291.8,884.8 293.1,881.0 295.6,883.7" fill="#f41414"/><polygon points="283.3,908.2 279.3,908.9 280.4,905.4" fill="#f41414"/><polygon points="260.7,886.6 262.9,883.3 264.7,886.5" fill="#f41414"/><polygon points="287.3,902.6 285.4,899.1 289.1,899.0" fill="#f41414"/><polygon points="286.1,891.3 286.9,895.2 283.4,894.2" fill="#f41414"/><polygon points="275.1,903.6 275.7,907.6 272.2,906.4" fill="#f41414"/><polygon points="299.4,909.5 302.7,907.2 303.1,910.9" fill="#f41414"/><polygon points="260.5,906.3 262.3,902.7 264.4,905.7" fill="#f41414"/><polygon points="269.4,880.5 273.4,880.9 271.4,884.0" fill="#f41414"/><polygon points="276.9,899.0 278.5,902.6 274.8,902.4" fill="#f41414"/><polygon points="269.0,889.5 272.2,887.1 272.8,890.7" fill="#f41414"/><polygon points="261.2,902.0 264.7,900.0 264.9,903.7" fill="#f41414"/><polygon points="294.2,905.8 298.0,907.0 295.4,909.6" fill="#f41414"/><polygon points="287.9,887.4 284.7,884.9 288.1,883.4" fill="#f41414"/><rect x="314.6" y="875.9" width="57.9" height="38.3" fill="#aacaea"/><rect x="314.6" y="875.9" width="57.9" height="38.3" filter="url(#wgF2)"/><rect x="314.9" y="876.3" width="57.1" height="37.5" fill="none" stroke="#111" stroke-width="0.9"/><text x="352.5" y="865.6" font-size="10.3" text-anchor="middle">50 μm</text><rect x="349.5" y="869.2" width="9.7" height="1.4" fill="#111"/><text x="352.5" y="906.2" font-size="10.3" text-anchor="middle">50 μm</text><rect x="349.5" y="909.8" width="9.7" height="1.4" fill="#111"/>
</svg></body></html>
